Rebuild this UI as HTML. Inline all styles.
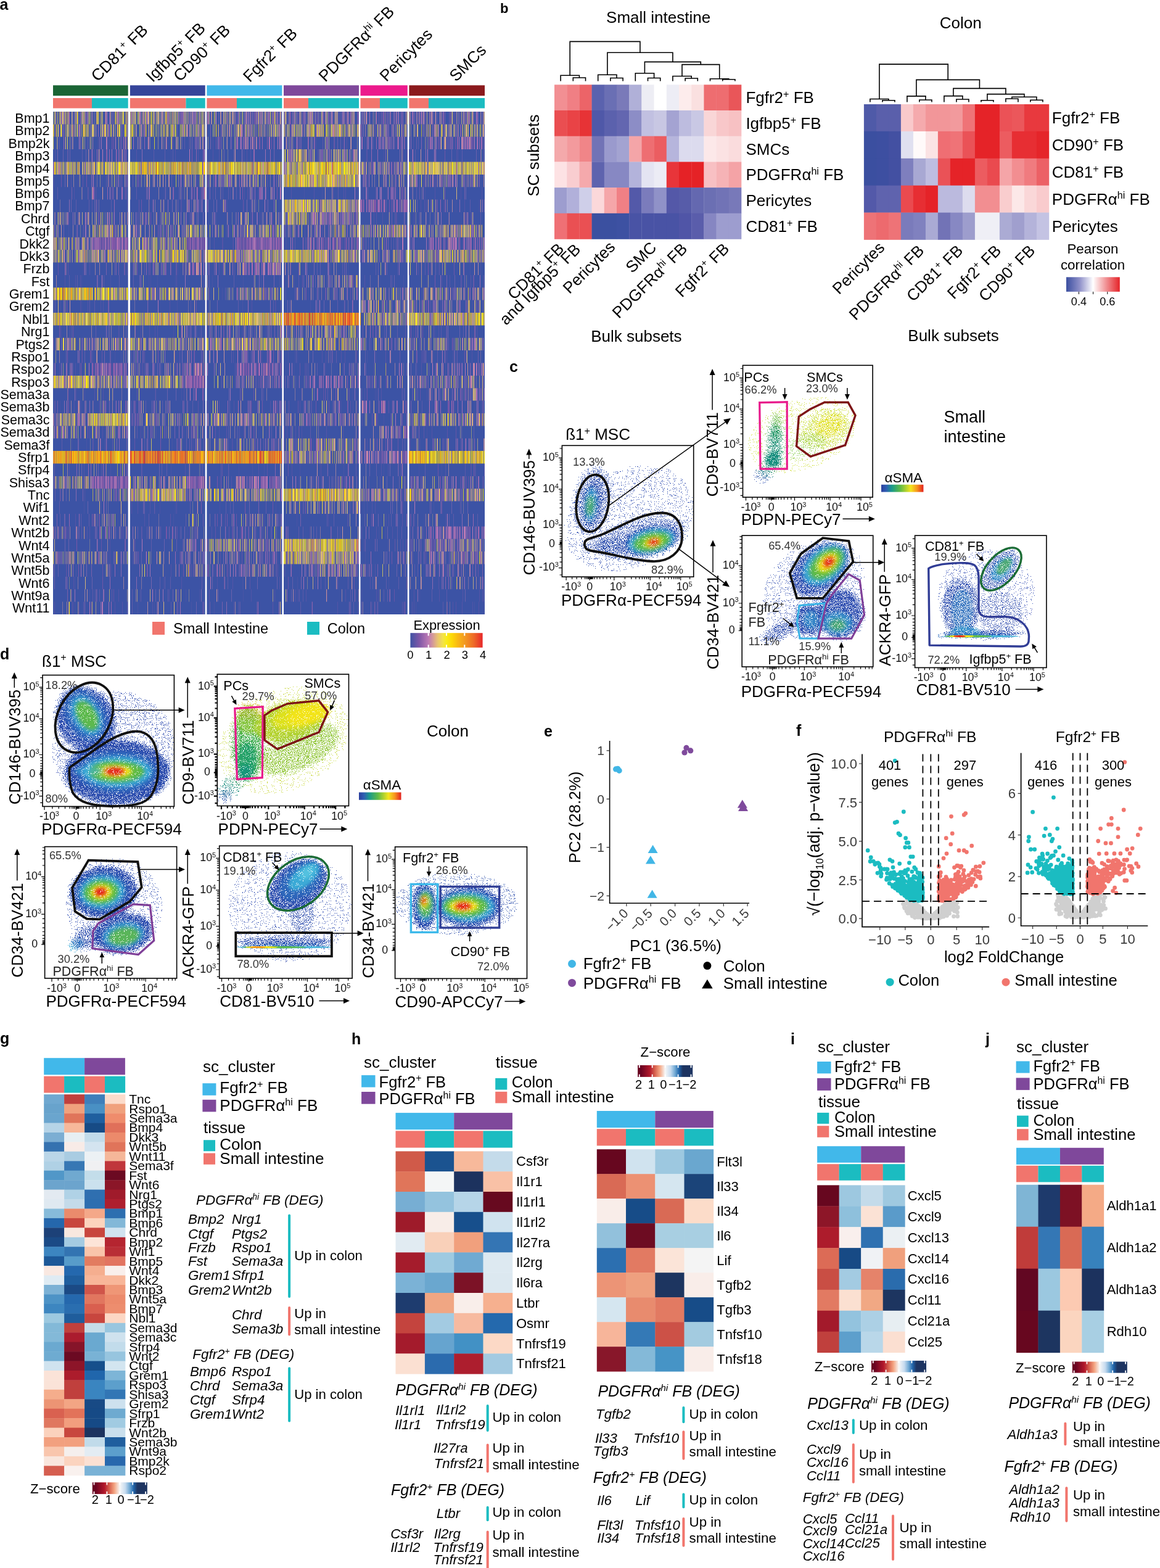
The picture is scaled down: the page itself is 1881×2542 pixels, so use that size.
<!DOCTYPE html><html><head><meta charset="utf-8"><title>Figure</title><style>html,body{margin:0;padding:0;background:#fff;overflow:hidden;width:1881px;height:2542px;}svg{display:block;}</style></head><body><svg width="1881" height="2542" viewBox="0 0 1881 2542" font-family="&apos;Liberation Sans&apos;, Arial, Helvetica, sans-serif"><rect width="1881" height="2542" fill="#fff"/><g id="panel_a"><text x="-0.5" y="15.5" font-size="25.0" font-weight="bold">a</text>
<rect x="86.0" y="138.3" width="121.7" height="16.9" fill="#1b6535"/>
<rect x="86.0" y="159.0" width="63.0" height="16.5" fill="#f1756d"/>
<rect x="149.0" y="159.0" width="58.7" height="16.5" fill="#1bbcc1"/>
<rect x="86.0" y="181.0" width="121.7" height="815.0" fill="#3c53a5"/>
<rect x="210.9" y="138.3" width="121.8" height="16.9" fill="#36459a"/>
<rect x="210.9" y="159.0" width="90.6" height="16.5" fill="#f1756d"/>
<rect x="301.5" y="159.0" width="31.2" height="16.5" fill="#1bbcc1"/>
<rect x="210.9" y="181.0" width="121.8" height="815.0" fill="#3c53a5"/>
<rect x="335.4" y="138.3" width="122.0" height="16.9" fill="#41b8ea"/>
<rect x="335.4" y="159.0" width="48.6" height="16.5" fill="#f1756d"/>
<rect x="384.0" y="159.0" width="73.4" height="16.5" fill="#1bbcc1"/>
<rect x="335.4" y="181.0" width="122.0" height="815.0" fill="#3c53a5"/>
<rect x="460.0" y="138.3" width="122.0" height="16.9" fill="#7f489b"/>
<rect x="460.0" y="159.0" width="40.0" height="16.5" fill="#f1756d"/>
<rect x="500.0" y="159.0" width="82.0" height="16.5" fill="#1bbcc1"/>
<rect x="460.0" y="181.0" width="122.0" height="815.0" fill="#3c53a5"/>
<rect x="584.5" y="138.3" width="76.3" height="16.9" fill="#ec1a8c"/>
<rect x="584.5" y="159.0" width="31.5" height="16.5" fill="#f1756d"/>
<rect x="616.0" y="159.0" width="44.8" height="16.5" fill="#1bbcc1"/>
<rect x="584.5" y="181.0" width="76.3" height="815.0" fill="#3c53a5"/>
<rect x="663.4" y="138.3" width="122.6" height="16.9" fill="#8b1a1d"/>
<rect x="663.4" y="159.0" width="31.6" height="16.5" fill="#f1756d"/>
<rect x="695.0" y="159.0" width="91.0" height="16.5" fill="#1bbcc1"/>
<rect x="663.4" y="181.0" width="122.6" height="815.0" fill="#3c53a5"/>
<path stroke="#4854a5" stroke-width="20.38" d="M243 191.2h1m212 0h1m180 0h1m89 0h2m41 0h1M131 211.6h1m15 0h1m12 0h1m86 0h1m189 0h1m41 0h1m12 0h1m4 0h1m29 0h1m49 0h1m21 0h1m7 0h1m20 0h1m9 0h1m146 0h1M185 231.9h1m19 0h1m15 0h1m83 0h1m168 0h1m37 0h1m121 0h1m29 0h1m114 0h1M207 252.3h1m69 0h1m52 0h1m31 0h1m82 0h1m53 0h1m122 0h1m66 0h1M135 272.7h1m18 0h1m442 0h1m21 0h1M165 293.1h1m60 0h1m81 0h1m12 0h2m342 0h1m33 0h1M86 313.4h1m114 0h1m34 0h1m29 0h1m26 0h1m3 0h2m143 0h1m50 0h1m28 0h1m62 0h1m24 0h1m16 0h2m60 0h1M395 333.8h1m121 0h1m86 0h1m84 0h1m13 0h1m9 0h1m25 0h1M242 354.2h1m28 0h1m296 0h1m75 0h1m28 0h1M111 374.6h1m22 0h1m8 0h1m107 0h1m105 0h1m24 0h1m57 0h1m38 0h1m44 0h1m19 0h1m199 0h1m1 0h1M96 394.9h1m280 0h1m86 0h1m28 0h1m282 0h1m1 0h1m2 0h1M126 415.3h1m290 0h1m1 0h1m89 0h1m222 0h1m7 0h1M288 435.7h1m62 0h1m58 0h1m153 0h1m145 0h1m51 0h1m16 0h1M132 456.1h1m46 0h1m61 0h1m2 0h1m10 0h1m28 0h1m59 0h1m49 0h1m28 0h1m29 0h1m200 0h1m37 0h1M321 476.4h1m38 0h1m22 0h1m79 0h1m28 0h1m7 0h1m90 0h1m36 0h1m53 0h1M87 496.8h1m9 0h1m34 0h1m107 0h1m46 0h1m105 0h1m53 0h1m55 0h1m9 0h1m137 0h1m49 0h1m12 0h1m51 0h1M587 517.2h1m109 0h1m33 0h1m26 0h1M119 537.6h1m73 0h1m87 0h1m42 0h1m106 0h2m58 0h1m58 0h1m114 0h1m4 0h1m13 0h1m20 0h1M126 557.9h1m14 0h1m96 0h1m28 0h1m9 0h1m21 0h1m13 0h1m1 0h1m232 0h1m29 0h1m35 0h1M132 578.3h1m53 0h1m9 0h1m2 0h1m59 0h1m42 0h1m121 0h1m42 0h1m10 0h1m3 0h1m50 0h1m6 0h1m54 0h1m13 0h1m106 0h1m17 0h1m5 0h1M476 598.7h1m199 0h1m45 0h1m14 0h1m26 0h1M108 619.1h1m36 0h1m36 0h1m4 0h1m60 0h1m8 0h1m225 0h1m17 0h1m162 0h1m1 0h1m3 0h1m22 0h1m77 0h1M137 639.4h1m89 0h1m23 0h1m42 0h1m12 0h1m212 0h1m8 0h1m10 0h1m31 0h1m21 0h1m13 0h1m1 0h1m40 0h1m4 0h1m35 0h1m55 0h1m12 0h1M90 659.8h1m6 0h1m154 0h1m79 0h1m2 0h1m5 0h1m62 0h1m11 0h1m89 0h1m23 0h1m80 0h1m83 0h1m4 0h1m69 0h1M260 680.2h1m10 0h1m112 0h1m32 0h1m33 0h1m23 0h1m47 0h1m33 0h1m7 0h1m39 0h1m16 0h1m42 0h1m17 0h1M240 700.6h1m12 0h1m12 0h1m31 0h1m8 0h1m97 0h1m26 0h1m142 0h1m52 0h1m3 0h1m59 0h1M116 720.9h1m23 0h1m46 0h1m49 0h1m2 0h1m38 0h1m97 0h1m71 0h2m57 0h1m144 0h1M576 741.3h1m38 0h1M179 761.7h1m97 0h1m93 0h1m15 0h1m21 0h1m18 0h1m57 0h1m43 0h1m26 0h1m64 0h1m56 0h1m36 0h1m54 0h1M133 782.1h1m78 0h1m2 0h1m139 0h1m142 0h1m34 0h1m134 0h1M153 802.4h1m23 0h1m472 0h1m99 0h1M136 822.8h1m27 0h1m86 0h1m7 0h1m24 0h1m71 0h1m41 0h1m48 0h1m122 0h1m3 0h1m15 0h1m4 0h1m70 0h1m6 0h1m29 0h1m41 0h1M281 843.2h1m93 0h1m27 0h1m3 0h1m73 0h1m81 0h1m60 0h1m1 0h1m61 0h1M254 863.6h2m35 0h1m11 0h1m17 0h1m60 0h1m6 0h1m64 0h1m159 0h1m3 0h1m6 0h1m34 0h1m7 0h1m19 0h1m50 0h1m44 0h1M381 883.9h1m4 0h1m242 0h1m39 0h1m112 0h1M109 904.3h1m110 0h1m127 0h1m195 0h1m19 0h1m27 0h1m130 0h1m36 0h2M123 924.7h1m224 0h1m71 0h1m6 0h1m17 0h1m106 0h1m15 0h1m31 0h1m22 0h1m130 0h1M121 945.1h1m143 0h1m127 0h1m88 0h1m8 0h1m138 0h1m129 0h1M145 965.4h1m155 0h1m21 0h1m70 0h1m191 0h1m70 0h1m22 0h1M121 985.8h1m36 0h1m64 0h1m26 0h1m59 0h1m36 0h1m69 0h1m185 0h1m70 0h1m94 0h1m14 0h1"/>
<path stroke="#5854a5" stroke-width="20.38" d="M587 333.8h1m46 0h1M151 394.9h1m12 0h1m15 0h1m15 0h1m4 0h1m102 0h1m13 0h1m4 0h1m1 0h1m65 0h2m3 0h2m22 0h1m7 0h1m16 0h1m103 0h1m4 0h1m11 0h1m14 0h1m121 0h1M437 435.7h1M435 578.3h1M155 598.7h1m273 0h1m25 0h1M313 619.1h1M161 782.1h1m12 0h1m2 0h1m12 0h2m1 0h1m8 0h1m99 0h1m11 0h1m4 0h1M720 863.6h1"/>
<path stroke="#5c54a5" stroke-width="20.38" d="M401 313.4h1M588 333.8h1m1 0h1m20 0h1M163 394.9h1m4 0h1m3 0h1m5 0h1m16 0h1m11 0h1m102 0h2m4 0h1m72 0h1m4 0h1m4 0h1m8 0h1m13 0h1m7 0h1m11 0h1m11 0h1m47 0h1m7 0h1m36 0h1M151 598.7h1m12 0h1m15 0h1m207 0h1m27 0h1m9 0h1M318 619.1h1m12 0h1M152 782.1h2m9 0h1m4 0h1m162 0h1m106 0h2m1 0h1"/>
<path stroke="#6054a6" stroke-width="20.38" d="M767 231.9h1M155 313.4h1M595 333.8h1m28 0h1m24 0h1M158 394.9h1m7 0h1m2 0h1m4 0h1m25 0h1m101 0h1m3 0h1m20 0h1m2 0h1m86 0h1m16 0h1m6 0h1m7 0h1m302 0h1M419 435.7h1M176 598.7h1m131 0h1m109 0h1M312 619.1h1m14 0h1M444 659.8h1m185 0h1M655 700.6h1M640 741.3h1M157 782.1h1m11 0h1m8 0h1m4 0h1m10 0h1m5 0h1m108 0h1m101 0h1M721 863.6h1"/>
<path stroke="#5054a6" stroke-width="20.38" d="M387 191.2h1m110 0h1m14 0h1m53 0h1m149 0h1M184 231.9h1m122 0h1m10 0h1m56 0h1m294 0h1m20 0h1M550 252.3h1M647 272.7h1M87 293.1h1m334 0h1M747 313.4h1m33 0h1M242 333.8h1m51 0h1m482 0h1M346 354.2h1m42 0h1m65 0h1m75 0h1m41 0h1m46 0h1m50 0h1M494 374.6h1M590 394.9h1m26 0h1M530 456.1h1m15 0h1m28 0h1M163 496.8h1M633 557.9h1M150 578.3h1m614 0h1M122 598.7h1M389 619.1h1m23 0h1m35 0h1m294 0h1m39 0h1M89 659.8h1m215 0h1m266 0h1M477 680.2h1m134 0h1M489 700.6h1m66 0h1M311 720.9h1m2 0h1m277 0h1M480 782.1h1M697 843.2h1M178 883.9h1M143 904.3h1m2 0h1m256 0h1m23 0h1m317 0h1m4 0h1M108 924.7h1m338 0h1m114 0h1m32 0h1m105 0h1M352 945.1h1M407 965.4h1M117 985.8h1m648 0h1"/>
<path stroke="#5454a6" stroke-width="20.38" d="M91 191.2h1m3 0h1m17 0h1m87 0h1m91 0h1m1 0h1m22 0h1m10 0h1m5 0h1m24 0h1m5 0h1m93 0h1m31 0h1m15 0h1m70 0h1m16 0h1m8 0h1m5 0h1m73 0h1m9 0h1m1 0h1m56 0h1m13 0h1m13 0h1M164 211.6h1m269 0h1m20 0h1m69 0h1m9 0h1m57 0h1m12 0h1m1 0h1m22 0h1m71 0h1M104 231.9h1m54 0h1m2 0h1m13 0h1m86 0h1m15 0h2m50 0h1m13 0h1m51 0h1m158 0h1m5 0h1m28 0h1m48 0h1m142 0h1M89 252.3h1m58 0h1m3 0h1m68 0h1m62 0h1m36 0h1m23 0h1m9 0h1m39 0h1m4 0h1m5 0h1m84 0h1m29 0h1m35 0h1m36 0h2m57 0h1m9 0h1m76 0h1m1 0h1M147 272.7h1M115 293.1h1m11 0h1m59 0h1m103 0h1m84 0h1m29 0h1m7 0h1m18 0h1m218 0h1m45 0h1m6 0h1m25 0h1m14 0h1m9 0h1m6 0h1M120 313.4h1m22 0h1m201 0h1m27 0h1m22 0h1m75 0h1m36 0h1m29 0h1m17 0h1m2 0h1m18 0h1m9 0h1m115 0h1M158 333.8h1m47 0h1m86 0h1m13 0h1m124 0h1m72 0h1m23 0h1m8 0h1m6 0h1m73 0h1m15 0h1m9 0h1m36 0h1m5 0h1m2 0h1m61 0h1M198 354.2h2m59 0h1m47 0h1m99 0h1m13 0h1m8 0h1m10 0h1m4 0h1m7 0h1m32 0h1m17 0h1m70 0h1m29 0h1m3 0h1m148 0h1M155 374.6h1m3 0h1m3 0h1m51 0h1m220 0h1m10 0h1m40 0h1m14 0h1m5 0h1m12 0h1m67 0h1m43 0h1m19 0h1m74 0h1m37 0h1M94 394.9h1m134 0h2m8 0h1m50 0h1m2 0h1m53 0h1m12 0h2m16 0h1m81 0h1m95 0h1m17 0h1m10 0h1m108 0h1m2 0h1m48 0h1M115 415.3h1m23 0h1m43 0h1m10 0h1m60 0h1m65 0h1m1 0h1m98 0h1m2 0h1m150 0h1m78 0h2m18 0h1m15 0h1m11 0h1m13 0h1M135 435.7h1m9 0h1m60 0h1m103 0h1m21 0h1m22 0h1m47 0h1m37 0h1m3 0h1m17 0h1m95 0h1m118 0h1M105 456.1h1m16 0h1m7 0h1m155 0h1m43 0h1m145 0h1m62 0h1m11 0h1m39 0h1m124 0h1m12 0h1m18 0h1M162 476.4h1m15 0h1m118 0h1m27 0h1m68 0h1m148 0h1m129 0h1m34 0h1m12 0h1M130 496.8h1m11 0h1m24 0h1m107 0h1m33 0h1m98 0h1m37 0h1m112 0h1m36 0h1m176 0h1M628 517.2h1m57 0h1m36 0h1M113 537.6h1m78 0h1m35 0h1m13 0h1m8 0h1m3 0h1m298 0h1m50 0h1m5 0h1m45 0h1m53 0h1m11 0h1m49 0h1M105 557.9h1m11 0h1m47 0h1m26 0h1m30 0h1m15 0h1m69 0h1m212 0h1m4 0h1m45 0h1m27 0h1m32 0h1m23 0h1m4 0h1m10 0h1m24 0h1m74 0h1M222 578.3h1m22 0h1m132 0h1m143 0h1m5 0h1m24 0h1m5 0h1m17 0h1m105 0h1m40 0h1M96 598.7h1m122 0h1m8 0h1m59 0h1m3 0h1m61 0h1m43 0h1m95 0h1m32 0h1m29 0h1m48 0h1m76 0h1m21 0h1M226 619.1h1m19 0h1m31 0h1m57 0h1m184 0h1m30 0h1m47 0h1m66 0h1m11 0h1m98 0h1M123 639.4h1m11 0h1m17 0h1m13 0h1m130 0h1m116 0h1m149 0h2m24 0h1m26 0h1m101 0h1m53 0h1M120 659.8h1m66 0h1m60 0h1m8 0h1m16 0h1m22 0h1m81 0h1m58 0h1m8 0h1m12 0h1m25 0h1m65 0h1m32 0h1m195 0h1M104 680.2h1m19 0h1m97 0h1m1 0h2m19 0h1m104 0h1m91 0h1m69 0h1m17 0h1m11 0h1m35 0h1m8 0h1m162 0h1m22 0h1M166 700.6h1m61 0h1m100 0h1m25 0h1m26 0h1m12 0h2m15 0h1m52 0h1m7 0h1m5 0h1m5 0h1m43 0h1m138 0h1m31 0h1M151 720.9h1m18 0h1m2 0h1m37 0h1m75 0h1m2 0h1m58 0h1m1 0h1m24 0h1m9 0h1m14 0h1m11 0h2m4 0h1m66 0h1m2 0h1m12 0h1m2 0h1m19 0h1m29 0h1m39 0h1m24 0h1m11 0h1m69 0h1M480 741.3h1m23 0h1m3 0h1m35 0h1m2 0h1m16 0h1m1 0h1m20 0h1m21 0h1m38 0h1M112 761.7h1m23 0h1m66 0h1m2 0h1m23 0h1m69 0h1m118 0h1m36 0h1m16 0h1m46 0h1m97 0h1m10 0h1m92 0h1m40 0h2M110 782.1h1m33 0h1m86 0h1m25 0h1m83 0h1m33 0h1m22 0h1m3 0h1m47 0h1m98 0h1m20 0h1m27 0h1m17 0h1m42 0h1m53 0h1m15 0h1m8 0h1m1 0h1m5 0h2M98 802.4h1m38 0h1m13 0h1m23 0h1m3 0h1m1 0h1m5 0h1m8 0h1m89 0h1m18 0h1m9 0h1m28 0h1m25 0h1m17 0h1m14 0h1m191 0h1m45 0h1m25 0h1m13 0h1m19 0h1m12 0h1m16 0h1m21 0h1M195 822.8h1m17 0h1m9 0h1m19 0h1m42 0h1m193 0h1m1 0h1m7 0h1m28 0h1m9 0h1m28 0h1m44 0h1m4 0h1M122 843.2h1m111 0h1m114 0h1m77 0h1m104 0h1m97 0h1m92 0h1M89 863.6h1m51 0h1m3 0h1m7 0h1m24 0h1m13 0h1m37 0h1m55 0h2m19 0h1m6 0h1m28 0h1m22 0h1m9 0h1m25 0h1m24 0h1m35 0h1m38 0h1m48 0h1m34 0h1m23 0h1m25 0h1m140 0h1M306 883.9h1m11 0h1m13 0h1m5 0h1m46 0h1m9 0h1m39 0h1m154 0h1m58 0h1m3 0h1m4 0h1m45 0h1m72 0h1M131 904.3h1m33 0h1m12 0h1m19 0h1m20 0h1m16 0h1m16 0h1m73 0h1m141 0h1m60 0h1m35 0h1m7 0h2m93 0h1m10 0h1m7 0h1m19 0h1M107 924.7h1m169 0h1m28 0h1m7 0h1m15 0h1m7 0h1m31 0h1m15 0h1m52 0h1m153 0h1m14 0h1m46 0h1m59 0h1m54 0h1M119 945.1h1m174 0h1m82 0h1m75 0h1m57 0h1m88 0h1m110 0h1M157 965.4h1m34 0h1m81 0h1m15 0h1m48 0h1m105 0h1m33 0h1m3 0h1m12 0h1m33 0h1m29 0h1m49 0h1m2 0h1m57 0h1m40 0h1m37 0h1m26 0h1m4 0h1M88 985.8h1m29 0h1m9 0h1m57 0h1m11 0h1m48 0h1m41 0h1m38 0h2m49 0h1m125 0h1m41 0h1m32 0h1m28 0h1m42 0h1m1 0h1m13 0h1m2 0h1m62 0h1m4 0h1m9 0h1m26 0h1"/>
<path stroke="#5b55a6" stroke-width="20.38" d="M412 191.2h1m1 0h1m22 0h1m80 0h1m41 0h1m20 0h1m95 0h1m12 0h1m11 0h1m43 0h1M195 231.9h1m3 0h1m67 0h1m47 0h1m16 0h1m24 0h1m122 0h1M515 252.3h1M407 293.1h1M335 333.8h1m31 0h1M111 354.2h1m127 0h1m92 0h1m180 0h1m56 0h1m9 0h1m172 0h1M279 374.6h1m202 0h1M110 435.7h1M533 456.1h1m37 0h1M775 496.8h1M98 537.6h1m295 0h1m56 0h1M147 578.3h1m143 0h1m11 0h1m274 0h1m46 0h1m40 0h1m18 0h1m1 0h1M272 598.7h1M418 619.1h1m1 0h1m2 0h1m203 0h1m45 0h1M757 639.4h1M321 659.8h1m26 0h1m6 0h1m212 0h1m10 0h1M367 700.6h1m319 0h1m37 0h1M680 720.9h1M433 761.7h1M306 802.4h1M319 822.8h1M276 843.2h1m176 0h1m198 0h1M106 863.6h1m76 0h1m16 0h1m117 0h1M701 883.9h1M291 904.3h1m65 0h1m290 0h1m1 0h1m84 0h1m29 0h1m3 0h1m12 0h1M310 924.7h1m96 0h1m2 0h1m22 0h1m16 0h1m63 0h1m230 0h1M405 945.1h1M442 985.8h1"/>
<path stroke="#5e55a6" stroke-width="20.38" d="M172 191.2h1m19 0h1m131 0h1m56 0h1M407 211.6h1m282 0h1m27 0h1M126 272.7h1m271 0h1m294 0h1M227 293.1h1m32 0h1m38 0h1m48 0h1m228 0h1M176 374.6h1m210 0h1m222 0h1m7 0h1m62 0h1M267 394.9h1m11 0h1M173 415.3h1m259 0h1m274 0h1M732 476.4h1m18 0h1M612 496.8h1M623 517.2h1M519 537.6h1M150 557.9h1m25 0h1m44 0h1m57 0h1m124 0h1m123 0h1m22 0h1m169 0h1m35 0h1M157 619.1h1m73 0h1m64 0h1M256 680.2h1m35 0h1m27 0h1m44 0h1m314 0h1m39 0h1M467 741.3h1m42 0h1m2 0h1M242 782.1h1M245 802.4h1m106 0h1m86 0h1m256 0h1m28 0h1m29 0h1M355 883.9h1m32 0h1m3 0h1m1 0h1m28 0h1M501 904.3h1"/>
<path stroke="#6555a6" stroke-width="20.38" d="M440 191.2h1m27 0h1m14 0h1m30 0h1m47 0h1m6 0h1m1 0h1m45 0h1m118 0h1m2 0h1M183 231.9h1m171 0h2M535 252.3h1m124 0h1M602 272.7h1m34 0h1M134 293.1h1m41 0h1m20 0h1m439 0h1m69 0h1M225 333.8h1m135 0h1m32 0h1m313 0h1m11 0h1M162 354.2h1m72 0h1m280 0h1M644 394.9h1M94 435.7h1m146 0h1m1 0h1m24 0h1m17 0h1M460 456.1h1m29 0h1M339 476.4h1m140 0h1m87 0h1m2 0h1M318 496.8h1m301 0h1m68 0h1m54 0h1m11 0h1M118 537.6h1m222 0h1m70 0h1m191 0h1m80 0h1M133 578.3h1m31 0h1m65 0h1m2 0h1M231 598.7h1m53 0h1m200 0h1m139 0h1M404 619.1h1m47 0h1m145 0h1m52 0h1m117 0h1M391 639.4h1m19 0h1m112 0h1m70 0h1m85 0h1M110 659.8h2m82 0h1m273 0h1m14 0h1M533 680.2h1m21 0h1m47 0h1M184 700.6h1m164 0h1m61 0h1m327 0h1M218 720.9h1m69 0h1m154 0h1m181 0h1m19 0h1M360 761.7h1m106 0h1M554 782.1h2m126 0h1m68 0h1m7 0h1m12 0h1M178 843.2h1m186 0h1m17 0h1m15 0h1m1 0h1m6 0h1m27 0h1m165 0h1m62 0h1M103 863.6h1m33 0h1m23 0h1m8 0h1m178 0h1m21 0h1m49 0h1M164 883.9h1m140 0h1m334 0h1m56 0h1m18 0h1m7 0h1m1 0h1m11 0h1m8 0h1M142 904.3h1m2 0h1m242 0h1m3 0h1m263 0h1m33 0h1m6 0h1m74 0h1m5 0h1M166 924.7h1m12 0h1m141 0h1m35 0h1m47 0h1m97 0h1m47 0h1m223 0h1M467 945.1h1m106 0h1M184 965.4h1m446 0h1m7 0h1M725 985.8h1"/>
<path stroke="#6856a6" stroke-width="20.38" d="M170 191.2h1m33 0h1m68 0h1m31 0h1m62 0h1M369 211.6h1m50 0h1m49 0h1m93 0h1m55 0h1M155 272.7h1m304 0h1M329 293.1h1m50 0h1m306 0h1M518 333.8h1m28 0h1M306 374.6h1m137 0h1m61 0h1m93 0h1m31 0h1m131 0h1M87 394.9h1m14 0h1m12 0h1m147 0h1m5 0h1M155 415.3h1m221 0h1m163 0h1M385 476.4h1m43 0h1m4 0h1m228 0h1m94 0h1m2 0h1m6 0h1M605 496.8h1M233 517.2h1m425 0h1M513 537.6h1M86 557.9h1m272 0h1m148 0h1M101 680.2h1m74 0h1m75 0h1m53 0h1m49 0h1m17 0h1m66 0h1m338 0h1M557 741.3h1M121 782.1h1m123 0h1M168 802.4h1m42 0h1m398 0h1m29 0h1m14 0h1m30 0h1m2 0h1m17 0h1m1 0h1M402 883.9h1m21 0h1M464 904.3h1m10 0h1"/>
<path stroke="#6f56a6" stroke-width="20.38" d="M625 191.2h1m15 0h1M181 231.9h1m168 0h1m112 0h1m20 0h1m57 0h1M721 252.3h1M635 272.7h1M99 293.1h1m523 0h1m24 0h1M229 333.8h1m32 0h1M160 354.2h1m17 0h1m65 0h1m320 0h1m76 0h1M256 374.6h1m13 0h1M589 394.9h1M106 435.7h1m95 0h1m95 0h1m437 0h1M768 456.1h1M557 476.4h1M175 496.8h1m456 0h1m58 0h1M362 537.6h1m406 0h1M146 578.3h1m181 0h1m424 0h1M296 598.7h1M615 619.1h1m10 0h1M527 639.4h1M166 659.8h1m345 0h1m20 0h1M581 680.2h1m28 0h1m41 0h1M142 700.6h1m15 0h1M433 720.9h1m196 0h1M205 761.7h1m504 0h1M560 782.1h1m108 0h1M397 822.8h1m44 0h1m209 0h1m63 0h1M149 843.2h1m1 0h1m9 0h1m190 0h1m15 0h1m54 0h1M110 863.6h1m86 0h1m72 0h1m106 0h1m14 0h1M202 883.9h1m15 0h1m483 0h1m18 0h1M159 904.3h1m64 0h1m206 0h1m203 0h1M297 924.7h1m39 0h1m246 0h1M166 945.1h1"/>
<path stroke="#7256a7" stroke-width="20.38" d="M188 191.2h1m108 0h1M394 211.6h1m27 0h1M629 231.9h1m108 0h1m42 0h1M328 272.7h1m397 0h1M181 313.4h1m21 0h1m217 0h1m211 0h1M617 333.8h1m34 0h1m5 0h1M611 374.6h1M156 394.9h1m4 0h1m15 0h1m8 0h1m1 0h1m125 0h1m2 0h1m4 0h1m5 0h1m69 0h1m2 0h1m1 0h1m27 0h1m14 0h1m6 0h1m70 0h2m36 0h1m137 0h1m29 0h1m14 0h1m16 0h1M195 415.3h1m508 0h1M304 435.7h1m8 0h1m3 0h1m78 0h1M410 476.4h1M614 496.8h1M609 517.2h1M204 557.9h1M443 578.3h1M161 598.7h1m23 0h1m6 0h1m4 0h1m9 0h1m107 0h1m2 0h1m4 0h1m61 0h1m7 0h1m5 0h1m5 0h1m28 0h1m21 0h1M305 619.1h1m15 0h2m9 0h1m184 0h1m15 0h1m47 0h1M328 639.4h1M425 659.8h1m22 0h1m208 0h1m1 0h1m67 0h1m5 0h1M146 680.2h1m73 0h1M646 700.6h1M471 720.9h1m40 0h1m62 0h1M584 741.3h1m32 0h1m2 0h1m31 0h1m5 0h1M165 782.1h1m35 0h1m2 0h1m2 0h1m97 0h1m12 0h1m1 0h2m2 0h1m61 0h1m42 0h1m10 0h1M188 802.4h1m462 0h1m108 0h1m8 0h1M712 863.6h1m20 0h1m6 0h1m5 0h1m12 0h2M357 883.9h1m87 0h1M570 904.3h1"/>
<path stroke="#7957a7" stroke-width="20.38" d="M413 191.2h1m56 0h2m142 0h1m6 0h1m99 0h1m8 0h1m29 0h1m12 0h1M211 231.9h1m196 0h1m11 0h1m19 0h1m69 0h1m199 0h1m1 0h1m50 0h1m2 0h1M172 252.3h1M140 293.1h1m65 0h1m508 0h1M280 313.4h1m39 0h1m5 0h1m66 0h1m28 0h1m26 0h1m201 0h2m68 0h1M597 333.8h1m9 0h1m4 0h1m18 0h1m28 0h1M510 354.2h1m22 0h1m12 0h1m2 0h1m24 0h1m180 0h1M153 394.9h1m19 0h1m13 0h1m5 0h1m109 0h1m16 0h1m8 0h1m1 0h1m56 0h1m4 0h1m8 0h1m1 0h1m1 0h1m3 0h1m4 0h2m2 0h1m7 0h1m8 0h1m2 0h1m11 0h1m52 0h1m26 0h1m1 0h1m5 0h1m1 0h2m18 0h1m17 0h1m43 0h1m77 0h1m13 0h1m20 0h1m7 0h1M222 435.7h1m27 0h1m163 0h1m35 0h1m33 0h1m209 0h1M572 456.1h1m132 0h1M496 476.4h1m31 0h1M108 496.8h1m576 0h1M96 537.6h1m276 0h1m292 0h1m7 0h1M109 578.3h1m146 0h1m26 0h1m31 0h1m121 0h1m237 0h1M131 598.7h1m42 0h2m3 0h1m10 0h1m123 0h1m82 0h1m4 0h1m16 0h1m1 0h1m15 0h1m1 0h1m1 0h1m305 0h1M317 619.1h1m12 0h1m114 0h1m56 0h1m19 0h1M110 639.4h1m404 0h1m28 0h1m152 0h1m38 0h1m9 0h1M203 659.8h1m15 0h1m343 0h1m55 0h1m86 0h1m3 0h1m15 0h1m1 0h1M94 700.6h1m2 0h1m214 0h1m5 0h1m321 0h1M260 720.9h1m350 0h1m52 0h1m26 0h1M593 741.3h1M171 761.7h1m596 0h1M156 782.1h1m27 0h1m14 0h1m111 0h2m9 0h1m5 0h1m23 0h1m5 0h1m35 0h1m28 0h1m143 0h1m146 0h1m40 0h1M326 822.8h1M378 843.2h1m38 0h1M269 863.6h1m10 0h1m110 0h1m370 0h1M124 883.9h1m573 0h1m13 0h1m50 0h1M443 904.3h1m307 0h2M127 924.7h1m110 0h1m112 0h1m4 0h1m11 0h1m52 0h1m104 0h1M148 985.8h1m507 0h1"/>
<path stroke="#8057a7" stroke-width="20.38" d="M111 191.2h1m119 0h1M421 231.9h1m11 0h1m261 0h1m27 0h1m18 0h1m14 0h1M204 252.3h1m106 0h1m17 0h1M223 293.1h1m113 0h1M312 313.4h1M521 333.8h1m62 0h1m21 0h1m1 0h2m12 0h1m19 0h1M184 374.6h1m10 0h1m577 0h1M140 394.9h1m19 0h1m4 0h1m16 0h4m13 0h1m5 0h1m99 0h1m1 0h1m1 0h1m3 0h1m10 0h1m7 0h1m51 0h1m1 0h2m19 0h1m10 0h1m14 0h1m13 0h1m2 0h1m4 0h1m49 0h1m7 0h1m30 0h1m7 0h1m6 0h1m12 0h1m152 0h1M396 415.3h1m140 0h1m106 0h1m62 0h1M544 537.6h1M357 557.9h1m55 0h1m149 0h1m169 0h1M436 578.3h1M150 598.7h1m5 0h1m26 0h1m14 0h1m4 0h1m123 0h1m67 0h1m4 0h1m12 0h1m16 0h1m20 0h1m332 0h1M304 619.1h1m2 0h1m3 0h1m4 0h1m3 0h1m3 0h1m1 0h1m236 0h1M407 659.8h1m212 0h1M694 680.2h1M659 700.6h1M504 720.9h1M572 741.3h1m70 0h1m10 0h2M155 782.1h1m10 0h1m15 0h1m77 0h1m69 0h1m56 0h1M643 802.4h1M495 822.8h1M698 863.6h1m44 0h1M433 883.9h1"/>
<path stroke="#5a59a8" stroke-width="20.38" d="M385 191.2h1m4 0h1m16 0h1m38 0h1m65 0h1m37 0h1m10 0h1m152 0h1m60 0h1M249 252.3h1m277 0h1M172 293.1h1m235 0h1m36 0h1m274 0h1m54 0h1M358 313.4h1m2 0h1m178 0h1M149 333.8h1M126 354.2h1m28 0h1m404 0h1m69 0h1M261 374.6h1m221 0h1M634 394.9h1M234 435.7h1m113 0h1m31 0h1m264 0h1M484 456.1h1m95 0h1m182 0h1M461 476.4h1m65 0h1m106 0h1M626 496.8h1M623 537.6h1m91 0h1M618 557.9h2M314 578.3h1M118 598.7h1m163 0h1m98 0h1M629 619.1h1M706 639.4h1m35 0h1m33 0h1M88 659.8h1m81 0h1m42 0h1m470 0h1M499 680.2h1m51 0h1M145 700.6h1m15 0h1m11 0h1m58 0h1m63 0h1m91 0h1m83 0h1M182 720.9h1m185 0h1m1 0h1m281 0h1M164 761.7h1m589 0h1M382 782.1h1m102 0h1m61 0h1m137 0h1m17 0h1M327 802.4h1M373 822.8h1m175 0h1m34 0h1M448 843.2h1M439 863.6h2M668 883.9h1m20 0h1m47 0h1M730 904.3h1M265 924.7h1m265 0h1m34 0h1m12 0h1m92 0h1m4 0h1M527 945.1h1m224 0h1m24 0h1M491 965.4h1m232 0h1M255 985.8h1m462 0h1"/>
<path stroke="#5e5ba8" stroke-width="20.38" d="M109 191.2h1m18 0h1m386 0h1m36 0h1m36 0h1m139 0h1m4 0h1m18 0h1m26 0h1M104 211.6h2m13 0h1m10 0h1m14 0h1m97 0h1m28 0h1m51 0h1m23 0h1m10 0h1m18 0h1m26 0h1m3 0h1m144 0h1m55 0h1m28 0h1m8 0h1m10 0h1m69 0h1M96 231.9h1m18 0h1m30 0h1m92 0h1m47 0h1m11 0h1m223 0h1m17 0h1m114 0h1m21 0h1m55 0h1m47 0h1M109 252.3h2m22 0h1m27 0h1m27 0h1m77 0h1m12 0h1m99 0h1m86 0h1m6 0h1m48 0h1m144 0h1m4 0h1m75 0h1m34 0h1M100 272.7h1m23 0h1m487 0h1m47 0h1M178 293.1h1m16 0h1m19 0h1m8 0h1m53 0h1m90 0h1m218 0h1m46 0h1m44 0h1m8 0h1m2 0h1m32 0h1m25 0h1M93 313.4h1m48 0h1m62 0h1m15 0h1m68 0h1m79 0h1m12 0h1m26 0h1m137 0h1m47 0h1m12 0h1m24 0h1m5 0h1m22 0h1m4 0h1m6 0h1M123 333.8h1m20 0h1m10 0h1m24 0h1m123 0h1m5 0h1m96 0h1m167 0h1m3 0h1m41 0h1m4 0h1m9 0h1m39 0h1m32 0h1m52 0h1M140 354.2h1m18 0h1m24 0h1m22 0h1m14 0h1m1 0h1m50 0h1m33 0h1m25 0h1m33 0h1m13 0h1m40 0h1m8 0h1m206 0h1m15 0h1m70 0h1m39 0h1m11 0h1M124 374.6h1m10 0h1m84 0h1m1 0h1m18 0h1m75 0h1m1 0h1m32 0h1m15 0h1m20 0h1m27 0h1m3 0h1m41 0h1m68 0h1m14 0h1m13 0h1m16 0h1m63 0h1m51 0h1m37 0h1M136 394.9h1m341 0h1m16 0h1m24 0h1m17 0h1m30 0h1m27 0h1m40 0h1m9 0h1m18 0h1M87 415.3h1m10 0h1m3 0h1m2 0h1m76 0h1m36 0h1m5 0h1m26 0h1m77 0h1m92 0h1m109 0h1m19 0h1m4 0h1m7 0h1m19 0h1m28 0h1m61 0h1m23 0h1m78 0h1M262 435.7h1m14 0h1m7 0h1m38 0h1m22 0h1m104 0h1m61 0h1m19 0h1m20 0h1m2 0h1m50 0h1m17 0h1m61 0h1m8 0h1m13 0h1m10 0h1M112 456.1h1m12 0h1m42 0h1m24 0h1m22 0h1m122 0h1m39 0h1m31 0h1m130 0h1m90 0h1m1 0h1m111 0h1m19 0h1m16 0h1M199 476.4h1m4 0h1m18 0h1m18 0h1m39 0h1m82 0h1m34 0h1m24 0h1m2 0h1m49 0h1m174 0h1m33 0h1m3 0h1m10 0h1m17 0h1m19 0h1m32 0h1M89 496.8h1m55 0h1m7 0h1m181 0h1m50 0h1m56 0h1m103 0h1m98 0h1m51 0h1m4 0h1m17 0h1M715 517.2h1M116 537.6h1m38 0h1m19 0h1m28 0h1m121 0h1m27 0h1m8 0h1m105 0h1m45 0h1m23 0h1m16 0h1m31 0h1m5 0h1m49 0h1m58 0h1m47 0h1M100 557.9h1m11 0h1m18 0h1m16 0h1m7 0h1m42 0h1m64 0h1m16 0h1m18 0h1m5 0h1m31 0h1m4 0h1m39 0h1m2 0h1m15 0h1m33 0h1m6 0h1m39 0h1m12 0h1m42 0h1m37 0h1m35 0h1m11 0h1m82 0h1m8 0h1m46 0h1M148 578.3h1m30 0h1m33 0h1m161 0h1m31 0h1m72 0h1m64 0h1m46 0h1m55 0h1m39 0h1m20 0h1m31 0h1M129 598.7h1m165 0h1m9 0h1m90 0h1m18 0h1m29 0h2m49 0h1m2 0h1m14 0h1m78 0h1m69 0h1m64 0h1m48 0h1M161 619.1h2m27 0h1m24 0h1m9 0h1m133 0h1m22 0h1m1 0h1m9 0h1m5 0h1m10 0h1m12 0h1m49 0h1m4 0h1m20 0h1m7 0h1m75 0h1m17 0h1M157 639.4h1m25 0h1m38 0h1m29 0h1m50 0h1m122 0h1m104 0h1m54 0h1m65 0h1m2 0h1m19 0h1m1 0h1m17 0h1m5 0h1M130 659.8h1m7 0h1m12 0h1m9 0h1m7 0h1m57 0h1m8 0h1m26 0h1m4 0h1m43 0h1m137 0h1M131 680.2h1m12 0h1m74 0h1m7 0h1m22 0h1m51 0h1m28 0h2m30 0h1m75 0h1m7 0h1m83 0h1m149 0h1m15 0h1m35 0h1M98 700.6h1m123 0h1m79 0h1m67 0h1m36 0h1m29 0h1m2 0h1m30 0h1m12 0h1m18 0h1m119 0h1m144 0h1M100 720.9h1m49 0h1m83 0h1m75 0h1m19 0h1m81 0h1m14 0h1m17 0h1m8 0h1m24 0h2m22 0h1m15 0h1m4 0h1m6 0h1m74 0h1m49 0h1m64 0h1m20 0h1m4 0h1m6 0h1M462 741.3h1m20 0h1m66 0h1m1 0h1M88 761.7h1m140 0h1m32 0h1m7 0h1m35 0h1m18 0h1m2 0h1m29 0h1m11 0h1m206 0h1m68 0h1m42 0h1m80 0h1m14 0h1M88 782.1h1m35 0h1m21 0h1m96 0h1m18 0h1m32 0h1m126 0h1m84 0h1m3 0h1m9 0h1m19 0h1m16 0h1m88 0h1m19 0h1m81 0h1M89 802.4h1m128 0h1m35 0h1m5 0h1m28 0h1m31 0h1m79 0h1m186 0h1m37 0h1m61 0h1M96 822.8h1m135 0h1m1 0h1m15 0h1m57 0h1m57 0h1m64 0h1m267 0h1m14 0h1M97 843.2h1m33 0h1m12 0h1m15 0h1m9 0h1m13 0h1m56 0h1m59 0h1m104 0h1m123 0h1m10 0h1m22 0h1m26 0h1m12 0h1m29 0h1m31 0h1m3 0h2m56 0h1m6 0h1m38 0h1M128 863.6h1m3 0h1m24 0h1m65 0h1m5 0h1m8 0h1m5 0h1m222 0h1m16 0h1m6 0h1m21 0h1m23 0h1m43 0h1m62 0h1m6 0h1m13 0h1m10 0h1m48 0h1m29 0h1m5 0h1M158 883.9h1m86 0h1m50 0h1m16 0h1m374 0h1M174 904.3h1m9 0h1m37 0h1m131 0h1m67 0h1m16 0h1m87 0h1m116 0h1m99 0h1m28 0h1m9 0h1M86 924.7h1m216 0h1m9 0h1m15 0h1m51 0h1m19 0h1m38 0h1m2 0h1m4 0h1m12 0h1m54 0h1m28 0h1m51 0h1m27 0h1m97 0h1M259 945.1h1m7 0h1m8 0h1m50 0h1m35 0h1m5 0h1m150 0h1m26 0h1m16 0h1m39 0h1m21 0h1m19 0h1m12 0h1m123 0h1M150 965.4h1m3 0h1m6 0h1m19 0h1m32 0h1m13 0h1m43 0h1m199 0h1m3 0h1m8 0h1m82 0h1m53 0h1m77 0h1m83 0h1M135 985.8h1m70 0h1m7 0h1m62 0h1m109 0h1m1 0h1m26 0h1m70 0h1m85 0h1"/>
<path stroke="#685da9" stroke-width="20.38" d="M416 191.2h1m76 0h1m60 0h1m72 0h2m76 0h1m2 0h1m3 0h1M142 231.9h1m216 0h1m112 0h1m202 0h1M547 252.3h1m18 0h1M617 272.7h1m30 0h1M424 293.1h1m217 0h1m12 0h1m4 0h1m113 0h1M680 313.4h1M785 333.8h1M109 354.2h1m142 0h1m19 0h1m228 0h1m133 0h1M565 456.1h1M562 476.4h1m58 0h1M572 496.8h1m62 0h1m59 0h1m31 0h1m13 0h1m34 0h1M306 537.6h1m170 0h1M535 578.3h1m239 0h1M87 598.7h1m138 0h1m20 0h1M409 619.1h1m5 0h1m6 0h1m5 0h1m7 0h2m24 0h1m250 0h1m67 0h1M389 639.4h1m279 0h1m43 0h1M204 659.8h1m299 0h1M485 680.2h1m67 0h1M239 720.9h1m67 0h1m16 0h2m6 0h1m285 0h1M534 782.1h1m15 0h1M97 802.4h1M567 822.8h1M105 843.2h1m223 0h1m18 0h1M94 863.6h1m12 0h1m18 0h1m133 0h1m420 0h1M592 883.9h1m74 0h1m75 0h1m10 0h1M216 904.3h1m78 0h1m127 0h1m20 0h1m220 0h1m87 0h1M345 924.7h1m162 0h1m83 0h1M732 945.1h1M340 985.8h1"/>
<path stroke="#6d5eaa" stroke-width="20.38" d="M99 191.2h1m95 0h1m1 0h1m90 0h1M172 211.6h1m62 0h1m336 0h1m44 0h1m35 0h2m30 0h1m21 0h1m3 0h1m8 0h1m16 0h1m27 0h1m6 0h1M465 252.3h1m5 0h1M86 272.7h1m31 0h1M355 293.1h1m15 0h1m178 0h1m116 0h1M477 354.2h1M391 374.6h1m45 0h1m95 0h1m51 0h1m104 0h1m19 0h1m24 0h1M185 415.3h1m6 0h1m116 0h1m83 0h1m190 0h1m40 0h1m83 0h1M91 476.4h1m149 0h1m5 0h1m7 0h1m193 0h1m284 0h1M724 517.2h1M534 537.6h1m24 0h1m18 0h1M90 557.9h1m97 0h1m1 0h1m78 0h1m61 0h1m116 0h1m109 0h1m223 0h1M105 619.1h1m28 0h1m50 0h1m55 0h1m7 0h1m47 0h1m2 0h1M110 680.2h1m6 0h1m4 0h1m15 0h1m74 0h1m28 0h1m80 0h1m44 0h1m3 0h1m15 0h1m4 0h1m1 0h1m372 0h1M576 720.9h1M516 741.3h1m32 0h1m182 0h1M142 782.1h1m86 0h1M193 802.4h1m107 0h1m54 0h1m77 0h1m262 0h1m19 0h1m2 0h1m24 0h1m3 0h1M344 883.9h1m37 0h1M543 904.3h1"/>
<path stroke="#7760aa" stroke-width="20.38" d="M431 191.2h1m32 0h1m67 0h1m23 0h1m8 0h1m104 0h1m27 0h1m20 0h1M202 231.9h1m1 0h1m281 0h1m1 0h1M534 252.3h1m7 0h1m82 0h1M643 272.7h2M148 293.1h1m280 0h1m18 0h1m142 0h1m49 0h1m75 0h1M116 313.4h1m223 0h1m412 0h1M336 333.8h1M237 354.2h1m28 0h1m125 0h1m137 0h1m3 0h1m42 0h1m186 0h1M125 374.6h1m143 0h1M629 394.9h1M172 435.7h1m15 0h1m3 0h1m76 0h1m67 0h1m133 0h1M157 456.1h1m286 0h1m91 0h1m29 0h1m157 0h1M372 537.6h1m66 0h1m5 0h1M616 557.9h1m18 0h1m35 0h1m9 0h1M169 578.3h1m33 0h1m486 0h1M214 598.7h1m2 0h1m17 0h1m4 0h1m9 0h1m7 0h1m316 0h1M383 619.1h1m47 0h1m12 0h1m50 0h1m108 0h1m102 0h2m30 0h1M749 639.4h1m4 0h2m6 0h1m18 0h1M93 659.8h1m43 0h1m158 0h1m243 0h1m125 0h1M515 680.2h1m48 0h1m9 0h1M130 700.6h1m23 0h1m38 0h1m12 0h1m39 0h1m20 0h1m15 0h1m395 0h1M322 720.9h1m312 0h1m67 0h1m14 0h1m6 0h1M561 782.1h1m205 0h1m15 0h1M134 802.4h1M419 822.8h1m153 0h1M92 843.2h1m266 0h1m60 0h1m66 0h1M95 863.6h1m81 0h1m138 0h1m80 0h1m5 0h1m10 0h1m121 0h1M203 883.9h1m98 0h1m13 0h1m291 0h1m56 0h1m16 0h1m34 0h1m34 0h1m3 0h1m9 0h1M110 904.3h1m3 0h1m186 0h1m100 0h1m17 0h1m35 0h1m225 0h1m73 0h1m11 0h1M148 924.7h1m243 0h1m146 0h1m38 0h1m33 0h1m120 0h1m1 0h1m12 0h1m17 0h1m15 0h1M488 945.1h1m227 0h1M109 965.4h1m178 0h1M137 985.8h1m149 0h1m72 0h1m205 0h1m1 0h1m32 0h1m5 0h1m4 0h1"/>
<path stroke="#7c61ab" stroke-width="20.38" d="M141 191.2h1m41 0h1m192 0h1M128 211.6h1m13 0h1m62 0h1m22 0h1m144 0h1m30 0h1m23 0h1m317 0h2M197 272.7h1m273 0h1m215 0h1M298 293.1h1m63 0h1m206 0h1m94 0h1m10 0h1M577 333.8h1M204 374.6h1m189 0h1m16 0h1m31 0h1m211 0h1m84 0h1m20 0h1M132 394.9h1m87 0h1m16 0h1m46 0h1M112 415.3h1m109 0h1m166 0h1m34 0h1m196 0h1m1 0h1m25 0h1m98 0h1M216 476.4h1m54 0h1m32 0h1m127 0h1m153 0h1M274 517.2h1m16 0h1M158 557.9h1m89 0h1m21 0h1m119 0h1m29 0h1m48 0h1m70 0h1m21 0h1M92 619.1h1m118 0h1M87 680.2h1m19 0h1m18 0h1m88 0h1m7 0h1m43 0h1m47 0h1m20 0h1M503 741.3h1M237 782.1h1m28 0h1M186 802.4h1m5 0h1m34 0h1m40 0h1m186 0h1m219 0h1m34 0h1m45 0h1m8 0h1m15 0h1M486 822.8h1M412 883.9h1m5 0h1m7 0h1M474 904.3h1m30 0h1m43 0h1m11 0h1m14 0h1"/>
<path stroke="#8663ac" stroke-width="20.38" d="M423 191.2h1m19 0h2m79 0h1m8 0h1m24 0h1m91 0h1M270 231.9h1m112 0h1m116 0h1m182 0h1M504 252.3h1m68 0h1M601 272.7h1m37 0h1M777 293.1h1M444 333.8h1M89 354.2h1m6 0h1m135 0h1m207 0h1m81 0h1m1 0h1m27 0h1M88 374.6h1m372 0h1M237 435.7h1m387 0h1M228 456.1h1m239 0h1M514 476.4h1m27 0h1m3 0h1m32 0h1M647 496.8h1m20 0h1m25 0h1M309 537.6h1m25 0h1m119 0h1m153 0h1m160 0h1M630 557.9h1M128 578.3h1m409 0h1M107 598.7h1m6 0h1m108 0h1M453 619.1h1m43 0h1m98 0h1m83 0h1m10 0h1m48 0h1M779 639.4h1m5 0h1M126 659.8h1m101 0h1M491 680.2h1m45 0h1m5 0h1m65 0h1m24 0h1M191 700.6h1m7 0h1m44 0h1m65 0h1m149 0h1m120 0h1m87 0h1M634 720.9h1m106 0h1m27 0h1M124 761.7h1m70 0h1m250 0h1m117 0h1M675 782.1h1m99 0h1M706 843.2h1M105 863.6h1m70 0h1m256 0h1m30 0h1m226 0h1M741 883.9h1M293 904.3h1m123 0h1m30 0h1m249 0h1M515 924.7h1m33 0h1m22 0h1m125 0h1M108 945.1h1m255 0h1m357 0h1m4 0h1M465 965.4h1m109 0h1M506 985.8h1"/>
<path stroke="#8b64ac" stroke-width="20.38" d="M137 191.2h1m89 0h1m64 0h1m23 0h1M90 211.6h1m143 0h1m237 0h1m142 0h1M402 231.9h1m9 0h1m41 0h1m175 0h1m4 0h1m8 0h2m9 0h1m41 0h1m16 0h1m11 0h1m2 0h1m3 0h1m7 0h1m11 0h1m19 0h1M197 252.3h1m120 0h1M229 272.7h1m178 0h1M504 293.1h1m57 0h1M183 313.4h1m131 0h1M519 333.8h1m95 0h1m23 0h1M684 374.6h1m53 0h1M123 394.9h1m26 0h1m1 0h1m1 0h1m12 0h1m7 0h2m25 0h1m30 0h1m4 0h1m21 0h1m47 0h1m6 0h1m74 0h1m34 0h1m9 0h1m1 0h1m6 0h1m73 0h1m3 0h1m5 0h1m19 0h1m2 0h1m13 0h1m12 0h1m90 0h1m29 0h1m7 0h1m29 0h1m19 0h1m6 0h1m3 0h1m1 0h1m3 0h1M127 415.3h1m208 0h1m336 0h1m87 0h1M320 435.7h1m1 0h1m113 0h1m3 0h1m8 0h1M250 476.4h1m449 0h1M309 517.2h1m33 0h1m275 0h1M553 537.6h1M142 557.9h1m41 0h1m97 0h1M401 578.3h1m7 0h1m1 0h2m38 0h1m1 0h1m2 0h1M159 598.7h1m24 0h1m3 0h1m114 0h2m14 0h1m388 0h1m23 0h1m43 0h1M507 619.1h1m29 0h1m4 0h1m7 0h1m21 0h1M314 639.4h1m14 0h1M614 659.8h1m21 0h1m7 0h1m9 0h1m120 0h1m7 0h1M135 680.2h2m116 0h1m60 0h1m393 0h1M616 700.6h1m32 0h1M619 741.3h1m26 0h1M149 782.1h1m17 0h1m2 0h1m9 0h1m7 0h1m3 0h1m12 0h2m96 0h2m3 0h1m4 0h1m2 0h1m108 0h2m4 0h1M413 802.4h1m120 0h1m61 0h1m38 0h1m80 0h1M697 863.6h1m9 0h1m7 0h1m8 0h1m25 0h1m19 0h1M441 883.9h1M504 904.3h1"/>
<path stroke="#9566ad" stroke-width="20.38" d="M436 191.2h1m54 0h1m88 0h1m29 0h1m11 0h1m10 0h1m18 0h1m15 0h1m49 0h1M200 231.9h1m33 0h1m149 0h1m9 0h1m15 0h1m5 0h1m8 0h1m11 0h1m18 0h1m42 0h1m29 0h1m28 0h1m27 0h1m23 0h1m3 0h2m82 0h1m32 0h1m24 0h1m7 0h1m12 0h1M157 252.3h1m15 0h1m3 0h1m14 0h1m9 0h1m208 0h2m25 0h1m83 0h1m79 0h1m9 0h1M631 272.7h1M388 293.1h1m2 0h1m202 0h1m102 0h1m30 0h1M152 313.4h1m21 0h1m153 0h1m84 0h1m6 0h1m215 0h1m4 0h1m13 0h1M185 333.8h1m178 0h1m221 0h1m2 0h1m8 0h1m4 0h1m9 0h1m4 0h1m24 0h1m4 0h1m5 0h2m3 0h1m54 0h1m7 0h1M314 354.2h1m94 0h1m99 0h1m18 0h1m180 0h1M476 374.6h1M162 394.9h1m26 0h1m2 0h1m11 0h1m190 0h1m18 0h1m6 0h1m2 0h1m1 0h1m5 0h1m10 0h1m77 0h1m28 0h1m29 0h1m45 0h1m69 0h1m9 0h1m3 0h2m1 0h1m5 0h1m1 0h1m6 0h1m3 0h1m18 0h1m9 0h1m1 0h1m7 0h1m8 0h1M314 435.7h1m80 0h1m6 0h1m21 0h1m1 0h1m26 0h1m298 0h1M571 496.8h1m49 0h1m50 0h1m47 0h1M219 537.6h1m74 0h1m161 0h1m143 0h1M310 578.3h1m122 0h1m266 0h1m20 0h1M154 598.7h1m14 0h1m7 0h2m16 0h1m8 0h1m93 0h1m3 0h1m81 0h1m42 0h1m26 0h1m307 0h1m10 0h1m8 0h1M302 619.1h2m4 0h1m5 0h2m12 0h1m241 0h1m9 0h1m28 0h1m125 0h1M171 659.8h1m45 0h1m151 0h1m123 0h1m56 0h1m38 0h1m1 0h1m122 0h1m27 0h1M496 680.2h1m4 0h1M91 700.6h1m44 0h1m18 0h1m104 0h1m396 0h1m2 0h1M749 720.9h1M598 741.3h1m23 0h1m18 0h1M143 761.7h1m23 0h1M151 782.1h1m8 0h1m10 0h1m4 0h1m12 0h1m116 0h1m16 0h1m3 0h1m4 0h1m34 0h1m16 0h1m15 0h1m7 0h1m6 0h1m8 0h1m3 0h1m1 0h1m6 0h1m4 0h1m3 0h1m2 0h1m66 0h1M112 843.2h1m15 0h1m513 0h1m124 0h1M699 863.6h1m6 0h1m20 0h1m2 0h1m4 0h1m1 0h1m19 0h1m14 0h1M325 883.9h1m387 0h1M93 904.3h1m66 0h1m123 0h1m81 0h1m66 0h1m2 0h1m164 0h1m169 0h1M186 924.7h1m103 0h1m181 0h1m129 0h1m102 0h1m20 0h1M178 945.1h1m562 0h1M180 985.8h1m237 0h1"/>
<path stroke="#9e68ae" stroke-width="20.38" d="M206 191.2h1m5 0h1m81 0h1m42 0h1M117 211.6h1m273 0h1m61 0h1m87 0h1m43 0h1m49 0h1m106 0h1M391 231.9h1m4 0h1m2 0h1m44 0h1m150 0h1m54 0h1m100 0h1m9 0h1M188 252.3h1m281 0h1m26 0h1M144 272.7h1m344 0h1m48 0h1m145 0h1m55 0h1M349 293.1h1m23 0h1m132 0h1m1 0h1m71 0h1M150 313.4h2m45 0h1m132 0h2m57 0h1m248 0h1M600 333.8h1m37 0h1m5 0h1m11 0h2M142 394.9h1m28 0h1m9 0h1m9 0h1m11 0h1m2 0h1m25 0h1m86 0h1m65 0h1m14 0h1m28 0h1m22 0h1m3 0h1m17 0h1m16 0h1m6 0h1m16 0h1m54 0h1m164 0h1m41 0h1m7 0h1M136 415.3h1m20 0h1m168 0h1m56 0h1m147 0h1m118 0h1M308 435.7h1m84 0h1m15 0h1m5 0h1m18 0h1M202 476.4h1M526 537.6h1M202 557.9h1m25 0h1m126 0h1m2 0h1M398 578.3h2m22 0h1M149 598.7h1m8 0h1m4 0h1m7 0h1m14 0h1m6 0h1m2 0h1m135 0h1m58 0h1m11 0h1m3 0h1m20 0h1m2 0h1m1 0h1m2 0h1m289 0h1M104 619.1h1m204 0h2m12 0h1m200 0h1m3 0h1m19 0h1m4 0h1M317 639.4h2M386 659.8h1m15 0h1m196 0h1m22 0h1m1 0h1m107 0h1m2 0h1m23 0h1M444 680.2h1m245 0h1M647 700.6h1m8 0h1M513 720.9h1M614 741.3h1m11 0h1m32 0h1M136 782.1h1m13 0h1m8 0h1m2 0h1m10 0h1m5 0h1m1 0h1m4 0h1m9 0h3m4 0h1m106 0h1m4 0h1m9 0h1m62 0h1m4 0h1m2 0h1m7 0h1m1 0h1m2 0h1m37 0h2M217 802.4h1m56 0h1m21 0h1m245 0h1M702 863.6h1m7 0h1m15 0h1m48 0h2m4 0h1m1 0h1M544 883.9h1"/>
<path stroke="#635faa" stroke-width="20.38" d="M397 191.2h1m13 0h1m21 0h1m33 0h1m28 0h1m13 0h1m8 0h1m66 0h1m51 0h1m6 0h1m8 0h1m29 0h1M295 231.9h1m394 0h1M510 252.3h1M604 272.7h1m41 0h1M149 293.1h1m38 0h1m254 0h1m9 0h1m249 0h1M337 333.8h1m8 0h1M551 354.2h1m139 0h1M219 374.6h1m38 0h1m35 0h1M201 435.7h1m317 0h1m11 0h1m81 0h1M412 456.1h1m79 0h1m18 0h1m47 0h1M631 476.4h1m7 0h1m9 0h1M455 496.8h1m59 0h1m136 0h1m54 0h1m75 0h1M318 537.6h1m84 0h1m63 0h1M599 557.9h1m20 0h1m21 0h1M137 578.3h1m40 0h1m53 0h1m443 0h1m59 0h1M237 598.7h1M402 619.1h1m45 0h1m19 0h1m130 0h1m146 0h1m10 0h1M764 639.4h1m1 0h1m16 0h1M336 659.8h1m35 0h1m169 0h1M545 680.2h1m12 0h1M108 700.6h1m7 0h1m57 0h1m140 0h1m69 0h1M286 720.9h1m15 0h1m144 0h1M610 761.7h1M505 782.1h1m121 0h1m25 0h1m16 0h1m55 0h1m37 0h1M107 802.4h1M233 822.8h1m144 0h1m123 0h1m212 0h1M202 843.2h1m112 0h1m139 0h1M205 863.6h1m105 0h1m86 0h1m109 0h1m38 0h1M286 883.9h1m428 0h1m2 0h1m23 0h1M107 904.3h1m77 0h1m43 0h1m191 0h1m203 0h1m5 0h1m21 0h1m33 0h1m40 0h1M94 924.7h1m144 0h1m270 0h1M474 945.1h1m71 0h1M252 965.4h1m375 0h1M330 985.8h1"/>
<path stroke="#6961ab" stroke-width="20.38" d="M107 191.2h1m32 0h1m8 0h1m31 0h1m55 0h1m116 0h1m193 0h1m195 0h1M183 211.6h1m16 0h1m86 0h1m70 0h1m72 0h1m9 0h1m145 0h1m38 0h1M161 231.9h1m63 0h1m128 0h1m34 0h1m85 0h1m6 0h1m47 0h1m16 0h1m4 0h1m51 0h1m180 0h1M102 252.3h1m10 0h1m25 0h1m4 0h1m55 0h1m243 0h1m88 0h1m198 0h1m39 0h1M142 272.7h1m26 0h1M105 293.1h1m255 0h1m373 0h1M190 313.4h1m103 0h1m40 0h1m13 0h1m54 0h1m26 0h1m323 0h1M115 333.8h1m37 0h1m134 0h1m16 0h1m18 0h1m83 0h1m5 0h1m19 0h1m76 0h1M302 354.2h1m7 0h1m18 0h1m19 0h1m103 0h1m101 0h1m99 0h1m24 0h1m23 0h1m6 0h1M103 374.6h1m82 0h1m139 0h1m66 0h1m11 0h1m168 0h1m117 0h1m4 0h1m1 0h1m22 0h1m42 0h1m9 0h1M118 394.9h1m1 0h1m122 0h1m27 0h1m3 0h1m233 0h1m83 0h1m19 0h1m28 0h1m113 0h1M614 415.3h1m7 0h1m7 0h1M186 435.7h1m74 0h1m1 0h1m297 0h1m101 0h1m42 0h1M158 456.1h1m67 0h1m412 0h1m97 0h1M234 476.4h1m14 0h1m9 0h1m1 0h1m53 0h1m125 0h1m42 0h1m182 0h1m18 0h1m18 0h1m72 0h1M352 496.8h1m113 0h1m3 0h1m54 0h1m32 0h1m30 0h1m37 0h1m144 0h1M592 517.2h1m18 0h1M405 537.6h1m2 0h1m88 0h1m2 0h1m35 0h1m3 0h1m183 0h1m20 0h1M99 557.9h1m192 0h1m102 0h1m65 0h1m15 0h1m54 0h1m20 0h1m11 0h1m9 0h1m151 0h1m7 0h1m32 0h1M107 578.3h1m218 0h1m180 0h1m229 0h1M157 598.7h1m97 0h1m4 0h1m149 0h1m33 0h1m113 0h1m100 0h1m6 0h1m7 0h1m20 0h1M109 619.1h1m81 0h1m10 0h1m41 0h1m35 0h1m17 0h1m63 0h1m331 0h1M271 639.4h1m13 0h1m85 0h1m52 0h1m138 0h1m49 0h1m133 0h1M246 659.8h1m2 0h1m48 0h1m247 0h1m17 0h1m40 0h1M89 680.2h1m154 0h1m32 0h1m10 0h1m24 0h1m15 0h1m15 0h1m51 0h1m40 0h1m278 0h1m65 0h1M131 700.6h1m501 0h1m38 0h1m2 0h1M126 720.9h2m35 0h1m41 0h1m32 0h1m172 0h1m40 0h1m62 0h1m2 0h1m17 0h1m70 0h1m93 0h1M497 741.3h1m19 0h1m20 0h1M132 761.7h1m26 0h1m98 0h1m306 0h1m33 0h1m32 0h1m12 0h1m4 0h1M87 782.1h1m19 0h1m40 0h1m125 0h1m19 0h1m22 0h1m184 0h1m50 0h1m66 0h1m63 0h1M101 802.4h1m61 0h1m95 0h1m126 0h1m34 0h1m8 0h1m187 0h1m8 0h1m29 0h1m48 0h1m29 0h1m24 0h1M142 822.8h1m29 0h1m231 0h1m87 0h1m48 0h1m91 0h1m2 0h1m60 0h1m34 0h1m14 0h1m10 0h1M104 843.2h1m253 0h1m35 0h1m218 0h1M241 863.6h1m51 0h1m25 0h1m104 0h1m41 0h1m161 0h1m56 0h1m70 0h1M105 883.9h1m5 0h1m154 0h1m48 0h1m37 0h1m24 0h1m5 0h1m68 0h1m157 0h1m157 0h1m1 0h1M221 904.3h1m72 0h1m89 0h1m15 0h1m64 0h1m66 0h1m94 0h1M88 924.7h1m247 0h1m7 0h1m126 0h1m24 0h1m146 0h1m46 0h1m13 0h1M88 945.1h1m60 0h1m194 0h1m72 0h1m31 0h1m121 0h1m36 0h1m64 0h1M280 965.4h1m72 0h1m21 0h1m195 0h1m182 0h1M127 985.8h1m126 0h1m63 0h1m267 0h1"/>
<path stroke="#7665ac" stroke-width="20.38" d="M396 191.2h1m20 0h1m24 0h1m6 0h1m51 0h1m21 0h1m5 0h1m89 0h1m10 0h1m41 0h1m9 0h1m4 0h1M196 231.9h1m32 0h1m81 0h1m7 0h1m21 0h1M93 252.3h1m452 0h1m101 0h1M585 272.7h1m4 0h1m38 0h1M394 293.1h1m59 0h1M133 313.4h1m134 0h1M156 333.8h1m122 0h1m71 0h1m48 0h1M127 354.2h1m11 0h1m181 0h1m94 0h1m95 0h1m5 0h1m48 0h1m10 0h1m21 0h1M278 374.6h1m19 0h1m172 0h1m6 0h1M645 394.9h1M139 435.7h1m199 0h1m169 0h1M420 456.1h1m332 0h1M176 496.8h1m62 0h1m506 0h1m8 0h1m2 0h1M302 537.6h1m119 0h1m11 0h1m38 0h1m152 0h1m99 0h1M295 578.3h1M650 598.7h1M441 619.1h1m24 0h1m182 0h1m55 0h1m21 0h2m54 0h1M489 639.4h1m19 0h1m223 0h1M177 659.8h1m151 0h1m348 0h1M498 680.2h1m45 0h1m25 0h1M157 700.6h1m81 0h1m55 0h1m21 0h1M189 720.9h1m252 0h1m1 0h1M531 761.7h1M538 782.1h1m23 0h1m15 0h1m184 0h1M310 802.4h1m8 0h1M182 843.2h1m135 0h1m137 0h1M87 863.6h1m2 0h1m96 0h1m18 0h1m46 0h1m20 0h1m24 0h1m112 0h1m185 0h1m70 0h1m7 0h2M660 883.9h1m14 0h1m35 0h1M97 904.3h1m34 0h1m23 0h1m205 0h1m62 0h1m252 0h1m21 0h1m38 0h1M140 924.7h1m247 0h1m1 0h1m12 0h1m32 0h1m80 0h1m53 0h1m27 0h1m171 0h1M106 945.1h1m138 0h1M156 965.4h1m169 0h1"/>
<path stroke="#7c66ad" stroke-width="20.38" d="M103 191.2h2m37 0h1m34 0h1m55 0h1m18 0h1m125 0h1m3 0h1M120 211.6h1m91 0h1m128 0h1m42 0h1m105 0h1m8 0h1m22 0h1m39 0h1m26 0h1m37 0h1m13 0h1m59 0h1m19 0h1m5 0h1m21 0h1M493 252.3h1M311 272.7h1m406 0h1m36 0h1M370 293.1h1M559 333.8h1m8 0h1M464 354.2h1m32 0h1M178 374.6h1m10 0h1m154 0h1m35 0h1m3 0h1m1 0h1m36 0h1m2 0h1m124 0h1m24 0h1m20 0h1m39 0h1m28 0h2m5 0h1m1 0h1m37 0h1M98 394.9h1m2 0h1m180 0h1m4 0h1m8 0h1M93 415.3h1m47 0h1m57 0h1m45 0h1m32 0h1m107 0h1m5 0h1m19 0h1m26 0h1m13 0h1m53 0h1m121 0h1m22 0h2m18 0h1m1 0h1m56 0h1m52 0h1M248 476.4h1m177 0h1m3 0h1m173 0h1m142 0h1m14 0h1m22 0h1M590 496.8h1m18 0h1M379 517.2h1m241 0h1m77 0h1m1 0h1m17 0h1m35 0h1M516 537.6h1M114 557.9h1m39 0h1m34 0h1m65 0h1m54 0h1m12 0h1m16 0h1m37 0h1m3 0h1m33 0h1m47 0h1m70 0h1m8 0h1m225 0h1m12 0h1M146 619.1h1m25 0h1m8 0h1m13 0h1m7 0h1M159 680.2h1m9 0h1m23 0h1m24 0h1m63 0h1m75 0h1m44 0h1m263 0h1m31 0h1m7 0h1m67 0h1m5 0h1M460 720.9h1m15 0h1m55 0h1m26 0h1m14 0h1m2 0h1M499 741.3h1m5 0h1m6 0h1m18 0h1m49 0h1M123 782.1h1m143 0h1M178 802.4h1m65 0h1m2 0h1m5 0h1m112 0h1m40 0h1m9 0h1m2 0h1m164 0h1m35 0h1m17 0h1m28 0h1m78 0h1m14 0h1M365 883.9h1m34 0h1m20 0h1m8 0h1m1 0h1m14 0h1m7 0h1M488 904.3h1m6 0h1m11 0h1m4 0h2m41 0h1m24 0h1"/>
<path stroke="#896aaf" stroke-width="20.38" d="M398 191.2h1m3 0h2m1 0h1m3 0h1m8 0h1m1 0h1m14 0h1m17 0h1m20 0h1m6 0h1m3 0h1m19 0h1m1 0h1m28 0h1m1 0h2m15 0h1m31 0h1m51 0h1m24 0h1m4 0h1m18 0h1m62 0h1m3 0h1m10 0h1m7 0h1M103 231.9h1m26 0h1m190 0h1m3 0h1m27 0h1m20 0h1m90 0h1m4 0h1m38 0h1m21 0h1m134 0h1M230 252.3h1m161 0h1m110 0h1m16 0h1m10 0h1m40 0h1m6 0h1m110 0h1m88 0h1M605 272.7h1m10 0h1m35 0h1M204 293.1h1m194 0h1m44 0h1m181 0h1m23 0h1m51 0h1m9 0h1m1 0h1m23 0h1M241 313.4h2m38 0h1m96 0h1m214 0h1m92 0h1M112 333.8h1m159 0h1m92 0h1m333 0h1m45 0h1m36 0h1M110 354.2h1m7 0h1m10 0h1m14 0h1m49 0h1m25 0h1m15 0h1m56 0h1m7 0h1m84 0h1m30 0h1m105 0h1m1 0h1m10 0h1m17 0h1m160 0h1m42 0h1M139 374.6h1m85 0h1m34 0h1m40 0h1M336 394.9h1M105 435.7h1m110 0h1m59 0h1m100 0h1m119 0h1m149 0h1m27 0h1M353 456.1h1m143 0h1m36 0h1m179 0h1M563 476.4h1M103 496.8h1m334 0h1m263 0h1m14 0h1m27 0h1M172 537.6h1m130 0h1m83 0h1m72 0h1m4 0h1m14 0h1m6 0h1m189 0h1m77 0h1M640 557.9h1M126 578.3h1m90 0h1m49 0h1m71 0h1m11 0h1m255 0h1M99 598.7h1m171 0h1m15 0h1m59 0h1m177 0h1m40 0h1m2 0h1M395 619.1h1m38 0h1m16 0h1m33 0h1m191 0h1m46 0h2m24 0h1m2 0h1m1 0h1M121 639.4h1m453 0h1m135 0h1m7 0h1m17 0h1m33 0h1m5 0h1M104 659.8h1m40 0h1m42 0h1m3 0h1m57 0h1m52 0h1M468 680.2h1m3 0h1m30 0h1m12 0h1m4 0h1m30 0h1m7 0h1m10 0h1m78 0h1m8 0h1M103 700.6h1m88 0h1m97 0h1m44 0h1m100 0h1M172 720.9h1m20 0h1m35 0h2m86 0h1m1 0h1m44 0h2m43 0h1m7 0h1m4 0h1m7 0h1m9 0h1m298 0h1m22 0h1M147 761.7h1M571 782.1h1m65 0h1m38 0h1m1 0h1m53 0h1m1 0h1m15 0h1M123 802.4h1m179 0h1M535 822.8h1M154 843.2h1m156 0h1m67 0h1m30 0h1m26 0h1m12 0h1m193 0h1m14 0h1m89 0h1M155 863.6h1m59 0h1m63 0h1m4 0h1m80 0h1m18 0h1m37 0h1m170 0h1M308 883.9h2m389 0h1m5 0h1m14 0h1m7 0h1m33 0h1m17 0h1M91 904.3h1m3 0h1m3 0h1m20 0h1m83 0h1m99 0h1m3 0h1m22 0h1m9 0h1m30 0h1m26 0h1m11 0h1m18 0h1m11 0h1m259 0h1m7 0h1m3 0h1m19 0h1m2 0h1m19 0h1m16 0h1M111 924.7h1m6 0h1m58 0h1m18 0h1m29 0h1m167 0h1m24 0h1m17 0h1m67 0h1m16 0h1m25 0h1m14 0h1m131 0h1M221 945.1h1m479 0h1m16 0h1m34 0h1M115 965.4h1m51 0h2m463 0h1m44 0h1M163 985.8h1m203 0h1m84 0h1"/>
<path stroke="#906caf" stroke-width="20.38" d="M120 191.2h1m9 0h1m47 0h1m82 0h1m2 0h1m15 0h1m8 0h1m20 0h1m4 0h1m22 0h1M95 211.6h1m6 0h1m24 0h1m31 0h1m17 0h1m19 0h1m106 0h1m20 0h1m76 0h1m21 0h1m94 0h1m93 0h1m15 0h1m27 0h1M468 252.3h1M137 272.7h1m68 0h1m257 0h1M301 293.1h1m15 0h1m32 0h1m5 0h1m157 0h1m57 0h1m3 0h1m99 0h1M554 333.8h1m21 0h1M489 354.2h1M180 374.6h1m169 0h1m46 0h1m4 0h1m107 0h1m3 0h2m47 0h1m42 0h1m29 0h1m2 0h1m18 0h1m82 0h1m26 0h1m11 0h1M126 394.9h1m84 0h1m56 0h1M121 415.3h1m85 0h1m60 0h1m34 0h1m80 0h1m49 0h1m63 0h1m70 0h1m111 0h1m28 0h1m46 0h1M184 476.4h1m11 0h1m72 0h1m61 0h1m332 0h1m11 0h1m29 0h1m19 0h1m9 0h1m1 0h1m28 0h1m15 0h1M591 496.8h1M279 517.2h1m8 0h1m32 0h1m327 0h1m8 0h1m63 0h1m16 0h1M503 537.6h2m75 0h1M113 557.9h1m19 0h1m18 0h1m24 0h1m8 0h1m20 0h1m34 0h1m2 0h1m47 0h1m100 0h1m8 0h1m17 0h1m146 0h1m143 0h1m2 0h1m33 0h1m15 0h2M95 619.1h1m25 0h1m37 0h1m10 0h1m30 0h1M91 680.2h1m27 0h1m8 0h1m158 0h1m37 0h1m64 0h1m15 0h1m318 0h1m3 0h1m7 0h1m8 0h1M517 720.9h1m19 0h1M464 741.3h1m1 0h1m9 0h1m34 0h1m53 0h1M103 782.1h1m1 0h1m2 0h1m30 0h1m78 0h1m62 0h1M159 802.4h1m56 0h1m24 0h1m121 0h1m20 0h1m65 0h1m22 0h1m245 0h1m8 0h1M420 883.9h1m52 0h1m14 0h1m41 0h1m29 0h1M503 904.3h1m14 0h1m16 0h1m15 0h1m21 0h1m5 0h1m1 0h1"/>
<path stroke="#9d70b1" stroke-width="20.38" d="M386 191.2h1m13 0h1m76 0h1m49 0h1m36 0h1m3 0h1m74 0h1m31 0h1m3 0h1m21 0h1M164 231.9h1m51 0h1m69 0h1m30 0h1M430 252.3h1M634 272.7h1m14 0h1M192 293.1h1m396 0h1m8 0h1m128 0h1m2 0h1m3 0h1m17 0h1M238 313.4h1m355 0h1M174 354.2h1m2 0h1m7 0h1m68 0h1m28 0h1m63 0h1m190 0h1m3 0h1m23 0h1M93 374.6h1m44 0h1m137 0h1m11 0h1M137 435.7h1m129 0h1M300 456.1h1m126 0h1m122 0h1m227 0h1M578 476.4h1m46 0h1M402 496.8h1m109 0h1m191 0h1m1 0h1M316 537.6h1m54 0h1M585 557.9h2m79 0h1M223 578.3h1m24 0h1m97 0h1m370 0h1m38 0h1M89 598.7h1m18 0h1m129 0h1m234 0h1m107 0h1m9 0h1M386 619.1h1m5 0h1m63 0h1m242 0h1m15 0h1m7 0h1m36 0h1m1 0h1M373 639.4h1M108 659.8h1m116 0h1m46 0h1m222 0h1M497 680.2h1m27 0h1M194 700.6h1m211 0h1M391 720.9h1m368 0h1M474 782.1h1m4 0h1m43 0h1m42 0h1m99 0h1m109 0h1M309 802.4h1M517 822.8h1m132 0h1M695 843.2h1M393 863.6h1M157 883.9h1m154 0h1m4 0h1m391 0h1m20 0h2m2 0h1M168 904.3h1m153 0h1m6 0h1m53 0h1m270 0h1m50 0h1M131 924.7h1m111 0h1m134 0h1m3 0h1m8 0h1m97 0h1m4 0h1m45 0h1m171 0h1m6 0h1M492 945.1h1m22 0h1m266 0h1M121 965.4h1m142 0h1M176 985.8h1m115 0h1"/>
<path stroke="#a372b2" stroke-width="20.38" d="M100 191.2h1m11 0h1m77 0h1m105 0h1m15 0h2M168 211.6h1m152 0h1m123 0h1m56 0h1m10 0h1m2 0h1m22 0h1m8 0h1M385 231.9h1m4 0h1m196 0h1m9 0h1m34 0h1m13 0h1m52 0h1m44 0h1M181 252.3h1M87 272.7h1m111 0h1m43 0h1m218 0h1M359 293.1h1m12 0h1m9 0h1m291 0h1M198 313.4h1m111 0h1m97 0h1m46 0h1m173 0h1m5 0h1M490 333.8h1m103 0h1M370 374.6h1m71 0h1m93 0h1m101 0h1m9 0h1m87 0h1m29 0h1M149 394.9h1m5 0h1m14 0h1m23 0h1m2 0h1m114 0h1m13 0h1m78 0h1m3 0h1m2 0h2m57 0h1m45 0h1m153 0h1m19 0h1m47 0h1M218 415.3h1m356 0h1m14 0h1m48 0h1M325 435.7h1m78 0h1m8 0h1m15 0h1M279 476.4h1m19 0h1m98 0h1m40 0h1m274 0h1M203 517.2h1m3 0h1m180 0h1m14 0h1m50 0h1m243 0h1m50 0h1M557 537.6h1M341 557.9h2M392 578.3h1M386 598.7h1m2 0h1m4 0h1m19 0h1m334 0h1M306 619.1h1m203 0h1m7 0h1m11 0h1m5 0h1m4 0h1m7 0h1m5 0h1m19 0h1M405 659.8h1m12 0h1m24 0h1m9 0h1m1 0h1m167 0h1m14 0h1m4 0h1m63 0h1m41 0h1m23 0h1M236 680.2h1m165 0h1m26 0h1M460 741.3h1m119 0h1m24 0h1m2 0h1m15 0h1m2 0h1m10 0h1m11 0h1M172 782.1h1m2 0h1m9 0h1m9 0h1m217 0h1m13 0h1m16 0h1m6 0h1m1 0h1M233 802.4h1m148 0h1m33 0h1m94 0h1m86 0h1m6 0h1m16 0h1m107 0h1m12 0h1M695 863.6h1m13 0h1m3 0h1m9 0h1m12 0h1m12 0h1M368 883.9h1m7 0h1m92 0h1m28 0h1m13 0h1m6 0h1m49 0h1m8 0h1m1 0h1M481 904.3h1m76 0h2"/>
<path stroke="#b076b3" stroke-width="20.38" d="M450 191.2h1m43 0h1m9 0h1m88 0h1m5 0h1m46 0h1m36 0h1m75 0h1m12 0h1M128 231.9h1m43 0h2m13 0h1m53 0h1m87 0h1m76 0h1m43 0h1m2 0h1m27 0h1m135 0h1m4 0h1m15 0h1m111 0h1M149 252.3h1m408 0h1m110 0h1m23 0h1m10 0h1m1 0h1M593 272.7h1m12 0h1M151 293.1h1m263 0h1m323 0h1m25 0h1M178 313.4h1m262 0h1m2 0h1m130 0h1m35 0h1M248 333.8h1m57 0h1m14 0h1m5 0h1m101 0h1m155 0h1m16 0h1M138 354.2h1m258 0h1m109 0h2m26 0h1m20 0h1m44 0h1M221 374.6h1m262 0h1m14 0h1M159 394.9h1m38 0h1m122 0h1m60 0h1m40 0h1m16 0h1m7 0h1m83 0h1m7 0h1m111 0h2m10 0h1m33 0h1m3 0h1m28 0h1m8 0h1M248 435.7h1m58 0h1m22 0h1m19 0h1m11 0h1m24 0h1m9 0h1m1 0h1m8 0h1m11 0h1m14 0h1m8 0h1m50 0h1m36 0h1M165 456.1h1m341 0h1m60 0h1M652 476.4h1M256 496.8h1m261 0h1m123 0h1M350 537.6h1m7 0h1m61 0h1M652 557.9h1M419 578.3h1m19 0h1m192 0h1M116 598.7h1m27 0h1m23 0h1m20 0h1m58 0h1m72 0h1m14 0h1m71 0h1m40 0h1m19 0h1m177 0h1m3 0h1m55 0h1m28 0h1m17 0h1m14 0h1M325 619.1h1m101 0h1m75 0h1m5 0h1m19 0h1m2 0h1m10 0h1m104 0h1m36 0h1m77 0h2M514 639.4h1m206 0h1m50 0h2M446 659.8h1m102 0h1m43 0h1m102 0h1m8 0h1M641 680.2h1M88 700.6h1m13 0h1m20 0h1m78 0h1m2 0h1m138 0h1m102 0h1m177 0h2m2 0h1m4 0h1M162 720.9h1m129 0h1m335 0h1m126 0h1M596 741.3h1m6 0h1m33 0h1m7 0h1m11 0h1M652 761.7h1M187 782.1h1m138 0h1m65 0h1m23 0h1m2 0h1m12 0h1m285 0h1m5 0h1m14 0h1M316 802.4h1m8 0h1M168 822.8h1m411 0h1m91 0h1M605 843.2h1m119 0h1M123 863.6h1m38 0h1m8 0h1m566 0h1m2 0h1m10 0h1m32 0h1M230 883.9h1m514 0h1M196 904.3h1m40 0h1m207 0h1m199 0h1m53 0h1m19 0h1m28 0h1m17 0h1M307 924.7h1m44 0h1m20 0h1m22 0h1m109 0h1m26 0h1m13 0h1m28 0h1m9 0h1m105 0h1m25 0h1m23 0h1m19 0h1M341 945.1h1M247 965.4h1M145 985.8h1m19 0h2"/>
<path stroke="#bd7ab5" stroke-width="20.38" d="M173 191.2h1m17 0h1m34 0h1m11 0h1m33 0h1m69 0h1m7 0h1M175 211.6h1m121 0h1m92 0h1m313 0h1m51 0h1M436 231.9h1m165 0h1m17 0h1m31 0h1m48 0h1m5 0h1m40 0h1m5 0h1m3 0h1m1 0h1m8 0h1m4 0h1m5 0h1M166 252.3h1m140 0h1m23 0h1M96 272.7h1m232 0h1m96 0h1M274 293.1h1m18 0h1m374 0h1M319 313.4h1m103 0h1m1 0h1m4 0h1m23 0h1m161 0h1m1 0h1M319 333.8h1m294 0h1m8 0h1M379 374.6h1m139 0h1m111 0h1m31 0h1M157 394.9h1m32 0h1m89 0h1m130 0h1m26 0h1m61 0h1m7 0h1m26 0h1m198 0h1m3 0h1m14 0h1m5 0h1M104 415.3h1m64 0h1m81 0h1m18 0h1m133 0h1m51 0h1m131 0h1m185 0h1M312 435.7h1m5 0h1m97 0h1m11 0h1m9 0h1m4 0h1m2 0h1M384 476.4h1m214 0h1M597 496.8h1M258 517.2h1m345 0h1m11 0h1m113 0h1m15 0h1m4 0h1M110 557.9h1m273 0h1m21 0h1m25 0h1m86 0h1m204 0h1m44 0h1M385 578.3h1m10 0h1m41 0h1M165 598.7h1m6 0h1m28 0h1m107 0h1m10 0h1m4 0h1m64 0h1m21 0h1m7 0h1m3 0h1m17 0h1m4 0h1m253 0h1m16 0h1m22 0h1m2 0h1m22 0h1m4 0h1m7 0h1M137 619.1h1m13 0h1m53 0h1m89 0h1m23 0h1m200 0h1M308 639.4h1M588 659.8h1m5 0h1m23 0h1M127 680.2h1m14 0h1m204 0h1m3 0h1m46 0h1m31 0h1m313 0h1m6 0h1m24 0h1M637 700.6h1M541 720.9h1M470 741.3h1m85 0h1m34 0h1m2 0h1m4 0h1m11 0h1m27 0h1M154 782.1h1m3 0h1m5 0h1m54 0h1m87 0h1m106 0h1m3 0h1m14 0h1M199 802.4h1m13 0h1m242 0h1m146 0h1m9 0h1m58 0h1m7 0h1m30 0h1m12 0h1m13 0h1m35 0h1M708 863.6h1m19 0h2m1 0h1m13 0h1m7 0h2m11 0h1M335 883.9h1m51 0h1m97 0h1m28 0h1"/>
<path stroke="#6a68a1" stroke-width="20.38" d="M424 191.2h1m7 0h1m45 0h1m8 0h1m54 0h1m2 0h1m1 0h1m43 0h1m12 0h1m37 0h1m100 0h1m6 0h1M138 231.9h1m169 0h1m58 0h1M363 252.3h1m15 0h1m137 0h3m20 0h1m36 0h1M591 272.7h1m26 0h1m38 0h1M190 293.1h1m430 0h1m18 0h1m5 0h1m69 0h1m37 0h1m12 0h1M357 313.4h1M160 333.8h1M93 354.2h1m59 0h1m10 0h1m66 0h1m8 0h1m78 0h1m62 0h1m65 0h1m83 0h1m11 0h1m12 0h1m139 0h1M340 394.9h1M548 456.1h1m51 0h1M516 476.4h1m27 0h1m27 0h1m57 0h1m12 0h1M564 496.8h1M177 537.6h1m170 0h1m67 0h1m33 0h1m20 0h1m9 0h1M587 557.9h1m99 0h1M576 578.3h1m124 0h1m77 0h1M113 598.7h1m23 0h1m82 0h1m316 0h1m116 0h1M385 619.1h1m7 0h1m307 0h1m27 0h1M752 639.4h1M464 680.2h1m5 0h1M248 700.6h1m21 0h1m477 0h1M175 822.8h1m333 0h1m16 0h1m4 0h1M157 843.2h1m8 0h1m173 0h1m72 0h1M180 863.6h1m267 0h1M644 883.9h1m105 0h1m21 0h1m1 0h1m1 0h1M101 904.3h1m68 0h1m30 0h1m135 0h1m27 0h1m41 0h1m314 0h1m10 0h1m7 0h1M284 924.7h1m70 0h1m148 0h1m31 0h2m179 0h1M729 985.8h1"/>
<path stroke="#726ca0" stroke-width="20.38" d="M123 191.2h1m26 0h1m2 0h1m80 0h1m35 0h1m29 0h1m1 0h1m3 0h1m72 0h1m193 0h1m188 0h1M114 211.6h1m101 0h1m14 0h1m85 0h1m80 0h1m22 0h1m29 0h1m31 0h1m22 0h1m38 0h1m38 0h1m186 0h1M194 252.3h1m266 0h1m7 0h1m30 0h1m5 0h1m145 0h1M157 293.1h1m100 0h1m44 0h1m21 0h1m20 0h1m105 0h1m181 0h1m36 0h1m49 0h1M684 313.4h1M97 333.8h1m427 0h1m38 0h1m5 0h1m28 0h1M175 354.2h1m73 0h1m507 0h1M328 374.6h1m19 0h1m84 0h1m19 0h1m96 0h1m16 0h1m65 0h1m78 0h1M125 394.9h1m20 0h2m86 0h1m21 0h1m17 0h1m439 0h1m28 0h1M202 415.3h1m128 0h1m106 0h1m9 0h1m116 0h1m178 0h1m31 0h1M107 435.7h1m265 0h1M218 476.4h1m1 0h1m60 0h1m28 0h1m183 0h1m46 0h1m112 0h1m99 0h1m14 0h1M218 496.8h1m86 0h1M602 517.2h1m26 0h1M558 537.6h1M92 557.9h1m35 0h1m100 0h1m44 0h1m26 0h2m21 0h1m1 0h1m18 0h1m18 0h1m47 0h1m2 0h1m59 0h1m21 0h1m190 0h1m48 0h1M418 578.3h1m113 0h1M270 598.7h1m58 0h1m1 0h1m406 0h1M156 619.1h1m47 0h1m567 0h1M109 639.4h1m87 0h1m104 0h1M269 659.8h1M100 680.2h1m156 0h1m35 0h1m66 0h1m8 0h1m34 0h1m3 0h1m36 0h1m62 0h1m180 0h1m24 0h1m40 0h2m3 0h1m17 0h1m5 0h1M107 700.6h1m408 0h1m153 0h1M293 720.9h1m194 0h1m1 0h1m63 0h1m1 0h1m13 0h1m119 0h1M475 741.3h1m43 0h1M89 782.1h1m145 0h1m13 0h1m298 0h1m128 0h1m57 0h1m26 0h1M189 802.4h1m139 0h1m263 0h1m42 0h1m7 0h2m10 0h1m1 0h1m113 0h1M572 822.8h1m178 0h1M257 843.2h1M278 883.9h1m81 0h1m3 0h1m394 0h1M300 904.3h1m188 0h1m88 0h1m67 0h1M363 924.7h1m293 0h1M660 945.1h1m98 0h1M724 985.8h1"/>
<path stroke="#81739f" stroke-width="20.38" d="M406 191.2h1m27 0h1m27 0h1m13 0h1m34 0h1m4 0h1m115 0h1m47 0h1m19 0h1m39 0h1m42 0h1M93 231.9h1m24 0h1m387 0h1M554 252.3h1m6 0h2M642 272.7h1m7 0h1M401 293.1h1m15 0h1m20 0h1m164 0h1m3 0h1m114 0h1m34 0h1M292 313.4h1m84 0h1m291 0h1M241 333.8h1m9 0h1m473 0h1M173 354.2h1m42 0h1m96 0h1m30 0h1m184 0h1m17 0h1m10 0h1M296 435.7h1m173 0h1m74 0h1m205 0h1M374 476.4h1m106 0h1m25 0h1m13 0h1m123 0h1M663 496.8h1M180 537.6h1m159 0h1m2 0h1m38 0h1m15 0h1m7 0h1m29 0h1m53 0h1m141 0h1M593 557.9h1m75 0h1M227 578.3h1m79 0h1M269 598.7h1M367 619.1h1m58 0h1m249 0h1m10 0h1m32 0h1M432 639.4h1m45 0h1M139 659.8h1m10 0h1M462 680.2h1m4 0h1m66 0h1m32 0h1m9 0h1M117 700.6h1m262 0h1m22 0h1m49 0h1m219 0h1M340 720.9h1m13 0h1m52 0h1m211 0h1M128 761.7h1m27 0h1m436 0h1M370 782.1h1m153 0h1m64 0h1m135 0h1M102 802.4h1M514 822.8h1m8 0h1m119 0h1M203 843.2h1m172 0h1m300 0h1m12 0h1M99 863.6h1m220 0h1m36 0h1m21 0h1m124 0h1m14 0h1M693 883.9h1m1 0h1m36 0h2m49 0h1M92 904.3h1m56 0h1m50 0h1m95 0h1m71 0h1M285 924.7h1m30 0h1m6 0h1m8 0h1m67 0h1m119 0h1m37 0h1M126 945.1h1m102 0h1m519 0h1M220 965.4h1m360 0h1M101 985.8h1m486 0h1"/>
<path stroke="#88769e" stroke-width="20.38" d="M134 191.2h1m13 0h1m79 0h1m21 0h1m23 0h1m42 0h1m7 0h1m43 0h1M100 211.6h1m12 0h1m67 0h1m51 0h1m68 0h1m13 0h1m5 0h1m12 0h1m24 0h1m21 0h1m33 0h1m21 0h1m17 0h1m25 0h1m18 0h1m10 0h1m79 0h1m8 0h1m2 0h1m13 0h1m3 0h1m20 0h1m22 0h1m6 0h1m13 0h1m8 0h1m35 0h1m5 0h1m1 0h1m23 0h1m17 0h1M475 252.3h1m19 0h1M107 272.7h1m21 0h1m8 0h2m196 0h1m144 0h1m8 0h1m42 0h1m135 0h1m44 0h1m34 0h1m14 0h1m11 0h1m3 0h1M289 293.1h1m51 0h1m123 0h1m14 0h1m62 0h1M461 333.8h1m10 0h1m24 0h1m11 0h1m23 0h1m27 0h1m5 0h1M472 354.2h1M164 374.6h1m12 0h1m9 0h1m4 0h1m131 0h1m65 0h1m23 0h1m15 0h1m7 0h1m7 0h1m126 0h1m10 0h1m16 0h2m83 0h1M89 394.9h1m17 0h1m20 0h1m4 0h1m9 0h1m4 0h1m143 0h1M91 415.3h1m57 0h1m1 0h1m25 0h1m18 0h1m16 0h1m90 0h1m6 0h1m7 0h1m9 0h1m16 0h1m5 0h1m4 0h1m4 0h1m25 0h1m22 0h1m56 0h1m7 0h1m12 0h1m32 0h1m83 0h1m3 0h1m15 0h1m91 0h1m43 0h1M126 476.4h1m92 0h1m15 0h1m57 0h1m23 0h1m91 0h1m25 0h1m167 0h1m90 0h1m18 0h1m52 0h1m4 0h1m12 0h1M587 496.8h1M91 517.2h1m84 0h1m52 0h1m52 0h1m7 0h1m1 0h1m43 0h1m30 0h1m54 0h1m28 0h1m229 0h1M510 537.6h1m21 0h1M108 557.9h1m9 0h1m61 0h1m41 0h1m31 0h1m31 0h1m10 0h1m27 0h1m1 0h1m19 0h1m39 0h1m22 0h1m13 0h1m17 0h1m1 0h1m41 0h1m25 0h1m8 0h1m54 0h1m121 0h1m8 0h1m14 0h1M163 619.1h1m35 0h1m20 0h1m8 0h1m37 0h1M93 680.2h1m31 0h1m3 0h1m2 0h1m122 0h1m99 0h1m65 0h1m13 0h1m233 0h1m8 0h1m55 0h1m4 0h1m3 0h1M522 720.9h1m25 0h1m11 0h1M468 741.3h1m32 0h1m7 0h1m5 0h1m12 0h1m42 0h1m124 0h1m23 0h1m7 0h1M236 782.1h1m41 0h1m13 0h1M221 802.4h1m224 0h1m104 0h1m1 0h1m17 0h1m6 0h1m15 0h1m9 0h1m7 0h1m36 0h1m28 0h1m4 0h1m29 0h1M476 822.8h1m2 0h1M425 883.9h1m78 0h1m1 0h1m9 0h1m55 0h1M509 904.3h3m35 0h1"/>
<path stroke="#987e9d" stroke-width="20.38" d="M399 191.2h1m15 0h1m72 0h1m11 0h1m2 0h1m33 0h1m19 0h1m5 0h1m26 0h1m18 0h1m55 0h1m30 0h1m16 0h1m18 0h1m24 0h1m3 0h1m5 0h1m11 0h1m4 0h1M117 231.9h1m15 0h1m16 0h1m52 0h1m19 0h1m68 0h1m31 0h1m179 0h1m63 0h1M143 252.3h1m385 0h1m19 0h1m9 0h1m7 0h1m7 0h1m75 0h1M586 272.7h1m2 0h1m8 0h1M119 293.1h1m55 0h1m219 0h1m4 0h1m3 0h1m6 0h1m180 0h1m29 0h1m86 0h1m31 0h1m17 0h1m2 0h1M257 313.4h1m17 0h2m261 0h1M285 333.8h1m123 0h1m2 0h1M105 354.2h1m15 0h1m105 0h1m33 0h1m106 0h1m30 0h2m25 0h1m10 0h1m1 0h1m11 0h1m117 0h1m9 0h1m102 0h1m7 0h1m37 0h1M118 374.6h1m99 0h1m23 0h1m22 0h1m30 0h1m172 0h1M154 435.7h1m6 0h1m56 0h1m248 0h1m17 0h1m231 0h1M91 456.1h1m244 0h1m130 0h1m57 0h1m6 0h1m34 0h1M553 476.4h1m62 0h1M654 496.8h1m9 0h1m1 0h2m7 0h1m4 0h1m3 0h1m37 0h1m9 0h1M108 537.6h1m39 0h1m51 0h1m30 0h1m152 0h1m99 0h1m3 0h1m125 0h1M660 557.9h1m11 0h1M96 578.3h1m59 0h1m343 0h1m132 0h1m65 0h1M291 598.7h1m8 0h1m204 0h1m4 0h1m129 0h1M388 619.1h1m58 0h1m146 0h1m70 0h1m3 0h1m12 0h1m15 0h1m33 0h1m9 0h1M696 639.4h1m26 0h1m2 0h1m32 0h1M115 659.8h1m51 0h1m14 0h1m46 0h1m232 0h1m38 0h1m23 0h1m51 0h1M465 680.2h1m26 0h1m34 0h1m11 0h1m16 0h1m50 0h1M101 700.6h1m7 0h1m39 0h1m10 0h1m11 0h1m7 0h1m37 0h1m154 0h1m23 0h1m17 0h1m161 0h1M347 720.9h1m10 0h1m29 0h1m6 0h1m55 0h1m139 0h1m100 0h1m15 0h1m15 0h1m60 0h1M109 761.7h1m197 0h1m236 0h1m182 0h1M340 782.1h1m163 0h1m39 0h1m111 0h1m54 0h1m40 0h1M320 802.4h1m7 0h1M511 822.8h1m44 0h2m20 0h1M168 843.2h2m13 0h1m221 0h1m8 0h1m19 0h1m6 0h1m135 0h1m129 0h1M86 863.6h1m6 0h1m19 0h1m10 0h1m117 0h1m3 0h1m208 0h1M174 883.9h1m123 0h1m5 0h1m22 0h1m3 0h1m252 0h1m46 0h1m47 0h1m80 0h1m12 0h1m5 0h1M105 904.3h1m6 0h1m4 0h1m72 0h1m27 0h1m40 0h1m54 0h1m1 0h2m7 0h1m49 0h1m4 0h1m74 0h1m166 0h1m94 0h2m24 0h1m5 0h1m8 0h1m4 0h1m21 0h1M135 924.7h1m181 0h1m80 0h1m5 0h1m17 0h1m8 0h2m5 0h1m3 0h1m91 0h1m39 0h1m93 0h1m74 0h1m17 0h1M200 945.1h1m409 0h1m54 0h1m17 0h1m88 0h1M137 965.4h1m120 0h1m216 0h1m78 0h1M108 985.8h1m272 0h1"/>
<path stroke="#9f819d" stroke-width="20.38" d="M89 191.2h1m27 0h1m6 0h1m13 0h1m74 0h1m3 0h1m44 0h1m59 0h1m9 0h1m3 0h1m21 0h1m14 0h1M165 211.6h1m147 0h1m57 0h2m28 0h1m4 0h1m6 0h1m38 0h1m9 0h1m13 0h1m66 0h1m16 0h1m6 0h1m125 0h1M472 252.3h2M95 272.7h1m16 0h1m4 0h1m3 0h1m118 0h1m53 0h1m178 0h1M268 293.1h1m38 0h1m22 0h1m142 0h1m12 0h1m60 0h1m142 0h1M476 333.8h1m19 0h1m18 0h1m19 0h1m7 0h1m9 0h1m19 0h1M466 354.2h1m24 0h1M169 374.6h1m3 0h1m1 0h1m137 0h1m1 0h1m33 0h1m78 0h1m89 0h1m7 0h1m18 0h1m2 0h1m9 0h1m10 0h1m35 0h1m21 0h1m29 0h1m16 0h1m27 0h1m12 0h1m2 0h1m6 0h1m1 0h1m49 0h1M100 394.9h1m9 0h1m1 0h1m11 0h1m91 0h1M133 415.3h1m19 0h1m11 0h1m4 0h1m8 0h1m91 0h1m1 0h1m12 0h1m37 0h1m22 0h1m37 0h1m21 0h1m13 0h1m29 0h1m90 0h1m27 0h1m3 0h1m2 0h1m17 0h1m41 0h1m46 0h1m45 0h1m5 0h1m9 0h1m3 0h1m28 0h1m2 0h1m2 0h1M193 476.4h1m20 0h1m31 0h1m11 0h1m18 0h1m38 0h1m75 0h2m5 0h1m20 0h1m1 0h1m245 0h1m20 0h1m32 0h2m46 0h1M598 496.8h1M103 517.2h1m93 0h1m39 0h1m198 0h1m10 0h1m178 0h1m13 0h1m7 0h1m47 0h1m37 0h1M561 537.6h1M109 557.9h1m11 0h1m14 0h1m35 0h1m28 0h1m9 0h1m2 0h1m28 0h1m13 0h1m14 0h1m90 0h1m9 0h1m81 0h1m12 0h1m64 0h1m162 0h1m46 0h1m18 0h1M86 619.1h1m19 0h1m10 0h1m15 0h1m34 0h1m11 0h1m7 0h1m3 0h1m58 0h1m1 0h1m11 0h1m11 0h1M86 680.2h1m25 0h1m20 0h1m96 0h1m17 0h1m63 0h1m79 0h1m3 0h1m26 0h1m249 0h1m1 0h1m87 0h1m8 0h1m1 0h1M500 720.9h1m25 0h1M478 741.3h2m6 0h1m3 0h1m77 0h1M95 782.1h1m8 0h1m121 0h1m3 0h1m30 0h1m17 0h1m7 0h1m11 0h1M169 802.4h1m192 0h1m90 0h1m102 0h1m32 0h1m1 0h1m10 0h1m22 0h1m56 0h1m92 0h1M466 883.9h1m42 0h1M466 904.3h1m15 0h1m9 0h1m30 0h1"/>
<path stroke="#af889b" stroke-width="20.38" d="M422 191.2h1m24 0h1m13 0h1m82 0h1m170 0h1M240 231.9h1m127 0h1M621 272.7h1m5 0h1M202 293.1h1m189 0h1m3 0h1m228 0h1m107 0h1m35 0h1m14 0h1M706 333.8h1m26 0h1m45 0h1M98 354.2h1m43 0h1m63 0h1m297 0h1m16 0h1M217 374.6h1m17 0h1m231 0h1M229 435.7h1m311 0h1m82 0h1m58 0h1m91 0h1M500 456.1h1m16 0h1m31 0h1m11 0h1m15 0h1m35 0h1M618 476.4h1m38 0h1m2 0h1M472 496.8h1m62 0h1m107 0h1m96 0h1m28 0h1M368 537.6h1m27 0h1m196 0h1m101 0h1m64 0h1M589 557.9h1m27 0h1M340 578.3h1M267 598.7h1m5 0h1m90 0h1m207 0h1M373 619.1h1M547 639.4h1m150 0h1m6 0h1m32 0h1M206 659.8h1m68 0h1M566 680.2h1m8 0h1M92 700.6h1m90 0h1m121 0h1m299 0h1M600 720.9h1m74 0h1m108 0h1M572 782.1h1M307 802.4h1M554 822.8h1M153 843.2h1m22 0h1m19 0h1m250 0h1m260 0h1m50 0h1M194 863.6h1m9 0h1m14 0h1M216 883.9h1m473 0h1m58 0h1M113 904.3h1m20 0h1m19 0h1m17 0h1m81 0h1m10 0h1m138 0h1m262 0h1m79 0h1m32 0h1M411 924.7h1m89 0h1m30 0h1m5 0h1m52 0h1m105 0h1m53 0h1M545 945.1h1m63 0h1m169 0h1M141 965.4h1M111 985.8h1m127 0h1"/>
<path stroke="#b68c9b" stroke-width="20.38" d="M308 191.2h1m48 0h1m5 0h1M129 211.6h1m25 0h1m198 0h1m119 0h1m14 0h1m3 0h1m76 0h1m66 0h1M401 231.9h1m7 0h1m5 0h1m289 0h1m14 0h2m27 0h1m12 0h1M480 252.3h1M150 272.7h1m27 0h1m68 0h1m2 0h1m37 0h1m111 0h1m60 0h1m84 0h1m34 0h1m113 0h1m9 0h1m10 0h1m4 0h1m53 0h1m8 0h1M239 293.1h1m8 0h1m6 0h1m54 0h1m218 0h1m16 0h1m5 0h1M189 313.4h1m216 0h1m250 0h1M314 333.8h1m1 0h1m171 0h1m11 0h1m36 0h1m40 0h1m26 0h1M480 354.2h1M512 374.6h1m59 0h1m22 0h1m55 0h1m95 0h1M235 394.9h2m10 0h1M128 415.3h1m29 0h1m73 0h1m50 0h1m77 0h1m13 0h1m11 0h1m9 0h1m3 0h1m3 0h1m7 0h1m32 0h1m19 0h1m15 0h1m35 0h1m13 0h1m58 0h1m36 0h1m17 0h1m19 0h1m25 0h1m71 0h1M427 435.7h1M89 476.4h1m90 0h1m48 0h1m94 0h1m450 0h1M96 517.2h1m17 0h1m21 0h1m67 0h1m12 0h1m54 0h1m13 0h1m25 0h1m82 0h1m28 0h1m180 0h1m21 0h1m44 0h1m4 0h2m49 0h1m4 0h1m33 0h1M545 537.6h1M168 557.9h1m22 0h1m40 0h1m3 0h1m28 0h1m294 0h1m189 0h1m10 0h1M450 578.3h1M317 598.7h1m114 0h1m300 0h1M114 619.1h1m23 0h1m15 0h1m24 0h1m6 0h1m37 0h1m76 0h1m243 0h1M621 659.8h1m136 0h1m2 0h1M151 680.2h1m111 0h1m26 0h1m46 0h1m38 0h1m4 0h1m73 0h1m253 0h1M644 700.6h1M473 720.9h1M481 741.3h1m13 0h1m57 0h1m16 0h1m31 0h1m10 0h1m17 0h2M140 782.1h1m188 0h1m55 0h1m3 0h1M207 802.4h1m15 0h1m6 0h1m4 0h1m43 0h2m80 0h1m53 0h1m68 0h1m88 0h1M718 863.6h1M362 883.9h1m10 0h1m39 0h1m22 0h1m11 0h1m51 0h1m72 0h1M562 904.3h1"/>
<path stroke="#c69399" stroke-width="20.38" d="M425 191.2h1m3 0h1m25 0h1m46 0h1m19 0h1m51 0h1m19 0h1m63 0h1m27 0h1m12 0h1m6 0h1M227 231.9h1m34 0h1m6 0h1m299 0h1M198 252.3h1m182 0h1m192 0h1m107 0h1M109 293.1h1m591 0h1m68 0h1M149 313.4h1m182 0h1m194 0h1M265 333.8h1m385 0h1m42 0h1M108 354.2h1m93 0h1m83 0h1m25 0h1m119 0h1m86 0h1m42 0h1m189 0h1M99 374.6h1m111 0h1m16 0h1m21 0h1m38 0h1M179 394.9h1m323 0h1m225 0h1M301 435.7h1m70 0h1m12 0h1m32 0h1m32 0h1m10 0h1m237 0h1m68 0h1M326 456.1h1m188 0h1M482 476.4h1m21 0h1m49 0h1M113 496.8h1m201 0h1m340 0h1m103 0h1M295 537.6h1m386 0h1M624 557.9h1M157 578.3h1m146 0h1m47 0h1m10 0h1m30 0h1M166 598.7h1m140 0h1m8 0h1m5 0h1m3 0h1m431 0h1M438 619.1h1m178 0h1m26 0h1m23 0h1m12 0h1M537 639.4h1m169 0h1m60 0h1M127 659.8h2m223 0h1m37 0h1m152 0h1m164 0h1m54 0h1M519 680.2h1m6 0h1M314 700.6h1m13 0h1M159 720.9h1m203 0h1m3 0h1m247 0h1m110 0h1M586 741.3h1m46 0h1m1 0h1m8 0h1M201 761.7h1m252 0h1m59 0h1M339 782.1h1m43 0h1m6 0h1m4 0h1m59 0h1m57 0h1M320 822.8h1m206 0h1m49 0h1M184 863.6h1m72 0h1m297 0h1m163 0h1M696 883.9h1M274 904.3h1m31 0h1m70 0h1m7 0h1m317 0h1m12 0h1m62 0h1M174 924.7h1m144 0h1m40 0h1m48 0h1m159 0h1M398 945.1h1m171 0h1m111 0h1m62 0h1M351 965.4h1m177 0h1M256 985.8h1"/>
<path stroke="#d59a98" stroke-width="20.38" d="M133 191.2h1m37 0h1m68 0h1m15 0h1M136 211.6h1m53 0h1m29 0h1m8 0h1m51 0h1m21 0h1m3 0h1m84 0h1m4 0h1m142 0h1m11 0h1m28 0h1m43 0h1m25 0h1m24 0h1m29 0h1m3 0h1m73 0h1M398 231.9h1m226 0h1m1 0h1M160 252.3h1m326 0h1M94 272.7h1m57 0h1m50 0h1m101 0h1m192 0h1m171 0h1M238 293.1h1m11 0h1m13 0h1m237 0h1m36 0h1M166 313.4h1m136 0h1m135 0h1m208 0h1M303 333.8h1m162 0h1m56 0h1m57 0h1M470 354.2h1M153 374.6h1m20 0h1m225 0h1m7 0h1m235 0h1M727 394.9h1m55 0h1M101 415.3h1m48 0h1m93 0h1m87 0h1m34 0h1m50 0h1m87 0h1m12 0h1m6 0h2m17 0h1m51 0h1m2 0h1m86 0h1m25 0h1m27 0h1m9 0h1M321 435.7h1m4 0h1m127 0h1M155 476.4h1m8 0h1m20 0h1m53 0h1m12 0h1m69 0h2m89 0h1m186 0h1m106 0h1m22 0h1m21 0h1M588 496.8h1m17 0h1M163 517.2h1m13 0h1m5 0h1m122 0h1m9 0h1m23 0h1m34 0h1m55 0h1m6 0h1m4 0h1m6 0h1m186 0h1m78 0h1m21 0h1m26 0h1M535 537.6h1M94 557.9h1m50 0h1m3 0h1m178 0h1m42 0h1m24 0h1m107 0h1m32 0h1m233 0h1M716 598.7h1m51 0h1M111 619.1h2m36 0h1m89 0h1m15 0h1m73 0h1m230 0h1m15 0h1M587 659.8h1m65 0h1M97 680.2h1m82 0h1m172 0h1m12 0h1m24 0h1m62 0h1m233 0h1m65 0h1m7 0h1m2 0h1M618 700.6h1m1 0h1m21 0h1M472 720.9h1m41 0h1m65 0h1M485 741.3h1m49 0h1m31 0h1m27 0h1M117 782.1h1m29 0h1m102 0h1m14 0h1m7 0h1m17 0h1m6 0h1m113 0h1M246 802.4h1m25 0h1m63 0h1m34 0h1m6 0h1m114 0h1m45 0h1m10 0h1m65 0h1m52 0h1m15 0h1m19 0h1m72 0h1M471 822.8h1M354 883.9h1m42 0h1m73 0h1m70 0h1M486 904.3h1m49 0h1"/>
<path stroke="#707496" stroke-width="20.38" d="M391 191.2h1m35 0h1m13 0h1m182 0h1m51 0h1m64 0h1M243 231.9h1m21 0h1m57 0h1m369 0h1M369 252.3h1m185 0h1m13 0h1m210 0h1M620 272.7h1m30 0h1M397 293.1h1m238 0h1m113 0h1M132 313.4h1m166 0h1M88 354.2h1m11 0h1m53 0h1m15 0h1m205 0h1m149 0h2m146 0h1M130 374.6h1m168 0h1M601 394.9h1M538 456.1h1m217 0h1M540 476.4h1m10 0h1m72 0h1M340 496.8h1m300 0h1m135 0h1M200 578.3h1m5 0h1M579 598.7h1M406 619.1h1m86 0h1m189 0h1M490 639.4h1M253 659.8h1m245 0h1M518 680.2h1m13 0h1m116 0h1M187 700.6h1m286 0h1M114 720.9h1m31 0h1m237 0h1m14 0h2m365 0h1M323 761.7h1M464 782.1h1m146 0h1m75 0h1M312 822.8h1m215 0h1m13 0h1M165 843.2h1m535 0h1M312 863.6h1m17 0h1m352 0h1M145 883.9h1m564 0h1M87 904.3h1m23 0h1m7 0h1m220 0h1m75 0h1m315 0h1m21 0h2M414 924.7h1m97 0h1"/>
<path stroke="#787a94" stroke-width="20.38" d="M214 191.2h1m43 0h1m16 0h1m14 0h1m8 0h1m71 0h1m8 0h1M146 211.6h1m1 0h1m72 0h1m18 0h1m90 0h1m51 0h1m70 0h1m190 0h1m59 0h1m29 0h1m7 0h1m26 0h1M490 252.3h1M480 272.7h1m1 0h1M234 293.1h1m67 0h1m32 0h1M504 333.8h1m1 0h1m59 0h1M404 374.6h1m5 0h1m175 0h1m127 0h1m2 0h1m21 0h1m15 0h1M575 394.9h1M95 415.3h1m18 0h1m14 0h1m44 0h1m16 0h1m206 0h1m17 0h1m123 0h1m57 0h1m99 0h1m27 0h1m41 0h1M262 476.4h2m25 0h1m97 0h1m17 0h1m13 0h1m296 0h1m29 0h1M218 537.6h1m303 0h1m26 0h1m17 0h1M181 557.9h1m34 0h1m3 0h1m70 0h1m57 0h1m77 0h1m12 0h1m13 0h1m30 0h1m9 0h1m2 0h2m49 0h1m16 0h1m209 0h1M193 619.1h1m62 0h1m35 0h1M163 659.8h1M92 680.2h1m13 0h1m7 0h1m33 0h1m77 0h1m1 0h1m81 0h1m10 0h1m27 0h1m90 0h1M581 720.9h1M461 741.3h1m31 0h1M258 782.1h1m42 0h1M184 802.4h1m202 0h1m12 0h1m18 0h1m8 0h1m4 0h1m150 0h1m1 0h1m87 0h1M499 822.8h1M337 883.9h1m28 0h1m23 0h1m18 0h1M499 904.3h1m16 0h1m36 0h1m95 0h1M498 945.1h1M306 965.4h1"/>
<path stroke="#89848f" stroke-width="20.38" d="M469 191.2h1m9 0h1M113 231.9h1m142 0h1m80 0h1m130 0h1m110 0h1M501 252.3h1m28 0h1M640 272.7h1M162 293.1h1m263 0h1m24 0h1M211 313.4h1M263 354.2h1m6 0h1m127 0h1m140 0h1m166 0h1M144 374.6h1m128 0h1m7 0h1M619 394.9h1M569 456.1h1M337 476.4h1M105 496.8h1m552 0h1m51 0h1m13 0h1m17 0h1M415 537.6h1M645 557.9h1M220 578.3h1m26 0h1m82 0h1M276 598.7h1M672 619.1h1m75 0h1M134 639.4h1m606 0h1M478 680.2h1M86 700.6h1m91 0h1m19 0h1m35 0h1m15 0h1m25 0h1m236 0h1m101 0h1m130 0h1M274 720.9h1m19 0h1m42 0h1M112 802.4h1m205 0h1M562 822.8h1M180 843.2h1m240 0h1m24 0h1M310 883.9h1m416 0h1M108 904.3h1m24 0h1m5 0h1m104 0h1M324 924.7h1m93 0h1m123 0h1m21 0h2m9 0h1M730 945.1h1M206 965.4h1M126 985.8h1"/>
<path stroke="#928a8c" stroke-width="20.38" d="M90 191.2h1m6 0h1m45 0h1m18 0h1m3 0h1m26 0h1m4 0h1m17 0h1m3 0h1m18 0h1m14 0h1m11 0h1m11 0h1m70 0h1m17 0h1M110 211.6h1m95 0h1m55 0h1m4 0h1m8 0h1m37 0h1m50 0h1m84 0h1m22 0h1m1 0h1m2 0h1m9 0h1m7 0h1m231 0h1M489 252.3h1M98 272.7h1m49 0h1m17 0h1m15 0h1m7 0h1m11 0h1m24 0h1m10 0h1m37 0h1m40 0h1m21 0h1m27 0h1m2 0h1m39 0h2m37 0h1m37 0h1m68 0h1m191 0h1M229 293.1h1m86 0h1m37 0h1m2 0h1m25 0h1m141 0h1m1 0h1m20 0h1m2 0h1m6 0h1m135 0h1M468 333.8h1m13 0h1m27 0h1m9 0h1m15 0h1m19 0h1m15 0h1M161 374.6h1m5 0h1m3 0h1m9 0h1m15 0h1m3 0h1m183 0h1m21 0h1m5 0h1m86 0h1m34 0h1m17 0h1m71 0h1m69 0h1m4 0h1m18 0h1m14 0h1m23 0h1m17 0h1M106 394.9h1m20 0h1m13 0h1m73 0h1m8 0h1m20 0h1m4 0h1m13 0h1m8 0h1M108 415.3h2m21 0h1m3 0h1m2 0h1m27 0h1m20 0h1m13 0h1m38 0h2m5 0h1m48 0h1m4 0h1m14 0h1m39 0h1m14 0h1m6 0h1m23 0h1m6 0h1m21 0h1m8 0h1m3 0h1m7 0h1m37 0h1m39 0h1m5 0h1m9 0h1m5 0h1m9 0h1m4 0h1m35 0h1m4 0h1m18 0h1m31 0h1m16 0h1m20 0h1m1 0h1m5 0h1m16 0h2m13 0h1m5 0h1m15 0h1m10 0h1m6 0h1m3 0h1M170 476.4h1m155 0h1m62 0h1m24 0h1m27 0h1m158 0h1m3 0h1m4 0h1M592 496.8h1m7 0h1M87 517.2h1m33 0h1m4 0h1m19 0h1m78 0h1m2 0h1m14 0h2m14 0h1m13 0h1m10 0h1m43 0h1m10 0h1m4 0h1m75 0h1m18 0h1m158 0h1m42 0h1m100 0h1m14 0h1m4 0h1m7 0h1M537 537.6h1M106 557.9h1m4 0h1m28 0h1m65 0h1m43 0h1m32 0h1m11 0h1m25 0h1m22 0h1m7 0h1m28 0h1m3 0h1m11 0h1m16 0h1m4 0h1m32 0h1m21 0h1m39 0h1m10 0h1m10 0h1m173 0h2M94 619.1h1m69 0h1m2 0h1m50 0h1m54 0h1m19 0h1M95 680.2h1m6 0h1m34 0h1m41 0h1m22 0h1m44 0h1m17 0h1m111 0h1m31 0h1m2 0h1m6 0h1m264 0h1m15 0h1m3 0h1m5 0h1M464 720.9h1m78 0h1m23 0h1m3 0h1M491 741.3h1m26 0h1m10 0h2m239 0h1m12 0h1M130 782.1h1m85 0h1m5 0h1m4 0h1m58 0h1M157 802.4h1m15 0h1m48 0h1m28 0h1m6 0h1m7 0h1m70 0h1m20 0h1m181 0h1m21 0h2m42 0h1m4 0h1m129 0h1m2 0h1M498 822.8h1M393 883.9h1m21 0h1m35 0h1m56 0h1m9 0h1M485 904.3h1m33 0h1m21 0h1"/>
<path stroke="#a39588" stroke-width="20.38" d="M454 191.2h1m44 0h1m28 0h1m14 0h1m26 0h1m92 0h1m88 0h1M192 231.9h1m92 0h1m42 0h1m33 0h1m18 0h1m82 0h1m8 0h1m59 0h1M359 252.3h1m147 0h1m29 0h1m38 0h1M607 272.7h1m7 0h1m8 0h1m1 0h1m3 0h1m25 0h1M129 293.1h1m51 0h1m231 0h1m9 0h1m31 0h1m198 0h1m58 0h1m35 0h1M260 333.8h1M102 354.2h1m25 0h1m14 0h1m5 0h1m80 0h1m67 0h1m207 0h1m41 0h1m82 0h1m78 0h1M91 374.6h1m53 0h1m126 0h1M606 394.9h1M181 435.7h1m38 0h1m31 0h1m3 0h1m8 0h1M543 456.1h1m11 0h1m14 0h1m8 0h1m103 0h1m10 0h1M377 476.4h1m112 0h1m40 0h1m42 0h1m84 0h1M645 496.8h1m2 0h1M424 537.6h1m39 0h1m31 0h1m2 0h1m116 0h1M606 557.9h1m76 0h1m10 0h1M252 578.3h1m8 0h1M216 598.7h1m133 0h1M403 619.1h1m72 0h1m151 0h1m4 0h1m55 0h1m32 0h1m15 0h1m38 0h1M182 639.4h1m544 0h1m41 0h1M232 659.8h1m444 0h1M592 680.2h1M137 700.6h1m316 0h1M390 720.9h1m44 0h1m328 0h1m9 0h1M152 761.7h1M363 782.1h1m123 0h1m105 0h1m95 0h1m11 0h1m64 0h1M547 822.8h2m11 0h1M409 843.2h1m15 0h1m141 0h1m27 0h1m98 0h1m14 0h1M136 863.6h1m293 0h1m149 0h1M303 883.9h1m367 0h1m42 0h1m7 0h1m13 0h1m9 0h1m10 0h1m12 0h1M90 904.3h1m38 0h1m25 0h1m503 0h1m107 0h1M264 924.7h1m163 0h2m123 0h1m6 0h1m168 0h1M674 945.1h1m71 0h1M222 965.4h1m219 0h1m173 0h1M155 985.8h1"/>
<path stroke="#ac9a85" stroke-width="20.38" d="M105 191.2h1m58 0h1m14 0h1m35 0h1m2 0h1m17 0h1m26 0h1m19 0h1m1 0h1m37 0h1m6 0h1m31 0h1m9 0h1M122 211.6h1m17 0h1m10 0h1m89 0h1m15 0h1m6 0h1m33 0h1m31 0h1m30 0h1m1 0h1m11 0h1m32 0h1m20 0h1m19 0h1m10 0h1m4 0h2m50 0h1m15 0h1m19 0h1m51 0h1m85 0h1m5 0h1m19 0h1m5 0h1m6 0h2m41 0h1M99 272.7h1m64 0h1m11 0h1m2 0h1m11 0h1m13 0h1m18 0h1m43 0h1m5 0h1m24 0h1m14 0h1m22 0h1m31 0h1m22 0h2m1 0h1m16 0h1m56 0h2m4 0h2m6 0h1m52 0h1m16 0h1m19 0h1m118 0h1m37 0h1m10 0h1m10 0h1M273 293.1h1m66 0h1m23 0h1m2 0h1m115 0h1m38 0h1m15 0h1m16 0h1m117 0h1M469 333.8h1m4 0h1m19 0h1m12 0h1m23 0h2m32 0h1M462 354.2h1m6 0h1m1 0h1m4 0h1m11 0h1M154 374.6h1m7 0h1m33 0h1m138 0h1m86 0h1m81 0h1m44 0h1m42 0h1m24 0h1m38 0h1m7 0h1m80 0h1m10 0h1m3 0h1M219 394.9h1m20 0h2m44 0h1M86 415.3h1m30 0h1m16 0h1m25 0h1m6 0h1m8 0h1m3 0h1m17 0h1m43 0h1m41 0h1m6 0h1m25 0h1m32 0h1m40 0h1m7 0h1m6 0h1m22 0h1m7 0h1m7 0h1m16 0h1m7 0h1m17 0h1m3 0h1m3 0h1m11 0h1m4 0h1m3 0h1m5 0h1m19 0h2m2 0h1m24 0h1m47 0h1m27 0h1m31 0h1m2 0h1m37 0h1M119 476.4h1m5 0h1m24 0h1m22 0h1m27 0h1m11 0h1m7 0h1m6 0h1m56 0h1m1 0h1m107 0h1m54 0h1m241 0h1m8 0h1m46 0h1m27 0h1m5 0h1M602 496.8h1M152 517.2h1m3 0h1m11 0h1m5 0h1m6 0h1m8 0h1m31 0h1m11 0h1m12 0h1m4 0h1m14 0h1m45 0h1m9 0h1m110 0h1m5 0h1m153 0h1m27 0h1m1 0h1m7 0h1m5 0h2m2 0h1m1 0h1m11 0h1m36 0h1m49 0h1m6 0h1m17 0h1M527 537.6h1m3 0h1m19 0h1M91 557.9h1m75 0h1m3 0h1m2 0h1m50 0h1m15 0h1m26 0h1m27 0h1m23 0h1m15 0h1m19 0h1m18 0h1m35 0h1m21 0h1m76 0h1m4 0h1m55 0h1m133 0h1m3 0h1m8 0h1M100 619.1h1m49 0h1m120 0h1m12 0h1M134 680.2h1m25 0h1m17 0h1m8 0h1m15 0h1m35 0h1m44 0h1m20 0h1m13 0h1m6 0h1m21 0h1m10 0h1m41 0h1m24 0h1m16 0h1m5 0h1m236 0h1m16 0h1m14 0h1m13 0h1M493 720.9h1m26 0h1m14 0h1M502 741.3h1m17 0h3m1 0h1m36 0h1m15 0h1m148 0h1M122 782.1h1m5 0h1m168 0h1M160 802.4h1m77 0h1m10 0h1m21 0h1m6 0h1m16 0h1m43 0h1m2 0h1m26 0h1m11 0h1m14 0h1m2 0h1m2 0h1m7 0h1m12 0h1m14 0h1m12 0h1m27 0h1m23 0h2m26 0h1m4 0h1m18 0h1m13 0h1m53 0h1m36 0h1m23 0h1m8 0h1m6 0h1m22 0h1m8 0h1m31 0h1m3 0h1m4 0h1M345 883.9h1m5 0h1m31 0h1m56 0h1m20 0h1m34 0h1m39 0h1m34 0h1M468 904.3h1m2 0h2m21 0h1m20 0h1m15 0h1m18 0h1"/>
<path stroke="#bda680" stroke-width="20.38" d="M486 191.2h1m85 0h1m119 0h1m55 0h1m36 0h1M278 231.9h1m248 0h1M578 252.3h1m49 0h1M608 272.7h1m4 0h1M405 293.1h1m208 0h1M670 333.8h1m2 0h1M133 354.2h1m22 0h1m124 0h1m108 0h1m154 0h1m13 0h1m4 0h1m201 0h1M86 374.6h1m129 0h1M254 435.7h1M474 456.1h1m70 0h1M642 476.4h1M655 496.8h1M378 537.6h1m75 0h1M669 578.3h1M213 598.7h1M399 619.1h1m10 0h1m241 0h1m115 0h1M393 639.4h1m20 0h1M259 659.8h1M559 680.2h1m34 0h1M106 700.6h1m68 0h1m164 0h1m85 0h1M677 720.9h1M672 782.1h1m48 0h1M504 822.8h1m28 0h1m4 0h1m11 0h1m12 0h1M200 843.2h1m197 0h1M101 863.6h1m580 0h1M88 883.9h1m239 0h1m394 0h1m41 0h1M118 904.3h1m43 0h1m97 0h1m435 0h1M115 924.7h1m114 0h1m71 0h1m24 0h1m215 0h1m13 0h1m31 0h1m40 0h1m19 0h1m52 0h1M507 945.1h1m259 0h1M243 965.4h1m49 0h1"/>
<path stroke="#c6ab7e" stroke-width="20.38" d="M98 191.2h1m17 0h1m39 0h1m1 0h1m73 0h1m65 0h1m2 0h1M109 211.6h1m39 0h1m2 0h1m174 0h1m1 0h1m38 0h1m18 0h1m52 0h1m2 0h1m77 0h1m15 0h1m8 0h1m19 0h1m4 0h1m28 0h1m70 0h1m97 0h1m4 0h1m8 0h1M477 252.3h1m7 0h1M102 272.7h1m2 0h1m3 0h1m23 0h2m42 0h1m3 0h1m13 0h1m17 0h1m143 0h1m1 0h1m67 0h1m10 0h1m4 0h1m74 0h1m53 0h1m4 0h1m89 0h1m29 0h1m1 0h1m7 0h1m3 0h1m12 0h1m4 0h1m29 0h1m10 0h1M305 293.1h1m69 0h1m88 0h1m36 0h1m5 0h1m18 0h1m7 0h1m26 0h1M473 333.8h1m1 0h1m5 0h1m2 0h2m15 0h1m28 0h1m9 0h1m8 0h1m21 0h1M474 354.2h1m18 0h1M150 374.6h1m165 0h1m263 0h2m42 0h1m108 0h1m15 0h1m3 0h2m4 0h1m3 0h1M86 394.9h1m3 0h1m134 0h1m39 0h1M178 415.3h1m21 0h1m19 0h1m73 0h1m49 0h1m9 0h1m4 0h1m6 0h1m63 0h1m42 0h2m80 0h1m3 0h2m163 0h1m2 0h1m10 0h1m33 0h1M442 435.7h1M127 476.4h1m58 0h1m8 0h1m30 0h1m69 0h1m21 0h1m71 0h1m299 0h1m7 0h1M610 496.8h1M105 517.2h2m4 0h1m17 0h1m109 0h1m43 0h1m30 0h2m46 0h1m9 0h1m19 0h1m23 0h1m183 0h1m12 0h1m39 0h1m55 0h1m34 0h2m39 0h1M517 537.6h1m11 0h1M157 557.9h1m15 0h1m23 0h1m53 0h1m9 0h1m89 0h1m36 0h1m95 0h1m72 0h1m219 0h1M709 598.7h1M96 619.1h1m31 0h1m46 0h1m8 0h1m47 0h1m52 0h1M420 659.8h1m185 0h1M116 680.2h1m44 0h1m30 0h1m56 0h1m186 0h1m227 0h1m31 0h1m34 0h1M621 700.6h1m13 0h1M484 720.9h1m65 0h1M545 741.3h1m185 0h1m36 0h1M111 782.1h1m122 0h1m40 0h1m7 0h1M262 802.4h1m18 0h1m3 0h1m4 0h1m81 0h1m20 0h1m69 0h1m21 0h1m23 0h1m25 0h1m12 0h1m65 0h1m83 0h2m8 0h1m13 0h1m16 0h1m17 0h1m13 0h1M469 822.8h1m8 0h1M349 883.9h1m6 0h1m62 0h1m7 0h1m44 0h1m28 0h1m32 0h1m21 0h1m24 0h1M521 904.3h1m12 0h1m2 0h1m29 0h1"/>
<path stroke="#d7b679" stroke-width="20.38" d="M546 191.2h1m113 0h1M106 231.9h1m100 0h1M587 272.7h1m35 0h1m21 0h1M430 293.1h1m216 0h1M740 313.4h1M362 333.8h1M197 354.2h1m193 0h1m55 0h1m63 0h1m2 0h1m26 0h1M546 394.9h1m39 0h1M306 435.7h1m57 0h1m380 0h1M520 456.1h1m37 0h1M346 476.4h1m24 0h1M94 496.8h1m549 0h1m63 0h1m20 0h1m48 0h1M299 537.6h1m121 0h1M610 557.9h1m36 0h1m3 0h1M282 578.3h1M281 598.7h1m75 0h1m193 0h1M568 619.1h1m38 0h1m157 0h1M177 639.4h1m370 0h1m173 0h1M529 659.8h1M471 680.2h1m17 0h1m23 0h1m22 0h1m12 0h1M120 700.6h1m17 0h1m134 0h1m279 0h1M320 720.9h1m14 0h1m269 0h1m103 0h1M621 782.1h1m64 0h1M161 822.8h1m34 0h1m311 0h1M173 843.2h1M409 863.6h1M778 883.9h1M136 904.3h1m27 0h1m23 0h1m158 0h1m67 0h1M172 924.7h1m346 0h1m5 0h1m24 0h1m131 0h1M138 945.1h1m393 0h1M285 965.4h1M265 985.8h1m16 0h1m171 0h1"/>
<path stroke="#e8c174" stroke-width="20.38" d="M102 191.2h1m138 0h1m7 0h1m127 0h1M171 211.6h1m12 0h1m59 0h1m26 0h1m23 0h1m90 0h1m113 0h1m14 0h1m63 0h1m144 0h1m30 0h1m3 0h1M715 231.9h1m6 0h1M92 272.7h1m15 0h1m63 0h1m12 0h1m10 0h1m154 0h1m79 0h1m54 0h1m27 0h1m50 0h1m107 0h1m17 0h1m10 0h1m5 0h1m1 0h1m35 0h1m15 0h1m9 0h1m8 0h1m1 0h1M242 293.1h1m85 0h1m132 0h1m28 0h1m1 0h1m47 0h1m1 0h1m38 0h1m87 0h1M489 333.8h1m5 0h1m43 0h1m2 0h1m5 0h1m8 0h1M302 374.6h1m6 0h1m117 0h1m184 0h1m3 0h1m12 0h1m23 0h1m17 0h1m49 0h1m9 0h1M88 394.9h1m45 0h1m2 0h1m111 0h1M90 415.3h1m39 0h1m28 0h1m24 0h1m19 0h1m1 0h1m19 0h1m111 0h1m2 0h1m61 0h1m51 0h1m73 0h1m43 0h1m27 0h1m80 0h1m3 0h1m27 0h2M319 435.7h1m69 0h1m4 0h1m53 0h1M90 476.4h1m39 0h1m143 0h1m5 0h1m5 0h1m15 0h1m3 0h1m101 0h1m179 0h1m86 0h1m23 0h1M601 496.8h1M88 517.2h1m24 0h1m10 0h1m35 0h1m17 0h1m81 0h1m7 0h1m1 0h1m16 0h1m32 0h1m26 0h1m36 0h1m23 0h1m8 0h2m241 0h1m5 0h1m2 0h1m41 0h1m5 0h1m19 0h1m40 0h1M575 537.6h1M93 557.9h1m9 0h1m55 0h1m43 0h1m58 0h1m42 0h1m2 0h1m53 0h1m13 0h2m21 0h1m31 0h1m5 0h1m8 0h1m331 0h1m1 0h1M783 598.7h1M91 619.1h1m5 0h1m1 0h1m2 0h1m15 0h1m17 0h1m39 0h1M204 680.2h1m2 0h1m30 0h1m41 0h1m49 0h1m55 0h1m12 0h1m11 0h1m354 0h1M654 700.6h1M470 720.9h1m50 0h1m20 0h1m18 0h1M494 741.3h1m38 0h1m117 0h1m75 0h1m43 0h1M90 782.1h1m11 0h1m29 0h1M263 802.4h1m126 0h1m6 0h1m14 0h1m77 0h1m58 0h1m10 0h1m4 0h1m6 0h1m35 0h1m22 0h1m5 0h1m99 0h1m32 0h1M379 883.9h1m112 0h1m17 0h1m21 0h1M496 904.3h1m23 0h1m1 0h1m5 0h1m40 0h1m2 0h1m4 0h1"/>
<path stroke="#727c8c" stroke-width="20.38" d="M606 191.2h1M145 231.9h1m147 0h1m86 0h1m308 0h1M651 293.1h1m67 0h1m28 0h1M419 333.8h1M94 374.6h1m379 0h1m2 0h1M368 476.4h1m266 0h1m12 0h1M619 496.8h1M225 598.7h1M352 619.1h1m16 0h1M163 639.4h1m553 0h1M168 659.8h1M325 700.6h1M172 761.7h1M314 802.4h1M515 822.8h1M137 904.3h1m15 0h1m199 0h1m20 0h1m356 0h1M320 924.7h1m19 0h1m232 0h1M112 945.1h1"/>
<path stroke="#7b8388" stroke-width="20.38" d="M86 191.2h1m107 0h1m12 0h1m16 0h1m5 0h1m17 0h1m11 0h1m10 0h1m10 0h1m28 0h1m62 0h1M121 211.6h1m105 0h1m83 0h1m11 0h1m109 0h1m10 0h1m35 0h1m51 0h1m24 0h1m5 0h1M460 252.3h1M514 333.8h1m26 0h1M482 354.2h1M330 374.6h1m28 0h1m88 0h1m89 0h1m29 0h1m25 0h1m147 0h2m27 0h2M116 394.9h1M110 415.3h1m13 0h1m17 0h1m167 0h1m189 0h1m130 0h1m35 0h1m26 0h1m1 0h1m23 0h1m50 0h1m1 0h1M403 476.4h1m42 0h1m168 0h1M599 496.8h1M618 517.2h1M547 537.6h1M298 557.9h1m47 0h1m79 0h1m40 0h1m305 0h1M153 619.1h1m109 0h1M246 680.2h1m11 0h1m20 0h1m31 0h1m77 0h1m60 0h1m212 0h1m18 0h1M540 720.9h1m11 0h1m11 0h1M92 782.1h1m7 0h1m28 0h1m114 0h1M205 802.4h1m221 0h1m20 0h1m148 0h1m96 0h1m34 0h1m33 0h1M346 883.9h1m28 0h1m74 0h1M476 904.3h1m13 0h1"/>
<path stroke="#8e917f" stroke-width="20.38" d="M758 191.2h1M92 231.9h1m43 0h1M253 354.2h1m10 0h1m307 0h1M284 374.6h1M614 394.9h1M413 456.1h1m149 0h1M626 557.9h1M90 578.3h1M102 598.7h1M347 619.1h1m366 0h1M506 680.2h1M105 700.6h1m658 0h1M185 720.9h1m218 0h1M722 782.1h1M748 883.9h1M102 904.3h1m294 0h1m366 0h1m16 0h1M318 924.7h1M114 965.4h1"/>
<path stroke="#97987b" stroke-width="20.38" d="M126 191.2h1m5 0h1m12 0h1m40 0h1m68 0h1m20 0h1m4 0h1m2 0h1m54 0h1m3 0h1M132 211.6h1m54 0h1m60 0h2m10 0h2m18 0h1m20 0h1m45 0h1m32 0h1m22 0h1m22 0h1m34 0h1m22 0h1m23 0h1m20 0h1m14 0h1m2 0h1m20 0h1m5 0h1m21 0h1m26 0h1m153 0h1M492 252.3h1M115 272.7h1m4 0h1m24 0h1m3 0h1m6 0h1m71 0h1m35 0h1m14 0h1m72 0h1m9 0h1m84 0h1m7 0h1m7 0h1m1 0h1m2 0h1m44 0h1m40 0h1m134 0h1m4 0h1m18 0h1m18 0h1m2 0h1M220 293.1h1m93 0h1m11 0h2m37 0h1m133 0h1m13 0h1m39 0h1m2 0h1m6 0h1m15 0h1M460 333.8h1m42 0h1m24 0h1M461 354.2h1m30 0h1M191 374.6h1m135 0h1m3 0h1m64 0h1m144 0h1m86 0h1m67 0h1m12 0h1m47 0h1M95 394.9h1m126 0h1m28 0h1m1 0h1m5 0h1m2 0h1m13 0h1m21 0h1M97 415.3h1m5 0h1m40 0h1m1 0h1m17 0h1m40 0h1m17 0h1m6 0h1m36 0h1m1 0h1m32 0h1m11 0h1m25 0h1m59 0h1m49 0h1m43 0h1m6 0h1m23 0h1m70 0h1m73 0h1m18 0h1m16 0h1M112 476.4h1m31 0h1m62 0h1m405 0h1m129 0h1m1 0h1M100 517.2h1m8 0h1m17 0h1m4 0h1m2 0h1m66 0h1m3 0h1m24 0h1m23 0h1m8 0h1m30 0h1m41 0h1m31 0h1m42 0h1m35 0h1m141 0h1m4 0h1m19 0h1m17 0h1m9 0h1m6 0h1m17 0h1m16 0h1m14 0h1m65 0h1M511 537.6h2m8 0h1m43 0h1M155 557.9h1m10 0h1m48 0h1m2 0h1m16 0h1m23 0h1m15 0h2m37 0h1m7 0h1m31 0h1m94 0h1m20 0h1m18 0h1m51 0h1m1 0h1m159 0h1m15 0h2m25 0h1m12 0h1m12 0h1M123 619.1h1m1 0h1m4 0h1m34 0h1m51 0h1m22 0h1m20 0h1m4 0h1m3 0h1m10 0h1m9 0h1M150 680.2h1m4 0h1m6 0h2m2 0h1m4 0h1m1 0h1m21 0h2m81 0h1m63 0h1m9 0h1m20 0h1m58 0h1m241 0h1m41 0h1m18 0h1m49 0h1M469 720.9h1m17 0h1m4 0h1m60 0h1M463 741.3h1m70 0h1m202 0h1m24 0h1M109 782.1h1m128 0h1M240 802.4h1m2 0h1m17 0h1m15 0h1m9 0h1m12 0h1m67 0h1m5 0h1m14 0h1m14 0h1m13 0h1m26 0h1m48 0h1m20 0h1m41 0h1m75 0h1m30 0h1m5 0h1m5 0h1m14 0h1m34 0h1m39 0h1M464 822.8h1M367 883.9h1m31 0h1m80 0h1m50 0h1m26 0h1m4 0h1m2 0h1M506 904.3h1m22 0h1"/>
<path stroke="#a9a673" stroke-width="20.38" d="M388 191.2h1m41 0h1m75 0h1m14 0h1M147 231.9h1m140 0h1M525 252.3h1m17 0h1M594 272.7h1M631 293.1h1m92 0h1m48 0h1M719 313.4h1M97 354.2h1m65 0h1m17 0h1m31 0h1m27 0h1m32 0h1m245 0h1m143 0h1M227 374.6h1M486 435.7h1m130 0h1M232 456.1h1m271 0h1M638 476.4h1M631 496.8h1m138 0h1m14 0h1M615 537.6h1m17 0h1M608 557.9h1M264 578.3h1m492 0h1M608 598.7h1m83 0h1M407 619.1h1m295 0h1m6 0h1m56 0h1m14 0h1M158 639.4h1m347 0h1m55 0h1m219 0h1M510 680.2h1m125 0h1M126 700.6h1m29 0h1m44 0h1m118 0h1M456 720.9h1m248 0h1m21 0h1M455 761.7h1M497 782.1h1M323 802.4h2M532 822.8h1M306 843.2h1m6 0h1m7 0h1m300 0h1M164 863.6h1m403 0h1M694 883.9h1m63 0h1M148 904.3h1m197 0h1m365 0h1M412 924.7h1m13 0h1M177 965.4h1m285 0h1M149 985.8h1"/>
<path stroke="#b2ac6e" stroke-width="20.38" d="M93 191.2h1m28 0h1m12 0h1m64 0h1m18 0h1m5 0h1m31 0h1m46 0h1M87 211.6h1m6 0h1m13 0h1m2 0h1m133 0h1m8 0h1m15 0h1m12 0h1m36 0h1m24 0h1m39 0h1m50 0h1m9 0h1m38 0h1m1 0h1m35 0h1m25 0h1m172 0h1m30 0h1M476 252.3h1M114 272.7h1m13 0h1m12 0h1m9 0h1m5 0h2m2 0h1m5 0h1m55 0h1m35 0h1m5 0h1m6 0h1m2 0h1m25 0h1m43 0h1m12 0h1m37 0h1m7 0h1m1 0h1m104 0h1m49 0h1m5 0h1m130 0h1m1 0h2m40 0h1m24 0h2M259 293.1h1m121 0h1m99 0h1m9 0h1m74 0h1m11 0h1M471 333.8h1m5 0h1m82 0h1m13 0h1M460 354.2h1m14 0h1m5 0h1M172 374.6h1m131 0h1m13 0h1m1 0h1m4 0h1m28 0h1m54 0h1m10 0h1m4 0h1m6 0h1m216 0h1m2 0h1m23 0h1m29 0h2m43 0h1M111 394.9h1m106 0h1m53 0h1M88 415.3h1m59 0h1m3 0h1m1 0h1m42 0h1m33 0h1m43 0h1m13 0h1m125 0h1m31 0h1m19 0h1m11 0h1m22 0h2m7 0h1m66 0h1m2 0h1m20 0h1m1 0h1m53 0h1m12 0h1m28 0h1m46 0h1M159 476.4h1m3 0h1m5 0h1m19 0h1m1 0h1m38 0h1m69 0h1m2 0h1m15 0h1m116 0h1m158 0h1m69 0h2m57 0h1m49 0h1M586 496.8h1M141 517.2h1m33 0h1m66 0h1m3 0h1m3 0h1m26 0h1m15 0h1m5 0h1m4 0h1m3 0h1m39 0h1m9 0h1m60 0h1m8 0h1m162 0h1m15 0h1m23 0h1m32 0h1m17 0h1m5 0h3m78 0h1m10 0h1M506 537.6h2m20 0h1m17 0h1m22 0h1M95 557.9h1m33 0h1m7 0h2m78 0h1m16 0h1m49 0h1m4 0h2m78 0h1m28 0h1m52 0h1m4 0h1m15 0h2m5 0h1m1 0h1m5 0h2m22 0h1m12 0h1m13 0h1m28 0h1m148 0h1m38 0h1m4 0h1M173 619.1h1m22 0h1m31 0h1m8 0h1m4 0h1m17 0h1m3 0h1M99 680.2h1m52 0h1m5 0h1m39 0h1m77 0h1m87 0h1m20 0h1m29 0h1m305 0h2m26 0h1m11 0h1M468 720.9h1m5 0h1m8 0h1m11 0h1m43 0h1M487 741.3h1m60 0h1m168 0h1m22 0h1m16 0h1M99 782.1h1m25 0h1m1 0h1m15 0h1m107 0h1M166 802.4h1m9 0h1m3 0h1m14 0h1m5 0h1m30 0h1m6 0h1m24 0h1m11 0h1m11 0h1m3 0h1m4 0h1m51 0h1m4 0h1m4 0h1m7 0h1m23 0h1m16 0h1m20 0h1m31 0h1m4 0h1m34 0h1m28 0h1m44 0h1m54 0h1m102 0h1m24 0h1M371 883.9h1m8 0h1m8 0h1m6 0h1m11 0h1m34 0h1m19 0h1m13 0h1m5 0h1m7 0h1m78 0h1m3 0h1M484 904.3h1m6 0h1m1 0h1m4 0h1m18 0h1m15 0h1m6 0h1m4 0h2m1 0h1m5 0h1m8 0h1m1 0h1"/>
<path stroke="#c4ba66" stroke-width="20.38" d="M419 191.2h1m110 0h1m202 0h1M86 231.9h1M545 252.3h1m10 0h1M654 272.7h2M185 293.1h1M447 333.8h1M94 354.2h1M665 435.7h1M522 456.1h1M556 476.4h1M623 496.8h1M474 537.6h1m223 0h1M664 557.9h1m10 0h1M717 619.1h1M486 680.2h1m93 0h1M100 700.6h1m14 0h1M245 720.9h1m102 0h1M690 741.3h1M391 843.2h1M307 883.9h1m384 0h1m58 0h1M86 904.3h1m57 0h1m113 0h1M620 924.7h1"/>
<path stroke="#cdc162" stroke-width="20.38" d="M101 191.2h1m8 0h1m157 0h1m96 0h1M98 211.6h1m64 0h1m6 0h1m138 0h1m18 0h1m236 0h1m46 0h1m3 0h1m41 0h1m18 0h1m37 0h1m20 0h1M496 252.3h1M175 272.7h1m31 0h1m9 0h1m1 0h1m25 0h1m77 0h1m20 0h1m27 0h1m6 0h1m1 0h1m1 0h1m17 0h1m13 0h1m7 0h1m1 0h1m62 0h1m66 0h1m123 0h1m32 0h1m9 0h1m2 0h1m10 0h1m1 0h1m6 0h1m7 0h1m28 0h1M497 293.1h1m21 0h1m10 0h1m36 0h1M464 333.8h1m22 0h1m38 0h1M203 374.6h1m247 0h1m127 0h1m63 0h1m45 0h1m62 0h1M99 394.9h1M221 415.3h1m7 0h1m19 0h1m15 0h1m49 0h1m6 0h1m51 0h1m105 0h1m197 0h1m33 0h1m12 0h1M106 476.4h1m26 0h1m1 0h1m36 0h1m9 0h1m44 0h1m23 0h1m21 0h1m18 0h1m18 0h1m1 0h1m6 0h1m80 0h1m207 0h1m69 0h1M102 517.2h1m47 0h1m13 0h1m20 0h1m15 0h1m74 0h1m21 0h1m2 0h2m7 0h1m13 0h1m16 0h2m20 0h1m6 0h2m11 0h1m1 0h1m25 0h1m11 0h1m206 0h1m101 0h1m3 0h1m36 0h1M573 537.6h1M183 557.9h1m63 0h1m4 0h1m13 0h1m262 0h1m223 0h1M89 619.1h1m17 0h1m18 0h1m16 0h1m4 0h1m9 0h1m55 0h1m7 0h1m63 0h1M98 680.2h1m19 0h1m24 0h1m30 0h2m9 0h1m15 0h1m71 0h1m43 0h1m439 0h1M488 741.3h1m62 0h1m204 0h1M224 782.1h1M219 802.4h1m30 0h1m4 0h1m26 0h1m11 0h1m56 0h1m46 0h1m33 0h1m7 0h1m11 0h1m11 0h1m9 0h1m13 0h1m7 0h1m32 0h1m50 0h2m46 0h1m13 0h1M370 883.9h1m33 0h1m73 0h1m23 0h1m14 0h1m6 0h1m1 0h1M462 904.3h1m24 0h1m12 0h1"/>
<path stroke="#dfcf59" stroke-width="20.38" d="M393 191.2h1m44 0h1m24 0h1m301 0h1M109 231.9h1M509 252.3h1m31 0h1m6 0h1m2 0h1M410 293.1h1M701 333.8h1M289 354.2h1m112 0h1m140 0h1M290 374.6h1m198 0h1M617 476.4h1M687 496.8h1M609 557.9h1m46 0h1M353 619.1h1m9 0h1m385 0h1M225 639.4h1m446 0h1m94 0h1m2 0h1M196 659.8h1m148 0h1m3 0h1m172 0h1M608 680.2h1M356 720.9h1M188 741.3h1M510 822.8h1M418 843.2h1M456 863.6h1M767 883.9h1M126 904.3h1M234 924.7h1"/>
<path stroke="#f1dc51" stroke-width="20.38" d="M328 191.2h1M116 211.6h1m8 0h1m24 0h1m15 0h1m27 0h1m273 0h1m29 0h1m99 0h1m48 0h1M466 252.3h1M143 272.7h1m15 0h1m20 0h1m11 0h1m7 0h1m84 0h1m46 0h1m9 0h1m10 0h1m24 0h1m12 0h1m28 0h1m46 0h1m29 0h1m11 0h1m2 0h1m24 0h1m5 0h1m19 0h1m2 0h1m12 0h1m96 0h1m4 0h1m4 0h1m78 0h1m12 0h1M300 293.1h1m187 0h1m16 0h1m26 0h1m150 0h1M502 333.8h1m55 0h1M179 374.6h1m128 0h1m97 0h1m48 0h1m152 0h1m12 0h1m60 0h1m4 0h1m49 0h1M226 394.9h1m56 0h1m7 0h1M132 415.3h1m60 0h1m9 0h1m24 0h1m30 0h1m52 0h1m45 0h1m1 0h1m71 0h1m3 0h1m91 0h1m19 0h2M95 476.4h1m17 0h1m14 0h1m38 0h1m49 0h1m57 0h1m19 0h1m16 0h1m19 0h1m112 0h1m295 0h1M108 517.2h1m8 0h1m16 0h1m4 0h2m1 0h1m10 0h1m8 0h1m6 0h1m1 0h1m94 0h1m27 0h1m10 0h1m19 0h1m60 0h1m14 0h1m2 0h2m7 0h1m1 0h1m5 0h1m27 0h1m3 0h1m108 0h1m82 0h1m28 0h1m46 0h1m7 0h1m51 0h1M543 537.6h1M116 557.9h1m3 0h1m66 0h1m8 0h1m27 0h1m38 0h1m52 0h1m12 0h1m62 0h2m11 0h1M110 619.1h1m36 0h1m64 0h1m17 0h1m4 0h1m39 0h1M105 680.2h1m2 0h1m11 0h1m26 0h1m24 0h1m11 0h1m4 0h1m587 0h1M514 741.3h1m47 0h1m113 0h1m29 0h1m12 0h1m9 0h1m14 0h2m15 0h1m13 0h1m6 0h1M231 802.4h1m20 0h1m14 0h1m73 0h1m134 0h1m4 0h1m84 0h1m145 0h1m64 0h1M340 883.9h1m184 0h1m50 0h1M460 904.3h1m63 0h1m35 0h1"/>
<path stroke="#75817b" stroke-width="20.38" d="M528 252.3h1M600 272.7h1M263 374.6h1M533 476.4h1M360 720.9h1M309 863.6h1"/>
<path stroke="#7e8974" stroke-width="20.38" d="M144 191.2h1m1 0h1m106 0h1M124 211.6h1m314 0h1m119 0h1m104 0h1M482 252.3h1M552 333.8h1m16 0h1M435 374.6h1m18 0h1m58 0h1m158 0h1m12 0h1M248 394.9h1M163 415.3h1m142 0h1m87 0h1m59 0h1m113 0h1m10 0h1m178 0h1m6 0h1M231 476.4h1M530 537.6h1M273 557.9h1m148 0h1m16 0h1m124 0h1M243 680.2h1m187 0h1M528 720.9h1m9 0h1m33 0h1M525 741.3h1m33 0h1m9 0h1M131 782.1h1M194 802.4h1m236 0h1m302 0h1M411 883.9h1m10 0h1M470 904.3h1"/>
<path stroke="#919866" stroke-width="20.38" d="M134 231.9h1M563 252.3h1M246 374.6h1m228 0h1M354 476.4h1M625 598.7h1M713 720.9h1M190 761.7h1M527 924.7h1"/>
<path stroke="#9aa060" stroke-width="20.38" d="M106 191.2h1m29 0h1m28 0h1m23 0h1m6 0h1m6 0h1m7 0h1m114 0h1M93 211.6h1m80 0h1m40 0h1m1 0h1m8 0h1m25 0h1m24 0h2m6 0h1m125 0h1m91 0h1m16 0h1m15 0h1m36 0h1m6 0h1m63 0h1M93 272.7h1m9 0h1m9 0h1m60 0h1m94 0h1m27 0h1m23 0h1m102 0h1m14 0h1m1 0h1m6 0h1m45 0h1m30 0h1m52 0h1m96 0h1m1 0h2m9 0h1m28 0h1m9 0h1m33 0h1m17 0h1M460 293.1h1m9 0h1m5 0h1m1 0h1m3 0h1m32 0h1m5 0h1m49 0h1m100 0h1M512 333.8h1m3 0h1m5 0h1m4 0h1m52 0h1M157 374.6h1m7 0h1m145 0h1m65 0h1m71 0h2m163 0h1m105 0h1m5 0h1m51 0h1M97 394.9h1m116 0h1m37 0h1m13 0h1M96 415.3h1m137 0h1m4 0h1m14 0h1m27 0h1m112 0h1m82 0h1m41 0h1m90 0h1m51 0h1m31 0h1M120 476.4h1m13 0h1m10 0h1m14 0h1m22 0h1m16 0h1m32 0h1m10 0h1m23 0h1m9 0h1m144 0h1m293 0h1M180 517.2h1m1 0h1m5 0h1m6 0h2m30 0h1m4 0h1m21 0h1m1 0h1m6 0h1m5 0h1m8 0h1m2 0h1m36 0h1m34 0h1m20 0h1m12 0h1m39 0h1m184 0h1m58 0h1m20 0h1m9 0h1m50 0h1M568 537.6h1m2 0h1M170 557.9h1m114 0h1m115 0h1m23 0h1m9 0h1m5 0h1m89 0h1m29 0h1m177 0h1m1 0h1M98 619.1h1m23 0h1m9 0h1m44 0h1m72 0h1m8 0h1m28 0h1M188 680.2h1m115 0h1m105 0h1m319 0h1m7 0h1M472 741.3h1m33 0h1m35 0h1m167 0h1M223 782.1h1M150 802.4h1m4 0h1m47 0h1m11 0h1m4 0h1m48 0h1m144 0h1m20 0h1m29 0h1m6 0h1m18 0h1m95 0h1m21 0h1m19 0h1m49 0h1m12 0h1m66 0h1m20 0h1M342 883.9h1m29 0h1m1 0h1m32 0h1m82 0h1m29 0h1m18 0h1m7 0h1m17 0h1M479 904.3h1m62 0h1"/>
<path stroke="#adaf52" stroke-width="20.38" d="M277 231.9h1M588 272.7h1m69 0h1M166 354.2h1m414 0h1M620 394.9h1M622 476.4h1M633 496.8h1m125 0h1M629 557.9h1M138 598.7h1M731 619.1h1m27 0h1M93 700.6h1m25 0h1m65 0h1M102 761.7h1m95 0h1M552 782.1h1m151 0h1M186 843.2h1M173 863.6h1m445 0h1M708 883.9h1M206 904.3h1M523 924.7h1M740 945.1h1"/>
<path stroke="#b7b64b" stroke-width="20.38" d="M88 191.2h1m116 0h1m17 0h1m11 0h1m8 0h1m1 0h1m40 0h1m31 0h1M141 211.6h1m1 0h1m35 0h1m23 0h1m7 0h1m1 0h1m70 0h1m114 0h1m77 0h1m3 0h1m56 0h1m117 0h1m93 0h1M140 272.7h1m29 0h1m12 0h1m4 0h1m26 0h1m16 0h1m13 0h1m4 0h1m9 0h1m8 0h1m15 0h2m24 0h1m3 0h1m69 0h3m10 0h1m3 0h1m25 0h1m44 0h1m2 0h1m14 0h1m34 0h1m22 0h1m9 0h1m9 0h1m5 0h1m86 0h1m1 0h1m2 0h1m68 0h1m5 0h1m10 0h1m8 0h1M285 293.1h1m191 0h1m46 0h1m32 0h1m10 0h1m97 0h1M483 333.8h1m50 0h1M490 354.2h1m5 0h1M170 374.6h1m139 0h1m10 0h1m18 0h1m20 0h1m69 0h1m166 0h1m47 0h1M104 394.9h1m17 0h1m131 0h1m44 0h1M111 415.3h1m11 0h1m32 0h1m32 0h1m43 0h1m14 0h1m15 0h1m7 0h1m12 0h1m51 0h1m5 0h1m26 0h1m43 0h1m20 0h1m33 0h1m16 0h1m8 0h1m147 0h1m35 0h1m49 0h1m24 0h2m13 0h1m13 0h1M110 476.4h1m7 0h1m29 0h1m4 0h1m34 0h1m8 0h1m13 0h1m25 0h1m2 0h1m19 0h1m193 0h1m256 0h1m47 0h1M89 517.2h1m2 0h1m4 0h1m6 0h1m25 0h2m17 0h1m1 0h1m13 0h1m13 0h1m4 0h1m8 0h2m4 0h1m21 0h1m2 0h1m102 0h1m2 0h1m14 0h1m5 0h1m26 0h1m1 0h2m8 0h1m44 0h1m172 0h1m5 0h1m55 0h1m8 0h1m3 0h1m10 0h1m10 0h2m68 0h1M96 557.9h1m115 0h1m20 0h1m46 0h1m56 0h1m71 0h1m37 0h1m18 0h1m53 0h1m33 0h1m24 0h1M90 619.1h1m38 0h1m22 0h1m16 0h1m82 0h1m34 0h1M111 680.2h1m9 0h1m42 0h1m2 0h2m174 0h1m328 0h1m12 0h1m1 0h1m70 0h1M496 720.9h1m65 0h1M469 741.3h1m57 0h1m179 0h1m15 0h1m25 0h1m15 0h1M275 802.4h1m17 0h1m155 0h1m33 0h1m2 0h1m8 0h1m2 0h1m25 0h1m16 0h1m5 0h1m115 0h1m57 0h1M485 822.8h1M343 883.9h1m19 0h1m111 0h1m17 0h3m32 0h2m3 0h1m15 0h1m9 0h1m8 0h1M483 904.3h1m84 0h1m2 0h1"/>
<path stroke="#cac63d" stroke-width="20.38" d="M250 231.9h1M418 293.1h1m349 0h1M721 435.7h1M515 517.2h1M150 700.6h1m31 0h1M389 720.9h1M146 741.3h1m284 0h1M331 802.4h1M522 822.8h1"/>
<path stroke="#d3cd36" stroke-width="20.38" d="M159 191.2h1m187 0h1M292 211.6h1m25 0h1m128 0h1m61 0h1m8 0h1m31 0h1m206 0h1m8 0h1m12 0h1M90 272.7h1m28 0h1m5 0h1m58 0h1m16 0h1m19 0h1m27 0h1m2 0h1m29 0h1m42 0h1m23 0h2m31 0h1m83 0h1m43 0h1m10 0h1m2 0h1m6 0h1m15 0h1m135 0h1m25 0h1m5 0h1m7 0h1m32 0h1m14 0h1M324 293.1h1m43 0h1m140 0h1m26 0h1m12 0h1m25 0h1M480 333.8h1m5 0h1m12 0h1m8 0h1m35 0h1m5 0h1M467 354.2h1M434 374.6h1m140 0h1m13 0h1m179 0h1M278 394.9h1M100 415.3h1m136 0h1m15 0h1m8 0h1m29 0h2m51 0h1m74 0h1m28 0h1m14 0h1m12 0h1m76 0h1m2 0h1m102 0h1m3 0h1M88 476.4h1m50 0h1m18 0h1m105 0h1M161 517.2h1m5 0h1m5 0h1m15 0h1m164 0h1m13 0h1m83 0h1m214 0h1m8 0h1m30 0h1m52 0h1m16 0h1m5 0h1M162 557.9h1m50 0h1m165 0h1m48 0h1m74 0h1m70 0h1m139 0h1M87 619.1h1m39 0h1m7 0h1m70 0h1m14 0h1m47 0h1M183 680.2h1m2 0h1m113 0h1m2 0h1m415 0h1M785 741.3h1M270 802.4h1m12 0h1m76 0h1m14 0h1m48 0h1m77 0h1m13 0h1m37 0h1m196 0h1M358 883.9h1m111 0h1m74 0h1m2 0h1m5 0h2m5 0h1M461 904.3h1m64 0h1"/>
<path stroke="#e6dd28" stroke-width="20.38" d="M445 191.2h1M212 231.9h1M665 333.8h1M669 496.8h1M288 537.6h1M93 741.3h1m42 0h1m56 0h1m99 0h1m53 0h1m324 0h1m20 0h2M651 782.1h1M579 822.8h1M312 843.2h1M445 863.6h1M241 904.3h1m535 0h1M112 985.8h1"/>
<path stroke="#f9ec1a" stroke-width="20.38" d="M199 191.2h1M99 211.6h1m93 0h1m313 0h1m22 0h1m232 0h1M462 252.3h1m18 0h1m4 0h1M160 272.7h1m32 0h1m18 0h1m42 0h1m11 0h1m25 0h1m32 0h1m16 0h1m33 0h1m74 0h2m50 0h1m1 0h1m1 0h1m11 0h1m13 0h1m13 0h1m8 0h1m1 0h1m2 0h1m140 0h1m2 0h1m13 0h1m13 0h1m23 0h1m10 0h1m4 0h1M485 293.1h1m7 0h1m6 0h1m9 0h1m1 0h1m20 0h1m3 0h1m26 0h1m8 0h2M470 333.8h1m21 0h1m5 0h1m14 0h1m10 0h1M198 374.6h1m202 0h1m281 0h1M231 394.9h1M94 415.3h1m30 0h1m154 0h1m16 0h1m41 0h1m2 0h1m129 0h1m8 0h1m1 0h1m31 0h1m217 0h1m33 0h1M93 476.4h1m30 0h1m41 0h1m1 0h1m12 0h1m16 0h1m7 0h1m248 0h1m142 0h1M94 517.2h1m4 0h1m7 0h1m2 0h1m75 0h1m24 0h1m2 0h1m5 0h1m28 0h1m30 0h1m30 0h1m7 0h1m2 0h1m68 0h1m54 0h1m178 0h1m49 0h1m64 0h1M102 557.9h1m232 0h1m154 0h1m14 0h1m11 0h1M93 619.1h1m7 0h1m14 0h1m22 0h1m1 0h1m132 0h1M149 680.2h1m6 0h1m20 0h1m16 0h1m10 0h1m31 0h1m116 0h1m7 0h1m363 0h1M90 741.3h1m327 0h1m248 0h1m3 0h1m20 0h1m6 0h1m16 0h1m18 0h1m42 0h1M248 782.1h1m51 0h1M228 802.4h1m7 0h1m19 0h2m77 0h1m11 0h1m5 0h1m72 0h1m48 0h1m4 0h1m41 0h1m9 0h1m10 0h1m8 0h1m6 0h1m10 0h1m212 0h1M464 883.9h1m2 0h1m16 0h1m2 0h1m23 0h1m25 0h1M556 904.3h1"/>
<path stroke="#767c76" stroke-width="20.38" d="M584 272.7h1"/>
<path stroke="#7f836f" stroke-width="20.38" d="M576 211.6h1M478 272.7h1M499 354.2h1M166 374.6h1M571 415.3h1m93 0h1m62 0h1M265 476.4h1m62 0h1M617 517.2h1M244 557.9h1m13 0h1m94 0h1m11 0h1m51 0h1m58 0h1m82 0h1M297 680.2h1M492 741.3h1M437 802.4h1m3 0h1M552 904.3h1"/>
<path stroke="#93905f" stroke-width="20.38" d="M376 619.1h1M410 720.9h1M279 883.9h1M115 904.3h1m547 0h1"/>
<path stroke="#9c9757" stroke-width="20.38" d="M96 191.2h1m148 0h1M106 211.6h1m73 0h1m84 0h1m7 0h1m20 0h1m128 0h1m134 0h1m135 0h1M479 252.3h1m8 0h1M101 272.7h1m71 0h1m44 0h1m20 0h1m18 0h1m12 0h1m28 0h1m2 0h1m2 0h1m12 0h1m18 0h1m41 0h1m55 0h1m9 0h1m38 0h1m7 0h1m1 0h1m23 0h1m9 0h1m39 0h1m96 0h1m15 0h1m74 0h1M468 293.1h2m28 0h1m18 0h1M465 333.8h1m1 0h1m25 0h1m69 0h1M478 354.2h1M555 374.6h1m31 0h1m47 0h1M91 394.9h1m169 0h1m33 0h1M181 415.3h1m29 0h1m38 0h1m192 0h1m16 0h1m23 0h1m249 0h1m7 0h1m13 0h1M117 476.4h1m47 0h1m5 0h1m5 0h1m9 0h1m15 0h1m505 0h1M119 517.2h1m5 0h1m11 0h2m6 0h1m13 0h1m27 0h1m12 0h1m39 0h1m55 0h1m32 0h1m1 0h1m3 0h1m60 0h1m2 0h1m9 0h1m22 0h1m9 0h1m160 0h1m76 0h1m10 0h1m33 0h1m35 0h1m12 0h1m9 0h1M122 557.9h1m70 0h1m174 0h1m61 0h1m19 0h1m14 0h1m52 0h1m37 0h1m138 0h1M227 619.1h1m8 0h1m8 0h1m22 0h1M181 680.2h1m9 0h1m14 0h1m230 0h1m15 0h1m217 0h1m55 0h1M473 741.3h1m15 0h1m36 0h1m170 0h1m10 0h1m3 0h1m25 0h1m2 0h1m5 0h1m2 0h2m11 0h1m2 0h1M138 782.1h1m143 0h1m13 0h1M212 802.4h1m78 0h1m170 0h1m50 0h1m13 0h1m48 0h1m38 0h1M352 883.9h1m101 0h1m19 0h1m40 0h1m27 0h1m20 0h1"/>
<path stroke="#afa548" stroke-width="20.38" d="M761 496.8h1M472 537.6h1M591 557.9h1M736 619.1h1M263 700.6h1M189 904.3h1M561 924.7h1"/>
<path stroke="#b9ac40" stroke-width="20.38" d="M137 211.6h2m65 0h1m94 0h1m119 0h1m94 0h1m9 0h1m30 0h1m127 0h1m24 0h1M116 272.7h1m5 0h1m13 0h1m50 0h1m23 0h1m2 0h1m1 0h1m19 0h1m23 0h1m31 0h1m16 0h2m11 0h1m4 0h1m18 0h1m1 0h1m27 0h1m25 0h1m25 0h1m27 0h1m22 0h1m21 0h1m14 0h1m23 0h1m3 0h1m127 0h1m7 0h1m4 0h1m58 0h1m15 0h1m12 0h1M474 293.1h2m18 0h2m22 0h1m51 0h1M462 333.8h1M151 374.6h1m407 0h1m87 0h1m32 0h1m100 0h1M103 394.9h1m13 0h1m17 0h1M140 415.3h1m75 0h2m18 0h1m63 0h1m17 0h1m29 0h1m2 0h1m12 0h1m16 0h1m46 0h1m32 0h1m3 0h1m21 0h1m16 0h1m11 0h1m7 0h1m14 0h1m98 0h1m1 0h1m75 0h1M111 476.4h1m67 0h1m32 0h1m71 0h1M144 517.2h1m10 0h1m35 0h1m61 0h1m49 0h1m102 0h1m38 0h1m189 0h1m68 0h1m21 0h1m21 0h1M570 537.6h1M429 557.9h1m8 0h1m21 0h1m1 0h1m28 0h1M124 619.1h1m17 0h1m46 0h1m7 0h1m25 0h1M103 680.2h1m9 0h1m51 0h1m16 0h1m241 0h1M501 720.9h1m31 0h1M700 741.3h1m8 0h1m32 0h1m21 0h1m8 0h1M113 782.1h1m27 0h1M224 802.4h1m4 0h1m4 0h1m141 0h1m8 0h1m119 0h1m1 0h1m6 0h1m6 0h1m11 0h1M465 883.9h1m16 0h1m16 0h1m22 0h1m18 0h1m15 0h1"/>
<path stroke="#ccb930" stroke-width="20.38" d="M578 456.1h1M491 517.2h1m36 0h1M102 741.3h1m26 0h1m24 0h1m13 0h1m9 0h1m4 0h1m90 0h1m112 0h1m46 0h1m234 0h1M736 904.3h1"/>
<path stroke="#d6c028" stroke-width="20.38" d="M187 191.2h1M91 211.6h1m144 0h1m314 0h1M111 272.7h1m50 0h1m41 0h1m17 0h1m55 0h1m10 0h1m57 0h1m23 0h1m128 0h1m14 0h1m25 0h1m10 0h1m21 0h1m99 0h1m29 0h1m46 0h1M484 293.1h1m11 0h1m34 0h1m12 0h1M555 333.8h1M473 354.2h1m21 0h1M439 374.6h1m322 0h1M301 394.9h1M320 415.3h1m14 0h1m29 0h1m7 0h1m34 0h1m54 0h1m33 0h1m14 0h1m94 0h1M136 476.4h1m4 0h1m7 0h1m11 0h1m32 0h1m30 0h1M148 517.2h1m5 0h1m37 0h1m23 0h1m2 0h1m28 0h1m48 0h1m34 0h1m22 0h1m8 0h1m232 0h1m75 0h1m73 0h1m15 0h1m8 0h1M311 557.9h1m111 0h1M238 619.1h1M145 680.2h1m530 0h1M529 720.9h1M701 741.3h1m3 0h1m24 0h1m29 0h1m19 0h1m3 0h1M97 782.1h1M226 802.4h1m46 0h1m170 0h1m24 0h1m19 0h1m78 0h1M481 883.9h1m39 0h1m13 0h1m4 0h1m12 0h1"/>
<path stroke="#e9ce19" stroke-width="20.38" d="M268 354.2h1M637 476.4h1M95 741.3h1m28 0h1m25 0h1m20 0h1m20 0h1m143 0h1m5 0h1m20 0h1m14 0h1m51 0h1m247 0h1"/>
<path stroke="#fcdb09" stroke-width="20.38" d="M125 191.2h1M135 211.6h1m66 0h1m11 0h1m135 0h1M88 272.7h1m64 0h1m17 0h1m22 0h1m3 0h1m21 0h1m13 0h1m19 0h1m100 0h1m8 0h1m9 0h2m21 0h1m15 0h1m5 0h1m20 0h1m1 0h1m1 0h1m5 0h1m33 0h1m14 0h1m26 0h1m8 0h1m9 0h1m3 0h1m8 0h1m105 0h1m6 0h1m24 0h1m36 0h1M472 293.1h1M491 333.8h1m59 0h1M485 354.2h1M556 374.6h1m83 0h1M227 415.3h1m7 0h1m51 0h1m65 0h1m72 0h1m44 0h1m27 0h1m10 0h1m238 0h1M94 476.4h1m3 0h2m7 0h1m67 0h2m28 0h1m32 0h1M613 496.8h1M205 517.2h1m30 0h1m20 0h1m68 0h1m55 0h1m11 0h1m3 0h1m1 0h1m55 0h1m83 0h1m31 0h1m183 0h1m19 0h1m5 0h1M350 557.9h1m165 0h1M115 619.1h1m4 0h1m19 0h1m113 0h1M153 680.2h1M120 741.3h1m70 0h1m7 0h1m66 0h1m59 0h1m102 0h1m272 0h1m1 0h1m20 0h1m20 0h1m7 0h1m14 0h1m11 0h1M211 782.1h1M237 802.4h1m4 0h1m41 0h1m92 0h1m44 0h1m37 0h1m26 0h1m12 0h1m7 0h1m8 0h1m20 0h1m5 0h1m19 0h1m2 0h1m9 0h1m87 0h1M462 883.9h1m64 0h1m23 0h1M473 904.3h1m6 0h1m58 0h1"/>
<path stroke="#7f7b70" stroke-width="20.38" d="M134 211.6h1m134 0h1m83 0h1m150 0h1M472 272.7h1M92 394.9h1M561 415.3h1m216 0h1M314 476.4h1M651 517.2h1M252 782.1h1M442 883.9h1M557 904.3h1"/>
<path stroke="#9b8c59" stroke-width="20.38" d="M266 211.6h1m335 0h1M313 272.7h1m6 0h1m45 0h1m129 0h1m67 0h1m154 0h1m27 0h1m18 0h1M237 293.1h1m224 0h1m40 0h1m19 0h1m21 0h1m19 0h1M483 354.2h1m2 0h1M305 374.6h1M214 415.3h1m48 0h1m2 0h1m218 0h1M87 476.4h1m35 0h1m7 0h1m25 0h1m87 0h1m61 0h1m107 0h1m1 0h1m270 0h1M101 517.2h1m45 0h1m87 0h1m81 0h1m48 0h1m26 0h1m8 0h1m26 0h1m235 0h1m18 0h1m10 0h1m68 0h1M278 557.9h1m234 0h1m16 0h1m39 0h1M103 619.1h1m40 0h1M539 741.3h1m194 0h1M119 782.1h1M471 802.4h1m6 0h1m27 0h1M567 883.9h1M463 904.3h1m13 0h1m24 0h1m11 0h1m23 0h1"/>
<path stroke="#b89d43" stroke-width="20.38" d="M157 191.2h1M528 211.6h1m13 0h1m173 0h1M494 252.3h1M110 272.7h1m35 0h1m42 0h1m35 0h1m18 0h1m18 0h1m9 0h1m44 0h1m22 0h1m18 0h1m23 0h2m19 0h1m371 0h1M511 293.1h1m4 0h1m11 0h1M279 415.3h1m162 0h1m48 0h1m260 0h1M92 476.4h1m7 0h1m21 0h1m17 0h1m280 0h1M86 517.2h1m25 0h1m3 0h1m6 0h1m34 0h1m67 0h1m3 0h1m58 0h1m17 0h1m122 0h1m10 0h1m157 0h1m114 0h1M367 557.9h1m32 0h1m62 0h1M131 619.1h1m28 0h1m82 0h1M154 680.2h1m627 0h1M516 720.9h1M518 802.4h1m55 0h1m84 0h1M503 883.9h1m9 0h1m38 0h1m24 0h1M467 904.3h1m10 0h1m29 0h1m16 0h1"/>
<path stroke="#cba833" stroke-width="20.38" d="M481 517.2h1m27 0h1m10 0h1m28 0h1M110 741.3h1m14 0h1m2 0h1m48 0h1m25 0h1m68 0h1m37 0h1m6 0h1m14 0h1m24 0h1m40 0h1m18 0h1m14 0h1m4 0h1m16 0h1m215 0h1m18 0h1"/>
<path stroke="#d4ae2c" stroke-width="20.38" d="M86 211.6h1m82 0h1m109 0h1m109 0h1M256 272.7h2m32 0h1m16 0h1m81 0h1m4 0h1m12 0h1m37 0h1m45 0h1m50 0h1m32 0h1m155 0h1M463 333.8h1m14 0h1m83 0h1M468 354.2h1M369 415.3h1m12 0h1m110 0h1m27 0h1M174 476.4h1m92 0h1M90 517.2h1m7 0h1m19 0h1m38 0h1m57 0h1m25 0h1m29 0h1m28 0h1m49 0h1m6 0h1m3 0h1m45 0h1m18 0h1m286 0h1M542 557.9h1M247 619.1h1M474 741.3h1m220 0h1m15 0h1m1 0h1m8 0h1m30 0h1M214 802.4h1m252 0h1m14 0h1m37 0h1M489 883.9h1m33 0h1m26 0h1m11 0h1"/>
<path stroke="#e7b91d" stroke-width="20.38" d="M480 517.2h1m69 0h1M101 741.3h1m2 0h1m8 0h1m16 0h1m25 0h1m4 0h1m7 0h1m4 0h1m10 0h1m1 0h1m17 0h1m9 0h1m53 0h1m36 0h1m2 0h1m72 0h1m7 0h1m11 0h1m38 0h1m231 0h1m6 0h1m2 0h1m3 0h1M305 924.7h1"/>
<path stroke="#fac40e" stroke-width="20.38" d="M191 211.6h1m54 0h1m258 0h1M165 272.7h1m65 0h1m5 0h1m4 0h1m81 0h1m5 0h2m3 0h1m101 0h1m65 0h1m3 0h1m14 0h2m6 0h1M466 293.1h2m21 0h1m30 0h1m39 0h1M182 374.6h1M175 415.3h1m105 0h1m13 0h1m53 0h1m125 0h1m74 0h1m168 0h1M108 476.4h1m7 0h1m12 0h1m8 0h1m15 0h1M172 517.2h1m45 0h1m4 0h1m41 0h1m19 0h1m66 0h1m3 0h1m20 0h1m19 0h1m46 0h1m67 0h1m11 0h1m21 0h1m26 0h1m180 0h1m16 0h1M542 537.6h1M88 619.1h1M170 680.2h1m19 0h1m9 0h1M117 741.3h2m3 0h1m15 0h1m20 0h1m5 0h2m23 0h1m5 0h1m83 0h1m24 0h1m2 0h1m19 0h1m51 0h1m3 0h1m280 0h1m18 0h1m1 0h1m11 0h1m15 0h1m18 0h1m5 0h1m8 0h1m10 0h1M512 802.4h1m13 0h1m139 0h1M476 883.9h1m2 0h1m66 0h1"/>
<path stroke="#7e7373" stroke-width="20.38" d="M237 211.6h1M514 415.3h1m49 0h1m137 0h1M389 557.9h1M294 619.1h1"/>
<path stroke="#9a805e" stroke-width="20.38" d="M108 191.2h1m170 0h1M118 211.6h1M248 272.7h1m32 0h1m108 0h1m23 0h1m2 0h1m84 0h1m2 0h1m244 0h1M463 293.1h1M190 415.3h1m572 0h1M86 476.4h1m9 0h1m4 0h1m12 0h1M93 517.2h1m49 0h1m22 0h1m31 0h1m238 0h1M502 557.9h1m47 0h1M499 720.9h1M703 741.3h1m11 0h1m8 0h1m27 0h1m19 0h1M546 802.4h1M497 883.9h1"/>
<path stroke="#b68e49" stroke-width="20.38" d="M89 272.7h1m7 0h1m132 0h1m31 0h1m21 0h1m10 0h1m6 0h1m12 0h1m52 0h1m53 0h1m7 0h1m2 0h1m83 0h1m221 0h1m45 0h1M160 374.6h1M277 415.3h1m20 0h1m26 0h1M105 476.4h1m26 0h1m294 0h1M122 517.2h1m128 0h1m10 0h1m97 0h1m4 0h1m48 0h1m10 0h1M576 537.6h1M534 557.9h1m20 0h1M199 680.2h1M718 741.3h1m39 0h1M492 802.4h1M486 883.9h1"/>
<path stroke="#c8973a" stroke-width="20.38" d="M462 517.2h1m5 0h1m3 0h2m24 0h1m4 0h3m1 0h1m9 0h1M86 741.3h1m18 0h1m5 0h1m14 0h1m5 0h1m10 0h2m7 0h1m11 0h1m10 0h1m6 0h1m23 0h1m24 0h1m6 0h1m26 0h1m22 0h1m23 0h1m37 0h1m11 0h1m5 0h1m5 0h1m53 0h1m246 0h1m9 0h1"/>
<path stroke="#d29b33" stroke-width="20.38" d="M266 272.7h1m31 0h1m57 0h1m6 0h1m364 0h1M471 293.1h1m82 0h1M723 374.6h1m24 0h1M137 415.3h1m150 0h1m66 0h1m20 0h1m3 0h1m182 0h1M103 476.4h2m38 0h1M120 517.2h1m12 0h1m36 0h1m175 0h1m2 0h1m105 0h1m252 0h1M776 741.3h1M499 802.4h1M468 883.9h1m106 0h1"/>
<path stroke="#e4a425" stroke-width="20.38" d="M497 517.2h1m29 0h1M88 741.3h1m7 0h1m2 0h2m2 0h1m5 0h1m11 0h1m13 0h1m4 0h1m31 0h1m13 0h1m7 0h1m33 0h1m12 0h1m3 0h1m69 0h1m3 0h1m15 0h1m4 0h1m12 0h1m15 0h1m23 0h1m1 0h1m5 0h1m6 0h1m14 0h1m19 0h1m7 0h1m227 0h1m2 0h1m5 0h1"/>
<path stroke="#f7ad17" stroke-width="20.38" d="M269 191.2h1M484 252.3h1M127 272.7h1m107 0h1m44 0h1m23 0h1m35 0h1m77 0h1m16 0h1m115 0h1m19 0h1M541 293.1h1M479 333.8h1M543 374.6h1M137 476.4h1m8 0h1M128 517.2h1m109 0h1m6 0h1m29 0h1m97 0h1m100 0h2m7 0h1m38 0h1m22 0h1m8 0h1m29 0h1m78 0h1M272 619.1h1M98 741.3h1m32 0h1m1 0h1m3 0h1m3 0h1m6 0h1m24 0h1m15 0h1m8 0h1m15 0h1m74 0h1m39 0h1m15 0h2m2 0h1m26 0h2m21 0h1m13 0h1m6 0h1m4 0h1m7 0h1m230 0h1m56 0h1m14 0h1m18 0h1m11 0h1m6 0h1M248 802.4h1m16 0h1m33 0h1m48 0h1m121 0h1m39 0h1m47 0h1m2 0h1M538 883.9h1"/>
<path stroke="#7c6c76" stroke-width="20.38" d="M698 211.6h1M282 619.1h1"/>
<path stroke="#987662" stroke-width="20.38" d="M277 272.7h1m95 0h1m77 0h1M121 476.4h1M213 517.2h1m162 0h1m12 0h1m20 0h1M779 741.3h1M468 802.4h1m76 0h1M460 883.9h1"/>
<path stroke="#b3814f" stroke-width="20.38" d="M241 272.7h1m119 0h1m206 0h1M559 293.1h1M109 476.4h1m337 0h1M212 517.2h1m48 0h1m448 0h1M226 557.9h1M157 680.2h1M777 741.3h1M525 802.4h1m11 0h1m41 0h1M497 904.3h1"/>
<path stroke="#c58841" stroke-width="20.38" d="M493 517.2h1m2 0h1m2 0h2m25 0h1m11 0h1m3 0h1m12 0h1m11 0h1m9 0h1M145 741.3h1m54 0h1m19 0h1m2 0h1m34 0h1m1 0h1m1 0h1m13 0h1m25 0h1m20 0h1m6 0h1m17 0h1m6 0h1m3 0h1m1 0h1m9 0h1m19 0h2m12 0h1m4 0h1m5 0h1m30 0h1"/>
<path stroke="#ce8c3b" stroke-width="20.38" d="M226 272.7h1m6 0h1m57 0h1m288 0h1M479 293.1h1m55 0h1M338 517.2h1m381 0h1M477 802.4h1m19 0h1m30 0h1M505 883.9h1"/>
<path stroke="#e1932d" stroke-width="20.38" d="M463 517.2h1m6 0h1m5 0h1m10 0h2m34 0h1m1 0h1m3 0h1m3 0h1m47 0h1M92 741.3h1m4 0h1m36 0h1m18 0h1m13 0h1m12 0h1m41 0h1m1 0h1m21 0h1m17 0h1m5 0h1m4 0h1m2 0h1m6 0h1m5 0h1m6 0h1m12 0h1m9 0h1m29 0h1m20 0h2m12 0h1m7 0h1m2 0h1m37 0h1m16 0h1m210 0h1m13 0h1"/>
<path stroke="#f39a20" stroke-width="20.38" d="M283 272.7h1m24 0h1m223 0h1m157 0h1M487 293.1h1M115 476.4h1m26 0h1M115 517.2h1m317 0h1m58 0h1m23 0h1m14 0h1m19 0h1m1 0h1m20 0h1m3 0h1m108 0h1M149 741.3h1m7 0h1m2 0h1m43 0h1m11 0h1m2 0h1m33 0h1m7 0h1m28 0h1m36 0h1m11 0h1m14 0h1m11 0h2m46 0h1m4 0h1m26 0h1m1 0h1m217 0h1M523 802.4h1M507 883.9h1"/>
<path stroke="#966b64" stroke-width="20.38" d="M365 272.7h1m66 0h1m1 0h1M743 741.3h1"/>
<path stroke="#b17251" stroke-width="20.38" d="M296 272.7h1m57 0h1m54 0h1m44 0h1M703 517.2h1M113 619.1h1M197 680.2h1"/>
<path stroke="#c37744" stroke-width="20.38" d="M465 517.2h2m41 0h1m23 0h1m1 0h2m5 0h1M91 741.3h1m24 0h1m22 0h1m36 0h1m20 0h1m9 0h1m27 0h2m13 0h1m16 0h1m45 0h1m17 0h1m12 0h1m25 0h1m40 0h1m14 0h1m241 0h1m12 0h1"/>
<path stroke="#cc793d" stroke-width="20.38" d="M421 272.7h1M258 415.3h1M97 476.4h1m49 0h1M95 517.2h1M519 802.4h1"/>
<path stroke="#de7e30" stroke-width="20.38" d="M461 517.2h1m7 0h1m20 0h1m20 0h1m2 0h1m22 0h1m5 0h1m3 0h1m13 0h1m13 0h1m4 0h1M108 741.3h1m6 0h1m11 0h1m19 0h1m7 0h1m2 0h1m25 0h1m32 0h1m3 0h1m7 0h2m12 0h1m10 0h1m16 0h1m1 0h1m12 0h1m9 0h1m28 0h1m11 0h1m3 0h1m10 0h1m5 0h1m20 0h1m1 0h1m21 0h1m40 0h1m229 0h1m16 0h1"/>
<path stroke="#f08224" stroke-width="20.38" d="M495 517.2h1m17 0h1m50 0h1m4 0h1m1 0h1M87 741.3h1m18 0h1m16 0h1m38 0h1m18 0h1m13 0h1m6 0h1m9 0h1m27 0h1m7 0h2m1 0h1m30 0h2m11 0h1m8 0h1m17 0h1m1 0h1m39 0h1m31 0h1m3 0h1m6 0h1m1 0h1m29 0h1m10 0h1m4 0h1M579 883.9h1"/>
<path stroke="#955f66" stroke-width="20.38" d="M416 272.7h1M359 517.2h1"/>
<path stroke="#b06353" stroke-width="20.38" d="M102 476.4h1M759 517.2h1"/>
<path stroke="#c26546" stroke-width="20.38" d="M479 517.2h1m6 0h1m7 0h1m24 0h1m37 0h1m18 0h1M89 741.3h1m17 0h1m169 0h1m23 0h1m1 0h1m12 0h1m123 0h1"/>
<path stroke="#dc6934" stroke-width="20.38" d="M460 517.2h1m17 0h1m39 0h1m33 0h1m6 0h1m8 0h1m1 0h1M112 741.3h1m38 0h1m74 0h1m12 0h1m2 0h1m36 0h1m19 0h1m7 0h1m10 0h1m69 0h1m17 0h1m5 0h1m36 0h1"/>
<path stroke="#ee6b27" stroke-width="20.38" d="M539 272.7h1M471 517.2h1m10 0h1m2 0h1m44 0h1m5 0h1m21 0h1m6 0h1m13 0h1M94 741.3h1m19 0h1m4 0h1m43 0h1m61 0h1m11 0h1m6 0h1m23 0h1m12 0h1m5 0h1m9 0h1m22 0h1m17 0h1m4 0h1m12 0h1m3 0h1m24 0h1"/>
<path stroke="#ad4c54" stroke-width="20.38" d="M528 272.7h1"/>
<path stroke="#bf4c48" stroke-width="20.38" d="M501 517.2h1m54 0h1M201 741.3h1m45 0h1m7 0h2m43 0h1m13 0h1m100 0h1m11 0h1"/>
<path stroke="#d94a35" stroke-width="20.38" d="M484 517.2h1m4 0h1m20 0h1m10 0h1m22 0h1m15 0h1M142 741.3h1m70 0h1m19 0h1m50 0h1m80 0h1m9 0h1m48 0h1m13 0h1"/>
<path stroke="#ea4928" stroke-width="20.38" d="M464 517.2h1m12 0h1m61 0h1m8 0h1M170 741.3h1m61 0h1m24 0h1m5 0h1m125 0h1m14 0h1m16 0h1m23 0h1m10 0h1"/>
<path stroke="#ab3655" stroke-width="20.38" d="M253 272.7h1"/>
<path stroke="#bc3249" stroke-width="20.38" d="M234 741.3h1m17 0h1m130 0h1"/>
<path stroke="#d62b36" stroke-width="20.38" d="M467 517.2h1m38 0h1M211 741.3h1m6 0h1m40 0h1m32 0h1m129 0h1m13 0h1m5 0h1"/>
<path stroke="#e7272a" stroke-width="20.38" d="M502 517.2h1m60 0h1m2 0h1M179 741.3h1m47 0h1m66 0h1m158 0h1"/>
<text x="80.5" y="198.8" font-size="21.5" text-anchor="end">Bmp1</text>
<text x="80.5" y="219.2" font-size="21.5" text-anchor="end">Bmp2</text>
<text x="80.5" y="239.5" font-size="21.5" text-anchor="end">Bmp2k</text>
<text x="80.5" y="259.9" font-size="21.5" text-anchor="end">Bmp3</text>
<text x="80.5" y="280.3" font-size="21.5" text-anchor="end">Bmp4</text>
<text x="80.5" y="300.7" font-size="21.5" text-anchor="end">Bmp5</text>
<text x="80.5" y="321.0" font-size="21.5" text-anchor="end">Bmp6</text>
<text x="80.5" y="341.4" font-size="21.5" text-anchor="end">Bmp7</text>
<text x="80.5" y="361.8" font-size="21.5" text-anchor="end">Chrd</text>
<text x="80.5" y="382.2" font-size="21.5" text-anchor="end">Ctgf</text>
<text x="80.5" y="402.5" font-size="21.5" text-anchor="end">Dkk2</text>
<text x="80.5" y="422.9" font-size="21.5" text-anchor="end">Dkk3</text>
<text x="80.5" y="443.3" font-size="21.5" text-anchor="end">Frzb</text>
<text x="80.5" y="463.7" font-size="21.5" text-anchor="end">Fst</text>
<text x="80.5" y="484.0" font-size="21.5" text-anchor="end">Grem1</text>
<text x="80.5" y="504.4" font-size="21.5" text-anchor="end">Grem2</text>
<text x="80.5" y="524.8" font-size="21.5" text-anchor="end">Nbl1</text>
<text x="80.5" y="545.2" font-size="21.5" text-anchor="end">Nrg1</text>
<text x="80.5" y="565.5" font-size="21.5" text-anchor="end">Ptgs2</text>
<text x="80.5" y="585.9" font-size="21.5" text-anchor="end">Rspo1</text>
<text x="80.5" y="606.3" font-size="21.5" text-anchor="end">Rspo2</text>
<text x="80.5" y="626.7" font-size="21.5" text-anchor="end">Rspo3</text>
<text x="80.5" y="647.0" font-size="21.5" text-anchor="end">Sema3a</text>
<text x="80.5" y="667.4" font-size="21.5" text-anchor="end">Sema3b</text>
<text x="80.5" y="687.8" font-size="21.5" text-anchor="end">Sema3c</text>
<text x="80.5" y="708.2" font-size="21.5" text-anchor="end">Sema3d</text>
<text x="80.5" y="728.5" font-size="21.5" text-anchor="end">Sema3f</text>
<text x="80.5" y="748.9" font-size="21.5" text-anchor="end">Sfrp1</text>
<text x="80.5" y="769.3" font-size="21.5" text-anchor="end">Sfrp4</text>
<text x="80.5" y="789.7" font-size="21.5" text-anchor="end">Shisa3</text>
<text x="80.5" y="810.0" font-size="21.5" text-anchor="end">Tnc</text>
<text x="80.5" y="830.4" font-size="21.5" text-anchor="end">Wif1</text>
<text x="80.5" y="850.8" font-size="21.5" text-anchor="end">Wnt2</text>
<text x="80.5" y="871.2" font-size="21.5" text-anchor="end">Wnt2b</text>
<text x="80.5" y="891.5" font-size="21.5" text-anchor="end">Wnt4</text>
<text x="80.5" y="911.9" font-size="21.5" text-anchor="end">Wnt5a</text>
<text x="80.5" y="932.3" font-size="21.5" text-anchor="end">Wnt5b</text>
<text x="80.5" y="952.7" font-size="21.5" text-anchor="end">Wnt6</text>
<text x="80.5" y="973.0" font-size="21.5" text-anchor="end">Wnt9a</text>
<text x="80.5" y="993.4" font-size="21.5" text-anchor="end">Wnt11</text>
<text x="158.5" y="133.5" font-size="26.2" transform="rotate(-45.0 158.5 133.5)">CD81<tspan dy="-9.4" font-size="16.2">+</tspan><tspan dy="9.4"> FB</tspan></text>
<text x="247.5" y="134.5" font-size="26.2" transform="rotate(-45.0 247.5 134.5)">Igfbp5<tspan dy="-9.4" font-size="16.2">+</tspan><tspan dy="9.4"> FB</tspan></text>
<text x="292.0" y="133.5" font-size="26.2" transform="rotate(-45.0 292.0 133.5)">CD90<tspan dy="-9.4" font-size="16.2">+</tspan><tspan dy="9.4"> FB</tspan></text>
<text x="405.0" y="134.5" font-size="26.2" transform="rotate(-45.0 405.0 134.5)">Fgfr2<tspan dy="-9.4" font-size="16.2">+</tspan><tspan dy="9.4"> FB</tspan></text>
<text x="527.5" y="134.0" font-size="26.2" transform="rotate(-45.0 527.5 134.0)">PDGFRα<tspan dy="-9.4" font-size="16.2">hi</tspan><tspan dy="9.4"> FB</tspan></text>
<text x="626.5" y="133.5" font-size="26.2" transform="rotate(-45.0 626.5 133.5)">Pericytes</text>
<text x="739.5" y="133.5" font-size="26.2" transform="rotate(-45.0 739.5 133.5)">SMCs</text>
<rect x="247.0" y="1008.0" width="20.0" height="21.0" fill="#f1756d"/>
<text x="281.0" y="1027.0" font-size="23.5">Small Intestine</text>
<rect x="498.0" y="1008.0" width="20.0" height="21.0" fill="#1bbcc1"/>
<text x="530.7" y="1027.0" font-size="23.5">Colon</text>
<defs><linearGradient id="gexpr"><stop offset="0.000" stop-color="#3f52a4"/><stop offset="0.125" stop-color="#8057a7"/><stop offset="0.250" stop-color="#bd7ab5"/><stop offset="0.312" stop-color="#d59a98"/><stop offset="0.375" stop-color="#e8c174"/><stop offset="0.450" stop-color="#f3e24a"/><stop offset="0.500" stop-color="#f9ec1a"/><stop offset="0.575" stop-color="#fdd806"/><stop offset="0.675" stop-color="#f8b115"/><stop offset="0.750" stop-color="#f39a20"/><stop offset="0.875" stop-color="#ee6b27"/><stop offset="1.000" stop-color="#e7272a"/></linearGradient></defs>
<rect x="665.4" y="1026.2" width="117.2" height="23.6" fill="url(#gexpr)"/>
<rect x="693.7" y="1026.2" width="2.0" height="4.5" fill="#fff"/>
<rect x="693.7" y="1045.3" width="2.0" height="4.5" fill="#fff"/>
<rect x="723.0" y="1026.2" width="2.0" height="4.5" fill="#fff"/>
<rect x="723.0" y="1045.3" width="2.0" height="4.5" fill="#fff"/>
<rect x="752.3" y="1026.2" width="2.0" height="4.5" fill="#fff"/>
<rect x="752.3" y="1045.3" width="2.0" height="4.5" fill="#fff"/>
<text x="670.4" y="1020.7" font-size="21.9">Expression</text>
<text x="665.4" y="1067.6" font-size="18.4" text-anchor="middle">0</text>
<text x="695.2" y="1067.6" font-size="18.4" text-anchor="middle">1</text>
<text x="724.5" y="1067.6" font-size="18.4" text-anchor="middle">2</text>
<text x="753.8" y="1067.6" font-size="18.4" text-anchor="middle">3</text>
<text x="783.1" y="1067.6" font-size="18.4" text-anchor="middle">4</text></g>
<g id="panel_b"><text x="811.0" y="21.0" font-size="22.0" font-weight="bold">b</text>
<rect x="899.0" y="137.3" width="20.50" height="42.00" fill="#f28f93"/><rect x="919.2" y="137.3" width="20.50" height="42.00" fill="#f07f84"/><rect x="939.4" y="137.3" width="20.50" height="42.00" fill="#ec6468"/><rect x="959.6" y="137.3" width="20.50" height="42.00" fill="#5a62ae"/><rect x="979.8" y="137.3" width="20.50" height="42.00" fill="#6a6fb4"/><rect x="1000.0" y="137.3" width="20.50" height="42.00" fill="#7a7ab9"/><rect x="1020.2" y="137.3" width="20.50" height="42.00" fill="#b0b0d8"/><rect x="1040.4" y="137.3" width="20.50" height="42.00" fill="#ededf4"/><rect x="1060.6" y="137.3" width="20.50" height="42.00" fill="#ffffff"/><rect x="1080.8" y="137.3" width="20.50" height="42.00" fill="#ededf5"/><rect x="1101.0" y="137.3" width="20.50" height="42.00" fill="#fdecec"/><rect x="1121.2" y="137.3" width="20.50" height="42.00" fill="#fae0e0"/><rect x="1141.4" y="137.3" width="20.50" height="42.00" fill="#ee6d70"/><rect x="1161.6" y="137.3" width="20.50" height="42.00" fill="#ee6d70"/><rect x="1181.8" y="137.3" width="20.50" height="42.00" fill="#e95659"/><rect x="899.0" y="179.0" width="20.50" height="42.00" fill="#ea4e51"/><rect x="919.2" y="179.0" width="20.50" height="42.00" fill="#e94346"/><rect x="939.4" y="179.0" width="20.50" height="42.00" fill="#e73336"/><rect x="959.6" y="179.0" width="20.50" height="42.00" fill="#4f58a8"/><rect x="979.8" y="179.0" width="20.50" height="42.00" fill="#5b61ad"/><rect x="1000.0" y="179.0" width="20.50" height="42.00" fill="#6366b0"/><rect x="1020.2" y="179.0" width="20.50" height="42.00" fill="#8c8dc6"/><rect x="1040.4" y="179.0" width="20.50" height="42.00" fill="#c1c0e1"/><rect x="1060.6" y="179.0" width="20.50" height="42.00" fill="#c8c7e3"/><rect x="1080.8" y="179.0" width="20.50" height="42.00" fill="#a4a3d2"/><rect x="1101.0" y="179.0" width="20.50" height="42.00" fill="#bdbcdf"/><rect x="1121.2" y="179.0" width="20.50" height="42.00" fill="#c9c8e4"/><rect x="1141.4" y="179.0" width="20.50" height="42.00" fill="#f9d6d7"/><rect x="1161.6" y="179.0" width="20.50" height="42.00" fill="#f8c7c9"/><rect x="1181.8" y="179.0" width="20.50" height="42.00" fill="#f7c1c3"/><rect x="899.0" y="220.7" width="20.50" height="42.00" fill="#f4a9ab"/><rect x="919.2" y="220.7" width="20.50" height="42.00" fill="#f39a9d"/><rect x="939.4" y="220.7" width="20.50" height="42.00" fill="#f08588"/><rect x="959.6" y="220.7" width="20.50" height="42.00" fill="#7273b6"/><rect x="979.8" y="220.7" width="20.50" height="42.00" fill="#9a9acd"/><rect x="1000.0" y="220.7" width="20.50" height="42.00" fill="#a3a3d1"/><rect x="1020.2" y="220.7" width="20.50" height="42.00" fill="#f4a5a8"/><rect x="1040.4" y="220.7" width="20.50" height="42.00" fill="#ee6e72"/><rect x="1060.6" y="220.7" width="20.50" height="42.00" fill="#eb5d61"/><rect x="1080.8" y="220.7" width="20.50" height="42.00" fill="#b6b5dc"/><rect x="1101.0" y="220.7" width="20.50" height="42.00" fill="#dcdbee"/><rect x="1121.2" y="220.7" width="20.50" height="42.00" fill="#dcdbee"/><rect x="1141.4" y="220.7" width="20.50" height="42.00" fill="#fce8e9"/><rect x="1161.6" y="220.7" width="20.50" height="42.00" fill="#fbe2e3"/><rect x="1181.8" y="220.7" width="20.50" height="42.00" fill="#fadcdd"/><rect x="899.0" y="262.4" width="20.50" height="42.00" fill="#fde2e4"/><rect x="919.2" y="262.4" width="20.50" height="42.00" fill="#f9cdd0"/><rect x="939.4" y="262.4" width="20.50" height="42.00" fill="#f5a9ac"/><rect x="959.6" y="262.4" width="20.50" height="42.00" fill="#5e63ae"/><rect x="979.8" y="262.4" width="20.50" height="42.00" fill="#8788c3"/><rect x="1000.0" y="262.4" width="20.50" height="42.00" fill="#8788c3"/><rect x="1020.2" y="262.4" width="20.50" height="42.00" fill="#b3b3db"/><rect x="1040.4" y="262.4" width="20.50" height="42.00" fill="#e4e4f2"/><rect x="1060.6" y="262.4" width="20.50" height="42.00" fill="#ececf5"/><rect x="1080.8" y="262.4" width="20.50" height="42.00" fill="#e8353a"/><rect x="1101.0" y="262.4" width="20.50" height="42.00" fill="#e52226"/><rect x="1121.2" y="262.4" width="20.50" height="42.00" fill="#e52226"/><rect x="1141.4" y="262.4" width="20.50" height="42.00" fill="#f8c0c3"/><rect x="1161.6" y="262.4" width="20.50" height="42.00" fill="#f6b3b6"/><rect x="1181.8" y="262.4" width="20.50" height="42.00" fill="#f4a3a6"/><rect x="899.0" y="304.1" width="20.50" height="42.00" fill="#9d9dcf"/><rect x="919.2" y="304.1" width="20.50" height="42.00" fill="#b1b0da"/><rect x="939.4" y="304.1" width="20.50" height="42.00" fill="#cfcfe9"/><rect x="959.6" y="304.1" width="20.50" height="42.00" fill="#fbd8da"/><rect x="979.8" y="304.1" width="20.50" height="42.00" fill="#f5a6a9"/><rect x="1000.0" y="304.1" width="20.50" height="42.00" fill="#f08085"/><rect x="1020.2" y="304.1" width="20.50" height="42.00" fill="#5359a9"/><rect x="1040.4" y="304.1" width="20.50" height="42.00" fill="#7b7cbc"/><rect x="1060.6" y="304.1" width="20.50" height="42.00" fill="#9092c8"/><rect x="1080.8" y="304.1" width="20.50" height="42.00" fill="#5458a8"/><rect x="1101.0" y="304.1" width="20.50" height="42.00" fill="#575ca9"/><rect x="1121.2" y="304.1" width="20.50" height="42.00" fill="#6468b0"/><rect x="1141.4" y="304.1" width="20.50" height="42.00" fill="#6b6fb3"/><rect x="1161.6" y="304.1" width="20.50" height="42.00" fill="#7173b6"/><rect x="1181.8" y="304.1" width="20.50" height="42.00" fill="#7879b9"/><rect x="899.0" y="345.8" width="20.50" height="42.00" fill="#ef7075"/><rect x="919.2" y="345.8" width="20.50" height="42.00" fill="#ea5053"/><rect x="939.4" y="345.8" width="20.50" height="42.00" fill="#ea5053"/><rect x="959.6" y="345.8" width="20.50" height="42.00" fill="#3b50a0"/><rect x="979.8" y="345.8" width="20.50" height="42.00" fill="#3b50a0"/><rect x="1000.0" y="345.8" width="20.50" height="42.00" fill="#3d51a2"/><rect x="1020.2" y="345.8" width="20.50" height="42.00" fill="#4953a5"/><rect x="1040.4" y="345.8" width="20.50" height="42.00" fill="#4953a5"/><rect x="1060.6" y="345.8" width="20.50" height="42.00" fill="#4953a5"/><rect x="1080.8" y="345.8" width="20.50" height="42.00" fill="#4953a5"/><rect x="1101.0" y="345.8" width="20.50" height="42.00" fill="#5055a7"/><rect x="1121.2" y="345.8" width="20.50" height="42.00" fill="#5a5dab"/><rect x="1141.4" y="345.8" width="20.50" height="42.00" fill="#8686c2"/><rect x="1161.6" y="345.8" width="20.50" height="42.00" fill="#9d9dcf"/><rect x="1181.8" y="345.8" width="20.50" height="42.00" fill="#9d9dcf"/>
<path fill="none" stroke="#000" stroke-width="1.6" d="M929.3 131.5V126.0H949.5V131.5M909.1 131.5V122.2H939.4V126.0M989.9 131.5V126.5H1010.1V131.5M969.7 131.5V121.3H1000.0V126.5M1050.5 131.5V126.5H1070.7V131.5M1030.3 131.5V118.7H1060.6V126.5M1111.1 131.5V127.0H1131.3V131.5M1090.9 131.5V123.5H1121.2V127.0M1171.7 131.5V128.8H1191.9V131.5M1151.5 131.5V127.7H1181.8V128.8M1106.0 123.5V104.6H1166.7V127.7M1045.4 118.7V100.4H1136.3V104.6M984.9 121.3V85.3H1090.9V100.4M924.2 122.2V67.4H1037.9V85.3"/>
<text x="1209.4" y="167.3" font-size="26.0">Fgfr2<tspan dy="-9.4" font-size="16.1">+</tspan><tspan dy="9.4"> FB</tspan></text>
<text x="1209.4" y="209.1" font-size="26.0">Igfbp5<tspan dy="-9.4" font-size="16.1">+</tspan><tspan dy="9.4"> FB</tspan></text>
<text x="1209.4" y="250.8" font-size="26.0">SMCs</text>
<text x="1209.4" y="292.4" font-size="26.0">PDGFRα<tspan dy="-9.4" font-size="16.1">hi</tspan><tspan dy="9.4"> FB</tspan></text>
<text x="1209.4" y="334.2" font-size="26.0">Pericytes</text>
<text x="1209.4" y="375.9" font-size="26.0">CD81<tspan dy="-9.4" font-size="16.1">+</tspan><tspan dy="9.4"> FB</tspan></text>
<text x="1067.6" y="37.0" font-size="26.0" text-anchor="middle">Small intestine</text>
<text x="874.0" y="252.0" font-size="26.0" text-anchor="middle" transform="rotate(-90.0 874.0 252.0)">SC subsets</text>
<text x="1031.9" y="553.7" font-size="26.0" text-anchor="middle">Bulk subsets</text>
<text x="916.0" y="405.0" font-size="26.0" text-anchor="end" transform="rotate(-45.0 916.0 405.0)">CD81<tspan dy="-9.4" font-size="16.1">+</tspan><tspan dy="9.4"> FB</tspan></text>
<text x="943.0" y="406.0" font-size="26.0" text-anchor="end" transform="rotate(-45.0 943.0 406.0)">and Igfbp5<tspan dy="-9.4" font-size="16.1">+</tspan><tspan dy="9.4"> FB</tspan></text>
<text x="999.0" y="402.0" font-size="26.0" text-anchor="end" transform="rotate(-45.0 999.0 402.0)">Pericytes</text>
<text x="1066.0" y="403.0" font-size="26.0" text-anchor="end" transform="rotate(-45.0 1066.0 403.0)">SMC</text>
<text x="1116.0" y="405.0" font-size="26.0" text-anchor="end" transform="rotate(-45.0 1116.0 405.0)">PDGFRα<tspan dy="-9.4" font-size="16.1">hi</tspan><tspan dy="9.4"> FB</tspan></text>
<text x="1184.0" y="405.0" font-size="26.0" text-anchor="end" transform="rotate(-45.0 1184.0 405.0)">Fgfr2<tspan dy="-9.4" font-size="16.1">+</tspan><tspan dy="9.4"> FB</tspan></text>
<rect x="1400.9" y="169.0" width="20.30" height="44.20" fill="#4f5aa8"/><rect x="1420.9" y="169.0" width="20.30" height="44.20" fill="#5a5fab"/><rect x="1440.9" y="169.0" width="20.30" height="44.20" fill="#5a5fab"/><rect x="1460.9" y="169.0" width="20.30" height="44.20" fill="#f9c9cb"/><rect x="1480.9" y="169.0" width="20.30" height="44.20" fill="#f5aaad"/><rect x="1500.9" y="169.0" width="20.30" height="44.20" fill="#f29699"/><rect x="1520.9" y="169.0" width="20.30" height="44.20" fill="#f29699"/><rect x="1540.9" y="169.0" width="20.30" height="44.20" fill="#f29a9d"/><rect x="1560.9" y="169.0" width="20.30" height="44.20" fill="#ef7377"/><rect x="1580.9" y="169.0" width="20.30" height="44.20" fill="#e52328"/><rect x="1600.9" y="169.0" width="20.30" height="44.20" fill="#e52328"/><rect x="1620.9" y="169.0" width="20.30" height="44.20" fill="#eb5257"/><rect x="1640.9" y="169.0" width="20.30" height="44.20" fill="#eb575b"/><rect x="1660.9" y="169.0" width="20.30" height="44.20" fill="#e8393e"/><rect x="1680.9" y="169.0" width="20.30" height="44.20" fill="#e8393e"/><rect x="1400.9" y="212.9" width="20.30" height="44.20" fill="#3b4fa0"/><rect x="1420.9" y="212.9" width="20.30" height="44.20" fill="#3d4fa1"/><rect x="1440.9" y="212.9" width="20.30" height="44.20" fill="#4350a2"/><rect x="1460.9" y="212.9" width="20.30" height="44.20" fill="#e0e0f0"/><rect x="1480.9" y="212.9" width="20.30" height="44.20" fill="#fffafa"/><rect x="1500.9" y="212.9" width="20.30" height="44.20" fill="#fbe3e4"/><rect x="1520.9" y="212.9" width="20.30" height="44.20" fill="#ef6e73"/><rect x="1540.9" y="212.9" width="20.30" height="44.20" fill="#ef7377"/><rect x="1560.9" y="212.9" width="20.30" height="44.20" fill="#ea5257"/><rect x="1580.9" y="212.9" width="20.30" height="44.20" fill="#e52328"/><rect x="1600.9" y="212.9" width="20.30" height="44.20" fill="#e52328"/><rect x="1620.9" y="212.9" width="20.30" height="44.20" fill="#ec5c60"/><rect x="1640.9" y="212.9" width="20.30" height="44.20" fill="#e72e33"/><rect x="1660.9" y="212.9" width="20.30" height="44.20" fill="#e72e33"/><rect x="1680.9" y="212.9" width="20.30" height="44.20" fill="#e5252a"/><rect x="1400.9" y="256.8" width="20.30" height="44.20" fill="#3b4fa0"/><rect x="1420.9" y="256.8" width="20.30" height="44.20" fill="#3d4fa1"/><rect x="1440.9" y="256.8" width="20.30" height="44.20" fill="#4350a2"/><rect x="1460.9" y="256.8" width="20.30" height="44.20" fill="#7e7fbe"/><rect x="1480.9" y="256.8" width="20.30" height="44.20" fill="#a8a8d3"/><rect x="1500.9" y="256.8" width="20.30" height="44.20" fill="#bebde0"/><rect x="1520.9" y="256.8" width="20.30" height="44.20" fill="#ea5257"/><rect x="1540.9" y="256.8" width="20.30" height="44.20" fill="#e52328"/><rect x="1560.9" y="256.8" width="20.30" height="44.20" fill="#e52328"/><rect x="1580.9" y="256.8" width="20.30" height="44.20" fill="#ec5c60"/><rect x="1600.9" y="256.8" width="20.30" height="44.20" fill="#ea4a4f"/><rect x="1620.9" y="256.8" width="20.30" height="44.20" fill="#f5a5a8"/><rect x="1640.9" y="256.8" width="20.30" height="44.20" fill="#f28e91"/><rect x="1660.9" y="256.8" width="20.30" height="44.20" fill="#f07b7f"/><rect x="1680.9" y="256.8" width="20.30" height="44.20" fill="#ec6166"/><rect x="1400.9" y="300.7" width="20.30" height="44.20" fill="#5359a9"/><rect x="1420.9" y="300.7" width="20.30" height="44.20" fill="#5f63ae"/><rect x="1440.9" y="300.7" width="20.30" height="44.20" fill="#5f63ae"/><rect x="1460.9" y="300.7" width="20.30" height="44.20" fill="#ea4a4f"/><rect x="1480.9" y="300.7" width="20.30" height="44.20" fill="#e72e33"/><rect x="1500.9" y="300.7" width="20.30" height="44.20" fill="#e52328"/><rect x="1520.9" y="300.7" width="20.30" height="44.20" fill="#bbbade"/><rect x="1540.9" y="300.7" width="20.30" height="44.20" fill="#bbbade"/><rect x="1560.9" y="300.7" width="20.30" height="44.20" fill="#dddcee"/><rect x="1580.9" y="300.7" width="20.30" height="44.20" fill="#f28e91"/><rect x="1600.9" y="300.7" width="20.30" height="44.20" fill="#f28e91"/><rect x="1620.9" y="300.7" width="20.30" height="44.20" fill="#f9cdce"/><rect x="1640.9" y="300.7" width="20.30" height="44.20" fill="#fce8e8"/><rect x="1660.9" y="300.7" width="20.30" height="44.20" fill="#fad7d8"/><rect x="1680.9" y="300.7" width="20.30" height="44.20" fill="#f9cbcd"/><rect x="1400.9" y="344.6" width="20.30" height="44.20" fill="#ee7377"/><rect x="1420.9" y="344.6" width="20.30" height="44.20" fill="#ed6a6e"/><rect x="1440.9" y="344.6" width="20.30" height="44.20" fill="#ee7377"/><rect x="1460.9" y="344.6" width="20.30" height="44.20" fill="#7a7bbb"/><rect x="1480.9" y="344.6" width="20.30" height="44.20" fill="#8081bf"/><rect x="1500.9" y="344.6" width="20.30" height="44.20" fill="#aaaad4"/><rect x="1520.9" y="344.6" width="20.30" height="44.20" fill="#7273b6"/><rect x="1540.9" y="344.6" width="20.30" height="44.20" fill="#8788c3"/><rect x="1560.9" y="344.6" width="20.30" height="44.20" fill="#9d9dcd"/><rect x="1580.9" y="344.6" width="20.30" height="44.20" fill="#efeff6"/><rect x="1600.9" y="344.6" width="20.30" height="44.20" fill="#efeff6"/><rect x="1620.9" y="344.6" width="20.30" height="44.20" fill="#ababd4"/><rect x="1640.9" y="344.6" width="20.30" height="44.20" fill="#a09fce"/><rect x="1660.9" y="344.6" width="20.30" height="44.20" fill="#b4b3da"/><rect x="1680.9" y="344.6" width="20.30" height="44.20" fill="#c4c3e3"/>
<path fill="none" stroke="#000" stroke-width="1.6" d="M1430.9 165.4V162.8H1450.9V165.4M1410.9 165.4V160.5H1440.9V162.8M1490.9 165.4V162.0H1510.9V165.4M1470.9 165.4V155.9H1500.9V162.0M1550.9 165.4V161.0H1570.9V165.4M1530.9 165.4V155.6H1560.9V161.0M1590.9 165.4V162.8H1610.9V165.4M1630.9 165.4V160.0H1650.9V165.4M1670.9 165.4V162.3H1690.9V165.4M1640.9 160.0V157.2H1680.9V162.3M1600.9 162.8V152.6H1660.9V157.2M1545.9 155.6V143.4H1630.9V152.6M1485.9 155.9V129.4H1588.4V143.4M1425.9 160.5V104.1H1537.2V129.4"/>
<text x="1705.8" y="200.1" font-size="26.0">Fgfr2<tspan dy="-9.4" font-size="16.1">+</tspan><tspan dy="9.4"> FB</tspan></text>
<text x="1705.8" y="244.0" font-size="26.0">CD90<tspan dy="-9.4" font-size="16.1">+</tspan><tspan dy="9.4"> FB</tspan></text>
<text x="1705.8" y="287.9" font-size="26.0">CD81<tspan dy="-9.4" font-size="16.1">+</tspan><tspan dy="9.4"> FB</tspan></text>
<text x="1705.8" y="331.8" font-size="26.0">PDGFRα<tspan dy="-9.4" font-size="16.1">hi</tspan><tspan dy="9.4"> FB</tspan></text>
<text x="1705.8" y="375.7" font-size="26.0">Pericytes</text>
<text x="1557.8" y="45.8" font-size="26.0" text-anchor="middle">Colon</text>
<text x="1546.0" y="553.4" font-size="26.0" text-anchor="middle">Bulk subsets</text>
<text x="1436.0" y="403.0" font-size="26.0" text-anchor="end" transform="rotate(-45.0 1436.0 403.0)">Pericytes</text>
<text x="1500.0" y="408.0" font-size="26.0" text-anchor="end" transform="rotate(-45.0 1500.0 408.0)">PDGFRα<tspan dy="-9.4" font-size="16.1">hi</tspan><tspan dy="9.4"> FB</tspan></text>
<text x="1563.0" y="408.0" font-size="26.0" text-anchor="end" transform="rotate(-45.0 1563.0 408.0)">CD81<tspan dy="-9.4" font-size="16.1">+</tspan><tspan dy="9.4"> FB</tspan></text>
<text x="1625.0" y="408.0" font-size="26.0" text-anchor="end" transform="rotate(-45.0 1625.0 408.0)">Fgfr2<tspan dy="-9.4" font-size="16.1">+</tspan><tspan dy="9.4"> FB</tspan></text>
<text x="1680.0" y="408.0" font-size="26.0" text-anchor="end" transform="rotate(-45.0 1680.0 408.0)">CD90<tspan dy="-9.4" font-size="16.1">+</tspan><tspan dy="9.4"> FB</tspan></text>
<text x="1772.0" y="411.0" font-size="22.3" text-anchor="middle">Pearson</text>
<text x="1772.0" y="437.0" font-size="22.3" text-anchor="middle">correlation</text>
<defs><linearGradient id="gpear"><stop offset="0" stop-color="#3b4fa0"/><stop offset="0.25" stop-color="#8f90c9"/><stop offset="0.5" stop-color="#ffffff"/><stop offset="0.75" stop-color="#f08f92"/><stop offset="1" stop-color="#e52328"/></linearGradient></defs>
<rect x="1729" y="449.3" width="86.8" height="23.6" fill="url(#gpear)"/>
<line x1="1749.4" y1="472.9" x2="1749.4" y2="477.0" stroke="#000" stroke-width="1.00"/>
<line x1="1772.6" y1="472.9" x2="1772.6" y2="477.0" stroke="#000" stroke-width="1.00"/>
<line x1="1795.8" y1="472.9" x2="1795.8" y2="477.0" stroke="#000" stroke-width="1.00"/>
<text x="1749.4" y="494.5" font-size="18.1" text-anchor="middle">0.4</text>
<text x="1795.8" y="494.5" font-size="18.1" text-anchor="middle">0.6</text></g>
<g id="panel_c"><text x="826.0" y="603.0" font-size="25.0" font-weight="bold">c</text>
<defs><filter id="spk1" x="0" y="0" width="1" height="1" color-interpolation-filters="sRGB">
<feGaussianBlur in="SourceGraphic" stdDeviation="3.5" result="b"/>
<feTurbulence type="fractalNoise" baseFrequency="0.9" numOctaves="2" seed="3" result="n"/>
<feColorMatrix in="n" type="matrix" values="0 0 0 0 0 0 0 0 0 0 0 0 0 0 0 2.58 0 0 0 -0.79" result="na"/>
<feComposite in="b" in2="na" operator="arithmetic" k2="1" k3="-1" result="d"/>
<feComponentTransfer in="d" result="m"><feFuncA type="discrete" tableValues="0 1 1 1 1 1 1 1 1 1 1 1 1 1 1 1 1 1 1 1"/></feComponentTransfer>
<feComponentTransfer in="b" result="c"><feFuncA type="discrete" tableValues="0 1 1 1 1 1 1 1 1 1 1 1 1 1 1 1 1 1 1 1 1 1 1 1 1 1 1 1 1 1 1 1 1 1 1 1 1 1 1 1 1 1 1 1 1 1 1 1 1 1"/></feComponentTransfer>
<feComposite in="c" in2="m" operator="in"/>
</filter><clipPath id="clp1"><rect x="911.4" y="722.3" width="213.3" height="212.9"/></clipPath></defs><g clip-path="url(#clp1)"><g filter="url(#spk1)"><rect x="901.4" y="712.3" width="233.3" height="232.9" fill="none"/><ellipse cx="1020.0" cy="840.0" rx="110.0" ry="80.0" fill="#3050b0" fill-opacity="0.10" transform="rotate(-25.0 1020.0 840.0)"/><ellipse cx="960.0" cy="812.0" rx="30.0" ry="55.0" fill="#3050b0" fill-opacity="0.35" transform="rotate(8.0 960.0 812.0)"/><ellipse cx="960.0" cy="815.0" rx="18.0" ry="40.0" fill="#3050b0" fill-opacity="0.35" transform="rotate(8.0 960.0 815.0)"/><ellipse cx="958.0" cy="818.0" rx="10.0" ry="28.0" fill="#3eb1d9" fill-opacity="0.60" transform="rotate(5.0 958.0 818.0)"/><ellipse cx="957.0" cy="820.0" rx="6.0" ry="16.0" fill="#5fbb46" fill-opacity="0.60" transform="rotate(5.0 957.0 820.0)"/><ellipse cx="1040.0" cy="872.0" rx="75.0" ry="32.0" fill="#3050b0" fill-opacity="0.35" transform="rotate(-12.0 1040.0 872.0)"/><ellipse cx="985.0" cy="884.0" rx="40.0" ry="12.0" fill="#3050b0" fill-opacity="0.30" transform="rotate(-5.0 985.0 884.0)"/><ellipse cx="1055.0" cy="876.0" rx="45.0" ry="24.0" fill="#3050b0" fill-opacity="0.55" transform="rotate(-12.0 1055.0 876.0)"/><ellipse cx="1056.0" cy="877.0" rx="38.0" ry="19.0" fill="#3eb1d9" fill-opacity="0.90" transform="rotate(-12.0 1056.0 877.0)"/><ellipse cx="1057.0" cy="878.0" rx="30.0" ry="14.0" fill="#5fbb46" fill-opacity="1.00" transform="rotate(-12.0 1057.0 878.0)"/><ellipse cx="1059.0" cy="879.0" rx="15.0" ry="8.0" fill="#f4e51d" fill-opacity="1.00" transform="rotate(-15.0 1059.0 879.0)"/><ellipse cx="1060.0" cy="879.0" rx="9.0" ry="5.0" fill="#e3201f" fill-opacity="1.00" transform="rotate(-15.0 1060.0 879.0)"/></g></g>
<rect x="911.4" y="722.3" width="213.3" height="212.9" fill="none" stroke="#000" stroke-width="1.6"/>
<path fill="none" stroke="#000" stroke-width="1.2" d="M911.4 920.6h-5.5M911.4 882.5h-5.5M911.4 851.1h-5.5M911.4 793.1h-5.5M911.4 742.3h-5.5M911.4 833.6h-3.8M911.4 823.4h-3.8M911.4 816.2h-3.8M911.4 810.6h-3.8M911.4 806.0h-3.8M911.4 802.1h-3.8M911.4 798.7h-3.8M911.4 795.8h-3.8M911.4 777.8h-3.8M911.4 768.9h-3.8M911.4 762.5h-3.8M911.4 757.6h-3.8M911.4 753.6h-3.8M911.4 750.2h-3.8M911.4 747.2h-3.8M911.4 744.6h-3.8M911.4 727.0h-3.8M911.4 881.6h-3.8M911.4 880.6h-3.8M911.4 879.7h-3.8M911.4 878.4h-3.8M911.4 876.2h-3.8M911.4 873.1h-3.8M911.4 869.3h-3.8M911.4 865.2h-3.8M911.4 860.5h-3.8M911.4 855.8h-3.8M911.4 884.0h-3.8M911.4 885.5h-3.8M911.4 887.5h-3.8M911.4 890.1h-3.8M911.4 895.8h-3.8M911.4 903.5h-3.8M911.4 911.1h-3.8M911.4 932.0h-3.8"/><text x="905.9" y="925.4" font-size="17.8" text-anchor="end" fill="#111">-10<tspan dy="-6.4" font-size="11.0">3</tspan></text><text x="899.9" y="887.3" font-size="17.8" text-anchor="end" fill="#111">0</text><text x="905.9" y="855.9" font-size="17.8" text-anchor="end" fill="#111">10<tspan dy="-6.4" font-size="11.0">3</tspan></text><text x="905.9" y="797.9" font-size="17.8" text-anchor="end" fill="#111">10<tspan dy="-6.4" font-size="11.0">4</tspan></text><text x="905.9" y="747.1" font-size="17.8" text-anchor="end" fill="#111">10<tspan dy="-6.4" font-size="11.0">5</tspan></text>
<path fill="none" stroke="#000" stroke-width="1.2" d="M918.1 935.2v5.5M956.2 935.2v5.5M995.8 935.2v5.5M1054.3 935.2v5.5M1103.7 935.2v5.5M1013.4 935.2v3.8M1023.7 935.2v3.8M1031.0 935.2v3.8M1036.7 935.2v3.8M1041.3 935.2v3.8M1045.2 935.2v3.8M1048.6 935.2v3.8M1051.6 935.2v3.8M1069.2 935.2v3.8M1077.9 935.2v3.8M1084.0 935.2v3.8M1088.8 935.2v3.8M1092.7 935.2v3.8M1096.0 935.2v3.8M1098.9 935.2v3.8M1101.4 935.2v3.8M1118.6 935.2v3.8M957.4 935.2v3.8M958.6 935.2v3.8M959.8 935.2v3.8M961.3 935.2v3.8M964.1 935.2v3.8M968.1 935.2v3.8M972.8 935.2v3.8M978.0 935.2v3.8M983.9 935.2v3.8M989.9 935.2v3.8M954.7 935.2v3.8M953.2 935.2v3.8M951.2 935.2v3.8M948.6 935.2v3.8M942.9 935.2v3.8M935.2 935.2v3.8M927.6 935.2v3.8"/><text x="926.1" y="957.2" font-size="17.8" text-anchor="middle" fill="#111">-10<tspan dy="-6.4" font-size="11.0">3</tspan></text><text x="956.2" y="957.2" font-size="17.8" text-anchor="middle" fill="#111">0</text><text x="1001.8" y="957.2" font-size="17.8" text-anchor="middle" fill="#111">10<tspan dy="-6.4" font-size="11.0">3</tspan></text><text x="1060.3" y="957.2" font-size="17.8" text-anchor="middle" fill="#111">10<tspan dy="-6.4" font-size="11.0">4</tspan></text><text x="1109.7" y="957.2" font-size="17.8" text-anchor="middle" fill="#111">10<tspan dy="-6.4" font-size="11.0">5</tspan></text>
<ellipse cx="960.8" cy="815.8" rx="26.0" ry="46.5" fill="none" stroke="#111" stroke-width="3.8" transform="rotate(8.0 960.8 815.8)"/>
<path d="M948,884 C946,872 960,873 975,867 C1010,852 1040,832 1072,831.5 C1098,831 1107,852 1106,872 C1105,895 1085,911 1058,910 C1025,909 995,898 965,894 C952,892 949,890 948,884 Z" fill="none" stroke="#111" stroke-width="3.8" stroke-linejoin="round"/>
<text x="917.2" y="713.2" font-size="26.0">ß1<tspan dy="-9.4" font-size="16.1">+</tspan><tspan dy="9.4"> MSC</tspan></text>
<text x="929.0" y="754.5" font-size="18.3" fill="#333">13.3%</text>
<text x="1056.1" y="929.7" font-size="18.3" fill="#333">82.9%</text>
<text x="909.9" y="982.4" font-size="26.0">PDGFRα-PECF594</text>
<text x="867.2" y="932.4" font-size="26.0" transform="rotate(-90.0 867.2 932.4)">CD146-BUV395</text><line x1="857.8" y1="744.0" x2="857.8" y2="734.5" stroke="#000" stroke-width="1.50"/><polygon points="857.8,727.5 862.3,737.5 853.3,737.5" fill="#000"/>
<line x1="987.0" y1="819.8" x2="1178.7" y2="682.5" stroke="#000" stroke-width="1.50"/><polygon points="1185.0,678.0 1179.0,688.5 1173.1,680.3" fill="#000"/>
<line x1="1101.5" y1="890.7" x2="1176.8" y2="946.9" stroke="#000" stroke-width="1.50"/><polygon points="1183.0,951.5 1171.2,948.9 1177.2,940.9" fill="#000"/>
<defs><filter id="spk2" x="0" y="0" width="1" height="1" color-interpolation-filters="sRGB">
<feGaussianBlur in="SourceGraphic" stdDeviation="3.5" result="b"/>
<feTurbulence type="fractalNoise" baseFrequency="0.9" numOctaves="2" seed="5" result="n"/>
<feColorMatrix in="n" type="matrix" values="0 0 0 0 0 0 0 0 0 0 0 0 0 0 0 2.58 0 0 0 -0.79" result="na"/>
<feComposite in="b" in2="na" operator="arithmetic" k2="1" k3="-1" result="d"/>
<feComponentTransfer in="d" result="m"><feFuncA type="discrete" tableValues="0 1 1 1 1 1 1 1 1 1 1 1 1 1 1 1 1 1 1 1"/></feComponentTransfer>
<feComponentTransfer in="b" result="c"><feFuncA type="discrete" tableValues="0 1 1 1 1 1 1 1 1 1 1 1 1 1 1 1 1 1 1 1 1 1 1 1 1 1 1 1 1 1 1 1 1 1 1 1 1 1 1 1 1 1 1 1 1 1 1 1 1 1"/></feComponentTransfer>
<feComposite in="c" in2="m" operator="in"/>
</filter><clipPath id="clp2"><rect x="1204.5" y="592.3" width="210.6" height="213.8"/></clipPath></defs><g clip-path="url(#clp2)"><g filter="url(#spk2)"><rect x="1194.5" y="582.3" width="230.6" height="233.8" fill="none"/><ellipse cx="1300.0" cy="705.0" rx="95.0" ry="60.0" fill="#c6d92f" fill-opacity="0.06" transform="rotate(-20.0 1300.0 705.0)"/><ellipse cx="1236.0" cy="772.0" rx="12.0" ry="10.0" fill="#3050b0" fill-opacity="0.25"/><ellipse cx="1242.0" cy="765.0" rx="12.0" ry="8.0" fill="#1a8f7f" fill-opacity="0.30"/><ellipse cx="1257.0" cy="722.0" rx="12.0" ry="36.0" fill="#1a8f7f" fill-opacity="0.50"/><ellipse cx="1259.0" cy="692.0" rx="10.0" ry="22.0" fill="#3aa860" fill-opacity="0.35"/><ellipse cx="1262.0" cy="680.0" rx="12.0" ry="14.0" fill="#c6d92f" fill-opacity="0.15"/><ellipse cx="1253.0" cy="746.0" rx="13.0" ry="13.0" fill="#178f80" fill-opacity="0.90"/><ellipse cx="1338.0" cy="696.0" rx="44.0" ry="30.0" fill="#c6d92f" fill-opacity="0.35" transform="rotate(-20.0 1338.0 696.0)"/><ellipse cx="1345.0" cy="690.0" rx="26.0" ry="18.0" fill="#f4e51d" fill-opacity="0.30" transform="rotate(-20.0 1345.0 690.0)"/><ellipse cx="1305.0" cy="722.0" rx="35.0" ry="18.0" fill="#5fbb46" fill-opacity="0.15" transform="rotate(-20.0 1305.0 722.0)"/></g></g>
<rect x="1204.5" y="592.3" width="210.6" height="213.8" fill="none" stroke="#000" stroke-width="1.6"/>
<path fill="none" stroke="#000" stroke-width="1.2" d="M1204.5 791.6h-5.5M1204.5 752.5h-5.5M1204.5 720.7h-5.5M1204.5 663.2h-5.5M1204.5 612.7h-5.5M1204.5 703.4h-3.8M1204.5 693.3h-3.8M1204.5 686.1h-3.8M1204.5 680.5h-3.8M1204.5 676.0h-3.8M1204.5 672.1h-3.8M1204.5 668.8h-3.8M1204.5 665.8h-3.8M1204.5 648.0h-3.8M1204.5 639.1h-3.8M1204.5 632.8h-3.8M1204.5 627.9h-3.8M1204.5 623.9h-3.8M1204.5 620.5h-3.8M1204.5 617.6h-3.8M1204.5 615.0h-3.8M1204.5 597.5h-3.8M1204.5 751.5h-3.8M1204.5 750.6h-3.8M1204.5 749.6h-3.8M1204.5 748.4h-3.8M1204.5 746.1h-3.8M1204.5 743.0h-3.8M1204.5 739.1h-3.8M1204.5 735.0h-3.8M1204.5 730.2h-3.8M1204.5 725.5h-3.8M1204.5 754.1h-3.8M1204.5 755.6h-3.8M1204.5 757.6h-3.8M1204.5 760.3h-3.8M1204.5 766.2h-3.8M1204.5 774.0h-3.8M1204.5 781.8h-3.8M1204.5 803.3h-3.8"/><text x="1199.0" y="796.4" font-size="17.8" text-anchor="end" fill="#111">-10<tspan dy="-6.4" font-size="11.0">3</tspan></text><text x="1193.0" y="757.3" font-size="17.8" text-anchor="end" fill="#111">0</text><text x="1199.0" y="725.5" font-size="17.8" text-anchor="end" fill="#111">10<tspan dy="-6.4" font-size="11.0">3</tspan></text><text x="1199.0" y="668.0" font-size="17.8" text-anchor="end" fill="#111">10<tspan dy="-6.4" font-size="11.0">4</tspan></text><text x="1199.0" y="617.5" font-size="17.8" text-anchor="end" fill="#111">10<tspan dy="-6.4" font-size="11.0">5</tspan></text>
<path fill="none" stroke="#000" stroke-width="1.2" d="M1209.5 806.1v5.5M1250.8 806.1v5.5M1288.5 806.1v5.5M1346.1 806.1v5.5M1396.0 806.1v5.5M1305.8 806.1v3.8M1316.0 806.1v3.8M1323.2 806.1v3.8M1328.8 806.1v3.8M1333.3 806.1v3.8M1337.2 806.1v3.8M1340.5 806.1v3.8M1343.5 806.1v3.8M1361.1 806.1v3.8M1369.9 806.1v3.8M1376.1 806.1v3.8M1381.0 806.1v3.8M1384.9 806.1v3.8M1388.3 806.1v3.8M1391.2 806.1v3.8M1393.7 806.1v3.8M1411.0 806.1v3.8M1251.9 806.1v3.8M1253.1 806.1v3.8M1254.2 806.1v3.8M1255.7 806.1v3.8M1258.3 806.1v3.8M1262.1 806.1v3.8M1266.6 806.1v3.8M1271.5 806.1v3.8M1277.2 806.1v3.8M1282.8 806.1v3.8M1249.1 806.1v3.8M1247.5 806.1v3.8M1245.4 806.1v3.8M1242.5 806.1v3.8M1236.3 806.1v3.8M1228.1 806.1v3.8M1219.8 806.1v3.8"/><text x="1217.5" y="828.1" font-size="17.8" text-anchor="middle" fill="#111">-10<tspan dy="-6.4" font-size="11.0">3</tspan></text><text x="1250.8" y="828.1" font-size="17.8" text-anchor="middle" fill="#111">0</text><text x="1294.5" y="828.1" font-size="17.8" text-anchor="middle" fill="#111">10<tspan dy="-6.4" font-size="11.0">3</tspan></text><text x="1352.1" y="828.1" font-size="17.8" text-anchor="middle" fill="#111">10<tspan dy="-6.4" font-size="11.0">4</tspan></text><text x="1402.0" y="828.1" font-size="17.8" text-anchor="middle" fill="#111">10<tspan dy="-6.4" font-size="11.0">5</tspan></text>
<polygon points="1231.7,652.6 1276.2,651.7 1276.2,760.1 1233.0,760.1" fill="none" stroke="#e8198b" stroke-width="3.2" stroke-linejoin="miter"/>
<polygon points="1295.3,675.3 1313.4,663.5 1337.0,652.3 1375.2,652.3 1387.0,673.5 1370.6,721.6 1314.3,740.2 1291.6,723.5" fill="none" stroke="#7d1416" stroke-width="3.4" stroke-linejoin="miter"/>
<text x="1206.3" y="619.0" font-size="21.6">PCs</text>
<text x="1207.6" y="638.1" font-size="18.3" fill="#333">66.2%</text>
<text x="1308.0" y="619.0" font-size="21.6">SMCs</text>
<text x="1307.0" y="636.3" font-size="18.3" fill="#333">23.0%</text>
<line x1="1272.6" y1="629.0" x2="1272.6" y2="641.7" stroke="#000" stroke-width="1.50"/><polygon points="1272.6,648.0 1268.6,639.0 1276.6,639.0" fill="#000"/>
<line x1="1373.9" y1="629.0" x2="1373.9" y2="641.7" stroke="#000" stroke-width="1.50"/><polygon points="1373.9,648.0 1369.9,639.0 1377.9,639.0" fill="#000"/>
<text x="1201.7" y="850.6" font-size="26.0">PDPN-PECy7</text><line x1="1366.5" y1="841.2" x2="1411.8" y2="841.2" stroke="#000" stroke-width="1.50"/><polygon points="1418.8,841.2 1408.8,845.7 1408.8,836.7" fill="#000"/>
<text x="1164.5" y="805.2" font-size="26.0" transform="rotate(-90.0 1164.5 805.2)">CD9-BV711</text><line x1="1155.1" y1="664.4" x2="1155.1" y2="605.0" stroke="#000" stroke-width="1.50"/><polygon points="1155.1,598.0 1159.6,608.0 1150.6,608.0" fill="#000"/>
<defs><filter id="spk3" x="0" y="0" width="1" height="1" color-interpolation-filters="sRGB">
<feGaussianBlur in="SourceGraphic" stdDeviation="3.5" result="b"/>
<feTurbulence type="fractalNoise" baseFrequency="0.9" numOctaves="2" seed="7" result="n"/>
<feColorMatrix in="n" type="matrix" values="0 0 0 0 0 0 0 0 0 0 0 0 0 0 0 2.58 0 0 0 -0.79" result="na"/>
<feComposite in="b" in2="na" operator="arithmetic" k2="1" k3="-1" result="d"/>
<feComponentTransfer in="d" result="m"><feFuncA type="discrete" tableValues="0 1 1 1 1 1 1 1 1 1 1 1 1 1 1 1 1 1 1 1"/></feComponentTransfer>
<feComponentTransfer in="b" result="c"><feFuncA type="discrete" tableValues="0 1 1 1 1 1 1 1 1 1 1 1 1 1 1 1 1 1 1 1 1 1 1 1 1 1 1 1 1 1 1 1 1 1 1 1 1 1 1 1 1 1 1 1 1 1 1 1 1 1"/></feComponentTransfer>
<feComposite in="c" in2="m" operator="in"/>
</filter><clipPath id="clp3"><rect x="1203.2" y="868.2" width="212.5" height="212.8"/></clipPath></defs><g clip-path="url(#clp3)"><g filter="url(#spk3)"><rect x="1193.2" y="858.2" width="232.5" height="232.8" fill="none"/><ellipse cx="1320.0" cy="955.0" rx="90.0" ry="70.0" fill="#3050b0" fill-opacity="0.14" transform="rotate(-40.0 1320.0 955.0)"/><ellipse cx="1330.0" cy="922.0" rx="54.0" ry="36.0" fill="#3050b0" fill-opacity="0.70" transform="rotate(-40.0 1330.0 922.0)"/><ellipse cx="1262.0" cy="1025.0" rx="30.0" ry="12.0" fill="#3050b0" fill-opacity="0.50" transform="rotate(-25.0 1262.0 1025.0)"/><ellipse cx="1312.0" cy="1005.0" rx="24.0" ry="26.0" fill="#3050b0" fill-opacity="0.70"/><ellipse cx="1362.0" cy="995.0" rx="38.0" ry="40.0" fill="#3050b0" fill-opacity="0.70"/><ellipse cx="1358.0" cy="1010.0" rx="24.0" ry="18.0" fill="#3eb1d9" fill-opacity="0.60"/><ellipse cx="1358.0" cy="1013.0" rx="13.0" ry="9.0" fill="#5fbb46" fill-opacity="0.60"/><ellipse cx="1315.0" cy="1005.0" rx="13.0" ry="15.0" fill="#3eb1d9" fill-opacity="0.50"/><ellipse cx="1337.0" cy="916.0" rx="40.0" ry="26.0" fill="#3eb1d9" fill-opacity="0.90" transform="rotate(-40.0 1337.0 916.0)"/><ellipse cx="1340.0" cy="914.0" rx="32.0" ry="19.0" fill="#5fbb46" fill-opacity="1.00" transform="rotate(-40.0 1340.0 914.0)"/><ellipse cx="1342.0" cy="912.0" rx="19.0" ry="12.0" fill="#f4e51d" fill-opacity="1.00" transform="rotate(-40.0 1342.0 912.0)"/><ellipse cx="1344.0" cy="911.0" rx="10.0" ry="6.5" fill="#e3201f" fill-opacity="1.00" transform="rotate(-40.0 1344.0 911.0)"/></g></g>
<rect x="1203.2" y="868.2" width="212.5" height="212.8" fill="none" stroke="#000" stroke-width="1.6"/>
<path fill="none" stroke="#000" stroke-width="1.2" d="M1203.2 1022.5h-5.5M1203.2 978.0h-5.5M1203.2 917.2h-5.5M1203.2 959.7h-3.8M1203.2 949.0h-3.8M1203.2 941.4h-3.8M1203.2 935.5h-3.8M1203.2 930.7h-3.8M1203.2 926.6h-3.8M1203.2 923.1h-3.8M1203.2 920.0h-3.8M1203.2 898.9h-3.8M1203.2 888.2h-3.8M1203.2 880.6h-3.8M1203.2 874.7h-3.8M1203.2 869.9h-3.8M1203.2 1021.2h-3.8M1203.2 1019.8h-3.8M1203.2 1018.5h-3.8M1203.2 1016.7h-3.8M1203.2 1013.6h-3.8M1203.2 1009.1h-3.8M1203.2 1003.8h-3.8M1203.2 998.0h-3.8M1203.2 991.4h-3.8M1203.2 984.7h-3.8"/><text x="1191.7" y="1027.3" font-size="17.8" text-anchor="end" fill="#111">0</text><text x="1197.7" y="982.8" font-size="17.8" text-anchor="end" fill="#111">10<tspan dy="-6.4" font-size="11.0">3</tspan></text><text x="1197.7" y="922.0" font-size="17.8" text-anchor="end" fill="#111">10<tspan dy="-6.4" font-size="11.0">4</tspan></text>
<path fill="none" stroke="#000" stroke-width="1.2" d="M1210.0 1081.0v5.5M1252.6 1081.0v5.5M1304.3 1081.0v5.5M1366.1 1081.0v5.5M1322.9 1081.0v3.8M1333.8 1081.0v3.8M1341.5 1081.0v3.8M1347.5 1081.0v3.8M1352.4 1081.0v3.8M1356.5 1081.0v3.8M1360.1 1081.0v3.8M1363.3 1081.0v3.8M1384.7 1081.0v3.8M1395.6 1081.0v3.8M1403.3 1081.0v3.8M1409.3 1081.0v3.8M1414.2 1081.0v3.8M1254.2 1081.0v3.8M1255.7 1081.0v3.8M1257.3 1081.0v3.8M1259.3 1081.0v3.8M1262.9 1081.0v3.8M1268.1 1081.0v3.8M1274.3 1081.0v3.8M1281.0 1081.0v3.8M1288.8 1081.0v3.8M1296.5 1081.0v3.8M1250.9 1081.0v3.8M1249.2 1081.0v3.8M1247.1 1081.0v3.8M1244.1 1081.0v3.8M1237.7 1081.0v3.8M1229.2 1081.0v3.8M1220.7 1081.0v3.8"/><text x="1218.0" y="1103.0" font-size="17.8" text-anchor="middle" fill="#111">-10<tspan dy="-6.4" font-size="11.0">3</tspan></text><text x="1252.6" y="1103.0" font-size="17.8" text-anchor="middle" fill="#111">0</text><text x="1310.3" y="1103.0" font-size="17.8" text-anchor="middle" fill="#111">10<tspan dy="-6.4" font-size="11.0">3</tspan></text><text x="1372.1" y="1103.0" font-size="17.8" text-anchor="middle" fill="#111">10<tspan dy="-6.4" font-size="11.0">4</tspan></text>
<polygon points="1292.2,969.9 1334.3,969.9 1383.3,910.8 1376.4,877.2 1334.3,872.2 1298.9,897.6 1280.7,929.0" fill="none" stroke="#111" stroke-width="3.8" stroke-linejoin="miter"/>
<polygon points="1296.2,981.7 1337.9,978.0 1326.1,1035.2 1297.1,1034.9 1292.5,1008.0" fill="none" stroke="#3db5e6" stroke-width="3.2" stroke-linejoin="miter"/>
<polygon points="1327.0,1035.2 1339.8,979.0 1348.8,964.4 1376.1,930.8 1394.2,940.8 1401.5,997.1 1380.6,1035.2" fill="none" stroke="#7f3f98" stroke-width="3.2" stroke-linejoin="miter"/>
<text x="1246.2" y="890.9" font-size="18.3" fill="#333">65.4%</text>
<text x="1213.5" y="991.6" font-size="21.5" fill="#222">Fgfr2<tspan dy="-7.7" font-size="13.3">+</tspan></text>
<text x="1213.5" y="1016.2" font-size="21.5" fill="#222">FB</text>
<text x="1213.5" y="1045.8" font-size="18.3" fill="#333">11.1%</text>
<text x="1295.3" y="1054.3" font-size="18.3" fill="#333">15.9%</text>
<text x="1245.3" y="1077.0" font-size="21.5" fill="#222">PDGFRα<tspan dy="-7.7" font-size="13.3">hi</tspan><tspan dy="7.7"> FB</tspan></text>
<line x1="1364.3" y1="1059.0" x2="1364.3" y2="1047.0" stroke="#000" stroke-width="1.50"/><polygon points="1364.3,1040.7 1368.3,1049.7 1360.3,1049.7" fill="#000"/>
<line x1="1269.8" y1="1002.5" x2="1283.1" y2="1013.1" stroke="#000" stroke-width="1.50"/><polygon points="1288.0,1017.0 1278.5,1014.5 1283.5,1008.3" fill="#000"/>
<line x1="1383.3" y1="911.7" x2="1427.2" y2="911.7" stroke="#000" stroke-width="1.50"/><polygon points="1434.2,911.7 1424.2,916.2 1424.2,907.2" fill="#000"/>
<text x="1201.7" y="1129.7" font-size="26.0">PDGFRα-PECF594</text>
<text x="1165.4" y="1085.2" font-size="26.0" transform="rotate(-90.0 1165.4 1085.2)">CD34-BV421</text><line x1="1156.0" y1="928.0" x2="1156.0" y2="882.4" stroke="#000" stroke-width="1.50"/><polygon points="1156.0,875.4 1160.5,885.4 1151.5,885.4" fill="#000"/>
<defs><filter id="spk4" x="0" y="0" width="1" height="1" color-interpolation-filters="sRGB">
<feGaussianBlur in="SourceGraphic" stdDeviation="2.2" result="b"/>
<feTurbulence type="fractalNoise" baseFrequency="0.9" numOctaves="2" seed="9" result="n"/>
<feColorMatrix in="n" type="matrix" values="0 0 0 0 0 0 0 0 0 0 0 0 0 0 0 2.58 0 0 0 -0.79" result="na"/>
<feComposite in="b" in2="na" operator="arithmetic" k2="1" k3="-1" result="d"/>
<feComponentTransfer in="d" result="m"><feFuncA type="discrete" tableValues="0 1 1 1 1 1 1 1 1 1 1 1 1 1 1 1 1 1 1 1"/></feComponentTransfer>
<feComponentTransfer in="b" result="c"><feFuncA type="discrete" tableValues="0 1 1 1 1 1 1 1 1 1 1 1 1 1 1 1 1 1 1 1 1 1 1 1 1 1 1 1 1 1 1 1 1 1 1 1 1 1 1 1 1 1 1 1 1 1 1 1 1 1"/></feComponentTransfer>
<feComposite in="c" in2="m" operator="in"/>
</filter><clipPath id="clp4"><rect x="1483.6" y="868.2" width="213.3" height="214.2"/></clipPath></defs><g clip-path="url(#clp4)"><g filter="url(#spk4)"><rect x="1473.6" y="858.2" width="233.3" height="234.2" fill="none"/><ellipse cx="1600.0" cy="965.0" rx="80.0" ry="75.0" fill="#3050b0" fill-opacity="0.08"/><ellipse cx="1557.0" cy="985.0" rx="30.0" ry="48.0" fill="#3050b0" fill-opacity="0.50"/><ellipse cx="1560.0" cy="990.0" rx="18.0" ry="35.0" fill="#3eb1d9" fill-opacity="0.25"/><ellipse cx="1622.0" cy="992.0" rx="38.0" ry="32.0" fill="#3050b0" fill-opacity="0.25"/><ellipse cx="1622.0" cy="925.0" rx="40.0" ry="23.0" fill="#3050b0" fill-opacity="0.45" transform="rotate(-50.0 1622.0 925.0)"/><ellipse cx="1625.0" cy="922.0" rx="24.0" ry="13.0" fill="#3eb1d9" fill-opacity="0.50" transform="rotate(-50.0 1625.0 922.0)"/><ellipse cx="1628.0" cy="918.0" rx="16.0" ry="8.0" fill="#5fbb46" fill-opacity="0.55" transform="rotate(-50.0 1628.0 918.0)"/><ellipse cx="1597.0" cy="1027.0" rx="66.0" ry="6.0" fill="#3050b0" fill-opacity="0.55"/><ellipse cx="1565.0" cy="1024.0" rx="25.0" ry="8.0" fill="#3eb1d9" fill-opacity="0.50"/><ellipse cx="1580.0" cy="1030.0" rx="62.0" ry="2.5" fill="#2f6cbd" fill-opacity="0.80"/></g></g>
<ellipse cx="1590.0" cy="1031.5" rx="62.0" ry="1.9" fill="#3eb1d9" fill-opacity="0.90"/>
<ellipse cx="1570.0" cy="1031.5" rx="38.0" ry="1.8" fill="#5fbb46" fill-opacity="0.95"/>
<ellipse cx="1559.0" cy="1031.5" rx="20.0" ry="1.7" fill="#f4e51d" fill-opacity="1.00"/>
<ellipse cx="1556.0" cy="1031.5" rx="10.0" ry="1.5" fill="#e3201f" fill-opacity="1.00"/>
<rect x="1483.6" y="868.2" width="213.3" height="214.2" fill="none" stroke="#000" stroke-width="1.6"/>
<path fill="none" stroke="#000" stroke-width="1.2" d="M1483.6 1067.9h-5.5M1483.6 1033.4h-5.5M1483.6 998.0h-5.5M1483.6 939.5h-5.5M1483.6 888.7h-5.5M1483.6 980.4h-3.8M1483.6 970.1h-3.8M1483.6 962.8h-3.8M1483.6 957.1h-3.8M1483.6 952.5h-3.8M1483.6 948.6h-3.8M1483.6 945.2h-3.8M1483.6 942.2h-3.8M1483.6 924.2h-3.8M1483.6 915.3h-3.8M1483.6 908.9h-3.8M1483.6 904.0h-3.8M1483.6 900.0h-3.8M1483.6 896.6h-3.8M1483.6 893.6h-3.8M1483.6 891.0h-3.8M1483.6 873.4h-3.8M1483.6 1032.3h-3.8M1483.6 1031.3h-3.8M1483.6 1030.2h-3.8M1483.6 1028.8h-3.8M1483.6 1026.3h-3.8M1483.6 1022.8h-3.8M1483.6 1018.5h-3.8M1483.6 1013.9h-3.8M1483.6 1008.6h-3.8M1483.6 1003.3h-3.8M1483.6 1034.8h-3.8M1483.6 1036.2h-3.8M1483.6 1037.9h-3.8M1483.6 1040.3h-3.8M1483.6 1045.5h-3.8M1483.6 1052.4h-3.8M1483.6 1059.3h-3.8M1483.6 1078.2h-3.8"/><text x="1478.1" y="1072.7" font-size="17.8" text-anchor="end" fill="#111">-10<tspan dy="-6.4" font-size="11.0">3</tspan></text><text x="1472.1" y="1038.2" font-size="17.8" text-anchor="end" fill="#111">0</text><text x="1478.1" y="1002.8" font-size="17.8" text-anchor="end" fill="#111">10<tspan dy="-6.4" font-size="11.0">3</tspan></text><text x="1478.1" y="944.3" font-size="17.8" text-anchor="end" fill="#111">10<tspan dy="-6.4" font-size="11.0">4</tspan></text><text x="1478.1" y="893.5" font-size="17.8" text-anchor="end" fill="#111">10<tspan dy="-6.4" font-size="11.0">5</tspan></text>
<path fill="none" stroke="#000" stroke-width="1.2" d="M1489.6 1082.4v5.5M1529.0 1082.4v5.5M1566.7 1082.4v5.5M1624.8 1082.4v5.5M1676.0 1082.4v5.5M1584.2 1082.4v3.8M1594.4 1082.4v3.8M1601.7 1082.4v3.8M1607.3 1082.4v3.8M1611.9 1082.4v3.8M1615.8 1082.4v3.8M1619.2 1082.4v3.8M1622.1 1082.4v3.8M1640.2 1082.4v3.8M1649.2 1082.4v3.8M1655.6 1082.4v3.8M1660.6 1082.4v3.8M1664.6 1082.4v3.8M1668.1 1082.4v3.8M1671.0 1082.4v3.8M1673.7 1082.4v3.8M1691.4 1082.4v3.8M1530.1 1082.4v3.8M1531.3 1082.4v3.8M1532.4 1082.4v3.8M1533.9 1082.4v3.8M1536.5 1082.4v3.8M1540.3 1082.4v3.8M1544.8 1082.4v3.8M1549.7 1082.4v3.8M1555.4 1082.4v3.8M1561.0 1082.4v3.8M1527.4 1082.4v3.8M1525.8 1082.4v3.8M1523.9 1082.4v3.8M1521.1 1082.4v3.8M1515.2 1082.4v3.8M1507.3 1082.4v3.8M1499.4 1082.4v3.8"/><text x="1497.6" y="1104.4" font-size="17.8" text-anchor="middle" fill="#111">-10<tspan dy="-6.4" font-size="11.0">3</tspan></text><text x="1529.0" y="1104.4" font-size="17.8" text-anchor="middle" fill="#111">0</text><text x="1572.7" y="1104.4" font-size="17.8" text-anchor="middle" fill="#111">10<tspan dy="-6.4" font-size="11.0">3</tspan></text><text x="1630.8" y="1104.4" font-size="17.8" text-anchor="middle" fill="#111">10<tspan dy="-6.4" font-size="11.0">4</tspan></text><text x="1682.0" y="1104.4" font-size="17.8" text-anchor="middle" fill="#111">10<tspan dy="-6.4" font-size="11.0">5</tspan></text>
<ellipse cx="1623.4" cy="922.6" rx="42.0" ry="22.5" fill="none" stroke="#1b6c35" stroke-width="3.4" transform="rotate(-48.0 1623.4 922.6)"/>
<path d="M1505.7,921.7 C1515,915 1545,912 1563.5,912.7 C1578,913 1586,915 1587,935 L1587,985 C1587,997 1592,1000 1605,1000 L1628.8,999.8 C1650,1000 1668,1012 1668.5,1032 L1668,1040 C1667,1046 1662,1048 1655,1048 L1507.2,1046.1 Z" fill="none" stroke="#313d96" stroke-width="3.4" stroke-linejoin="round"/>
<text x="1499.9" y="892.7" font-size="21.5">CD81<tspan dy="-7.7" font-size="13.3">+</tspan><tspan dy="7.7"> FB</tspan></text>
<text x="1515.3" y="909.0" font-size="18.3" fill="#333">19.9%</text>
<text x="1504.4" y="1076.1" font-size="18.3" fill="#333">72.2%</text>
<text x="1571.6" y="1076.1" font-size="21.5">Igfbp5<tspan dy="-7.7" font-size="13.3">+</tspan><tspan dy="7.7"> FB</tspan></text>
<line x1="1583.4" y1="898.1" x2="1591.3" y2="906.0" stroke="#000" stroke-width="1.50"/><polygon points="1595.2,910.0 1586.9,907.0 1592.3,901.6" fill="#000"/>
<line x1="1682.4" y1="1058.0" x2="1676.3" y2="1048.2" stroke="#000" stroke-width="1.50"/><polygon points="1673.3,1043.4 1680.8,1048.2 1674.3,1052.2" fill="#000"/>
<text x="1485.4" y="1127.0" font-size="26.0">CD81-BV510</text><line x1="1646.6" y1="1117.6" x2="1685.4" y2="1117.6" stroke="#000" stroke-width="1.50"/><polygon points="1692.4,1117.6 1682.4,1122.1 1682.4,1113.1" fill="#000"/>
<text x="1443.6" y="1079.7" font-size="26.0" transform="rotate(-90.0 1443.6 1079.7)">ACKR4-GFP</text><line x1="1434.2" y1="926.9" x2="1434.2" y2="879.7" stroke="#000" stroke-width="1.50"/><polygon points="1434.2,872.7 1438.7,882.7 1429.7,882.7" fill="#000"/>
<text x="1530.5" y="685.2" font-size="27.0">Small</text>
<text x="1530.5" y="717.0" font-size="27.0">intestine</text>
<defs><linearGradient id="gjet"><stop offset="0" stop-color="#2b3f9e"/><stop offset="0.12" stop-color="#2f5fb3"/><stop offset="0.25" stop-color="#1a9a8a"/><stop offset="0.45" stop-color="#5fbb46"/><stop offset="0.7" stop-color="#f4e51d"/><stop offset="0.85" stop-color="#f7941d"/><stop offset="1" stop-color="#e3201f"/></linearGradient></defs>
<rect x="1429" y="785.7" width="68.4" height="11.9" fill="url(#gjet)"/>
<text x="1434.6" y="781.5" font-size="22.4">αSMA</text></g>
<g id="panel_d"><text x="0.0" y="1068.5" font-size="25.0" font-weight="bold">d</text>
<text x="68.0" y="1080.6" font-size="26.0">ß1<tspan dy="-9.4" font-size="16.1">+</tspan><tspan dy="9.4"> MSC</tspan></text>
<defs><filter id="spk5" x="0" y="0" width="1" height="1" color-interpolation-filters="sRGB">
<feGaussianBlur in="SourceGraphic" stdDeviation="3" result="b"/>
<feTurbulence type="fractalNoise" baseFrequency="0.9" numOctaves="2" seed="11" result="n"/>
<feColorMatrix in="n" type="matrix" values="0 0 0 0 0 0 0 0 0 0 0 0 0 0 0 2.58 0 0 0 -0.79" result="na"/>
<feComposite in="b" in2="na" operator="arithmetic" k2="1" k3="-1" result="d"/>
<feComponentTransfer in="d" result="m"><feFuncA type="discrete" tableValues="0 1 1 1 1 1 1 1 1 1 1 1 1 1 1 1 1 1 1 1"/></feComponentTransfer>
<feComponentTransfer in="b" result="c"><feFuncA type="discrete" tableValues="0 1 1 1 1 1 1 1 1 1 1 1 1 1 1 1 1 1 1 1 1 1 1 1 1 1 1 1 1 1 1 1 1 1 1 1 1 1 1 1 1 1 1 1 1 1 1 1 1 1"/></feComponentTransfer>
<feComposite in="c" in2="m" operator="in"/>
</filter><clipPath id="clp5"><rect x="69.0" y="1094.5" width="213.4" height="212.9"/></clipPath></defs><g clip-path="url(#clp5)"><g filter="url(#spk5)"><rect x="59.0" y="1084.5" width="233.4" height="232.9" fill="none"/><ellipse cx="185.0" cy="1215.0" rx="100.0" ry="95.0" fill="#3050b0" fill-opacity="0.18"/><ellipse cx="139.0" cy="1166.0" rx="46.0" ry="56.0" fill="#3050b0" fill-opacity="0.75" transform="rotate(-30.0 139.0 1166.0)"/><ellipse cx="139.0" cy="1160.0" rx="32.0" ry="44.0" fill="#2f6cbd" fill-opacity="0.70" transform="rotate(-30.0 139.0 1160.0)"/><ellipse cx="140.0" cy="1160.0" rx="22.0" ry="34.0" fill="#3eb1d9" fill-opacity="0.75" transform="rotate(-30.0 140.0 1160.0)"/><ellipse cx="141.0" cy="1160.0" rx="15.0" ry="26.0" fill="#5fbb46" fill-opacity="0.95" transform="rotate(-30.0 141.0 1160.0)"/><ellipse cx="190.0" cy="1252.0" rx="85.0" ry="52.0" fill="#3050b0" fill-opacity="0.85"/><ellipse cx="190.0" cy="1251.0" rx="66.0" ry="34.0" fill="#2f6cbd" fill-opacity="0.75"/><ellipse cx="190.0" cy="1251.0" rx="56.0" ry="25.0" fill="#3eb1d9" fill-opacity="0.90"/><ellipse cx="189.0" cy="1251.0" rx="45.0" ry="17.0" fill="#5fbb46" fill-opacity="1.00"/><ellipse cx="187.0" cy="1250.5" rx="27.0" ry="10.0" fill="#f4e51d" fill-opacity="1.00"/><ellipse cx="186.0" cy="1250.5" rx="16.0" ry="6.5" fill="#e3201f" fill-opacity="1.00"/><ellipse cx="145.0" cy="1250.0" rx="25.0" ry="6.0" fill="#3eb1d9" fill-opacity="0.60"/></g></g>
<rect x="69.0" y="1094.5" width="213.4" height="212.9" fill="none" stroke="#000" stroke-width="1.6"/>
<path fill="none" stroke="#000" stroke-width="1.2" d="M69.0 1290.7h-5.5M69.0 1255.2h-5.5M69.0 1223.5h-5.5M69.0 1165.3h-5.5M69.0 1114.1h-5.5M69.0 1206.0h-3.8M69.0 1195.7h-3.8M69.0 1188.5h-3.8M69.0 1182.8h-3.8M69.0 1178.2h-3.8M69.0 1174.3h-3.8M69.0 1170.9h-3.8M69.0 1168.0h-3.8M69.0 1149.9h-3.8M69.0 1140.9h-3.8M69.0 1134.5h-3.8M69.0 1129.5h-3.8M69.0 1125.5h-3.8M69.0 1122.0h-3.8M69.0 1119.1h-3.8M69.0 1116.4h-3.8M69.0 1098.7h-3.8M69.0 1254.2h-3.8M69.0 1253.3h-3.8M69.0 1252.3h-3.8M69.0 1251.1h-3.8M69.0 1248.9h-3.8M69.0 1245.7h-3.8M69.0 1241.9h-3.8M69.0 1237.8h-3.8M69.0 1233.0h-3.8M69.0 1228.3h-3.8M69.0 1256.6h-3.8M69.0 1258.0h-3.8M69.0 1259.8h-3.8M69.0 1262.3h-3.8M69.0 1267.6h-3.8M69.0 1274.7h-3.8M69.0 1281.8h-3.8M69.0 1301.4h-3.8"/><text x="63.5" y="1295.5" font-size="17.8" text-anchor="end" fill="#111">-10<tspan dy="-6.4" font-size="11.0">3</tspan></text><text x="57.5" y="1260.0" font-size="17.8" text-anchor="end" fill="#111">0</text><text x="63.5" y="1228.3" font-size="17.8" text-anchor="end" fill="#111">10<tspan dy="-6.4" font-size="11.0">3</tspan></text><text x="63.5" y="1170.1" font-size="17.8" text-anchor="end" fill="#111">10<tspan dy="-6.4" font-size="11.0">4</tspan></text><text x="63.5" y="1118.9" font-size="17.8" text-anchor="end" fill="#111">10<tspan dy="-6.4" font-size="11.0">5</tspan></text>
<path fill="none" stroke="#000" stroke-width="1.2" d="M72.0 1307.4v5.5M123.5 1307.4v5.5M162.2 1307.4v5.5M229.2 1307.4v5.5M182.4 1307.4v3.8M194.2 1307.4v3.8M202.5 1307.4v3.8M209.0 1307.4v3.8M214.3 1307.4v3.8M218.8 1307.4v3.8M222.7 1307.4v3.8M226.1 1307.4v3.8M249.4 1307.4v3.8M261.2 1307.4v3.8M269.5 1307.4v3.8M276.0 1307.4v3.8M281.3 1307.4v3.8M124.7 1307.4v3.8M125.8 1307.4v3.8M127.0 1307.4v3.8M128.5 1307.4v3.8M131.2 1307.4v3.8M135.1 1307.4v3.8M139.8 1307.4v3.8M144.8 1307.4v3.8M150.6 1307.4v3.8M156.4 1307.4v3.8M121.4 1307.4v3.8M119.4 1307.4v3.8M116.8 1307.4v3.8M113.2 1307.4v3.8M105.5 1307.4v3.8M95.2 1307.4v3.8M84.9 1307.4v3.8"/><text x="80.0" y="1329.4" font-size="17.8" text-anchor="middle" fill="#111">-10<tspan dy="-6.4" font-size="11.0">3</tspan></text><text x="123.5" y="1329.4" font-size="17.8" text-anchor="middle" fill="#111">0</text><text x="168.2" y="1329.4" font-size="17.8" text-anchor="middle" fill="#111">10<tspan dy="-6.4" font-size="11.0">3</tspan></text><text x="235.2" y="1329.4" font-size="17.8" text-anchor="middle" fill="#111">10<tspan dy="-6.4" font-size="11.0">4</tspan></text>
<ellipse cx="136.4" cy="1163.3" rx="60.0" ry="42.5" fill="none" stroke="#111" stroke-width="3.8" transform="rotate(-62.0 136.4 1163.3)"/>
<path d="M112.7,1244.5 L150,1218 C170,1204 190,1190 215,1186 C240,1183 252,1200 255,1225 C258,1250 257,1270 245,1290 C235,1304 215,1307 180,1307 C150,1306 128,1302 118,1285 C112,1270 112,1255 112.7,1244.5 Z" fill="none" stroke="#111" stroke-width="3.8" stroke-linejoin="round"/>
<text x="73.5" y="1117.2" font-size="18.3" fill="#333">18.2%</text>
<text x="73.5" y="1301.2" font-size="18.3" fill="#333">80%</text>
<line x1="185.2" y1="1151.2" x2="292.6" y2="1151.2" stroke="#000" stroke-width="1.50"/><polygon points="299.6,1151.2 289.6,1155.7 289.6,1146.7" fill="#000"/>
<text x="67.2" y="1353.3" font-size="26.0">PDGFRα-PECF594</text>
<text x="32.7" y="1304.3" font-size="26.0" transform="rotate(-90.0 32.7 1304.3)">CD146-BUV395</text><line x1="23.3" y1="1114.9" x2="23.3" y2="1097.0" stroke="#000" stroke-width="1.50"/><polygon points="23.3,1090.0 27.8,1100.0 18.8,1100.0" fill="#000"/>
<defs><filter id="spk6" x="0" y="0" width="1" height="1" color-interpolation-filters="sRGB">
<feGaussianBlur in="SourceGraphic" stdDeviation="3.5" result="b"/>
<feTurbulence type="fractalNoise" baseFrequency="0.9" numOctaves="2" seed="13" result="n"/>
<feColorMatrix in="n" type="matrix" values="0 0 0 0 0 0 0 0 0 0 0 0 0 0 0 2.58 0 0 0 -0.79" result="na"/>
<feComposite in="b" in2="na" operator="arithmetic" k2="1" k3="-1" result="d"/>
<feComponentTransfer in="d" result="m"><feFuncA type="discrete" tableValues="0 1 1 1 1 1 1 1 1 1 1 1 1 1 1 1 1 1 1 1"/></feComponentTransfer>
<feComponentTransfer in="b" result="c"><feFuncA type="discrete" tableValues="0 1 1 1 1 1 1 1 1 1 1 1 1 1 1 1 1 1 1 1 1 1 1 1 1 1 1 1 1 1 1 1 1 1 1 1 1 1 1 1 1 1 1 1 1 1 1 1 1 1"/></feComponentTransfer>
<feComposite in="c" in2="m" operator="in"/>
</filter><clipPath id="clp6"><rect x="352.3" y="1093.1" width="213.2" height="213.4"/></clipPath></defs><g clip-path="url(#clp6)"><g filter="url(#spk6)"><rect x="342.3" y="1083.1" width="233.2" height="233.4" fill="none"/><ellipse cx="460.0" cy="1200.0" rx="110.0" ry="80.0" fill="#c6d92f" fill-opacity="0.12" transform="rotate(-25.0 460.0 1200.0)"/><ellipse cx="375.0" cy="1275.0" rx="22.0" ry="14.0" fill="#1a8f7f" fill-opacity="0.30" transform="rotate(-40.0 375.0 1275.0)"/><ellipse cx="365.0" cy="1290.0" rx="12.0" ry="10.0" fill="#3050b0" fill-opacity="0.30" transform="rotate(-40.0 365.0 1290.0)"/><ellipse cx="402.0" cy="1205.0" rx="26.0" ry="60.0" fill="#3aae55" fill-opacity="0.60"/><ellipse cx="400.0" cy="1232.0" rx="16.0" ry="28.0" fill="#22a070" fill-opacity="0.75"/><ellipse cx="398.0" cy="1252.0" rx="12.0" ry="12.0" fill="#16957a" fill-opacity="0.95"/><ellipse cx="404.0" cy="1165.0" rx="22.0" ry="25.0" fill="#c6d92f" fill-opacity="0.40"/><ellipse cx="405.0" cy="1152.0" rx="22.0" ry="14.0" fill="#f7941d" fill-opacity="0.15"/><ellipse cx="485.0" cy="1215.0" rx="70.0" ry="32.0" fill="#8cc63f" fill-opacity="0.45" transform="rotate(-25.0 485.0 1215.0)"/><ellipse cx="470.0" cy="1168.0" rx="60.0" ry="30.0" fill="#b5d334" fill-opacity="0.85" transform="rotate(-15.0 470.0 1168.0)"/><ellipse cx="485.0" cy="1160.0" rx="45.0" ry="20.0" fill="#e2e21c" fill-opacity="0.90" transform="rotate(-15.0 485.0 1160.0)"/><ellipse cx="500.0" cy="1158.0" rx="35.0" ry="16.0" fill="#f2e41a" fill-opacity="1.00" transform="rotate(-15.0 500.0 1158.0)"/></g></g>
<rect x="352.3" y="1093.1" width="213.2" height="213.4" fill="none" stroke="#000" stroke-width="1.6"/>
<path fill="none" stroke="#000" stroke-width="2.2" d="M352.3 1290.7h-5.5M352.3 1252.5h-5.5M352.3 1222.6h-5.5M352.3 1163.9h-5.5M352.3 1112.7h-5.5M352.3 1204.9h-3.8M352.3 1194.6h-3.8M352.3 1187.3h-3.8M352.3 1181.6h-3.8M352.3 1176.9h-3.8M352.3 1173.0h-3.8M352.3 1169.6h-3.8M352.3 1166.6h-3.8M352.3 1148.5h-3.8M352.3 1139.5h-3.8M352.3 1133.1h-3.8M352.3 1128.1h-3.8M352.3 1124.1h-3.8M352.3 1120.6h-3.8M352.3 1117.7h-3.8M352.3 1115.0h-3.8M352.3 1097.3h-3.8M352.3 1251.6h-3.8M352.3 1250.7h-3.8M352.3 1249.8h-3.8M352.3 1248.6h-3.8M352.3 1246.5h-3.8M352.3 1243.5h-3.8M352.3 1239.9h-3.8M352.3 1236.1h-3.8M352.3 1231.6h-3.8M352.3 1227.1h-3.8M352.3 1254.0h-3.8M352.3 1255.6h-3.8M352.3 1257.5h-3.8M352.3 1260.1h-3.8M352.3 1265.9h-3.8M352.3 1273.5h-3.8M352.3 1281.2h-3.8M352.3 1302.2h-3.8"/><text x="346.8" y="1295.5" font-size="17.8" text-anchor="end" fill="#111">-10<tspan dy="-6.4" font-size="11.0">3</tspan></text><text x="340.8" y="1257.3" font-size="17.8" text-anchor="end" fill="#111">0</text><text x="346.8" y="1227.4" font-size="17.8" text-anchor="end" fill="#111">10<tspan dy="-6.4" font-size="11.0">3</tspan></text><text x="346.8" y="1168.7" font-size="17.8" text-anchor="end" fill="#111">10<tspan dy="-6.4" font-size="11.0">4</tspan></text><text x="346.8" y="1117.5" font-size="17.8" text-anchor="end" fill="#111">10<tspan dy="-6.4" font-size="11.0">5</tspan></text>
<path fill="none" stroke="#000" stroke-width="2.2" d="M359.0 1306.5v5.5M398.0 1306.5v5.5M435.3 1306.5v5.5M493.8 1306.5v5.5M544.2 1306.5v5.5M452.9 1306.5v3.8M463.2 1306.5v3.8M470.5 1306.5v3.8M476.2 1306.5v3.8M480.8 1306.5v3.8M484.7 1306.5v3.8M488.1 1306.5v3.8M491.1 1306.5v3.8M509.0 1306.5v3.8M517.8 1306.5v3.8M524.1 1306.5v3.8M529.0 1306.5v3.8M533.0 1306.5v3.8M536.4 1306.5v3.8M539.3 1306.5v3.8M541.9 1306.5v3.8M559.4 1306.5v3.8M399.1 1306.5v3.8M400.2 1306.5v3.8M401.4 1306.5v3.8M402.8 1306.5v3.8M405.5 1306.5v3.8M409.2 1306.5v3.8M413.7 1306.5v3.8M418.5 1306.5v3.8M424.1 1306.5v3.8M429.7 1306.5v3.8M396.4 1306.5v3.8M394.9 1306.5v3.8M392.9 1306.5v3.8M390.2 1306.5v3.8M384.4 1306.5v3.8M376.6 1306.5v3.8M368.8 1306.5v3.8"/><text x="367.0" y="1328.5" font-size="17.8" text-anchor="middle" fill="#111">-10<tspan dy="-6.4" font-size="11.0">3</tspan></text><text x="398.0" y="1328.5" font-size="17.8" text-anchor="middle" fill="#111">0</text><text x="441.3" y="1328.5" font-size="17.8" text-anchor="middle" fill="#111">10<tspan dy="-6.4" font-size="11.0">3</tspan></text><text x="499.8" y="1328.5" font-size="17.8" text-anchor="middle" fill="#111">10<tspan dy="-6.4" font-size="11.0">4</tspan></text><text x="550.2" y="1328.5" font-size="17.8" text-anchor="middle" fill="#111">10<tspan dy="-6.4" font-size="11.0">5</tspan></text>
<polygon points="380.8,1148.6 426.2,1145.7 425.3,1260.7 384.4,1263.4" fill="none" stroke="#e8198b" stroke-width="3.2" stroke-linejoin="miter"/>
<polygon points="428.9,1159.9 440.7,1151.7 466.2,1140.8 517.0,1135.9 531.5,1154.5 517.0,1187.1 449.8,1214.4 428.9,1199.9" fill="none" stroke="#7d1416" stroke-width="3.4" stroke-linejoin="miter"/>
<text x="362.3" y="1119.0" font-size="21.6">PCs</text>
<text x="392.6" y="1135.4" font-size="18.3" fill="#333">29.7%</text>
<text x="493.4" y="1114.5" font-size="21.6">SMCs</text>
<text x="494.3" y="1133.6" font-size="18.3" fill="#333">57.0%</text>
<line x1="375.4" y1="1128.1" x2="380.8" y2="1137.8" stroke="#000" stroke-width="1.50"/><polygon points="383.5,1142.7 376.3,1137.5 382.9,1133.9" fill="#000"/>
<line x1="542.4" y1="1135.4" x2="537.5" y2="1146.6" stroke="#000" stroke-width="1.50"/><polygon points="535.2,1151.7 535.0,1142.8 541.9,1145.9" fill="#000"/>
<text x="353.6" y="1353.3" font-size="26.0">PDPN-PECy7</text><line x1="518.4" y1="1343.9" x2="556.3" y2="1343.9" stroke="#000" stroke-width="1.50"/><polygon points="563.3,1343.9 553.3,1348.4 553.3,1339.4" fill="#000"/>
<text x="313.6" y="1304.3" font-size="26.0" transform="rotate(-90.0 313.6 1304.3)">CD9-BV711</text><line x1="304.2" y1="1163.5" x2="304.2" y2="1104.3" stroke="#000" stroke-width="1.50"/><polygon points="304.2,1097.3 308.7,1107.3 299.7,1107.3" fill="#000"/>
<defs><filter id="spk7" x="0" y="0" width="1" height="1" color-interpolation-filters="sRGB">
<feGaussianBlur in="SourceGraphic" stdDeviation="3" result="b"/>
<feTurbulence type="fractalNoise" baseFrequency="0.9" numOctaves="2" seed="17" result="n"/>
<feColorMatrix in="n" type="matrix" values="0 0 0 0 0 0 0 0 0 0 0 0 0 0 0 2.58 0 0 0 -0.79" result="na"/>
<feComposite in="b" in2="na" operator="arithmetic" k2="1" k3="-1" result="d"/>
<feComponentTransfer in="d" result="m"><feFuncA type="discrete" tableValues="0 1 1 1 1 1 1 1 1 1 1 1 1 1 1 1 1 1 1 1"/></feComponentTransfer>
<feComponentTransfer in="b" result="c"><feFuncA type="discrete" tableValues="0 1 1 1 1 1 1 1 1 1 1 1 1 1 1 1 1 1 1 1 1 1 1 1 1 1 1 1 1 1 1 1 1 1 1 1 1 1 1 1 1 1 1 1 1 1 1 1 1 1"/></feComponentTransfer>
<feComposite in="c" in2="m" operator="in"/>
</filter><clipPath id="clp7"><rect x="72.6" y="1372.6" width="214.0" height="213.4"/></clipPath></defs><g clip-path="url(#clp7)"><g filter="url(#spk7)"><rect x="62.6" y="1362.6" width="234.0" height="233.4" fill="none"/><ellipse cx="185.0" cy="1470.0" rx="78.0" ry="80.0" fill="#3050b0" fill-opacity="0.10"/><ellipse cx="168.0" cy="1446.0" rx="55.0" ry="42.0" fill="#3050b0" fill-opacity="0.80" transform="rotate(-5.0 168.0 1446.0)"/><ellipse cx="165.0" cy="1446.0" rx="43.0" ry="32.0" fill="#2f6cbd" fill-opacity="0.60" transform="rotate(-5.0 165.0 1446.0)"/><ellipse cx="165.0" cy="1446.0" rx="36.0" ry="26.0" fill="#3eb1d9" fill-opacity="0.90" transform="rotate(-5.0 165.0 1446.0)"/><ellipse cx="164.0" cy="1446.0" rx="28.0" ry="19.0" fill="#5fbb46" fill-opacity="1.00" transform="rotate(-5.0 164.0 1446.0)"/><ellipse cx="164.0" cy="1446.0" rx="17.0" ry="12.0" fill="#f4e51d" fill-opacity="1.00" transform="rotate(-5.0 164.0 1446.0)"/><ellipse cx="163.0" cy="1446.0" rx="10.0" ry="7.0" fill="#e3201f" fill-opacity="1.00" transform="rotate(-5.0 163.0 1446.0)"/><ellipse cx="200.0" cy="1513.0" rx="48.0" ry="32.0" fill="#3050b0" fill-opacity="0.80" transform="rotate(-10.0 200.0 1513.0)"/><ellipse cx="200.0" cy="1516.0" rx="34.0" ry="21.0" fill="#3eb1d9" fill-opacity="0.70" transform="rotate(-10.0 200.0 1516.0)"/><ellipse cx="201.0" cy="1518.0" rx="25.0" ry="14.0" fill="#5fbb46" fill-opacity="0.85" transform="rotate(-10.0 201.0 1518.0)"/><ellipse cx="124.0" cy="1531.0" rx="12.0" ry="9.0" fill="#3eb1d9" fill-opacity="0.55" transform="rotate(-30.0 124.0 1531.0)"/><ellipse cx="140.0" cy="1520.0" rx="25.0" ry="18.0" fill="#3050b0" fill-opacity="0.45" transform="rotate(-30.0 140.0 1520.0)"/></g></g>
<rect x="72.6" y="1372.6" width="214.0" height="213.4" fill="none" stroke="#000" stroke-width="1.6"/>
<path fill="none" stroke="#000" stroke-width="1.2" d="M72.6 1531.1h-5.5M72.6 1482.1h-5.5M72.6 1421.3h-5.5M72.6 1463.8h-3.8M72.6 1453.1h-3.8M72.6 1445.5h-3.8M72.6 1439.6h-3.8M72.6 1434.8h-3.8M72.6 1430.7h-3.8M72.6 1427.2h-3.8M72.6 1424.1h-3.8M72.6 1403.0h-3.8M72.6 1392.3h-3.8M72.6 1384.7h-3.8M72.6 1378.8h-3.8M72.6 1374.0h-3.8M72.6 1529.6h-3.8M72.6 1528.2h-3.8M72.6 1526.7h-3.8M72.6 1524.7h-3.8M72.6 1521.3h-3.8M72.6 1516.4h-3.8M72.6 1510.5h-3.8M72.6 1504.1h-3.8M72.6 1496.8h-3.8M72.6 1489.4h-3.8"/><text x="61.1" y="1535.9" font-size="17.8" text-anchor="end" fill="#111">0</text><text x="67.1" y="1486.9" font-size="17.8" text-anchor="end" fill="#111">10<tspan dy="-6.4" font-size="11.0">3</tspan></text><text x="67.1" y="1426.1" font-size="17.8" text-anchor="end" fill="#111">10<tspan dy="-6.4" font-size="11.0">4</tspan></text>
<path fill="none" stroke="#000" stroke-width="1.2" d="M84.0 1586.0v5.5M125.3 1586.0v5.5M174.3 1586.0v5.5M236.1 1586.0v5.5M192.9 1586.0v3.8M203.8 1586.0v3.8M211.5 1586.0v3.8M217.5 1586.0v3.8M222.4 1586.0v3.8M226.5 1586.0v3.8M230.1 1586.0v3.8M233.3 1586.0v3.8M254.7 1586.0v3.8M265.6 1586.0v3.8M273.3 1586.0v3.8M279.3 1586.0v3.8M284.2 1586.0v3.8M126.8 1586.0v3.8M128.2 1586.0v3.8M129.7 1586.0v3.8M131.7 1586.0v3.8M135.1 1586.0v3.8M140.0 1586.0v3.8M145.9 1586.0v3.8M152.2 1586.0v3.8M159.6 1586.0v3.8M167.0 1586.0v3.8M123.6 1586.0v3.8M122.0 1586.0v3.8M119.9 1586.0v3.8M117.0 1586.0v3.8M110.8 1586.0v3.8M102.6 1586.0v3.8M94.3 1586.0v3.8"/><text x="92.0" y="1608.0" font-size="17.8" text-anchor="middle" fill="#111">-10<tspan dy="-6.4" font-size="11.0">3</tspan></text><text x="125.3" y="1608.0" font-size="17.8" text-anchor="middle" fill="#111">0</text><text x="180.3" y="1608.0" font-size="17.8" text-anchor="middle" fill="#111">10<tspan dy="-6.4" font-size="11.0">3</tspan></text><text x="242.1" y="1608.0" font-size="17.8" text-anchor="middle" fill="#111">10<tspan dy="-6.4" font-size="11.0">4</tspan></text>
<polygon points="143.5,1394.6 223.4,1397.1 229.7,1438.5 210.7,1461.2 161.6,1490.3 140.7,1489.7 121.7,1477.6 117.1,1439.4" fill="none" stroke="#111" stroke-width="3.8" stroke-linejoin="miter"/>
<polygon points="150.7,1509.4 159.8,1496.6 216.1,1465.8 243.3,1467.6 249.7,1524.8 224.3,1547.5 149.8,1537.5" fill="none" stroke="#7f3f98" stroke-width="3.2" stroke-linejoin="miter"/>
<text x="79.9" y="1393.1" font-size="18.3" fill="#333">65.5%</text>
<text x="93.5" y="1561.1" font-size="18.3" fill="#333">30.2%</text>
<text x="85.4" y="1582.0" font-size="21.5" fill="#222">PDGFRα<tspan dy="-7.7" font-size="13.3">hi</tspan><tspan dy="7.7"> FB</tspan></text>
<line x1="165.3" y1="1562.0" x2="165.3" y2="1549.5" stroke="#000" stroke-width="1.50"/><polygon points="165.3,1543.9 169.1,1551.9 161.5,1551.9" fill="#000"/>
<line x1="227.0" y1="1409.5" x2="293.0" y2="1409.5" stroke="#000" stroke-width="1.50"/><polygon points="300.0,1409.5 290.0,1414.0 290.0,1405.0" fill="#000"/>
<text x="74.5" y="1631.9" font-size="26.0">PDGFRα-PECF594</text>
<text x="37.2" y="1584.7" font-size="26.0" transform="rotate(-90.0 37.2 1584.7)">CD34-BV421</text><line x1="27.8" y1="1427.5" x2="27.8" y2="1382.9" stroke="#000" stroke-width="1.50"/><polygon points="27.8,1375.9 32.3,1385.9 23.3,1385.9" fill="#000"/>
<defs><filter id="spk8" x="0" y="0" width="1" height="1" color-interpolation-filters="sRGB">
<feGaussianBlur in="SourceGraphic" stdDeviation="2.5" result="b"/>
<feTurbulence type="fractalNoise" baseFrequency="0.9" numOctaves="2" seed="19" result="n"/>
<feColorMatrix in="n" type="matrix" values="0 0 0 0 0 0 0 0 0 0 0 0 0 0 0 2.58 0 0 0 -0.79" result="na"/>
<feComposite in="b" in2="na" operator="arithmetic" k2="1" k3="-1" result="d"/>
<feComponentTransfer in="d" result="m"><feFuncA type="discrete" tableValues="0 1 1 1 1 1 1 1 1 1 1 1 1 1 1 1 1 1 1 1"/></feComponentTransfer>
<feComponentTransfer in="b" result="c"><feFuncA type="discrete" tableValues="0 1 1 1 1 1 1 1 1 1 1 1 1 1 1 1 1 1 1 1 1 1 1 1 1 1 1 1 1 1 1 1 1 1 1 1 1 1 1 1 1 1 1 1 1 1 1 1 1 1"/></feComponentTransfer>
<feComposite in="c" in2="m" operator="in"/>
</filter><clipPath id="clp8"><rect x="355.7" y="1371.3" width="215.4" height="214.7"/></clipPath></defs><g clip-path="url(#clp8)"><g filter="url(#spk8)"><rect x="345.7" y="1361.3" width="235.4" height="234.7" fill="none"/><ellipse cx="470.0" cy="1470.0" rx="100.0" ry="90.0" fill="#3050b0" fill-opacity="0.10"/><ellipse cx="483.0" cy="1435.0" rx="52.0" ry="36.0" fill="#3050b0" fill-opacity="0.75" transform="rotate(-35.0 483.0 1435.0)"/><ellipse cx="488.0" cy="1428.0" rx="40.0" ry="26.0" fill="#2f6cbd" fill-opacity="0.85" transform="rotate(-40.0 488.0 1428.0)"/><ellipse cx="493.0" cy="1421.0" rx="30.0" ry="15.0" fill="#3eb1d9" fill-opacity="0.90" transform="rotate(-40.0 493.0 1421.0)"/><ellipse cx="498.0" cy="1415.0" rx="14.0" ry="8.0" fill="#55c3e0" fill-opacity="0.90" transform="rotate(-40.0 498.0 1415.0)"/><ellipse cx="490.0" cy="1482.0" rx="20.0" ry="32.0" fill="#3050b0" fill-opacity="0.35"/><ellipse cx="462.0" cy="1526.0" rx="78.0" ry="9.0" fill="#3050b0" fill-opacity="0.50"/><ellipse cx="460.0" cy="1533.0" rx="76.0" ry="2.5" fill="#2f6cbd" fill-opacity="0.80"/></g></g>
<g>
<ellipse cx="462.0" cy="1535.6" rx="78.0" ry="1.9" fill="#3eb1d9" fill-opacity="0.90"/>
<ellipse cx="445.0" cy="1535.6" rx="52.0" ry="1.7" fill="#5fbb46" fill-opacity="0.95"/>
<ellipse cx="424.0" cy="1535.6" rx="26.0" ry="1.6" fill="#f4e51d" fill-opacity="1.00"/>
<ellipse cx="418.0" cy="1535.6" rx="13.0" ry="1.4" fill="#f7941d" fill-opacity="1.00"/>
</g>
<rect x="355.7" y="1371.3" width="215.4" height="214.7" fill="none" stroke="#000" stroke-width="1.6"/>
<path fill="none" stroke="#000" stroke-width="1.2" d="M355.7 1572.0h-5.5M355.7 1533.9h-5.5M355.7 1501.7h-5.5M355.7 1443.1h-5.5M355.7 1391.3h-5.5M355.7 1484.1h-3.8M355.7 1473.7h-3.8M355.7 1466.4h-3.8M355.7 1460.7h-3.8M355.7 1456.1h-3.8M355.7 1452.2h-3.8M355.7 1448.8h-3.8M355.7 1445.8h-3.8M355.7 1427.5h-3.8M355.7 1418.4h-3.8M355.7 1411.9h-3.8M355.7 1406.9h-3.8M355.7 1402.8h-3.8M355.7 1399.3h-3.8M355.7 1396.3h-3.8M355.7 1393.7h-3.8M355.7 1375.7h-3.8M355.7 1532.9h-3.8M355.7 1532.0h-3.8M355.7 1531.0h-3.8M355.7 1529.7h-3.8M355.7 1527.5h-3.8M355.7 1524.2h-3.8M355.7 1520.4h-3.8M355.7 1516.2h-3.8M355.7 1511.4h-3.8M355.7 1506.5h-3.8M355.7 1535.4h-3.8M355.7 1536.9h-3.8M355.7 1538.9h-3.8M355.7 1541.5h-3.8M355.7 1547.2h-3.8M355.7 1554.9h-3.8M355.7 1562.5h-3.8M355.7 1583.4h-3.8"/><text x="350.2" y="1576.8" font-size="17.8" text-anchor="end" fill="#111">-10<tspan dy="-6.4" font-size="11.0">3</tspan></text><text x="344.2" y="1538.7" font-size="17.8" text-anchor="end" fill="#111">0</text><text x="350.2" y="1506.5" font-size="17.8" text-anchor="end" fill="#111">10<tspan dy="-6.4" font-size="11.0">3</tspan></text><text x="350.2" y="1447.9" font-size="17.8" text-anchor="end" fill="#111">10<tspan dy="-6.4" font-size="11.0">4</tspan></text><text x="350.2" y="1396.1" font-size="17.8" text-anchor="end" fill="#111">10<tspan dy="-6.4" font-size="11.0">5</tspan></text>
<path fill="none" stroke="#000" stroke-width="1.2" d="M359.5 1586.0v5.5M403.5 1586.0v5.5M439.8 1586.0v5.5M498.5 1586.0v5.5M549.3 1586.0v5.5M457.5 1586.0v3.8M467.8 1586.0v3.8M475.1 1586.0v3.8M480.8 1586.0v3.8M485.5 1586.0v3.8M489.4 1586.0v3.8M492.8 1586.0v3.8M495.8 1586.0v3.8M513.8 1586.0v3.8M522.7 1586.0v3.8M529.1 1586.0v3.8M534.0 1586.0v3.8M538.0 1586.0v3.8M541.4 1586.0v3.8M544.4 1586.0v3.8M547.0 1586.0v3.8M564.6 1586.0v3.8M404.6 1586.0v3.8M405.7 1586.0v3.8M406.8 1586.0v3.8M408.2 1586.0v3.8M410.8 1586.0v3.8M414.4 1586.0v3.8M418.7 1586.0v3.8M423.5 1586.0v3.8M428.9 1586.0v3.8M434.4 1586.0v3.8M401.7 1586.0v3.8M400.0 1586.0v3.8M397.8 1586.0v3.8M394.7 1586.0v3.8M388.1 1586.0v3.8M379.3 1586.0v3.8M370.5 1586.0v3.8"/><text x="367.5" y="1608.0" font-size="17.8" text-anchor="middle" fill="#111">-10<tspan dy="-6.4" font-size="11.0">3</tspan></text><text x="403.5" y="1608.0" font-size="17.8" text-anchor="middle" fill="#111">0</text><text x="445.8" y="1608.0" font-size="17.8" text-anchor="middle" fill="#111">10<tspan dy="-6.4" font-size="11.0">3</tspan></text><text x="504.5" y="1608.0" font-size="17.8" text-anchor="middle" fill="#111">10<tspan dy="-6.4" font-size="11.0">4</tspan></text><text x="555.3" y="1608.0" font-size="17.8" text-anchor="middle" fill="#111">10<tspan dy="-6.4" font-size="11.0">5</tspan></text>
<ellipse cx="483.4" cy="1432.5" rx="55.0" ry="37.0" fill="none" stroke="#1b6c35" stroke-width="3.4" transform="rotate(-35.0 483.4 1432.5)"/>
<rect x="382.3" y="1512.1" width="155.6" height="38.1" fill="none" stroke="#111" stroke-width="3.8"/>
<text x="361.2" y="1397.1" font-size="21.5">CD81<tspan dy="-7.7" font-size="13.3">+</tspan><tspan dy="7.7"> FB</tspan></text>
<text x="362.3" y="1418.2" font-size="18.3" fill="#333">19.1%</text>
<text x="384.4" y="1569.3" font-size="18.3" fill="#333">78.0%</text>
<line x1="441.6" y1="1398.6" x2="448.7" y2="1406.3" stroke="#000" stroke-width="1.50"/><polygon points="452.5,1410.4 444.3,1407.1 449.9,1401.9" fill="#000"/>
<line x1="537.9" y1="1513.0" x2="582.6" y2="1513.0" stroke="#000" stroke-width="1.50"/><polygon points="589.6,1513.0 579.6,1517.5 579.6,1508.5" fill="#000"/>
<text x="356.3" y="1631.9" font-size="26.0">CD81-BV510</text><line x1="517.5" y1="1622.5" x2="560.0" y2="1622.5" stroke="#000" stroke-width="1.50"/><polygon points="567.0,1622.5 557.0,1627.0 557.0,1618.0" fill="#000"/>
<text x="313.6" y="1585.6" font-size="26.0" transform="rotate(-90.0 313.6 1585.6)">ACKR4-GFP</text><line x1="304.2" y1="1432.8" x2="304.2" y2="1382.9" stroke="#000" stroke-width="1.50"/><polygon points="304.2,1375.9 308.7,1385.9 299.7,1385.9" fill="#000"/>
<defs><filter id="spk9" x="0" y="0" width="1" height="1" color-interpolation-filters="sRGB">
<feGaussianBlur in="SourceGraphic" stdDeviation="3" result="b"/>
<feTurbulence type="fractalNoise" baseFrequency="0.9" numOctaves="2" seed="23" result="n"/>
<feColorMatrix in="n" type="matrix" values="0 0 0 0 0 0 0 0 0 0 0 0 0 0 0 2.58 0 0 0 -0.79" result="na"/>
<feComposite in="b" in2="na" operator="arithmetic" k2="1" k3="-1" result="d"/>
<feComponentTransfer in="d" result="m"><feFuncA type="discrete" tableValues="0 1 1 1 1 1 1 1 1 1 1 1 1 1 1 1 1 1 1 1"/></feComponentTransfer>
<feComponentTransfer in="b" result="c"><feFuncA type="discrete" tableValues="0 1 1 1 1 1 1 1 1 1 1 1 1 1 1 1 1 1 1 1 1 1 1 1 1 1 1 1 1 1 1 1 1 1 1 1 1 1 1 1 1 1 1 1 1 1 1 1 1 1"/></feComponentTransfer>
<feComposite in="c" in2="m" operator="in"/>
</filter><clipPath id="clp9"><rect x="640.6" y="1372.9" width="213.9" height="213.5"/></clipPath></defs><g clip-path="url(#clp9)"><g filter="url(#spk9)"><rect x="630.6" y="1362.9" width="233.9" height="233.5" fill="none"/><ellipse cx="740.0" cy="1465.0" rx="100.0" ry="50.0" fill="#3050b0" fill-opacity="0.12"/><ellipse cx="688.0" cy="1470.0" rx="20.0" ry="38.0" fill="#3050b0" fill-opacity="0.80"/><ellipse cx="690.0" cy="1468.0" rx="14.0" ry="26.0" fill="#3eb1d9" fill-opacity="0.70"/><ellipse cx="690.0" cy="1466.0" rx="11.0" ry="20.0" fill="#5fbb46" fill-opacity="0.85"/><ellipse cx="688.0" cy="1462.0" rx="7.0" ry="11.0" fill="#f4e51d" fill-opacity="0.90"/><ellipse cx="687.0" cy="1460.0" rx="4.0" ry="6.0" fill="#e3201f" fill-opacity="0.80"/><ellipse cx="760.0" cy="1470.0" rx="52.0" ry="33.0" fill="#3050b0" fill-opacity="0.80"/><ellipse cx="758.0" cy="1470.0" rx="44.0" ry="24.0" fill="#3eb1d9" fill-opacity="0.85"/><ellipse cx="755.0" cy="1469.0" rx="36.0" ry="17.0" fill="#5fbb46" fill-opacity="1.00"/><ellipse cx="752.0" cy="1469.0" rx="24.0" ry="10.0" fill="#f4e51d" fill-opacity="1.00"/><ellipse cx="751.0" cy="1469.0" rx="13.0" ry="6.0" fill="#e3201f" fill-opacity="1.00"/></g></g>
<rect x="640.6" y="1372.9" width="213.9" height="213.5" fill="none" stroke="#000" stroke-width="1.6"/>
<path fill="none" stroke="#000" stroke-width="1.2" d="M640.6 1540.9h-5.5M640.6 1498.4h-5.5M640.6 1442.4h-5.5M640.6 1393.1h-5.5M640.6 1481.5h-3.8M640.6 1471.7h-3.8M640.6 1464.7h-3.8M640.6 1459.3h-3.8M640.6 1454.8h-3.8M640.6 1451.1h-3.8M640.6 1447.8h-3.8M640.6 1445.0h-3.8M640.6 1427.6h-3.8M640.6 1418.9h-3.8M640.6 1412.7h-3.8M640.6 1407.9h-3.8M640.6 1404.0h-3.8M640.6 1400.7h-3.8M640.6 1397.9h-3.8M640.6 1395.4h-3.8M640.6 1378.3h-3.8M640.6 1539.6h-3.8M640.6 1538.4h-3.8M640.6 1537.1h-3.8M640.6 1535.4h-3.8M640.6 1532.4h-3.8M640.6 1528.2h-3.8M640.6 1523.1h-3.8M640.6 1517.5h-3.8M640.6 1511.2h-3.8M640.6 1504.8h-3.8"/><text x="629.1" y="1545.7" font-size="17.8" text-anchor="end" fill="#111">0</text><text x="635.1" y="1503.2" font-size="17.8" text-anchor="end" fill="#111">10<tspan dy="-6.4" font-size="11.0">3</tspan></text><text x="635.1" y="1447.2" font-size="17.8" text-anchor="end" fill="#111">10<tspan dy="-6.4" font-size="11.0">4</tspan></text><text x="635.1" y="1397.9" font-size="17.8" text-anchor="end" fill="#111">10<tspan dy="-6.4" font-size="11.0">5</tspan></text>
<path fill="none" stroke="#000" stroke-width="1.2" d="M649.5 1586.4v5.5M685.4 1586.4v5.5M731.3 1586.4v5.5M786.2 1586.4v5.5M838.9 1586.4v5.5M747.8 1586.4v3.8M757.5 1586.4v3.8M764.4 1586.4v3.8M769.7 1586.4v3.8M774.0 1586.4v3.8M777.7 1586.4v3.8M780.9 1586.4v3.8M783.7 1586.4v3.8M802.1 1586.4v3.8M811.3 1586.4v3.8M817.9 1586.4v3.8M823.0 1586.4v3.8M827.2 1586.4v3.8M830.7 1586.4v3.8M833.8 1586.4v3.8M836.5 1586.4v3.8M686.8 1586.4v3.8M688.2 1586.4v3.8M689.5 1586.4v3.8M691.4 1586.4v3.8M694.6 1586.4v3.8M699.2 1586.4v3.8M704.7 1586.4v3.8M710.6 1586.4v3.8M717.5 1586.4v3.8M724.4 1586.4v3.8M684.0 1586.4v3.8M682.5 1586.4v3.8M680.7 1586.4v3.8M678.2 1586.4v3.8M672.8 1586.4v3.8M665.7 1586.4v3.8M658.5 1586.4v3.8"/><text x="657.5" y="1608.4" font-size="17.8" text-anchor="middle" fill="#111">-10<tspan dy="-6.4" font-size="11.0">3</tspan></text><text x="685.4" y="1608.4" font-size="17.8" text-anchor="middle" fill="#111">0</text><text x="737.3" y="1608.4" font-size="17.8" text-anchor="middle" fill="#111">10<tspan dy="-6.4" font-size="11.0">3</tspan></text><text x="792.2" y="1608.4" font-size="17.8" text-anchor="middle" fill="#111">10<tspan dy="-6.4" font-size="11.0">4</tspan></text><text x="844.9" y="1608.4" font-size="17.8" text-anchor="middle" fill="#111">10<tspan dy="-6.4" font-size="11.0">5</tspan></text>
<rect x="666.4" y="1433.4" width="43.2" height="78" fill="none" stroke="#3db9ea" stroke-width="3.4"/>
<rect x="714.1" y="1437.4" width="95.6" height="66.6" fill="none" stroke="#313f96" stroke-width="3.4"/>
<text x="653.0" y="1397.6" font-size="21.5">Fgfr2<tspan dy="-7.7" font-size="13.3">+</tspan><tspan dy="7.7"> FB</tspan></text>
<text x="706.7" y="1416.6" font-size="18.3" fill="#333">26.6%</text>
<line x1="695.5" y1="1404.4" x2="695.5" y2="1415.5" stroke="#000" stroke-width="1.50"/><polygon points="695.5,1421.1 691.7,1413.1 699.3,1413.1" fill="#000"/>
<text x="730.7" y="1549.9" font-size="21.5">CD90<tspan dy="-7.7" font-size="13.3">+</tspan><tspan dy="7.7"> FB</tspan></text>
<text x="773.9" y="1573.4" font-size="18.3" fill="#333">72.0%</text>
<line x1="761.6" y1="1526.0" x2="761.6" y2="1515.4" stroke="#000" stroke-width="1.50"/><polygon points="761.6,1509.8 765.4,1517.8 757.8,1517.8" fill="#000"/>
<text x="640.6" y="1632.8" font-size="26.0">CD90-APCCy7</text><line x1="818.4" y1="1623.4" x2="845.3" y2="1623.4" stroke="#000" stroke-width="1.50"/><polygon points="852.3,1623.4 842.3,1627.9 842.3,1618.9" fill="#000"/>
<text x="605.9" y="1585.7" font-size="26.0" transform="rotate(-90.0 605.9 1585.7)">CD34-BV421</text><line x1="596.5" y1="1428.5" x2="596.5" y2="1383.3" stroke="#000" stroke-width="1.50"/><polygon points="596.5,1376.3 601.0,1386.3 592.0,1386.3" fill="#000"/>
<text x="692.0" y="1194.4" font-size="26.0">Colon</text>
<rect x="582" y="1284.5" width="68.5" height="12.3" fill="url(#gjet)"/>
<text x="588.7" y="1280.0" font-size="22.4">αSMA</text></g>
<g id="panel_ef"><text x="881.9" y="1193.8" font-size="25.0" font-weight="bold">e</text>
<path fill="none" stroke="#000" stroke-width="1.6" d="M988.6 1200.9V1464.2H1215"/>
<text x="980.0" y="1224.4" font-size="21.0" text-anchor="end" fill="#3a3a3a">1</text>
<text x="980.0" y="1302.8" font-size="21.0" text-anchor="end" fill="#3a3a3a">0</text>
<text x="980.0" y="1381.2" font-size="21.0" text-anchor="end" fill="#3a3a3a">−1</text>
<text x="980.0" y="1459.9" font-size="21.0" text-anchor="end" fill="#3a3a3a">−2</text>
<text x="1019.9" y="1482.0" font-size="21.0" text-anchor="end" fill="#3a3a3a" transform="rotate(-45.0 1019.9 1482.0)">−1.0</text>
<text x="1059.2" y="1482.0" font-size="21.0" text-anchor="end" fill="#3a3a3a" transform="rotate(-45.0 1059.2 1482.0)">−0.5</text>
<text x="1098.6" y="1482.0" font-size="21.0" text-anchor="end" fill="#3a3a3a" transform="rotate(-45.0 1098.6 1482.0)">0.0</text>
<text x="1137.9" y="1482.0" font-size="21.0" text-anchor="end" fill="#3a3a3a" transform="rotate(-45.0 1137.9 1482.0)">0.5</text>
<text x="1177.3" y="1482.0" font-size="21.0" text-anchor="end" fill="#3a3a3a" transform="rotate(-45.0 1177.3 1482.0)">1.0</text>
<text x="1216.0" y="1482.0" font-size="21.0" text-anchor="end" fill="#3a3a3a" transform="rotate(-45.0 1216.0 1482.0)">1.5</text>
<path fill="none" stroke="#333" stroke-width="1.2" d="M988.6 1216.9h-5M988.6 1295.3h-5M988.6 1373.7h-5M988.6 1452.4h-5M1015.9 1464.2v5M1055.2 1464.2v5M1094.6 1464.2v5M1133.9 1464.2v5M1173.3 1464.2v5M1212.0 1464.2v5"/>
<text x="941.0" y="1325.0" font-size="26.0" text-anchor="middle" transform="rotate(-90.0 941.0 1325.0)">PC2 (28.2%)</text>
<text x="1095.5" y="1542.0" font-size="26.0" text-anchor="middle">PC1 (36.5%)</text>
<circle cx="998.6" cy="1246.9" r="4.6" fill="#41b6e6"/>
<circle cx="1001.7" cy="1246.3" r="4.6" fill="#41b6e6"/>
<circle cx="1004.1" cy="1249.3" r="4.6" fill="#41b6e6"/>
<circle cx="1113.0" cy="1212.4" r="4.6" fill="#7f4a9c"/>
<circle cx="1110.0" cy="1220.0" r="4.6" fill="#7f4a9c"/>
<circle cx="1119.7" cy="1216.9" r="4.6" fill="#7f4a9c"/>
<polygon points="1203.8,1296.5 1195.8,1309.8 1211.8,1309.8" fill="#7f4a9c"/>
<polygon points="1205.0,1301.6 1197.0,1314.9 1213.0,1314.9" fill="#7f4a9c"/>
<polygon points="1058.6,1369.7 1050.6,1383.0 1066.6,1383.0" fill="#41b6e6"/>
<polygon points="1054.9,1387.3 1046.9,1400.6 1062.9,1400.6" fill="#41b6e6"/>
<polygon points="1057.6,1442.4 1049.6,1455.7 1065.6,1455.7" fill="#41b6e6"/>
<circle cx="927.5" cy="1562.5" r="6.5" fill="#41b6e6"/>
<text x="945.7" y="1571.0" font-size="26.0">Fgfr2<tspan dy="-9.4" font-size="16.1">+</tspan><tspan dy="9.4"> FB</tspan></text>
<circle cx="927.5" cy="1593.4" r="6.5" fill="#7f4a9c"/>
<text x="945.7" y="1602.5" font-size="26.0">PDGFRα<tspan dy="-9.4" font-size="16.1">hi</tspan><tspan dy="9.4"> FB</tspan></text>
<circle cx="1146.9" cy="1565.6" r="6.5" fill="#000"/>
<text x="1172.7" y="1574.6" font-size="26.0">Colon</text>
<polygon points="1146.9,1587.8 1138.1,1602.4 1155.7,1602.4" fill="#000"/>
<text x="1172.7" y="1602.5" font-size="26.0">Small intestine</text>
<text x="1291.0" y="1193.0" font-size="25.0" font-weight="bold">f</text>
<path fill="none" stroke="#cfcfcf" stroke-width="6.8" stroke-linecap="round" d="M1489.7 1470.9h0M1490.2 1469.4h0M1506.9 1488.6h0M1471.8 1471.3h0M1531.8 1466.8h0M1500.9 1486.4h0M1497.0 1479.5h0M1511.7 1486.0h0M1520.9 1483.0h0M1510.3 1486.3h0M1499.6 1485.6h0M1502.9 1488.9h0M1503.5 1482.1h0M1512.2 1484.3h0M1520.5 1477.3h0M1498.9 1480.8h0M1550.4 1466.9h0M1520.4 1478.9h0M1547.2 1461.6h0M1500.6 1485.6h0M1513.0 1486.4h0M1514.1 1484.2h0M1534.3 1475.5h0M1509.8 1487.9h0M1517.2 1484.3h0M1492.0 1477.0h0M1507.7 1485.6h0M1509.3 1488.9h0M1477.3 1464.8h0M1494.7 1488.1h0M1525.6 1486.3h0M1526.7 1482.0h0M1546.8 1465.4h0M1545.1 1474.3h0M1492.4 1479.2h0M1480.9 1481.7h0M1504.9 1483.8h0M1518.9 1487.5h0M1477.8 1461.9h0M1522.0 1478.4h0M1517.5 1479.6h0M1489.1 1474.1h0M1541.1 1475.1h0M1505.1 1487.8h0M1518.8 1485.5h0M1488.4 1481.6h0M1516.1 1481.4h0M1492.6 1485.9h0M1514.1 1482.8h0M1528.3 1470.8h0M1504.6 1484.2h0M1469.0 1464.8h0M1523.2 1484.2h0M1526.8 1471.9h0M1527.3 1476.4h0M1495.7 1480.3h0M1473.8 1461.7h0M1543.9 1467.9h0M1494.2 1485.2h0M1484.0 1466.7h0M1492.4 1480.5h0M1528.9 1475.5h0M1484.1 1463.6h0M1496.4 1488.1h0M1491.6 1475.8h0M1534.1 1466.1h0M1491.5 1478.9h0M1485.6 1469.9h0M1506.9 1486.8h0M1478.2 1463.7h0M1526.8 1474.0h0M1502.1 1481.7h0M1500.5 1481.2h0M1494.3 1475.0h0M1492.0 1486.9h0M1486.9 1479.6h0M1518.0 1480.8h0M1526.2 1480.6h0M1532.8 1475.4h0M1530.0 1486.1h0M1472.7 1464.2h0M1488.9 1476.2h0M1518.5 1483.1h0M1487.3 1481.9h0M1491.7 1470.6h0M1497.2 1475.6h0M1497.3 1476.4h0M1499.6 1488.9h0M1526.0 1475.5h0M1485.3 1475.1h0M1483.9 1473.0h0M1522.9 1480.6h0M1545.0 1468.5h0M1528.6 1476.9h0M1528.5 1479.4h0M1526.0 1478.0h0M1525.3 1480.7h0M1515.5 1488.5h0M1478.8 1469.9h0M1547.7 1477.0h0M1494.6 1476.7h0M1494.0 1475.0h0M1521.6 1480.4h0M1489.8 1472.1h0M1473.0 1473.2h0M1500.5 1479.7h0M1538.2 1466.5h0M1537.5 1480.4h0M1527.4 1485.2h0M1535.5 1462.1h0M1513.5 1483.0h0M1476.8 1480.7h0M1521.9 1486.2h0M1485.0 1465.5h0M1496.8 1484.9h0M1528.4 1469.8h0M1501.5 1482.4h0M1525.2 1482.9h0M1503.8 1487.4h0M1516.5 1482.5h0M1535.5 1484.4h0M1514.2 1486.9h0M1533.3 1478.9h0M1533.5 1466.5h0M1498.3 1483.8h0M1497.7 1481.6h0M1502.8 1485.3h0M1546.3 1473.7h0M1486.3 1465.7h0M1527.5 1479.7h0M1499.5 1487.8h0M1515.9 1480.8h0M1483.1 1477.5h0M1490.8 1473.8h0M1474.5 1472.2h0M1511.1 1488.4h0M1524.8 1472.7h0M1497.8 1486.8h0M1552.4 1479.1h0M1516.5 1488.3h0M1487.8 1476.4h0M1473.0 1471.7h0M1487.6 1468.8h0M1475.1 1466.4h0M1539.5 1480.8h0M1535.1 1469.0h0M1478.0 1477.4h0M1482.5 1466.0h0M1499.3 1479.6h0M1525.2 1478.6h0M1470.6 1461.5h0M1552.7 1485.5h0M1497.0 1483.1h0M1540.9 1463.6h0M1518.3 1479.8h0M1479.1 1464.5h0M1471.3 1464.2h0M1537.2 1462.3h0M1486.2 1467.8h0M1480.0 1468.2h0M1528.6 1480.3h0M1483.8 1480.0h0M1479.5 1472.5h0M1531.5 1480.5h0M1484.3 1472.2h0M1530.4 1477.8h0M1473.4 1463.6h0M1479.3 1466.5h0M1493.4 1482.6h0M1531.4 1469.6h0M1478.9 1481.9h0M1491.6 1476.5h0M1472.3 1475.7h0M1483.7 1465.8h0M1521.1 1485.8h0M1522.3 1476.2h0M1513.5 1488.1h0M1553.3 1471.2h0M1488.9 1468.6h0M1480.4 1464.1h0M1464.5 1465.3h0M1552.1 1462.9h0M1532.5 1465.1h0M1536.9 1478.5h0M1488.5 1487.1h0M1529.3 1473.4h0M1472.1 1480.6h0M1546.5 1485.6h0M1489.3 1482.2h0M1534.8 1482.8h0M1471.7 1477.1h0M1530.1 1482.5h0M1483.5 1487.6h0M1527.7 1486.3h0M1483.6 1470.8h0M1538.0 1476.5h0M1517.6 1486.1h0M1488.0 1485.7h0M1492.0 1486.4h0M1532.5 1483.2h0M1551.6 1473.3h0M1523.0 1482.9h0M1545.9 1471.3h0M1467.0 1472.2h0M1495.3 1483.0h0M1474.5 1469.0h0M1536.1 1471.4h0M1485.4 1480.6h0M1486.9 1470.0h0M1534.4 1481.7h0M1535.4 1476.3h0M1482.7 1474.8h0M1495.8 1479.1h0M1540.4 1473.3h0M1486.4 1474.2h0M1492.1 1472.7h0M1522.9 1487.6h0M1534.8 1465.9h0M1523.4 1488.4h0M1469.6 1463.9h0M1530.3 1470.2h0M1538.8 1475.2h0M1485.9 1470.3h0M1480.7 1485.0h0M1477.7 1475.3h0M1491.6 1482.4h0M1504.1 1488.2h0M1533.0 1473.5h0M1526.2 1475.3h0M1535.7 1473.9h0M1487.4 1473.7h0M1529.6 1485.7h0M1542.3 1470.6h0M1538.5 1477.7h0M1523.4 1474.9h0M1482.6 1469.5h0M1485.9 1476.6h0M1477.4 1470.9h0M1466.4 1470.7h0M1470.0 1476.9h0M1519.5 1477.7h0M1536.2 1472.4h0M1542.7 1462.1h0M1521.9 1475.9h0M1523.8 1473.8h0M1479.2 1485.1h0"/>
<path fill="none" stroke="#1bbcc1" stroke-width="6.8" stroke-linecap="round" d="M1486.8 1458.2h0M1484.4 1441.0h0M1496.0 1450.0h0M1477.9 1453.3h0M1479.4 1455.7h0M1495.9 1447.8h0M1490.7 1454.4h0M1494.0 1428.0h0M1495.8 1455.4h0M1491.7 1433.8h0M1487.1 1451.3h0M1488.8 1441.0h0M1483.5 1452.9h0M1488.2 1431.5h0M1491.1 1456.3h0M1490.6 1459.6h0M1464.8 1440.7h0M1484.9 1409.2h0M1467.2 1451.0h0M1491.9 1450.3h0M1491.3 1435.1h0M1488.0 1414.7h0M1487.0 1438.1h0M1483.6 1447.7h0M1487.3 1442.4h0M1437.5 1426.0h0M1478.1 1439.3h0M1494.6 1447.2h0M1494.6 1459.8h0M1494.6 1428.3h0M1481.8 1460.1h0M1475.7 1459.0h0M1493.0 1437.5h0M1493.0 1450.5h0M1464.5 1424.0h0M1489.5 1460.2h0M1481.5 1442.1h0M1490.7 1451.7h0M1496.1 1442.4h0M1428.2 1408.1h0M1481.9 1451.2h0M1490.9 1440.0h0M1461.8 1429.0h0M1481.3 1455.3h0M1493.1 1419.7h0M1474.5 1455.4h0M1490.2 1456.0h0M1495.4 1452.9h0M1486.5 1445.6h0M1482.9 1456.5h0M1469.8 1448.0h0M1466.6 1435.0h0M1494.8 1437.3h0M1493.3 1427.0h0M1457.5 1429.4h0M1492.2 1446.3h0M1493.1 1424.4h0M1463.5 1433.0h0M1494.9 1442.6h0M1446.7 1434.6h0M1476.5 1454.5h0M1486.6 1450.5h0M1472.6 1437.5h0M1476.8 1449.9h0M1457.8 1439.8h0M1467.8 1411.1h0M1492.5 1433.9h0M1475.6 1431.4h0M1490.3 1439.2h0M1455.8 1443.5h0M1484.2 1455.0h0M1459.2 1426.7h0M1491.6 1415.3h0M1422.9 1415.3h0M1495.4 1449.1h0M1495.0 1439.0h0M1494.4 1456.3h0M1468.5 1452.8h0M1490.1 1445.5h0M1492.6 1441.3h0M1467.5 1428.5h0M1466.0 1441.6h0M1493.5 1439.3h0M1482.8 1458.3h0M1483.3 1444.0h0M1428.6 1420.6h0M1445.1 1415.4h0M1494.4 1451.7h0M1443.4 1425.1h0M1489.7 1427.5h0M1444.9 1414.8h0M1480.4 1447.7h0M1479.7 1431.3h0M1448.0 1406.1h0M1454.8 1435.3h0M1492.9 1442.1h0M1479.2 1441.4h0M1441.6 1425.2h0M1427.9 1406.8h0M1493.8 1448.4h0M1487.5 1454.0h0M1451.5 1436.3h0M1481.2 1441.2h0M1476.3 1439.7h0M1475.3 1433.1h0M1489.3 1433.0h0M1471.1 1449.2h0M1494.4 1447.2h0M1481.7 1420.6h0M1480.3 1446.9h0M1494.2 1455.3h0M1493.0 1444.1h0M1482.6 1434.7h0M1442.1 1432.1h0M1476.1 1451.8h0M1474.0 1449.3h0M1478.8 1413.1h0M1470.9 1436.2h0M1471.9 1419.7h0M1443.8 1418.8h0M1425.9 1401.1h0M1478.0 1457.0h0M1454.6 1426.8h0M1483.4 1434.7h0M1476.2 1457.8h0M1476.2 1436.7h0M1496.4 1454.2h0M1454.5 1439.1h0M1449.6 1424.3h0M1473.8 1442.8h0M1478.3 1436.2h0M1495.7 1429.6h0M1452.2 1432.6h0M1493.9 1451.6h0M1496.1 1422.9h0M1495.7 1444.4h0M1451.5 1439.9h0M1479.1 1448.8h0M1459.6 1434.3h0M1487.7 1434.5h0M1480.9 1456.9h0M1453.7 1440.8h0M1469.7 1442.6h0M1489.5 1452.5h0M1473.3 1455.2h0M1474.7 1425.4h0M1454.8 1437.3h0M1464.6 1436.1h0M1485.7 1454.3h0M1479.2 1431.5h0M1487.9 1457.8h0M1461.1 1445.4h0M1490.1 1457.4h0M1482.5 1450.3h0M1472.6 1440.7h0M1493.7 1456.4h0M1484.6 1452.6h0M1438.4 1423.2h0M1458.4 1416.6h0M1479.7 1449.2h0M1434.1 1409.0h0M1466.7 1415.5h0M1485.3 1454.9h0M1459.8 1438.2h0M1463.7 1431.8h0M1429.1 1416.3h0M1470.3 1454.9h0M1468.8 1436.0h0M1461.7 1448.6h0M1480.4 1450.9h0M1477.0 1447.2h0M1466.7 1449.6h0M1489.7 1459.4h0M1491.0 1419.7h0M1481.2 1429.7h0M1474.8 1441.8h0M1483.6 1459.4h0M1485.2 1448.9h0M1463.8 1442.8h0M1485.3 1451.5h0M1420.9 1399.3h0M1474.3 1429.3h0M1483.0 1453.3h0M1492.5 1459.6h0M1460.7 1443.4h0M1462.4 1429.8h0M1462.1 1420.9h0M1480.6 1453.9h0M1462.3 1439.1h0M1489.8 1426.3h0M1466.7 1451.7h0M1487.2 1447.5h0M1475.3 1449.8h0M1452.7 1417.7h0M1489.2 1450.6h0M1496.3 1446.9h0M1459.6 1440.0h0M1486.2 1444.7h0M1463.6 1413.8h0M1488.1 1449.3h0M1456.6 1434.3h0M1411.1 1396.5h0M1480.5 1444.6h0M1484.1 1438.8h0M1468.3 1440.3h0M1484.4 1423.0h0M1461.9 1442.6h0M1496.0 1439.1h0M1457.2 1425.1h0M1483.9 1457.8h0M1483.8 1450.2h0M1489.3 1423.7h0M1451.9 1424.3h0M1438.5 1415.6h0M1472.3 1409.4h0M1447.6 1437.4h0M1459.5 1442.3h0M1473.0 1429.9h0M1478.9 1425.0h0M1477.0 1453.0h0M1471.6 1439.0h0M1474.8 1457.2h0M1476.1 1441.2h0M1486.2 1443.0h0M1454.4 1436.2h0M1488.7 1453.7h0M1474.9 1447.8h0M1485.1 1458.0h0M1448.1 1435.9h0M1478.9 1443.8h0M1490.5 1455.9h0M1439.1 1409.2h0M1455.7 1432.5h0M1468.1 1448.4h0M1490.5 1425.0h0M1496.0 1451.1h0M1447.2 1419.8h0M1461.9 1426.8h0M1494.6 1435.8h0M1487.0 1438.9h0M1459.9 1445.7h0M1482.1 1430.1h0M1469.1 1413.5h0M1483.7 1421.4h0M1478.7 1451.8h0M1494.5 1433.4h0M1466.9 1446.4h0M1496.2 1457.1h0M1487.7 1445.0h0M1494.9 1441.6h0M1492.0 1448.9h0M1489.0 1430.7h0M1491.7 1430.0h0M1475.8 1426.8h0M1482.0 1437.9h0M1446.0 1420.9h0M1407.2 1378.7h0M1423.8 1398.8h0M1426.3 1405.1h0M1428.0 1411.4h0M1442.9 1393.8h0M1447.0 1396.3h0M1451.2 1233.3h0M1465.3 1316.0h0M1451.2 1333.6h0M1454.5 1332.3h0M1457.0 1351.2h0M1459.5 1353.7h0M1468.6 1358.7h0M1470.3 1366.2h0M1472.8 1366.2h0M1474.4 1373.7h0M1467.8 1373.7h0M1476.9 1388.8h0M1480.2 1388.8h0M1458.7 1400.1h0M1474.4 1398.8h0M1482.7 1406.3h0M1437.9 1408.8h0M1449.5 1413.9h0M1460.3 1413.9h0M1412.2 1390.0h0M1416.3 1396.3h0M1418.8 1401.3h0"/>
<path fill="none" stroke="#f1756d" stroke-width="6.8" stroke-linecap="round" d="M1539.3 1458.9h0M1546.2 1450.9h0M1529.8 1454.6h0M1546.9 1439.4h0M1526.7 1439.8h0M1534.0 1421.7h0M1523.6 1444.8h0M1536.6 1435.6h0M1558.3 1425.6h0M1535.9 1456.0h0M1533.8 1439.5h0M1539.8 1440.3h0M1542.3 1426.7h0M1530.4 1443.4h0M1548.1 1425.7h0M1524.7 1443.1h0M1523.9 1445.5h0M1523.5 1459.9h0M1524.2 1436.3h0M1522.7 1458.8h0M1529.2 1451.7h0M1525.6 1434.8h0M1533.8 1457.3h0M1535.8 1457.1h0M1577.8 1410.4h0M1523.7 1439.1h0M1533.3 1450.6h0M1538.1 1436.3h0M1566.0 1435.4h0M1526.6 1452.2h0M1551.8 1403.5h0M1570.9 1428.7h0M1530.3 1428.3h0M1532.0 1426.4h0M1535.0 1438.1h0M1522.5 1457.8h0M1523.8 1447.5h0M1550.0 1451.6h0M1576.9 1429.9h0M1556.3 1424.4h0M1532.8 1435.6h0M1529.8 1453.0h0M1546.2 1448.6h0M1565.4 1441.3h0M1535.6 1458.1h0M1574.5 1434.4h0M1526.3 1450.0h0M1523.3 1453.7h0M1554.5 1422.1h0M1542.0 1457.8h0M1524.7 1458.1h0M1523.2 1459.4h0M1555.3 1444.1h0M1532.1 1445.9h0M1563.7 1439.7h0M1530.4 1445.7h0M1524.3 1438.1h0M1522.2 1445.2h0M1557.9 1431.7h0M1530.2 1432.0h0M1538.7 1441.1h0M1535.4 1442.9h0M1554.8 1435.0h0M1523.5 1440.6h0M1524.1 1454.5h0M1524.5 1420.1h0M1531.7 1441.4h0M1524.1 1449.2h0M1529.9 1431.5h0M1523.6 1443.2h0M1549.4 1417.7h0M1525.2 1438.3h0M1571.1 1426.1h0M1533.5 1451.9h0M1537.7 1445.8h0M1528.7 1443.7h0M1522.4 1445.5h0M1550.2 1442.1h0M1558.4 1429.7h0M1556.1 1421.0h0M1527.7 1433.4h0M1544.0 1446.3h0M1534.1 1429.0h0M1538.9 1450.1h0M1537.3 1428.3h0M1547.9 1438.0h0M1529.8 1441.3h0M1523.9 1428.1h0M1551.1 1445.2h0M1527.6 1442.7h0M1561.8 1416.8h0M1553.7 1403.6h0M1522.5 1431.1h0M1553.1 1448.8h0M1540.0 1442.8h0M1526.7 1459.5h0M1550.0 1422.2h0M1549.6 1442.9h0M1575.0 1424.6h0M1537.4 1437.2h0M1552.7 1432.9h0M1534.2 1447.2h0M1542.2 1441.1h0M1569.8 1429.9h0M1579.1 1425.3h0M1552.6 1427.8h0M1540.0 1437.6h0M1530.1 1452.0h0M1537.2 1452.5h0M1526.6 1434.9h0M1537.5 1448.1h0M1554.2 1413.4h0M1546.1 1456.6h0M1563.1 1424.4h0M1551.5 1436.7h0M1531.8 1459.2h0M1529.3 1430.6h0M1534.7 1454.1h0M1523.6 1427.2h0M1522.3 1404.7h0M1522.7 1430.9h0M1536.3 1429.5h0M1562.9 1410.9h0M1524.6 1432.1h0M1532.9 1441.5h0M1551.8 1439.7h0M1525.3 1414.5h0M1527.1 1457.3h0M1531.6 1449.6h0M1530.1 1426.5h0M1543.0 1449.3h0M1538.2 1457.4h0M1582.4 1405.2h0M1528.3 1448.3h0M1533.5 1454.2h0M1552.0 1424.2h0M1524.7 1457.4h0M1531.2 1434.6h0M1537.4 1443.8h0M1569.2 1432.9h0M1569.0 1438.2h0M1557.9 1441.0h0M1522.5 1454.3h0M1523.4 1451.0h0M1564.4 1442.1h0M1544.8 1433.9h0M1528.2 1450.3h0M1544.6 1434.6h0M1570.8 1418.8h0M1552.3 1418.4h0M1532.9 1431.6h0M1530.6 1437.3h0M1535.6 1449.2h0M1530.4 1454.1h0M1581.7 1417.9h0M1589.5 1421.1h0M1555.5 1429.1h0M1555.7 1443.0h0M1535.6 1425.1h0M1525.7 1428.6h0M1555.0 1437.0h0M1552.4 1416.3h0M1522.3 1421.0h0M1551.8 1435.8h0M1525.4 1452.5h0M1537.1 1433.2h0M1554.9 1427.3h0M1528.4 1456.3h0M1547.7 1444.4h0M1527.9 1441.2h0M1541.3 1429.2h0M1526.2 1448.7h0M1550.3 1453.7h0M1566.0 1437.1h0M1546.4 1454.3h0M1534.7 1429.3h0M1549.4 1422.1h0M1566.8 1428.6h0M1534.2 1433.0h0M1532.6 1458.7h0M1585.6 1412.3h0M1524.9 1434.0h0M1529.5 1449.9h0M1588.8 1404.4h0M1530.8 1443.8h0M1557.5 1434.9h0M1529.2 1442.3h0M1551.2 1432.4h0M1549.6 1454.7h0M1529.8 1446.5h0M1558.8 1404.1h0M1563.5 1436.5h0M1528.0 1437.0h0M1541.3 1438.5h0M1543.7 1433.9h0M1582.7 1412.7h0M1533.2 1456.0h0M1525.3 1446.7h0M1551.6 1444.1h0M1526.6 1455.7h0M1528.1 1460.2h0M1537.1 1439.9h0M1528.0 1444.9h0M1552.2 1449.2h0M1531.2 1455.3h0M1524.7 1437.0h0M1564.4 1421.1h0M1532.5 1442.4h0M1526.1 1440.7h0M1537.1 1446.1h0M1575.2 1414.8h0M1560.4 1445.6h0M1522.5 1439.0h0M1524.7 1430.5h0M1560.1 1429.3h0M1563.2 1321.1h0M1565.7 1318.6h0M1542.5 1323.6h0M1544.2 1351.2h0M1534.2 1358.7h0M1575.7 1371.2h0M1594.8 1398.8h0M1588.1 1413.9h0M1585.7 1421.4h0M1589.8 1423.9h0M1582.3 1436.4h0M1563.2 1378.7h0M1567.4 1381.3h0M1555.0 1378.7h0M1541.7 1368.7h0M1535.0 1383.8h0M1530.0 1391.3h0M1547.5 1406.3h0M1557.4 1406.3h0M1560.8 1428.9h0M1569.9 1438.9h0"/>
<line x1="1496.4" y1="1222.6" x2="1496.4" y2="1502.7" stroke="#000" stroke-width="1.80" stroke-dasharray="12 7"/>
<line x1="1509.3" y1="1222.6" x2="1509.3" y2="1502.7" stroke="#000" stroke-width="1.80" stroke-dasharray="12 7"/>
<line x1="1521.8" y1="1222.6" x2="1521.8" y2="1502.7" stroke="#000" stroke-width="1.80" stroke-dasharray="12 7"/>
<line x1="1398.0" y1="1461.2" x2="1604.1" y2="1461.2" stroke="#000" stroke-width="1.80" stroke-dasharray="12 7"/>
<path fill="none" stroke="#000" stroke-width="1.7" d="M1398 1222.6V1502.7H1604.1"/>
<text x="1390.0" y="1246.0" font-size="22.0" text-anchor="end" fill="#3a3a3a">10.0</text>
<text x="1390.0" y="1308.6" font-size="22.0" text-anchor="end" fill="#3a3a3a">7.5</text>
<text x="1390.0" y="1371.9" font-size="22.0" text-anchor="end" fill="#3a3a3a">5.0</text>
<text x="1390.0" y="1434.5" font-size="22.0" text-anchor="end" fill="#3a3a3a">2.5</text>
<text x="1390.0" y="1497.1" font-size="22.0" text-anchor="end" fill="#3a3a3a">0.0</text>
<text x="1426.7" y="1531.0" font-size="22.0" text-anchor="middle" fill="#3a3a3a">−10</text>
<text x="1467.8" y="1531.0" font-size="22.0" text-anchor="middle" fill="#3a3a3a">−5</text>
<text x="1509.3" y="1531.0" font-size="22.0" text-anchor="middle" fill="#3a3a3a">0</text>
<text x="1551.2" y="1531.0" font-size="22.0" text-anchor="middle" fill="#3a3a3a">5</text>
<text x="1592.7" y="1531.0" font-size="22.0" text-anchor="middle" fill="#3a3a3a">10</text>
<path fill="none" stroke="#333" stroke-width="1.2" d="M1398 1238.0h-5M1398 1300.6h-5M1398 1363.9h-5M1398 1426.5h-5M1398 1489.1h-5M1426.7 1502.7v5M1467.8 1502.7v5M1509.3 1502.7v5M1551.2 1502.7v5M1592.7 1502.7v5"/>
<text x="1508.2" y="1203.0" font-size="24.6" text-anchor="middle">PDGFRα<tspan dy="-8.9" font-size="15.3">hi</tspan><tspan dy="8.9"> FB</tspan></text>
<text x="1443.0" y="1247.7" font-size="22.0" text-anchor="middle">401</text>
<text x="1443.0" y="1275.2" font-size="22.0" text-anchor="middle">genes</text>
<text x="1564.8" y="1247.7" font-size="22.0" text-anchor="middle">297</text>
<text x="1564.8" y="1275.2" font-size="22.0" text-anchor="middle">genes</text>
<path fill="none" stroke="#cfcfcf" stroke-width="6.8" stroke-linecap="round" d="M1759.1 1477.2h0M1773.0 1474.4h0M1728.2 1454.1h0M1789.8 1467.4h0M1739.5 1472.8h0M1712.5 1465.6h0M1770.1 1465.3h0M1743.4 1474.8h0M1758.5 1485.6h0M1753.9 1485.2h0M1775.5 1468.2h0M1747.1 1481.5h0M1735.0 1474.3h0M1751.4 1485.9h0M1746.2 1478.2h0M1745.4 1486.1h0M1756.8 1481.0h0M1738.1 1470.9h0M1765.5 1474.5h0M1735.3 1469.9h0M1754.5 1482.6h0M1763.4 1469.4h0M1754.6 1481.2h0M1744.1 1485.3h0M1753.5 1482.7h0M1746.1 1482.5h0M1746.3 1485.3h0M1764.6 1476.7h0M1752.5 1486.9h0M1732.3 1469.5h0M1768.6 1478.0h0M1734.6 1471.8h0M1747.9 1486.4h0M1779.6 1472.9h0M1735.0 1464.4h0M1722.3 1469.4h0M1766.0 1484.6h0M1750.4 1486.3h0M1737.0 1465.5h0M1776.7 1470.6h0M1757.0 1477.6h0M1760.5 1477.7h0M1761.2 1475.7h0M1725.6 1464.8h0M1745.9 1478.5h0M1743.1 1484.4h0M1732.2 1473.1h0M1782.3 1457.5h0M1739.5 1468.6h0M1755.7 1485.9h0M1742.0 1482.2h0M1759.1 1479.4h0M1735.7 1481.2h0M1731.0 1458.8h0M1736.3 1466.6h0M1733.2 1471.6h0M1735.4 1484.2h0M1771.2 1470.4h0M1722.9 1459.8h0M1742.2 1477.9h0M1745.6 1481.9h0M1755.6 1479.7h0M1734.4 1467.3h0M1740.7 1475.9h0M1759.0 1480.8h0M1726.7 1450.7h0M1737.5 1480.5h0M1738.6 1478.5h0M1768.3 1480.3h0M1749.1 1483.1h0M1737.7 1476.9h0M1769.1 1466.9h0M1772.5 1463.1h0M1733.1 1478.9h0M1729.7 1483.5h0M1769.5 1462.1h0M1740.9 1476.5h0M1760.0 1479.5h0M1717.8 1481.9h0M1757.5 1484.2h0M1748.2 1481.9h0M1734.0 1477.8h0M1737.9 1473.0h0M1740.2 1479.5h0M1771.5 1469.1h0M1770.7 1472.4h0M1762.2 1473.3h0M1727.4 1454.7h0M1762.2 1479.3h0M1737.4 1484.0h0M1766.8 1486.3h0M1729.4 1456.3h0M1775.7 1484.9h0M1748.1 1485.8h0M1768.2 1464.4h0M1728.9 1460.3h0M1759.2 1474.6h0M1739.2 1475.1h0M1740.4 1469.9h0M1764.9 1473.9h0M1733.5 1466.0h0M1759.9 1482.4h0M1741.1 1483.8h0M1782.2 1481.1h0M1746.0 1483.3h0M1737.5 1471.7h0M1762.1 1477.1h0M1769.6 1476.6h0M1729.5 1463.5h0M1783.6 1454.6h0M1771.7 1457.2h0M1763.3 1483.8h0M1776.8 1451.4h0M1776.7 1453.4h0M1768.0 1468.4h0M1764.3 1470.2h0M1721.4 1454.4h0M1780.1 1470.3h0M1731.7 1475.3h0M1733.5 1462.9h0M1754.2 1486.5h0M1773.2 1460.1h0M1730.7 1471.7h0M1766.3 1484.0h0M1773.6 1481.3h0M1756.7 1479.0h0M1736.3 1469.7h0M1723.9 1451.9h0M1727.4 1478.0h0M1740.9 1473.0h0M1769.0 1468.2h0M1726.8 1467.9h0M1758.4 1486.1h0M1756.9 1483.0h0M1779.6 1474.1h0M1762.7 1470.2h0M1744.8 1476.2h0M1741.9 1482.0h0M1716.2 1455.6h0M1784.0 1450.5h0M1792.0 1454.5h0M1725.9 1456.3h0M1776.5 1474.0h0M1715.3 1450.9h0M1731.9 1466.3h0M1772.2 1479.8h0M1768.9 1474.0h0M1737.8 1483.4h0M1739.5 1477.8h0M1713.2 1466.9h0M1762.8 1485.4h0M1731.5 1462.3h0M1734.8 1482.5h0M1723.8 1472.4h0M1783.1 1478.9h0M1767.5 1480.1h0M1784.6 1466.8h0M1764.0 1485.1h0M1778.5 1452.2h0M1765.2 1478.7h0M1772.9 1456.2h0M1779.5 1458.5h0M1771.8 1467.3h0M1773.4 1469.1h0M1734.0 1475.7h0M1767.5 1479.4h0M1733.3 1481.3h0M1760.0 1480.5h0M1757.0 1487.0h0M1734.1 1461.3h0M1730.6 1457.5h0M1730.0 1486.3h0M1733.3 1466.8h0M1713.0 1474.4h0M1762.1 1481.3h0M1749.8 1486.2h0M1737.5 1478.9h0M1760.8 1482.9h0M1727.6 1453.6h0M1775.1 1456.6h0M1735.5 1464.0h0M1775.2 1459.9h0M1720.7 1467.7h0M1740.3 1485.0h0M1714.4 1461.0h0M1726.7 1459.5h0M1789.1 1457.9h0M1725.3 1452.8h0M1742.6 1473.3h0M1766.9 1473.6h0M1771.8 1462.1h0M1722.5 1452.4h0M1778.4 1464.9h0M1739.6 1480.3h0M1728.8 1473.9h0M1731.2 1464.7h0M1742.8 1479.2h0M1732.3 1458.9h0M1764.3 1469.8h0M1738.0 1475.7h0M1774.4 1473.9h0M1786.6 1475.2h0M1784.4 1468.8h0M1764.8 1481.3h0M1765.4 1466.6h0M1732.2 1461.8h0M1722.3 1457.5h0M1792.5 1472.9h0M1743.3 1480.5h0M1775.8 1463.9h0M1718.0 1475.8h0M1778.4 1455.2h0M1718.1 1469.8h0M1760.3 1473.1h0M1775.7 1474.5h0M1722.9 1467.8h0M1766.3 1477.4h0M1739.8 1483.8h0M1739.8 1485.5h0M1724.6 1454.9h0M1740.9 1472.0h0M1743.4 1487.0h0M1724.4 1470.0h0M1771.4 1478.3h0M1773.6 1466.6h0M1760.9 1485.9h0M1768.8 1461.8h0M1725.5 1473.2h0M1763.6 1475.7h0M1724.8 1450.5h0M1761.5 1486.2h0M1789.2 1473.3h0M1727.9 1460.3h0M1720.8 1481.2h0M1719.2 1457.6h0M1741.5 1486.5h0M1786.4 1471.7h0M1776.2 1468.0h0M1784.3 1483.6h0M1777.3 1460.9h0M1770.2 1481.6h0M1776.4 1467.7h0M1775.7 1471.4h0M1778.6 1484.3h0M1728.4 1465.7h0M1730.0 1474.4h0M1774.8 1454.1h0M1715.8 1470.2h0M1718.0 1477.5h0M1737.2 1486.5h0M1719.2 1461.7h0M1728.4 1470.4h0M1781.8 1461.0h0M1730.3 1460.5h0M1777.3 1458.9h0M1728.4 1466.2h0M1724.8 1462.5h0M1777.4 1465.3h0M1790.5 1456.0h0M1781.5 1455.0h0M1750.1 1483.9h0M1769.0 1471.6h0M1789.5 1461.2h0M1771.1 1460.6h0M1790.2 1450.6h0M1728.2 1478.7h0M1767.7 1471.1h0M1722.4 1470.5h0M1771.3 1485.1h0M1768.7 1474.3h0M1773.7 1483.1h0M1727.9 1485.2h0M1775.2 1468.0h0M1767.0 1467.1h0M1731.7 1470.0h0M1722.4 1461.1h0M1782.1 1475.4h0M1782.3 1466.8h0M1779.7 1456.4h0M1726.6 1464.0h0M1778.4 1461.2h0"/>
<path fill="none" stroke="#1bbcc1" stroke-width="6.8" stroke-linecap="round" d="M1705.4 1415.6h0M1730.0 1413.6h0M1723.2 1426.4h0M1733.9 1411.8h0M1733.8 1436.3h0M1738.6 1445.6h0M1730.8 1444.8h0M1712.3 1426.1h0M1739.2 1415.4h0M1696.8 1407.5h0M1698.8 1417.3h0M1734.9 1440.0h0M1739.1 1428.2h0M1737.2 1411.3h0M1725.9 1405.6h0M1692.7 1405.5h0M1736.8 1440.3h0M1732.5 1420.6h0M1729.2 1413.0h0M1726.1 1425.8h0M1728.1 1428.8h0M1726.1 1443.1h0M1730.5 1439.9h0M1725.2 1438.5h0M1721.4 1443.1h0M1730.8 1448.7h0M1735.9 1437.2h0M1738.0 1426.6h0M1738.5 1420.1h0M1732.9 1427.2h0M1706.5 1415.6h0M1729.9 1415.3h0M1721.9 1416.7h0M1704.0 1415.3h0M1739.1 1436.9h0M1725.5 1432.1h0M1706.6 1411.7h0M1727.2 1442.3h0M1719.8 1436.8h0M1715.9 1412.8h0M1739.4 1432.3h0M1717.4 1419.7h0M1719.2 1411.1h0M1731.7 1433.7h0M1703.1 1390.6h0M1734.9 1427.6h0M1739.3 1438.8h0M1715.4 1416.5h0M1685.5 1394.5h0M1723.6 1443.3h0M1739.0 1448.3h0M1737.9 1445.1h0M1734.1 1427.0h0M1725.5 1410.8h0M1723.1 1416.3h0M1739.0 1434.8h0M1727.7 1433.7h0M1738.7 1433.5h0M1723.0 1430.3h0M1686.1 1399.6h0M1731.4 1431.3h0M1691.8 1393.0h0M1723.2 1437.0h0M1700.2 1408.6h0M1738.6 1429.7h0M1716.3 1430.3h0M1720.0 1401.8h0M1720.9 1428.1h0M1718.4 1437.1h0M1738.8 1437.7h0M1726.9 1435.2h0M1684.5 1415.3h0M1728.3 1416.9h0M1728.8 1426.3h0M1719.9 1445.1h0M1715.4 1427.7h0M1726.0 1419.5h0M1699.8 1419.9h0M1714.0 1426.3h0M1736.1 1445.7h0M1730.6 1429.0h0M1698.6 1384.0h0M1737.3 1441.7h0M1735.3 1435.9h0M1728.9 1415.9h0M1737.6 1420.7h0M1730.0 1433.4h0M1683.6 1396.7h0M1700.6 1416.9h0M1736.4 1416.8h0M1739.3 1440.9h0M1716.6 1432.6h0M1721.6 1399.5h0M1734.6 1418.6h0M1716.5 1423.9h0M1671.1 1406.1h0M1733.8 1447.8h0M1737.9 1449.1h0M1735.7 1415.3h0M1700.6 1424.4h0M1739.4 1425.0h0M1722.1 1438.9h0M1720.4 1443.4h0M1738.9 1419.5h0M1723.3 1413.2h0M1715.5 1435.9h0M1738.4 1410.4h0M1721.3 1405.0h0M1709.8 1426.5h0M1693.7 1416.5h0M1732.5 1444.4h0M1729.5 1435.8h0M1729.8 1440.2h0M1709.8 1430.3h0M1738.9 1404.2h0M1732.2 1443.4h0M1737.2 1448.4h0M1729.2 1421.3h0M1730.2 1406.1h0M1715.3 1413.5h0M1715.8 1394.0h0M1735.5 1409.1h0M1734.9 1414.0h0M1734.1 1437.5h0M1727.7 1418.9h0M1731.8 1415.3h0M1733.3 1440.2h0M1729.5 1438.8h0M1732.2 1422.7h0M1728.3 1442.7h0M1712.6 1428.1h0M1735.5 1449.3h0M1714.5 1440.9h0M1718.1 1425.8h0M1721.9 1423.5h0M1689.1 1400.5h0M1712.7 1410.9h0M1712.7 1407.5h0M1725.2 1425.6h0M1720.2 1428.3h0M1717.0 1442.1h0M1722.9 1423.7h0M1730.7 1408.7h0M1732.0 1430.5h0M1726.6 1423.8h0M1737.2 1431.4h0M1706.2 1416.7h0M1723.9 1420.8h0M1708.4 1386.9h0M1738.8 1398.7h0M1680.7 1396.4h0M1727.8 1421.3h0M1715.3 1424.2h0M1702.1 1419.5h0M1730.2 1411.1h0M1718.5 1428.9h0M1712.9 1433.9h0M1739.5 1426.6h0M1730.9 1441.9h0M1726.8 1440.9h0M1730.6 1421.2h0M1699.7 1420.4h0M1736.1 1429.5h0M1698.9 1408.0h0M1727.4 1412.3h0M1737.2 1436.2h0M1730.0 1403.9h0M1721.2 1443.8h0M1735.1 1443.8h0M1730.2 1429.2h0M1666.1 1414.9h0M1737.1 1423.1h0M1709.8 1421.3h0M1684.5 1400.6h0M1723.3 1404.9h0M1719.0 1441.6h0M1730.6 1425.0h0M1728.6 1419.8h0M1705.4 1387.5h0M1733.4 1447.4h0M1733.7 1415.9h0M1709.6 1411.7h0M1702.2 1420.7h0M1711.4 1436.1h0M1702.2 1416.2h0M1738.4 1442.3h0M1728.7 1407.0h0M1723.6 1433.7h0M1725.0 1415.1h0M1715.4 1420.4h0M1696.5 1416.6h0M1713.5 1417.8h0M1716.8 1409.3h0M1738.9 1403.7h0M1705.6 1427.3h0M1737.8 1417.1h0M1724.2 1409.3h0M1717.7 1406.0h0M1736.5 1438.4h0M1715.9 1414.3h0M1736.0 1403.7h0M1722.3 1413.2h0M1704.7 1388.9h0M1705.8 1410.8h0M1719.6 1407.6h0M1704.2 1402.1h0M1689.7 1392.0h0M1719.2 1434.0h0M1733.1 1435.2h0M1724.1 1386.9h0M1733.9 1411.0h0M1673.7 1414.2h0M1713.1 1405.1h0M1706.5 1432.1h0M1696.3 1419.3h0M1718.9 1413.3h0M1698.4 1395.3h0M1703.2 1418.2h0M1736.6 1448.3h0M1727.2 1416.0h0M1718.2 1417.7h0M1684.8 1403.7h0M1721.4 1434.4h0M1734.8 1423.1h0M1734.3 1432.7h0M1717.4 1409.7h0M1729.1 1433.4h0M1729.6 1423.9h0M1736.7 1432.9h0M1728.7 1405.2h0M1729.6 1444.9h0M1720.2 1415.1h0M1738.6 1425.3h0M1708.1 1430.7h0M1720.8 1411.9h0M1692.8 1408.3h0M1733.8 1391.8h0M1701.3 1406.3h0M1690.1 1384.2h0M1722.1 1440.2h0M1718.4 1445.1h0M1699.1 1404.2h0M1736.6 1425.7h0M1679.9 1407.6h0M1701.1 1423.9h0M1736.6 1406.2h0M1724.3 1435.7h0M1687.1 1401.7h0M1714.5 1431.0h0M1738.7 1407.3h0M1709.7 1415.4h0M1722.6 1411.1h0M1725.3 1449.0h0M1695.8 1410.6h0M1667.0 1401.9h0M1739.0 1449.0h0M1739.4 1446.5h0M1694.0 1416.1h0M1738.6 1395.2h0M1724.5 1433.5h0M1694.6 1416.6h0M1736.5 1419.8h0M1712.3 1419.5h0M1729.2 1447.8h0M1734.3 1439.9h0M1682.1 1409.5h0M1735.3 1425.5h0M1699.1 1422.7h0M1710.9 1431.7h0M1731.5 1413.0h0M1718.4 1441.1h0M1734.8 1446.5h0M1708.9 1434.9h0M1711.4 1414.3h0M1698.8 1419.9h0M1732.2 1405.8h0M1705.2 1421.6h0M1738.8 1443.7h0M1738.6 1438.5h0M1725.8 1411.3h0M1711.5 1430.3h0M1734.8 1409.4h0M1734.3 1434.3h0M1691.1 1417.2h0M1691.1 1393.2h0M1725.9 1421.3h0M1695.9 1400.2h0M1726.0 1427.7h0M1690.2 1413.4h0M1731.7 1400.0h0M1709.8 1428.7h0M1728.4 1408.7h0M1732.8 1439.3h0M1699.3 1409.4h0M1674.6 1316.4h0M1708.4 1292.8h0M1714.6 1343.3h0M1695.4 1343.3h0M1668.4 1356.8h0M1667.7 1363.5h0M1693.1 1355.1h0M1702.3 1353.4h0M1706.9 1360.1h0M1705.4 1363.5h0M1717.7 1373.6h0M1677.7 1377.0h0M1671.5 1377.0h0M1685.4 1390.4h0M1690.7 1387.0h0M1711.5 1380.3h0"/>
<path fill="none" stroke="#f1756d" stroke-width="6.8" stroke-linecap="round" d="M1769.9 1414.0h0M1842.6 1399.9h0M1770.9 1433.6h0M1800.1 1425.0h0M1786.4 1435.9h0M1772.4 1449.2h0M1787.6 1425.4h0M1779.4 1438.2h0M1772.8 1432.3h0M1788.4 1431.3h0M1781.2 1437.6h0M1769.7 1442.4h0M1766.6 1432.6h0M1782.2 1433.9h0M1766.9 1393.5h0M1800.6 1417.3h0M1763.8 1445.7h0M1790.6 1413.4h0M1768.6 1436.6h0M1766.4 1438.6h0M1768.3 1441.5h0M1764.8 1430.1h0M1763.8 1434.9h0M1763.6 1428.6h0M1765.2 1441.7h0M1792.1 1423.6h0M1765.2 1439.2h0M1766.6 1445.5h0M1765.6 1410.0h0M1764.7 1425.8h0M1785.7 1421.5h0M1769.3 1417.0h0M1770.0 1420.7h0M1780.9 1432.5h0M1782.8 1413.4h0M1771.5 1411.7h0M1833.8 1411.5h0M1769.5 1426.8h0M1768.7 1433.0h0M1784.2 1434.8h0M1780.0 1446.7h0M1769.9 1444.2h0M1764.7 1443.9h0M1767.6 1409.7h0M1790.7 1436.4h0M1790.6 1409.4h0M1770.4 1429.5h0M1787.9 1411.0h0M1794.2 1383.7h0M1772.1 1443.4h0M1787.5 1412.4h0M1768.1 1397.1h0M1764.7 1422.5h0M1774.8 1418.4h0M1775.0 1407.0h0M1804.1 1416.2h0M1774.4 1438.9h0M1787.9 1417.8h0M1771.9 1443.9h0M1766.5 1428.5h0M1765.3 1431.1h0M1814.5 1407.0h0M1767.8 1432.1h0M1767.8 1445.2h0M1773.0 1438.6h0M1817.6 1415.7h0M1777.6 1433.7h0M1771.1 1431.9h0M1796.9 1395.5h0M1773.8 1425.5h0M1765.1 1419.0h0M1767.7 1443.6h0M1783.7 1412.5h0M1816.9 1400.0h0M1766.6 1430.2h0M1764.7 1438.1h0M1806.7 1411.8h0M1801.4 1407.8h0M1774.4 1436.9h0M1766.0 1421.5h0M1765.7 1421.4h0M1822.9 1394.1h0M1779.4 1421.7h0M1816.9 1402.5h0M1781.4 1421.0h0M1795.9 1414.3h0M1772.2 1410.6h0M1787.0 1399.2h0M1783.6 1441.2h0M1835.9 1407.6h0M1772.3 1445.8h0M1831.1 1404.1h0M1803.2 1405.4h0M1779.6 1427.1h0M1774.8 1442.7h0M1775.2 1413.9h0M1770.1 1396.3h0M1803.8 1420.6h0M1822.4 1401.7h0M1845.9 1405.0h0M1807.3 1412.5h0M1792.6 1427.0h0M1810.9 1404.3h0M1769.7 1438.8h0M1775.7 1435.8h0M1781.4 1442.2h0M1773.0 1441.2h0M1772.7 1436.2h0M1781.4 1433.0h0M1793.4 1415.1h0M1790.7 1426.6h0M1809.8 1400.9h0M1784.0 1446.6h0M1781.8 1424.3h0M1763.6 1419.4h0M1786.4 1418.8h0M1769.0 1415.1h0M1780.0 1448.5h0M1768.4 1408.0h0M1772.1 1423.2h0M1769.6 1418.8h0M1790.6 1401.3h0M1799.0 1424.5h0M1803.9 1402.3h0M1796.3 1416.0h0M1763.9 1438.6h0M1780.2 1440.5h0M1774.3 1405.6h0M1763.7 1417.6h0M1765.2 1445.5h0M1790.5 1410.6h0M1798.5 1395.8h0M1788.1 1420.9h0M1807.9 1404.2h0M1772.8 1441.2h0M1789.2 1425.4h0M1795.3 1420.8h0M1764.0 1432.1h0M1771.2 1424.1h0M1764.2 1433.0h0M1787.0 1443.6h0M1783.9 1442.5h0M1775.3 1439.9h0M1766.5 1407.2h0M1775.2 1421.1h0M1823.5 1408.6h0M1766.6 1419.7h0M1791.5 1437.8h0M1796.9 1415.6h0M1785.5 1430.7h0M1768.9 1420.4h0M1767.1 1433.9h0M1783.5 1427.5h0M1771.5 1426.5h0M1801.4 1403.4h0M1770.7 1409.2h0M1774.0 1445.2h0M1781.6 1443.6h0M1766.3 1437.2h0M1777.5 1439.5h0M1770.5 1435.7h0M1778.8 1429.8h0M1764.9 1442.6h0M1774.6 1435.7h0M1834.0 1404.4h0M1790.4 1416.4h0M1778.2 1446.7h0M1784.8 1444.4h0M1812.8 1413.0h0M1774.8 1423.2h0M1805.3 1411.7h0M1768.6 1430.6h0M1774.1 1409.8h0M1763.8 1421.4h0M1785.4 1422.2h0M1765.7 1414.2h0M1775.9 1447.2h0M1774.5 1411.2h0M1782.2 1384.1h0M1769.6 1423.8h0M1797.3 1428.8h0M1769.4 1435.9h0M1777.7 1408.7h0M1769.7 1440.0h0M1766.0 1441.5h0M1778.9 1445.2h0M1771.9 1398.5h0M1786.8 1439.0h0M1814.4 1398.5h0M1772.8 1429.4h0M1810.5 1414.9h0M1791.2 1414.3h0M1804.8 1416.8h0M1767.8 1438.4h0M1767.8 1447.4h0M1767.5 1423.6h0M1763.6 1422.6h0M1804.4 1398.9h0M1808.7 1409.6h0M1765.4 1409.2h0M1766.0 1416.9h0M1784.0 1425.5h0M1805.7 1415.8h0M1795.1 1404.7h0M1788.9 1416.3h0M1763.4 1437.3h0M1765.9 1445.2h0M1835.7 1414.4h0M1826.7 1394.4h0M1764.0 1430.0h0M1811.5 1411.9h0M1775.2 1444.7h0M1795.1 1418.1h0M1768.2 1423.9h0M1772.4 1434.2h0M1813.3 1396.0h0M1779.8 1423.6h0M1773.3 1415.8h0M1781.1 1411.3h0M1800.6 1416.1h0M1795.6 1409.6h0M1773.5 1408.5h0M1789.4 1439.7h0M1773.4 1447.5h0M1805.2 1395.2h0M1823.8 1235.6h0M1822.2 1313.0h0M1802.3 1326.5h0M1797.6 1336.6h0M1802.3 1336.6h0M1813.0 1343.3h0M1784.6 1343.3h0M1849.2 1343.3h0M1845.3 1353.4h0M1813.0 1356.8h0M1780.7 1363.5h0M1793.0 1366.9h0M1801.5 1366.9h0M1827.6 1377.0h0M1836.1 1375.3h0M1832.2 1383.7h0M1816.9 1383.7h0M1806.9 1383.7h0M1809.9 1393.8h0M1827.6 1393.8h0M1822.2 1414.0h0M1815.3 1417.3h0M1823.8 1427.4h0M1826.9 1427.4h0M1807.6 1439.2h0M1804.6 1444.3h0M1809.9 1447.6h0"/>
<line x1="1739.7" y1="1220.8" x2="1739.7" y2="1501.0" stroke="#000" stroke-width="1.80" stroke-dasharray="12 7"/>
<line x1="1751.5" y1="1220.8" x2="1751.5" y2="1501.0" stroke="#000" stroke-width="1.80" stroke-dasharray="12 7"/>
<line x1="1763.3" y1="1220.8" x2="1763.3" y2="1501.0" stroke="#000" stroke-width="1.80" stroke-dasharray="12 7"/>
<line x1="1655.6" y1="1449.0" x2="1861.3" y2="1449.0" stroke="#000" stroke-width="1.80" stroke-dasharray="12 7"/>
<path fill="none" stroke="#000" stroke-width="1.7" d="M1655.6 1220.8V1501H1861.3"/>
<text x="1647.0" y="1294.3" font-size="22.0" text-anchor="end" fill="#3a3a3a">6</text>
<text x="1647.0" y="1361.6" font-size="22.0" text-anchor="end" fill="#3a3a3a">4</text>
<text x="1647.0" y="1429.2" font-size="22.0" text-anchor="end" fill="#3a3a3a">2</text>
<text x="1647.0" y="1496.0" font-size="22.0" text-anchor="end" fill="#3a3a3a">0</text>
<text x="1674.6" y="1529.5" font-size="22.0" text-anchor="middle" fill="#3a3a3a">−10</text>
<text x="1713.2" y="1529.5" font-size="22.0" text-anchor="middle" fill="#3a3a3a">−5</text>
<text x="1751.5" y="1529.5" font-size="22.0" text-anchor="middle" fill="#3a3a3a">0</text>
<text x="1788.4" y="1529.5" font-size="22.0" text-anchor="middle" fill="#3a3a3a">5</text>
<text x="1828.4" y="1529.5" font-size="22.0" text-anchor="middle" fill="#3a3a3a">10</text>
<path fill="none" stroke="#333" stroke-width="1.2" d="M1655.6 1286.3h-5M1655.6 1353.6h-5M1655.6 1421.2h-5M1655.6 1488.0h-5M1674.6 1501v5M1713.2 1501v5M1751.5 1501v5M1788.4 1501v5M1828.4 1501v5"/>
<text x="1764.0" y="1203.0" font-size="24.6" text-anchor="middle">Fgfr2<tspan dy="-8.9" font-size="15.3">+</tspan><tspan dy="8.9"> FB</tspan></text>
<text x="1696.0" y="1247.7" font-size="22.0" text-anchor="middle">416</text>
<text x="1696.0" y="1275.2" font-size="22.0" text-anchor="middle">genes</text>
<text x="1805.0" y="1247.7" font-size="22.0" text-anchor="middle">300</text>
<text x="1805.0" y="1275.2" font-size="22.0" text-anchor="middle">genes</text>
<text x="1329.0" y="1352.0" font-size="26.8" text-anchor="middle" transform="rotate(-90.0 1329.0 1352.0)">√(−log<tspan dy="5.9" font-size="16.6">10</tspan><tspan dy="-5.9">(adj. p−value))</tspan></text>
<text x="1628.0" y="1560.0" font-size="25.5" text-anchor="middle">log2 FoldChange</text>
<circle cx="1443.1" cy="1592.2" r="6.5" fill="#1bbcc1"/>
<text x="1456.4" y="1598.3" font-size="25.6">Colon</text>
<circle cx="1631" cy="1592.2" r="6.5" fill="#f1756d"/>
<text x="1645.3" y="1598.3" font-size="25.6">Small intestine</text></g>
<g id="panel_g"><defs><linearGradient id="gz"><stop offset="0" stop-color="#67001f"/><stop offset="0.06" stop-color="#6a0321"/><stop offset="0.22" stop-color="#b2182b"/><stop offset="0.31" stop-color="#d6604d"/><stop offset="0.4" stop-color="#f4a582"/><stop offset="0.5" stop-color="#f7f7f7"/><stop offset="0.6" stop-color="#c6dbef"/><stop offset="0.68" stop-color="#6fa8d3"/><stop offset="0.75" stop-color="#2166ac"/><stop offset="0.82" stop-color="#1d3461"/><stop offset="1" stop-color="#1d3461"/></linearGradient></defs>
<text x="0.0" y="1692.0" font-size="25.0" font-weight="bold">g</text>
<rect x="71.2" y="1715.2" width="65.8" height="27.2" fill="#41b8ea"/><rect x="137.1" y="1715.2" width="65.8" height="27.2" fill="#7f489b"/><rect x="71.2" y="1744.7" width="33.1" height="26.9" fill="#f1756d"/><rect x="104.1" y="1744.7" width="33.1" height="26.9" fill="#1bbcc1"/><rect x="137.1" y="1744.7" width="33.1" height="26.9" fill="#f1756d"/><rect x="170.0" y="1744.7" width="33.1" height="26.9" fill="#1bbcc1"/>
<rect x="71.2" y="1774.2" width="33.32" height="15.84" fill="#6fa8d0"/><rect x="104.1" y="1774.2" width="33.32" height="15.84" fill="#c0403d"/><rect x="137.1" y="1774.2" width="33.32" height="15.84" fill="#3f7fba"/><rect x="170.0" y="1774.2" width="33.32" height="15.84" fill="#fcdccb"/><rect x="71.2" y="1789.6" width="33.32" height="15.84" fill="#68a3cc"/><rect x="104.1" y="1789.6" width="33.32" height="15.84" fill="#f0a17d"/><rect x="137.1" y="1789.6" width="33.32" height="15.84" fill="#4990c4"/><rect x="170.0" y="1789.6" width="33.32" height="15.84" fill="#f0a17d"/><rect x="71.2" y="1805.1" width="33.32" height="15.84" fill="#6aa5ce"/><rect x="104.1" y="1805.1" width="33.32" height="15.84" fill="#e0755a"/><rect x="137.1" y="1805.1" width="33.32" height="15.84" fill="#1f5f9f"/><rect x="170.0" y="1805.1" width="33.32" height="15.84" fill="#ef8c6c"/><rect x="71.2" y="1820.5" width="33.32" height="15.84" fill="#b6d4e7"/><rect x="104.1" y="1820.5" width="33.32" height="15.84" fill="#f7b89a"/><rect x="137.1" y="1820.5" width="33.32" height="15.84" fill="#174b85"/><rect x="170.0" y="1820.5" width="33.32" height="15.84" fill="#e0705a"/><rect x="71.2" y="1836.0" width="33.32" height="15.84" fill="#7caed3"/><rect x="104.1" y="1836.0" width="33.32" height="15.84" fill="#e7eff3"/><rect x="137.1" y="1836.0" width="33.32" height="15.84" fill="#c2dbea"/><rect x="170.0" y="1836.0" width="33.32" height="15.84" fill="#ec8a6b"/><rect x="71.2" y="1851.4" width="33.32" height="15.84" fill="#3572b0"/><rect x="104.1" y="1851.4" width="33.32" height="15.84" fill="#f8ebe7"/><rect x="137.1" y="1851.4" width="33.32" height="15.84" fill="#d4e4f0"/><rect x="170.0" y="1851.4" width="33.32" height="15.84" fill="#e0745a"/><rect x="71.2" y="1866.8" width="33.32" height="15.84" fill="#bad6e8"/><rect x="104.1" y="1866.8" width="33.32" height="15.84" fill="#a9cce2"/><rect x="137.1" y="1866.8" width="33.32" height="15.84" fill="#ecf1f4"/><rect x="170.0" y="1866.8" width="33.32" height="15.84" fill="#f5b799"/><rect x="71.2" y="1882.3" width="33.32" height="15.84" fill="#b0d1e5"/><rect x="104.1" y="1882.3" width="33.32" height="15.84" fill="#3777b4"/><rect x="137.1" y="1882.3" width="33.32" height="15.84" fill="#f0f0f2"/><rect x="170.0" y="1882.3" width="33.32" height="15.84" fill="#c0363b"/><rect x="71.2" y="1897.7" width="33.32" height="15.84" fill="#5197c8"/><rect x="104.1" y="1897.7" width="33.32" height="15.84" fill="#70a9d0"/><rect x="137.1" y="1897.7" width="33.32" height="15.84" fill="#c3ddea"/><rect x="170.0" y="1897.7" width="33.32" height="15.84" fill="#6b0a22"/><rect x="71.2" y="1913.2" width="33.32" height="15.84" fill="#6ca4cd"/><rect x="104.1" y="1913.2" width="33.32" height="15.84" fill="#6ca4cd"/><rect x="137.1" y="1913.2" width="33.32" height="15.84" fill="#cbe1ee"/><rect x="170.0" y="1913.2" width="33.32" height="15.84" fill="#8b1628"/><rect x="71.2" y="1928.6" width="33.32" height="15.84" fill="#e3eaf1"/><rect x="104.1" y="1928.6" width="33.32" height="15.84" fill="#b0d2e6"/><rect x="137.1" y="1928.6" width="33.32" height="15.84" fill="#2f6fb0"/><rect x="170.0" y="1928.6" width="33.32" height="15.84" fill="#a01b2b"/><rect x="71.2" y="1944.0" width="33.32" height="15.84" fill="#dfe9f1"/><rect x="104.1" y="1944.0" width="33.32" height="15.84" fill="#c4dbea"/><rect x="137.1" y="1944.0" width="33.32" height="15.84" fill="#2d6eb0"/><rect x="170.0" y="1944.0" width="33.32" height="15.84" fill="#ae1f2e"/><rect x="71.2" y="1959.5" width="33.32" height="15.84" fill="#87bbda"/><rect x="104.1" y="1959.5" width="33.32" height="15.84" fill="#ea8b6c"/><rect x="137.1" y="1959.5" width="33.32" height="15.84" fill="#f4a889"/><rect x="170.0" y="1959.5" width="33.32" height="15.84" fill="#2d6fb0"/><rect x="71.2" y="1974.9" width="33.32" height="15.84" fill="#2567ac"/><rect x="104.1" y="1974.9" width="33.32" height="15.84" fill="#c8473e"/><rect x="137.1" y="1974.9" width="33.32" height="15.84" fill="#fcd4bd"/><rect x="170.0" y="1974.9" width="33.32" height="15.84" fill="#83b8d8"/><rect x="71.2" y="1990.4" width="33.32" height="15.84" fill="#1c4178"/><rect x="104.1" y="1990.4" width="33.32" height="15.84" fill="#f8e8df"/><rect x="137.1" y="1990.4" width="33.32" height="15.84" fill="#c8463e"/><rect x="170.0" y="1990.4" width="33.32" height="15.84" fill="#d1e3f0"/><rect x="71.2" y="2005.8" width="33.32" height="15.84" fill="#1a4a86"/><rect x="104.1" y="2005.8" width="33.32" height="15.84" fill="#a4cbe2"/><rect x="137.1" y="2005.8" width="33.32" height="15.84" fill="#fde4d8"/><rect x="170.0" y="2005.8" width="33.32" height="15.84" fill="#b52530"/><rect x="71.2" y="2021.2" width="33.32" height="15.84" fill="#3c85c0"/><rect x="104.1" y="2021.2" width="33.32" height="15.84" fill="#3374b2"/><rect x="137.1" y="2021.2" width="33.32" height="15.84" fill="#f9c4aa"/><rect x="170.0" y="2021.2" width="33.32" height="15.84" fill="#b92e36"/><rect x="71.2" y="2036.7" width="33.32" height="15.84" fill="#1c5898"/><rect x="104.1" y="2036.7" width="33.32" height="15.84" fill="#579cca"/><rect x="137.1" y="2036.7" width="33.32" height="15.84" fill="#e27c60"/><rect x="170.0" y="2036.7" width="33.32" height="15.84" fill="#e27460"/><rect x="71.2" y="2052.1" width="33.32" height="15.84" fill="#f9e8e1"/><rect x="104.1" y="2052.1" width="33.32" height="15.84" fill="#2468ae"/><rect x="137.1" y="2052.1" width="33.32" height="15.84" fill="#f5ae8f"/><rect x="170.0" y="2052.1" width="33.32" height="15.84" fill="#f9efec"/><rect x="71.2" y="2067.6" width="33.32" height="15.84" fill="#dfebf3"/><rect x="104.1" y="2067.6" width="33.32" height="15.84" fill="#1f5e9e"/><rect x="137.1" y="2067.6" width="33.32" height="15.84" fill="#f8b699"/><rect x="170.0" y="2067.6" width="33.32" height="15.84" fill="#f8b699"/><rect x="71.2" y="2083.0" width="33.32" height="15.84" fill="#7cb1d5"/><rect x="104.1" y="2083.0" width="33.32" height="15.84" fill="#1b4a85"/><rect x="137.1" y="2083.0" width="33.32" height="15.84" fill="#d0554a"/><rect x="170.0" y="2083.0" width="33.32" height="15.84" fill="#ef9676"/><rect x="71.2" y="2098.4" width="33.32" height="15.84" fill="#4d93c6"/><rect x="104.1" y="2098.4" width="33.32" height="15.84" fill="#2568ad"/><rect x="137.1" y="2098.4" width="33.32" height="15.84" fill="#e1765f"/><rect x="170.0" y="2098.4" width="33.32" height="15.84" fill="#ec8a6b"/><rect x="71.2" y="2113.9" width="33.32" height="15.84" fill="#3d86c0"/><rect x="104.1" y="2113.9" width="33.32" height="15.84" fill="#2a6eb0"/><rect x="137.1" y="2113.9" width="33.32" height="15.84" fill="#d95f4f"/><rect x="170.0" y="2113.9" width="33.32" height="15.84" fill="#ed8d6e"/><rect x="71.2" y="2129.3" width="33.32" height="15.84" fill="#9dc9e0"/><rect x="104.1" y="2129.3" width="33.32" height="15.84" fill="#1f5d9c"/><rect x="137.1" y="2129.3" width="33.32" height="15.84" fill="#c8463e"/><rect x="170.0" y="2129.3" width="33.32" height="15.84" fill="#fcd7c4"/><rect x="71.2" y="2144.8" width="33.32" height="15.84" fill="#83b9d8"/><rect x="104.1" y="2144.8" width="33.32" height="15.84" fill="#c0403d"/><rect x="137.1" y="2144.8" width="33.32" height="15.84" fill="#c5dde9"/><rect x="170.0" y="2144.8" width="33.32" height="15.84" fill="#99c6df"/><rect x="71.2" y="2160.2" width="33.32" height="15.84" fill="#83b9d8"/><rect x="104.1" y="2160.2" width="33.32" height="15.84" fill="#ab1c2e"/><rect x="137.1" y="2160.2" width="33.32" height="15.84" fill="#6aa9d0"/><rect x="170.0" y="2160.2" width="33.32" height="15.84" fill="#cfe2ee"/><rect x="71.2" y="2175.6" width="33.32" height="15.84" fill="#6ba9d0"/><rect x="104.1" y="2175.6" width="33.32" height="15.84" fill="#861429"/><rect x="137.1" y="2175.6" width="33.32" height="15.84" fill="#6aa9d0"/><rect x="170.0" y="2175.6" width="33.32" height="15.84" fill="#c2dceb"/><rect x="71.2" y="2191.1" width="33.32" height="15.84" fill="#6eabd1"/><rect x="104.1" y="2191.1" width="33.32" height="15.84" fill="#6b0a22"/><rect x="137.1" y="2191.1" width="33.32" height="15.84" fill="#79b2d5"/><rect x="170.0" y="2191.1" width="33.32" height="15.84" fill="#97c5df"/><rect x="71.2" y="2206.5" width="33.32" height="15.84" fill="#d0e3ef"/><rect x="104.1" y="2206.5" width="33.32" height="15.84" fill="#8d1529"/><rect x="137.1" y="2206.5" width="33.32" height="15.84" fill="#164f8b"/><rect x="170.0" y="2206.5" width="33.32" height="15.84" fill="#d3e5f0"/><rect x="71.2" y="2222.0" width="33.32" height="15.84" fill="#fbe3d8"/><rect x="104.1" y="2222.0" width="33.32" height="15.84" fill="#ac1c2c"/><rect x="137.1" y="2222.0" width="33.32" height="15.84" fill="#2066ac"/><rect x="170.0" y="2222.0" width="33.32" height="15.84" fill="#7db5d7"/><rect x="71.2" y="2237.4" width="33.32" height="15.84" fill="#fae3d8"/><rect x="104.1" y="2237.4" width="33.32" height="15.84" fill="#c0403d"/><rect x="137.1" y="2237.4" width="33.32" height="15.84" fill="#3a85c0"/><rect x="170.0" y="2237.4" width="33.32" height="15.84" fill="#5c9fcc"/><rect x="71.2" y="2252.8" width="33.32" height="15.84" fill="#f5ad8c"/><rect x="104.1" y="2252.8" width="33.32" height="15.84" fill="#c0403d"/><rect x="137.1" y="2252.8" width="33.32" height="15.84" fill="#3a85c0"/><rect x="170.0" y="2252.8" width="33.32" height="15.84" fill="#3276b5"/><rect x="71.2" y="2268.3" width="33.32" height="15.84" fill="#ec9474"/><rect x="104.1" y="2268.3" width="33.32" height="15.84" fill="#f3a584"/><rect x="137.1" y="2268.3" width="33.32" height="15.84" fill="#184a85"/><rect x="170.0" y="2268.3" width="33.32" height="15.84" fill="#cde1ee"/><rect x="71.2" y="2283.7" width="33.32" height="15.84" fill="#d96150"/><rect x="104.1" y="2283.7" width="33.32" height="15.84" fill="#e2735a"/><rect x="137.1" y="2283.7" width="33.32" height="15.84" fill="#164a86"/><rect x="170.0" y="2283.7" width="33.32" height="15.84" fill="#6eaad0"/><rect x="71.2" y="2299.2" width="33.32" height="15.84" fill="#e0775f"/><rect x="104.1" y="2299.2" width="33.32" height="15.84" fill="#f29e7e"/><rect x="137.1" y="2299.2" width="33.32" height="15.84" fill="#164a86"/><rect x="170.0" y="2299.2" width="33.32" height="15.84" fill="#a1cbe2"/><rect x="71.2" y="2314.6" width="33.32" height="15.84" fill="#fbd2bd"/><rect x="104.1" y="2314.6" width="33.32" height="15.84" fill="#c8473e"/><rect x="137.1" y="2314.6" width="33.32" height="15.84" fill="#1c335f"/><rect x="170.0" y="2314.6" width="33.32" height="15.84" fill="#c9dfed"/><rect x="71.2" y="2330.0" width="33.32" height="15.84" fill="#f2a07f"/><rect x="104.1" y="2330.0" width="33.32" height="15.84" fill="#f2a07f"/><rect x="137.1" y="2330.0" width="33.32" height="15.84" fill="#c1dbea"/><rect x="170.0" y="2330.0" width="33.32" height="15.84" fill="#1f5e9e"/><rect x="71.2" y="2345.5" width="33.32" height="15.84" fill="#f9c6ad"/><rect x="104.1" y="2345.5" width="33.32" height="15.84" fill="#f5efed"/><rect x="137.1" y="2345.5" width="33.32" height="15.84" fill="#e3ecf3"/><rect x="170.0" y="2345.5" width="33.32" height="15.84" fill="#5c9fcc"/><rect x="71.2" y="2360.9" width="33.32" height="15.84" fill="#f9e6dd"/><rect x="104.1" y="2360.9" width="33.32" height="15.84" fill="#fbd4bf"/><rect x="137.1" y="2360.9" width="33.32" height="15.84" fill="#fbe0d3"/><rect x="170.0" y="2360.9" width="33.32" height="15.84" fill="#2868ad"/><rect x="71.2" y="2376.4" width="33.32" height="15.84" fill="#d55e4f"/><rect x="104.1" y="2376.4" width="33.32" height="15.84" fill="#f9f1ee"/><rect x="137.1" y="2376.4" width="33.32" height="15.84" fill="#7ab2d6"/><rect x="170.0" y="2376.4" width="33.32" height="15.84" fill="#7ab2d6"/>
<text x="209.3" y="1789.1" font-size="21.0">Tnc</text>
<text x="209.3" y="1804.6" font-size="21.0">Rspo1</text>
<text x="209.3" y="1820.0" font-size="21.0">Sema3a</text>
<text x="209.3" y="1835.4" font-size="21.0">Bmp4</text>
<text x="209.3" y="1850.9" font-size="21.0">Dkk3</text>
<text x="209.3" y="1866.3" font-size="21.0">Wnt5b</text>
<text x="209.3" y="1881.8" font-size="21.0">Wnt11</text>
<text x="209.3" y="1897.2" font-size="21.0">Sema3f</text>
<text x="209.3" y="1912.6" font-size="21.0">Fst</text>
<text x="209.3" y="1928.1" font-size="21.0">Wnt6</text>
<text x="209.3" y="1943.5" font-size="21.0">Nrg1</text>
<text x="209.3" y="1959.0" font-size="21.0">Ptgs2</text>
<text x="209.3" y="1974.4" font-size="21.0">Bmp1</text>
<text x="209.3" y="1989.8" font-size="21.0">Bmp6</text>
<text x="209.3" y="2005.3" font-size="21.0">Chrd</text>
<text x="209.3" y="2020.7" font-size="21.0">Bmp2</text>
<text x="209.3" y="2036.2" font-size="21.0">Wif1</text>
<text x="209.3" y="2051.6" font-size="21.0">Bmp5</text>
<text x="209.3" y="2067.0" font-size="21.0">Wnt4</text>
<text x="209.3" y="2082.5" font-size="21.0">Dkk2</text>
<text x="209.3" y="2097.9" font-size="21.0">Bmp3</text>
<text x="209.3" y="2113.4" font-size="21.0">Wnt5a</text>
<text x="209.3" y="2128.8" font-size="21.0">Bmp7</text>
<text x="209.3" y="2144.2" font-size="21.0">Nbl1</text>
<text x="209.3" y="2159.7" font-size="21.0">Sema3d</text>
<text x="209.3" y="2175.1" font-size="21.0">Sema3c</text>
<text x="209.3" y="2190.6" font-size="21.0">Sfrp4</text>
<text x="209.3" y="2206.0" font-size="21.0">Wnt2</text>
<text x="209.3" y="2221.4" font-size="21.0">Ctgf</text>
<text x="209.3" y="2236.9" font-size="21.0">Grem1</text>
<text x="209.3" y="2252.3" font-size="21.0">Rspo3</text>
<text x="209.3" y="2267.8" font-size="21.0">Shisa3</text>
<text x="209.3" y="2283.2" font-size="21.0">Grem2</text>
<text x="209.3" y="2298.6" font-size="21.0">Sfrp1</text>
<text x="209.3" y="2314.1" font-size="21.0">Frzb</text>
<text x="209.3" y="2329.5" font-size="21.0">Wnt2b</text>
<text x="209.3" y="2345.0" font-size="21.0">Sema3b</text>
<text x="209.3" y="2360.4" font-size="21.0">Wnt9a</text>
<text x="209.3" y="2375.8" font-size="21.0">Bmp2k</text>
<text x="209.3" y="2391.3" font-size="21.0">Rspo2</text>
<text x="329.0" y="1738.1" font-size="26.0">sc_cluster</text>
<rect x="328.4" y="1756.2" width="22.0" height="19.6" fill="#41b8ea"/>
<text x="356.3" y="1771.9" font-size="26.0">Fgfr2<tspan dy="-9.4" font-size="16.1">+</tspan><tspan dy="9.4"> FB</tspan></text>
<rect x="328.4" y="1782.8" width="22.0" height="19.6" fill="#7f489b"/>
<text x="356.3" y="1800.9" font-size="26.0">PDGFRα<tspan dy="-9.4" font-size="16.1">hi</tspan><tspan dy="9.4"> FB</tspan></text>
<text x="330.1" y="1836.8" font-size="26.0">tissue</text>
<rect x="330.0" y="1848.2" width="19.0" height="18.1" fill="#1bbcc1"/>
<text x="356.3" y="1863.9" font-size="26.0">Colon</text>
<rect x="330.0" y="1869.5" width="19.0" height="18.3" fill="#f1756d"/>
<text x="356.3" y="1886.8" font-size="26.0">Small intestine</text>
<text x="318.1" y="1952.8" font-size="22.4" font-style="italic">PDGFRα<tspan dy="-8.1" font-size="13.9">hi</tspan><tspan dy="8.1"> FB (DEG)</tspan></text>
<text x="305.0" y="1984.4" font-size="22.4" font-style="italic">Bmp2</text>
<text x="375.9" y="1984.4" font-size="22.4" font-style="italic">Nrg1</text>
<text x="305.0" y="2007.7" font-size="22.4" font-style="italic">Ctgf</text>
<text x="375.9" y="2007.7" font-size="22.4" font-style="italic">Ptgs2</text>
<text x="305.0" y="2030.1" font-size="22.4" font-style="italic">Frzb</text>
<text x="375.9" y="2030.1" font-size="22.4" font-style="italic">Rspo1</text>
<text x="305.0" y="2052.4" font-size="22.4" font-style="italic">Fst</text>
<text x="375.9" y="2052.4" font-size="22.4" font-style="italic">Sema3a</text>
<text x="305.0" y="2075.2" font-size="22.4" font-style="italic">Grem1</text>
<text x="375.9" y="2075.2" font-size="22.4" font-style="italic">Sfrp1</text>
<text x="305.0" y="2099.2" font-size="22.4" font-style="italic">Grem2</text>
<text x="375.9" y="2099.2" font-size="22.4" font-style="italic">Wnt2b</text>
<line x1="469.1" y1="1970.5" x2="469.1" y2="2102.0" stroke="#1bbcc1" stroke-width="4.0" stroke-linecap="round"/>
<text x="477.2" y="2043.2" font-size="22.1">Up in colon</text>
<text x="375.9" y="2139.3" font-size="22.4" font-style="italic">Chrd</text>
<text x="375.9" y="2162.4" font-size="22.4" font-style="italic">Sema3b</text>
<line x1="469.1" y1="2120.0" x2="469.1" y2="2163.4" stroke="#f1756d" stroke-width="4.0" stroke-linecap="round"/>
<text x="477.2" y="2137.0" font-size="22.1">Up in</text>
<text x="477.2" y="2163.2" font-size="22.1">small intestine</text>
<text x="312.3" y="2202.7" font-size="22.4" font-style="italic">Fgfr2<tspan dy="-8.1" font-size="13.9">+</tspan><tspan dy="8.1"> FB (DEG)</tspan></text>
<text x="307.9" y="2231.4" font-size="22.4" font-style="italic">Bmp6</text>
<text x="375.9" y="2231.4" font-size="22.4" font-style="italic">Rspo1</text>
<text x="307.9" y="2254.3" font-size="22.4" font-style="italic">Chrd</text>
<text x="375.9" y="2254.3" font-size="22.4" font-style="italic">Sema3a</text>
<text x="307.9" y="2276.8" font-size="22.4" font-style="italic">Ctgf</text>
<text x="375.9" y="2276.8" font-size="22.4" font-style="italic">Sfrp4</text>
<text x="307.9" y="2299.7" font-size="22.4" font-style="italic">Grem1</text>
<text x="375.9" y="2299.7" font-size="22.4" font-style="italic">Wnt2</text>
<line x1="469.1" y1="2218.2" x2="469.1" y2="2303.5" stroke="#1bbcc1" stroke-width="4.0" stroke-linecap="round"/>
<text x="477.2" y="2267.8" font-size="22.1">Up in colon</text>
<text x="49.0" y="2420.8" font-size="22.2">Z−score</text>
<rect x="149.8" y="2403.2" width="89.0" height="18.9" fill="url(#gz)"/><rect x="151.6" y="2403.2" width="1.8" height="4.2" fill="#fff"/><rect x="151.6" y="2417.9" width="1.8" height="4.2" fill="#fff"/><rect x="172.5" y="2403.2" width="1.8" height="4.2" fill="#fff"/><rect x="172.5" y="2417.9" width="1.8" height="4.2" fill="#fff"/><rect x="193.4" y="2403.2" width="1.8" height="4.2" fill="#fff"/><rect x="193.4" y="2417.9" width="1.8" height="4.2" fill="#fff"/><rect x="214.3" y="2403.2" width="1.8" height="4.2" fill="#fff"/><rect x="214.3" y="2417.9" width="1.8" height="4.2" fill="#fff"/><rect x="235.2" y="2403.2" width="1.8" height="4.2" fill="#fff"/><rect x="235.2" y="2417.9" width="1.8" height="4.2" fill="#fff"/><text x="154.4" y="2438.1" font-size="20.0" text-anchor="middle">2</text><text x="176.2" y="2438.1" font-size="20.0" text-anchor="middle">1</text><text x="196.1" y="2438.1" font-size="20.0" text-anchor="middle">0</text><text x="217.5" y="2438.1" font-size="20.0" text-anchor="middle">−1</text><text x="238.5" y="2438.1" font-size="20.0" text-anchor="middle">−2</text></g>
<g id="panel_hij"><text x="570.0" y="1693.3" font-size="25.0" font-weight="bold">h</text>
<text x="590.1" y="1731.1" font-size="26.0">sc_cluster</text>
<rect x="586.1" y="1743.1" width="22.4" height="19.5" fill="#41b8ea"/>
<text x="614.6" y="1762.6" font-size="25.5">Fgfr2<tspan dy="-9.2" font-size="15.8">+</tspan><tspan dy="9.2"> FB</tspan></text>
<rect x="586.1" y="1770.0" width="22.4" height="19.7" fill="#7f489b"/>
<text x="614.6" y="1790.3" font-size="25.5">PDGFRα<tspan dy="-9.2" font-size="15.8">hi</tspan><tspan dy="9.2"> FB</tspan></text>
<text x="803.7" y="1730.6" font-size="26.0">tissue</text>
<rect x="803.2" y="1747.9" width="19.1" height="18.7" fill="#1bbcc1"/>
<text x="829.8" y="1763.4" font-size="25.5">Colon</text>
<rect x="803.2" y="1769.8" width="19.1" height="18.6" fill="#f1756d"/>
<text x="829.8" y="1786.5" font-size="25.5">Small intestine</text>
<text x="1079.0" y="1713.0" font-size="22.2" text-anchor="middle">Z−score</text>
<rect x="1034.1" y="1726.9" width="89.1" height="19.0" fill="url(#gz)"/><rect x="1035.9" y="1726.9" width="1.8" height="4.2" fill="#fff"/><rect x="1035.9" y="1741.7" width="1.8" height="4.2" fill="#fff"/><rect x="1056.8" y="1726.9" width="1.8" height="4.2" fill="#fff"/><rect x="1056.8" y="1741.7" width="1.8" height="4.2" fill="#fff"/><rect x="1077.8" y="1726.9" width="1.8" height="4.2" fill="#fff"/><rect x="1077.8" y="1741.7" width="1.8" height="4.2" fill="#fff"/><rect x="1098.7" y="1726.9" width="1.8" height="4.2" fill="#fff"/><rect x="1098.7" y="1741.7" width="1.8" height="4.2" fill="#fff"/><rect x="1119.6" y="1726.9" width="1.8" height="4.2" fill="#fff"/><rect x="1119.6" y="1741.7" width="1.8" height="4.2" fill="#fff"/><text x="1035.5" y="1765.4" font-size="20.0" text-anchor="middle">2</text><text x="1056.3" y="1765.4" font-size="20.0" text-anchor="middle">1</text><text x="1075.9" y="1765.4" font-size="20.0" text-anchor="middle">0</text><text x="1095.5" y="1765.4" font-size="20.0" text-anchor="middle">−1</text><text x="1118.0" y="1765.4" font-size="20.0" text-anchor="middle">−2</text>
<rect x="641.5" y="1804.1" width="94.7" height="27.2" fill="#41b8ea"/><rect x="736.2" y="1804.1" width="94.7" height="27.2" fill="#7f489b"/><rect x="641.5" y="1833.4" width="47.5" height="27.2" fill="#f1756d"/><rect x="688.9" y="1833.4" width="47.5" height="27.2" fill="#1bbcc1"/><rect x="736.2" y="1833.4" width="47.5" height="27.2" fill="#f1756d"/><rect x="783.5" y="1833.4" width="47.5" height="27.2" fill="#1bbcc1"/>
<rect x="641.5" y="1866.4" width="47.75" height="33.20" fill="#d05a49"/><rect x="688.9" y="1866.4" width="47.75" height="33.20" fill="#1b5390"/><rect x="736.2" y="1866.4" width="47.75" height="33.20" fill="#f7b99b"/><rect x="783.5" y="1866.4" width="47.75" height="33.20" fill="#c4dbea"/><rect x="641.5" y="1899.2" width="47.75" height="33.20" fill="#e0755a"/><rect x="688.9" y="1899.2" width="47.75" height="33.20" fill="#f4f6f6"/><rect x="736.2" y="1899.2" width="47.75" height="33.20" fill="#1c325e"/><rect x="783.5" y="1899.2" width="47.75" height="33.20" fill="#f9c1a6"/><rect x="641.5" y="1932.0" width="47.75" height="33.20" fill="#77aed3"/><rect x="688.9" y="1932.0" width="47.75" height="33.20" fill="#94c3de"/><rect x="736.2" y="1932.0" width="47.75" height="33.20" fill="#b6d5e8"/><rect x="783.5" y="1932.0" width="47.75" height="33.20" fill="#67091f"/><rect x="641.5" y="1964.8" width="47.75" height="33.20" fill="#9e1b2a"/><rect x="688.9" y="1964.8" width="47.75" height="33.20" fill="#f8ede8"/><rect x="736.2" y="1964.8" width="47.75" height="33.20" fill="#174f8c"/><rect x="783.5" y="1964.8" width="47.75" height="33.20" fill="#d0e3ef"/><rect x="641.5" y="1997.6" width="47.75" height="33.20" fill="#e1ebf2"/><rect x="688.9" y="1997.6" width="47.75" height="33.20" fill="#f9d0b9"/><rect x="736.2" y="1997.6" width="47.75" height="33.20" fill="#f1a07d"/><rect x="783.5" y="1997.6" width="47.75" height="33.20" fill="#3475b4"/><rect x="641.5" y="2030.4" width="47.75" height="33.20" fill="#a51c2c"/><rect x="688.9" y="2030.4" width="47.75" height="33.20" fill="#9ecae1"/><rect x="736.2" y="2030.4" width="47.75" height="33.20" fill="#70aad2"/><rect x="783.5" y="2030.4" width="47.75" height="33.20" fill="#dde9f1"/><rect x="641.5" y="2063.2" width="47.75" height="33.20" fill="#7bb2d6"/><rect x="688.9" y="2063.2" width="47.75" height="33.20" fill="#6aa7cf"/><rect x="736.2" y="2063.2" width="47.75" height="33.20" fill="#7c1226"/><rect x="783.5" y="2063.2" width="47.75" height="33.20" fill="#dce8f0"/><rect x="641.5" y="2096.0" width="47.75" height="33.20" fill="#1e3c6f"/><rect x="688.9" y="2096.0" width="47.75" height="33.20" fill="#f0a683"/><rect x="736.2" y="2096.0" width="47.75" height="33.20" fill="#f9eeea"/><rect x="783.5" y="2096.0" width="47.75" height="33.20" fill="#f6b08f"/><rect x="641.5" y="2128.8" width="47.75" height="33.20" fill="#c4443e"/><rect x="688.9" y="2128.8" width="47.75" height="33.20" fill="#a3cbe2"/><rect x="736.2" y="2128.8" width="47.75" height="33.20" fill="#f7baa0"/><rect x="783.5" y="2128.8" width="47.75" height="33.20" fill="#2469ad"/><rect x="641.5" y="2161.6" width="47.75" height="33.20" fill="#a41b2c"/><rect x="688.9" y="2161.6" width="47.75" height="33.20" fill="#66a4cf"/><rect x="736.2" y="2161.6" width="47.75" height="33.20" fill="#4291c5"/><rect x="783.5" y="2161.6" width="47.75" height="33.20" fill="#fcd9c6"/><rect x="641.5" y="2194.4" width="47.75" height="33.20" fill="#fbe0d2"/><rect x="688.9" y="2194.4" width="47.75" height="33.20" fill="#2b6bae"/><rect x="736.2" y="2194.4" width="47.75" height="33.20" fill="#ad1e2e"/><rect x="783.5" y="2194.4" width="47.75" height="33.20" fill="#a3cae1"/>
<text x="837.0" y="1890.4" font-size="22.0">Csf3r</text>
<text x="837.0" y="1923.2" font-size="22.0">Il1r1</text>
<text x="837.0" y="1956.0" font-size="22.0">Il1rl1</text>
<text x="837.0" y="1988.8" font-size="22.0">Il1rl2</text>
<text x="837.0" y="2021.6" font-size="22.0">Il27ra</text>
<text x="837.0" y="2054.4" font-size="22.0">Il2rg</text>
<text x="837.0" y="2087.2" font-size="22.0">Il6ra</text>
<text x="837.0" y="2120.0" font-size="22.0">Ltbr</text>
<text x="837.0" y="2152.8" font-size="22.0">Osmr</text>
<text x="837.0" y="2185.6" font-size="22.0">Tnfrsf19</text>
<text x="837.0" y="2218.4" font-size="22.0">Tnfrsf21</text>
<rect x="967.8" y="1801.0" width="94.5" height="27.2" fill="#41b8ea"/><rect x="1062.3" y="1801.0" width="94.5" height="27.2" fill="#7f489b"/><rect x="967.8" y="1830.2" width="47.5" height="27.2" fill="#f1756d"/><rect x="1015.0" y="1830.2" width="47.5" height="27.2" fill="#1bbcc1"/><rect x="1062.3" y="1830.2" width="47.5" height="27.2" fill="#f1756d"/><rect x="1109.5" y="1830.2" width="47.5" height="27.2" fill="#1bbcc1"/>
<rect x="967.8" y="1863.2" width="47.65" height="40.40" fill="#67071f"/><rect x="1015.0" y="1863.2" width="47.65" height="40.40" fill="#d0e3ef"/><rect x="1062.3" y="1863.2" width="47.65" height="40.40" fill="#9dc8e0"/><rect x="1109.5" y="1863.2" width="47.65" height="40.40" fill="#6aa7cf"/><rect x="967.8" y="1903.2" width="47.65" height="40.40" fill="#d96a55"/><rect x="1015.0" y="1903.2" width="47.65" height="40.40" fill="#ec9173"/><rect x="1062.3" y="1903.2" width="47.65" height="40.40" fill="#d5e6f0"/><rect x="1109.5" y="1903.2" width="47.65" height="40.40" fill="#1b4479"/><rect x="967.8" y="1943.2" width="47.65" height="40.40" fill="#f9ede9"/><rect x="1015.0" y="1943.2" width="47.65" height="40.40" fill="#174c88"/><rect x="1062.3" y="1943.2" width="47.65" height="40.40" fill="#d96a55"/><rect x="1109.5" y="1943.2" width="47.65" height="40.40" fill="#fcdcc9"/><rect x="967.8" y="1983.2" width="47.65" height="40.40" fill="#92c1dc"/><rect x="1015.0" y="1983.2" width="47.65" height="40.40" fill="#6d0c22"/><rect x="1062.3" y="1983.2" width="47.65" height="40.40" fill="#a8cfe2"/><rect x="1109.5" y="1983.2" width="47.65" height="40.40" fill="#a8cfe2"/><rect x="967.8" y="2023.2" width="47.65" height="40.40" fill="#2c6fb0"/><rect x="1015.0" y="2023.2" width="47.65" height="40.40" fill="#e27a62"/><rect x="1062.3" y="2023.2" width="47.65" height="40.40" fill="#fbe4d8"/><rect x="1109.5" y="2023.2" width="47.65" height="40.40" fill="#f4f4f4"/><rect x="967.8" y="2063.2" width="47.65" height="40.40" fill="#ec9476"/><rect x="1015.0" y="2063.2" width="47.65" height="40.40" fill="#eea07f"/><rect x="1062.3" y="2063.2" width="47.65" height="40.40" fill="#1d3560"/><rect x="1109.5" y="2063.2" width="47.65" height="40.40" fill="#f9ede9"/><rect x="967.8" y="2103.2" width="47.65" height="40.40" fill="#d5e6f0"/><rect x="1015.0" y="2103.2" width="47.65" height="40.40" fill="#e88b6e"/><rect x="1062.3" y="2103.2" width="47.65" height="40.40" fill="#e27a62"/><rect x="1109.5" y="2103.2" width="47.65" height="40.40" fill="#174c88"/><rect x="967.8" y="2143.2" width="47.65" height="40.40" fill="#f7b59a"/><rect x="1015.0" y="2143.2" width="47.65" height="40.40" fill="#3479b6"/><rect x="1062.3" y="2143.2" width="47.65" height="40.40" fill="#cc5147"/><rect x="1109.5" y="2143.2" width="47.65" height="40.40" fill="#a3cbe0"/><rect x="967.8" y="2183.2" width="47.65" height="40.40" fill="#88172a"/><rect x="1015.0" y="2183.2" width="47.65" height="40.40" fill="#84b9d8"/><rect x="1062.3" y="2183.2" width="47.65" height="40.40" fill="#4694c6"/><rect x="1109.5" y="2183.2" width="47.65" height="40.40" fill="#f9ede9"/>
<text x="1162.3" y="1890.8" font-size="22.0">Flt3l</text>
<text x="1162.3" y="1930.8" font-size="22.0">Il33</text>
<text x="1162.3" y="1970.8" font-size="22.0">Il34</text>
<text x="1162.3" y="2010.8" font-size="22.0">Il6</text>
<text x="1162.3" y="2050.8" font-size="22.0">Lif</text>
<text x="1162.3" y="2090.8" font-size="22.0">Tgfb2</text>
<text x="1162.3" y="2130.8" font-size="22.0">Tgfb3</text>
<text x="1162.3" y="2170.8" font-size="22.0">Tnfsf10</text>
<text x="1162.3" y="2210.8" font-size="22.0">Tnfsf18</text>
<text x="641.2" y="2262.4" font-size="25.0" font-style="italic">PDGFRα<tspan dy="-9.0" font-size="15.5">hi</tspan><tspan dy="9.0"> FB (DEG)</tspan></text>
<text x="641.2" y="2294.4" font-size="22.2" font-style="italic">Il1rl1</text>
<text x="640.0" y="2316.5" font-size="22.2" font-style="italic">Il1r1</text>
<text x="707.3" y="2293.0" font-size="22.2" font-style="italic">Il1rl2</text>
<text x="705.2" y="2316.5" font-size="22.2" font-style="italic">Tnfrsf19</text>
<line x1="790.7" y1="2279.0" x2="790.7" y2="2319.0" stroke="#1bbcc1" stroke-width="4.0" stroke-linecap="round"/>
<text x="798.4" y="2305.0" font-size="22.3">Up in colon</text>
<text x="703.0" y="2354.9" font-size="22.2" font-style="italic">Il27ra</text>
<text x="703.8" y="2380.4" font-size="22.2" font-style="italic">Tnfrsf21</text>
<line x1="790.7" y1="2342.5" x2="790.7" y2="2385.6" stroke="#f1756d" stroke-width="4.0" stroke-linecap="round"/>
<text x="798.4" y="2355.1" font-size="22.3">Up in</text>
<text x="798.4" y="2382.3" font-size="22.3">small intestine</text>
<text x="634.0" y="2424.1" font-size="25.0" font-style="italic">Fgfr2<tspan dy="-9.0" font-size="15.5">+</tspan><tspan dy="9.0"> FB (DEG)</tspan></text>
<text x="707.8" y="2460.9" font-size="22.2" font-style="italic">Ltbr</text>
<line x1="790.7" y1="2443.7" x2="790.7" y2="2464.2" stroke="#1bbcc1" stroke-width="4.0" stroke-linecap="round"/>
<text x="798.4" y="2458.7" font-size="22.3">Up in colon</text>
<text x="633.2" y="2494.2" font-size="22.2" font-style="italic">Csf3r</text>
<text x="633.2" y="2515.5" font-size="22.2" font-style="italic">Il1rl2</text>
<text x="703.8" y="2494.2" font-size="22.2" font-style="italic">Il2rg</text>
<text x="702.5" y="2515.5" font-size="22.2" font-style="italic">Tnfrsf19</text>
<text x="702.5" y="2535.5" font-size="22.2" font-style="italic">Tnfrsf21</text>
<line x1="790.7" y1="2483.6" x2="790.7" y2="2546.0" stroke="#f1756d" stroke-width="4.0" stroke-linecap="round"/>
<text x="798.4" y="2495.5" font-size="22.3">Up in</text>
<text x="798.4" y="2523.5" font-size="22.3">small intestine</text>
<text x="969.4" y="2263.7" font-size="25.0" font-style="italic">PDGFRα<tspan dy="-9.0" font-size="15.5">hi</tspan><tspan dy="9.0"> FB (DEG)</tspan></text>
<text x="966.1" y="2299.7" font-size="22.2" font-style="italic">Tgfb2</text>
<line x1="1108.4" y1="2282.0" x2="1108.4" y2="2305.3" stroke="#1bbcc1" stroke-width="4.0" stroke-linecap="round"/>
<text x="1117.6" y="2299.7" font-size="22.3">Up in colon</text>
<text x="965.0" y="2338.9" font-size="22.2" font-style="italic">Il33</text>
<text x="1027.2" y="2338.9" font-size="22.2" font-style="italic">Tnfsf10</text>
<text x="961.8" y="2360.3" font-size="22.2" font-style="italic">Tgfb3</text>
<line x1="1108.4" y1="2321.3" x2="1108.4" y2="2364.8" stroke="#f1756d" stroke-width="4.0" stroke-linecap="round"/>
<text x="1117.6" y="2335.0" font-size="22.3">Up in</text>
<text x="1117.6" y="2361.4" font-size="22.3">small intestine</text>
<text x="961.8" y="2404.3" font-size="25.0" font-style="italic">Fgfr2<tspan dy="-9.0" font-size="15.5">+</tspan><tspan dy="9.0"> FB (DEG)</tspan></text>
<text x="968.3" y="2440.3" font-size="22.2" font-style="italic">Il6</text>
<text x="1030.4" y="2440.3" font-size="22.2" font-style="italic">Lif</text>
<line x1="1108.4" y1="2422.6" x2="1108.4" y2="2443.3" stroke="#1bbcc1" stroke-width="4.0" stroke-linecap="round"/>
<text x="1117.6" y="2439.2" font-size="22.3">Up in colon</text>
<text x="968.3" y="2479.5" font-size="22.2" font-style="italic">Flt3l</text>
<text x="1028.9" y="2479.5" font-size="22.2" font-style="italic">Tnfsf10</text>
<text x="968.3" y="2501.3" font-size="22.2" font-style="italic">Il34</text>
<text x="1028.9" y="2501.3" font-size="22.2" font-style="italic">Tnfsf18</text>
<line x1="1108.4" y1="2461.9" x2="1108.4" y2="2505.8" stroke="#f1756d" stroke-width="4.0" stroke-linecap="round"/>
<text x="1117.6" y="2475.1" font-size="22.3">Up in</text>
<text x="1117.6" y="2501.3" font-size="22.3">small intestine</text>
<text x="1282.0" y="1693.3" font-size="25.0" font-weight="bold">i</text>
<text x="1325.9" y="1706.0" font-size="26.0">sc_cluster</text>
<rect x="1325.1" y="1721.0" width="22.4" height="19.3" fill="#41b8ea"/>
<text x="1352.9" y="1737.9" font-size="25.5">Fgfr2<tspan dy="-9.2" font-size="15.8">+</tspan><tspan dy="9.2"> FB</tspan></text>
<rect x="1325.1" y="1747.9" width="22.4" height="20.0" fill="#7f489b"/>
<text x="1352.9" y="1766.3" font-size="25.5">PDGFRα<tspan dy="-9.2" font-size="15.8">hi</tspan><tspan dy="9.2"> FB</tspan></text>
<text x="1327.0" y="1794.9" font-size="26.0">tissue</text>
<rect x="1325.1" y="1803.9" width="19.2" height="17.9" fill="#1bbcc1"/>
<text x="1352.9" y="1819.8" font-size="25.5">Colon</text>
<rect x="1325.1" y="1825.2" width="19.2" height="18.6" fill="#f1756d"/>
<text x="1352.9" y="1842.8" font-size="25.5">Small intestine</text>
<rect x="1325.1" y="1858.2" width="71.1" height="26.6" fill="#41b8ea"/><rect x="1396.2" y="1858.2" width="71.1" height="26.6" fill="#7f489b"/><rect x="1325.1" y="1887.2" width="35.7" height="26.5" fill="#f1756d"/><rect x="1360.6" y="1887.2" width="35.7" height="26.5" fill="#1bbcc1"/><rect x="1396.2" y="1887.2" width="35.7" height="26.5" fill="#f1756d"/><rect x="1431.7" y="1887.2" width="35.7" height="26.5" fill="#1bbcc1"/>
<rect x="1325.1" y="1921.4" width="35.93" height="34.30" fill="#67071f"/><rect x="1360.6" y="1921.4" width="35.93" height="34.30" fill="#9dc8e0"/><rect x="1396.2" y="1921.4" width="35.93" height="34.30" fill="#c4dbea"/><rect x="1431.7" y="1921.4" width="35.93" height="34.30" fill="#9fc9e0"/><rect x="1325.1" y="1955.3" width="35.93" height="34.30" fill="#8d1628"/><rect x="1360.6" y="1955.3" width="35.93" height="34.30" fill="#8ec0dc"/><rect x="1396.2" y="1955.3" width="35.93" height="34.30" fill="#fbe2d5"/><rect x="1431.7" y="1955.3" width="35.93" height="34.30" fill="#5a9bca"/><rect x="1325.1" y="1989.2" width="35.93" height="34.30" fill="#ad1c2c"/><rect x="1360.6" y="1989.2" width="35.93" height="34.30" fill="#f9efed"/><rect x="1396.2" y="1989.2" width="35.93" height="34.30" fill="#2f71b1"/><rect x="1431.7" y="1989.2" width="35.93" height="34.30" fill="#ebf0f3"/><rect x="1325.1" y="2023.1" width="35.93" height="34.30" fill="#dc6b56"/><rect x="1360.6" y="2023.1" width="35.93" height="34.30" fill="#174a85"/><rect x="1396.2" y="2023.1" width="35.93" height="34.30" fill="#f0f2f5"/><rect x="1431.7" y="2023.1" width="35.93" height="34.30" fill="#f0a07d"/><rect x="1325.1" y="2057.0" width="35.93" height="34.30" fill="#c94e44"/><rect x="1360.6" y="2057.0" width="35.93" height="34.30" fill="#a3cbe2"/><rect x="1396.2" y="2057.0" width="35.93" height="34.30" fill="#e5836a"/><rect x="1431.7" y="2057.0" width="35.93" height="34.30" fill="#2a6cad"/><rect x="1325.1" y="2090.9" width="35.93" height="34.30" fill="#e27a62"/><rect x="1360.6" y="2090.9" width="35.93" height="34.30" fill="#fbe0d1"/><rect x="1396.2" y="2090.9" width="35.93" height="34.30" fill="#f1a884"/><rect x="1431.7" y="2090.9" width="35.93" height="34.30" fill="#1d3560"/><rect x="1325.1" y="2124.8" width="35.93" height="34.30" fill="#a31a2b"/><rect x="1360.6" y="2124.8" width="35.93" height="34.30" fill="#93c3de"/><rect x="1396.2" y="2124.8" width="35.93" height="34.30" fill="#acd0e5"/><rect x="1431.7" y="2124.8" width="35.93" height="34.30" fill="#e7eef2"/><rect x="1325.1" y="2158.7" width="35.93" height="34.30" fill="#c0403d"/><rect x="1360.6" y="2158.7" width="35.93" height="34.30" fill="#5d9fcc"/><rect x="1396.2" y="2158.7" width="35.93" height="34.30" fill="#b9d7e9"/><rect x="1431.7" y="2158.7" width="35.93" height="34.30" fill="#fbdfd1"/>
<text x="1471.8" y="1945.8" font-size="22.0">Cxcl5</text>
<text x="1471.8" y="1979.7" font-size="22.0">Cxcl9</text>
<text x="1471.8" y="2013.6" font-size="22.0">Cxcl13</text>
<text x="1471.8" y="2047.5" font-size="22.0">Cxcl14</text>
<text x="1471.8" y="2081.4" font-size="22.0">Cxcl16</text>
<text x="1471.8" y="2115.2" font-size="22.0">Ccl11</text>
<text x="1471.8" y="2149.2" font-size="22.0">Ccl21a</text>
<text x="1471.8" y="2183.1" font-size="22.0">Ccl25</text>
<text x="1320.8" y="2222.9" font-size="22.2">Z−score</text>
<rect x="1413.0" y="2205.9" width="89.0" height="18.7" fill="url(#gz)"/><rect x="1414.8" y="2205.9" width="1.8" height="4.1" fill="#fff"/><rect x="1414.8" y="2220.5" width="1.8" height="4.1" fill="#fff"/><rect x="1435.7" y="2205.9" width="1.8" height="4.1" fill="#fff"/><rect x="1435.7" y="2220.5" width="1.8" height="4.1" fill="#fff"/><rect x="1456.6" y="2205.9" width="1.8" height="4.1" fill="#fff"/><rect x="1456.6" y="2220.5" width="1.8" height="4.1" fill="#fff"/><rect x="1477.5" y="2205.9" width="1.8" height="4.1" fill="#fff"/><rect x="1477.5" y="2220.5" width="1.8" height="4.1" fill="#fff"/><rect x="1498.4" y="2205.9" width="1.8" height="4.1" fill="#fff"/><rect x="1498.4" y="2220.5" width="1.8" height="4.1" fill="#fff"/><text x="1417.9" y="2245.1" font-size="20.0" text-anchor="middle">2</text><text x="1439.5" y="2245.1" font-size="20.0" text-anchor="middle">1</text><text x="1459.2" y="2245.1" font-size="20.0" text-anchor="middle">0</text><text x="1479.0" y="2245.1" font-size="20.0" text-anchor="middle">−1</text><text x="1500.0" y="2245.1" font-size="20.0" text-anchor="middle">−2</text>
<text x="1309.2" y="2283.9" font-size="25.0" font-style="italic">PDGFRα<tspan dy="-9.0" font-size="15.5">hi</tspan><tspan dy="9.0"> FB (DEG)</tspan></text>
<text x="1308.1" y="2318.2" font-size="22.2" font-style="italic">Cxcl13</text>
<line x1="1383.8" y1="2302.2" x2="1383.8" y2="2323.0" stroke="#1bbcc1" stroke-width="4.0" stroke-linecap="round"/>
<text x="1392.9" y="2318.2" font-size="22.3">Up in colon</text>
<text x="1308.1" y="2357.0" font-size="22.2" font-style="italic">Cxcl9</text>
<text x="1308.1" y="2378.2" font-size="22.2" font-style="italic">Cxcl16</text>
<text x="1308.1" y="2399.8" font-size="22.2" font-style="italic">Ccl11</text>
<line x1="1383.8" y1="2342.0" x2="1383.8" y2="2402.7" stroke="#f1756d" stroke-width="4.0" stroke-linecap="round"/>
<text x="1392.9" y="2365.3" font-size="22.3">Up in</text>
<text x="1392.9" y="2392.4" font-size="22.3">small intestine</text>
<text x="1301.8" y="2434.7" font-size="22.3" font-style="italic">Fgfr2<tspan dy="-8.0" font-size="13.8">+</tspan><tspan dy="8.0"> FB (DEG)</tspan></text>
<text x="1301.8" y="2469.7" font-size="22.2" font-style="italic">Cxcl5</text>
<text x="1301.8" y="2489.4" font-size="22.2" font-style="italic">Cxcl9</text>
<text x="1301.8" y="2510.0" font-size="22.2" font-style="italic">Cxcl14</text>
<text x="1301.8" y="2530.1" font-size="22.2" font-style="italic">Cxcl16</text>
<text x="1370.0" y="2468.6" font-size="22.2" font-style="italic">Ccl11</text>
<text x="1370.0" y="2486.7" font-size="22.2" font-style="italic">Ccl21a</text>
<text x="1370.0" y="2508.9" font-size="22.2" font-style="italic">Ccl25</text>
<line x1="1448.0" y1="2457.5" x2="1448.0" y2="2528.0" stroke="#f1756d" stroke-width="4.0" stroke-linecap="round"/>
<text x="1458.6" y="2483.5" font-size="22.3">Up in</text>
<text x="1458.6" y="2510.0" font-size="22.3">small intestine</text>
<text x="1598.0" y="1693.3" font-size="25.0" font-weight="bold">j</text>
<text x="1648.0" y="1705.6" font-size="26.0">sc_cluster</text>
<rect x="1647.6" y="1720.4" width="22.0" height="19.1" fill="#41b8ea"/>
<text x="1675.5" y="1737.1" font-size="25.5">Fgfr2<tspan dy="-9.2" font-size="15.8">+</tspan><tspan dy="9.2"> FB</tspan></text>
<rect x="1647.6" y="1747.4" width="22.0" height="19.7" fill="#7f489b"/>
<text x="1675.5" y="1765.7" font-size="25.5">PDGFRα<tspan dy="-9.2" font-size="15.8">hi</tspan><tspan dy="9.2"> FB</tspan></text>
<text x="1649.0" y="1797.6" font-size="26.0">tissue</text>
<rect x="1649.0" y="1808.6" width="18.7" height="18.2" fill="#1bbcc1"/>
<text x="1675.5" y="1824.8" font-size="25.5">Colon</text>
<rect x="1649.0" y="1830.3" width="18.7" height="18.3" fill="#f1756d"/>
<text x="1675.5" y="1847.8" font-size="25.5">Small intestine</text>
<rect x="1648.0" y="1860.8" width="70.9" height="27.0" fill="#41b8ea"/><rect x="1718.9" y="1860.8" width="70.9" height="27.0" fill="#7f489b"/><rect x="1648.0" y="1889.8" width="35.6" height="26.6" fill="#f1756d"/><rect x="1683.5" y="1889.8" width="35.6" height="26.6" fill="#1bbcc1"/><rect x="1718.9" y="1889.8" width="35.6" height="26.6" fill="#f1756d"/><rect x="1754.3" y="1889.8" width="35.6" height="26.6" fill="#1bbcc1"/>
<rect x="1648.0" y="1920.7" width="35.85" height="68.40" fill="#7fb5d5"/><rect x="1683.5" y="1920.7" width="35.85" height="68.40" fill="#1e3a6c"/><rect x="1718.9" y="1920.7" width="35.85" height="68.40" fill="#7d1124"/><rect x="1754.3" y="1920.7" width="35.85" height="68.40" fill="#f4aa86"/><rect x="1648.0" y="1988.7" width="35.85" height="68.40" fill="#c03c3a"/><rect x="1683.5" y="1988.7" width="35.85" height="68.40" fill="#3477b5"/><rect x="1718.9" y="1988.7" width="35.85" height="68.40" fill="#d96a55"/><rect x="1754.3" y="1988.7" width="35.85" height="68.40" fill="#3782bd"/><rect x="1648.0" y="2056.7" width="35.85" height="68.40" fill="#620722"/><rect x="1683.5" y="2056.7" width="35.85" height="68.40" fill="#9bc8e0"/><rect x="1718.9" y="2056.7" width="35.85" height="68.40" fill="#fccab2"/><rect x="1754.3" y="2056.7" width="35.85" height="68.40" fill="#1c325e"/><rect x="1648.0" y="2124.7" width="35.85" height="68.40" fill="#67071f"/><rect x="1683.5" y="2124.7" width="35.85" height="68.40" fill="#1d3560"/><rect x="1718.9" y="2124.7" width="35.85" height="68.40" fill="#fbd5bf"/><rect x="1754.3" y="2124.7" width="35.85" height="68.40" fill="#a8cfe3"/>
<text x="1794.7" y="1962.3" font-size="22.0">Aldh1a1</text>
<text x="1794.7" y="2030.3" font-size="22.0">Aldh1a2</text>
<text x="1794.7" y="2098.3" font-size="22.0">Aldh1a3</text>
<text x="1794.7" y="2166.3" font-size="22.0">Rdh10</text>
<text x="1646.9" y="2224.7" font-size="22.2">Z−score</text>
<rect x="1738.9" y="2207.5" width="88.9" height="18.2" fill="url(#gz)"/><rect x="1740.7" y="2207.5" width="1.8" height="4.0" fill="#fff"/><rect x="1740.7" y="2221.7" width="1.8" height="4.0" fill="#fff"/><rect x="1761.6" y="2207.5" width="1.8" height="4.0" fill="#fff"/><rect x="1761.6" y="2221.7" width="1.8" height="4.0" fill="#fff"/><rect x="1782.4" y="2207.5" width="1.8" height="4.0" fill="#fff"/><rect x="1782.4" y="2221.7" width="1.8" height="4.0" fill="#fff"/><rect x="1803.3" y="2207.5" width="1.8" height="4.0" fill="#fff"/><rect x="1803.3" y="2221.7" width="1.8" height="4.0" fill="#fff"/><rect x="1824.2" y="2207.5" width="1.8" height="4.0" fill="#fff"/><rect x="1824.2" y="2221.7" width="1.8" height="4.0" fill="#fff"/><text x="1743.9" y="2246.0" font-size="20.0" text-anchor="middle">2</text><text x="1765.4" y="2246.0" font-size="20.0" text-anchor="middle">1</text><text x="1784.8" y="2246.0" font-size="20.0" text-anchor="middle">0</text><text x="1806.5" y="2246.0" font-size="20.0" text-anchor="middle">−1</text><text x="1827.5" y="2246.0" font-size="20.0" text-anchor="middle">−2</text>
<text x="1635.4" y="2283.0" font-size="25.0" font-style="italic">PDGFRα<tspan dy="-9.0" font-size="15.5">hi</tspan><tspan dy="9.0"> FB (DEG)</tspan></text>
<text x="1633.4" y="2333.1" font-size="22.2" font-style="italic">Aldh1a3</text>
<line x1="1727.4" y1="2307.8" x2="1727.4" y2="2341.4" stroke="#f1756d" stroke-width="4.0" stroke-linecap="round"/>
<text x="1739.9" y="2319.7" font-size="22.3">Up in</text>
<text x="1739.9" y="2346.4" font-size="22.3">small intestine</text>
<text x="1628.5" y="2386.0" font-size="25.0" font-style="italic">Fgfr2<tspan dy="-9.0" font-size="15.5">+</tspan><tspan dy="9.0"> FB (DEG)</tspan></text>
<text x="1636.4" y="2421.6" font-size="22.2" font-style="italic">Aldh1a2</text>
<text x="1636.4" y="2444.4" font-size="22.2" font-style="italic">Aldh1a3</text>
<text x="1637.4" y="2467.1" font-size="22.2" font-style="italic">Rdh10</text>
<line x1="1729.4" y1="2412.3" x2="1729.4" y2="2465.7" stroke="#f1756d" stroke-width="4.0" stroke-linecap="round"/>
<text x="1739.9" y="2430.9" font-size="22.3">Up in</text>
<text x="1739.9" y="2458.2" font-size="22.3">small intestine</text></g></svg></body></html>
